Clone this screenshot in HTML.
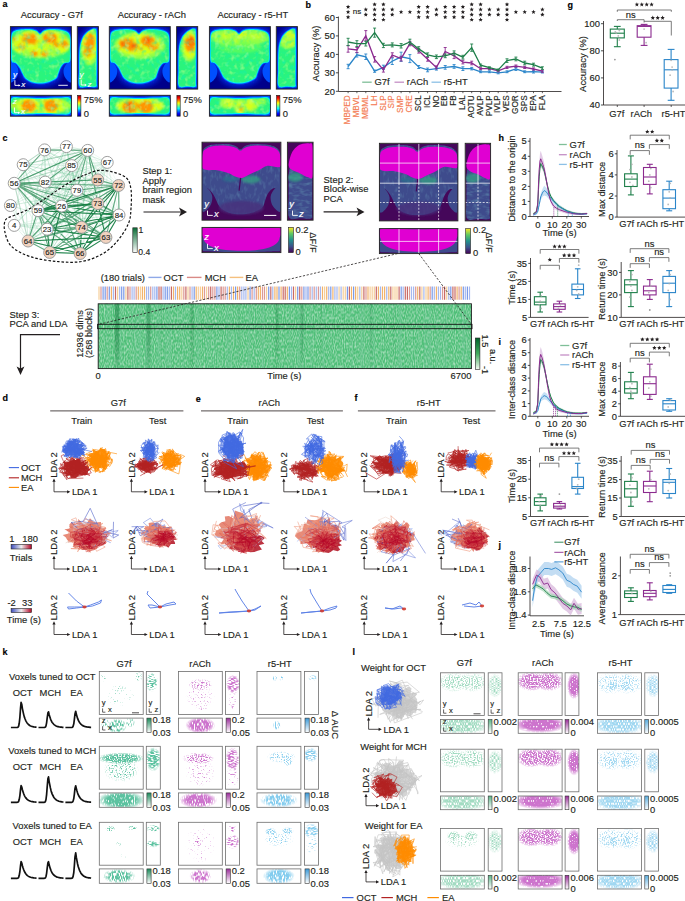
<!DOCTYPE html>
<html><head><meta charset="utf-8"><style>
html,body{margin:0;padding:0;background:#fff;}
svg{display:block;}
text{stroke:#231f20;stroke-width:0.15px;}
</style></head><body>
<svg width="685" height="901" viewBox="0 0 685 901" font-family="'Liberation Sans', sans-serif" font-size="9.4" fill="#231f20">
<defs><path id="st" d="M0.00 -2.15 L0.62 -0.70 L2.19 -0.56 L1.00 0.47 L1.35 2.01 L0.00 1.20 L-1.35 2.01 L-1.00 0.47 L-2.19 -0.56 L-0.62 -0.70Z" fill="#231f20"/>
<clipPath id="cp1"><rect x="10.4" y="26.6" width="61" height="62.5"/></clipPath>
<filter id="bl0_7" x="-50%" y="-50%" width="200%" height="200%"><feGaussianBlur stdDeviation="0.7"/></filter>
<filter id="bl1_3" x="-50%" y="-50%" width="200%" height="200%"><feGaussianBlur stdDeviation="1.3"/></filter>
<filter id="bl2_5" x="-50%" y="-50%" width="200%" height="200%"><feGaussianBlur stdDeviation="2.5"/></filter>
<clipPath id="cp1_in"><path d="M12.2 36 C12.7 33.1 13.3 32.9 14.7 31.9 C16 31 17.7 30.7 20.2 30.4 C22.6 30 26.7 29.8 29.3 30 C32 30.2 34.2 30.8 36 31.6 C37.8 32.4 38.7 34.7 40 34.7 C41.4 34.7 42.3 32.4 44 31.6 C45.6 30.8 47.4 30.2 50 30 C52.7 29.8 57.1 29.9 59.8 30.4 C62.6 30.8 64.9 31.4 66.5 32.5 C68.1 33.7 69 34.5 69.6 37.2 C70.1 40 69.9 45.2 69.9 49.1 C69.8 53 70.3 58.4 69.3 60.7 C68.2 63 65 61.7 63.5 62.9 C61.9 64 60.8 65.8 59.8 67.5 C58.8 69.3 58.4 71.8 57.7 73.5 C57 75.2 57.1 76.5 55.5 77.8 C54 79.2 50.8 80.5 48.2 81.3 C45.6 82.1 42.8 82.5 40 82.5 C37.3 82.5 34.1 82.1 31.8 81.3 C29.4 80.5 27.4 79.2 26 77.8 C24.5 76.5 24.1 75.2 23.2 73.5 C22.3 71.8 21.6 69.3 20.5 67.5 C19.3 65.8 17.8 64 16.5 62.9 C15.2 61.7 13.3 63 12.5 60.7 C11.8 58.4 12 53.2 11.9 49.1 C11.9 45 11.8 38.8 12.2 36Z"/></clipPath>
<filter id="nzA" x="0" y="0" width="100%" height="100%"><feTurbulence type="fractalNoise" baseFrequency="0.2" numOctaves="2" seed="3"/><feColorMatrix values="0 0 0 0 0.000 0 0 0 0 0.847 0 0 0 0 0.627 1.2 0 0 0 -0.6"/></filter>
<filter id="nzB" x="0" y="0" width="100%" height="100%"><feTurbulence type="fractalNoise" baseFrequency="0.2" numOctaves="2" seed="9"/><feColorMatrix values="0 0 0 0 0.565 0 0 0 0 1.000 0 0 0 0 0.251 1.6 0 0 0 -0.8"/></filter>
<clipPath id="cp2"><rect x="77.3" y="26.6" width="21.1" height="62.5"/></clipPath>
<clipPath id="cp2_in"><path d="M80.3 50.4 C80.7 45.1 81.6 42 82.8 39.1 C83.9 36.2 85.7 34.4 87.2 32.9 C88.8 31.3 90.8 30.3 92.1 29.7 C93.3 29.2 94.2 29.1 94.8 29.4 C95.4 29.7 95.7 28.9 95.9 31.6 C96.1 34.3 96 39.9 96.1 45.4 C96.1 50.8 96.1 58.1 96.1 64.1 C96 70.1 96 78 95.9 81.6 C95.7 85.2 96.6 85.2 95.2 86 C93.9 86.7 90.4 86.1 87.8 86 C85.3 85.9 81.4 88 80 85.3 C78.7 82.7 79.8 76.2 79.8 70.3 C79.9 64.5 79.8 55.6 80.3 50.4Z"/></clipPath>
<clipPath id="cp3"><rect x="10.4" y="95.3" width="61" height="20.9"/></clipPath>
<clipPath id="cp3_in"><path d="M12.2 99.5 C14 97.2 17.8 98.5 22.6 98.4 C27.4 98.4 34.8 99.1 40.9 99.1 C47 99.1 54.4 98.4 59.2 98.4 C64 98.5 67.8 97.2 69.6 99.5 C71.3 101.7 71.3 109.7 69.6 112 C67.8 114.4 64 113.3 59.2 113.5 C54.4 113.7 47 113.1 40.9 113.1 C34.8 113.1 27.4 113.7 22.6 113.5 C17.8 113.3 14 114.4 12.2 112 C10.5 109.7 10.5 101.7 12.2 99.5Z"/></clipPath>
<linearGradient id="jetv" x1="0" y1="1" x2="0" y2="0"><stop offset="0" stop-color="#00008f"/><stop offset="0.12" stop-color="#0000ff"/><stop offset="0.37" stop-color="#00ffff"/><stop offset="0.5" stop-color="#7fff7f"/><stop offset="0.63" stop-color="#ffff00"/><stop offset="0.87" stop-color="#ff0000"/><stop offset="1" stop-color="#8f0000"/></linearGradient>
<clipPath id="cp4"><rect x="109.3" y="26.6" width="61" height="62.5"/></clipPath>
<clipPath id="cp4_in"><path d="M111.1 36 C111.6 33.1 112.2 32.9 113.6 31.9 C114.9 31 116.6 30.7 119.1 30.4 C121.5 30 125.6 29.8 128.2 30 C130.9 30.2 133.1 30.8 134.9 31.6 C136.7 32.4 137.6 34.7 138.9 34.7 C140.3 34.7 141.2 32.4 142.8 31.6 C144.5 30.8 146.3 30.2 148.9 30 C151.6 29.8 156 29.9 158.7 30.4 C161.5 30.8 163.8 31.4 165.4 32.5 C167 33.7 167.9 34.5 168.5 37.2 C169 40 168.8 45.2 168.8 49.1 C168.7 53 169.2 58.4 168.2 60.7 C167.1 63 163.9 61.7 162.4 62.9 C160.8 64 159.7 65.8 158.7 67.5 C157.7 69.3 157.3 71.8 156.6 73.5 C155.9 75.2 156 76.5 154.4 77.8 C152.9 79.2 149.7 80.5 147.1 81.3 C144.5 82.1 141.7 82.5 138.9 82.5 C136.2 82.5 133 82.1 130.7 81.3 C128.3 80.5 126.3 79.2 124.9 77.8 C123.4 76.5 123 75.2 122.1 73.5 C121.2 71.8 120.5 69.3 119.4 67.5 C118.2 65.8 116.7 64 115.4 62.9 C114.1 61.7 112.2 63 111.4 60.7 C110.7 58.4 110.9 53.2 110.8 49.1 C110.8 45 110.7 38.8 111.1 36Z"/></clipPath>
<clipPath id="cp5"><rect x="176.6" y="26.6" width="21.1" height="62.5"/></clipPath>
<clipPath id="cp5_in"><path d="M179.6 50.4 C180 45.1 180.9 42 182.1 39.1 C183.2 36.2 185 34.4 186.5 32.9 C188.1 31.3 190.1 30.3 191.4 29.7 C192.6 29.2 193.5 29.1 194.1 29.4 C194.7 29.7 195 28.9 195.2 31.6 C195.4 34.3 195.3 39.9 195.4 45.4 C195.4 50.8 195.4 58.1 195.4 64.1 C195.3 70.1 195.3 78 195.2 81.6 C195 85.2 195.9 85.2 194.5 86 C193.2 86.7 189.7 86.1 187.2 86 C184.6 85.9 180.7 88 179.3 85.3 C178 82.7 179.1 76.2 179.1 70.3 C179.2 64.5 179.1 55.6 179.6 50.4Z"/></clipPath>
<clipPath id="cp6"><rect x="109.3" y="95.3" width="61" height="20.9"/></clipPath>
<clipPath id="cp6_in"><path d="M111.1 99.5 C112.9 97.2 116.7 98.5 121.5 98.4 C126.3 98.4 133.7 99.1 139.8 99.1 C145.9 99.1 153.3 98.4 158.1 98.4 C162.9 98.5 166.7 97.2 168.5 99.5 C170.2 101.7 170.2 109.7 168.5 112 C166.7 114.4 162.9 113.3 158.1 113.5 C153.3 113.7 145.9 113.1 139.8 113.1 C133.7 113.1 126.3 113.7 121.5 113.5 C116.7 113.3 112.9 114.4 111.1 112 C109.4 109.7 109.4 101.7 111.1 99.5Z"/></clipPath>
<linearGradient id="jetv" x1="0" y1="1" x2="0" y2="0"><stop offset="0" stop-color="#00008f"/><stop offset="0.12" stop-color="#0000ff"/><stop offset="0.37" stop-color="#00ffff"/><stop offset="0.5" stop-color="#7fff7f"/><stop offset="0.63" stop-color="#ffff00"/><stop offset="0.87" stop-color="#ff0000"/><stop offset="1" stop-color="#8f0000"/></linearGradient>
<clipPath id="cp7"><rect x="209.4" y="26.6" width="61" height="62.5"/></clipPath>
<clipPath id="cp7_in"><path d="M211.2 36 C211.7 33.1 212.3 32.9 213.7 31.9 C215 31 216.7 30.7 219.2 30.4 C221.6 30 225.7 29.8 228.3 30 C231 30.2 233.2 30.8 235 31.6 C236.8 32.4 237.7 34.7 239 34.7 C240.4 34.7 241.3 32.4 243 31.6 C244.6 30.8 246.4 30.2 249.1 30 C251.7 29.8 256.1 29.9 258.8 30.4 C261.6 30.8 263.9 31.4 265.5 32.5 C267.1 33.7 268 34.5 268.6 37.2 C269.1 40 268.9 45.2 268.9 49.1 C268.8 53 269.3 58.4 268.3 60.7 C267.2 63 264 61.7 262.5 62.9 C260.9 64 259.8 65.8 258.8 67.5 C257.8 69.3 257.4 71.8 256.7 73.5 C256 75.2 256.1 76.5 254.5 77.8 C253 79.2 249.8 80.5 247.2 81.3 C244.6 82.1 241.8 82.5 239 82.5 C236.3 82.5 233.1 82.1 230.8 81.3 C228.4 80.5 226.4 79.2 225 77.8 C223.5 76.5 223.1 75.2 222.2 73.5 C221.3 71.8 220.6 69.3 219.5 67.5 C218.3 65.8 216.8 64 215.5 62.9 C214.2 61.7 212.3 63 211.5 60.7 C210.8 58.4 211 53.2 210.9 49.1 C210.9 45 210.8 38.8 211.2 36Z"/></clipPath>
<clipPath id="cp8"><rect x="276.3" y="26.6" width="21.1" height="62.5"/></clipPath>
<clipPath id="cp8_in"><path d="M279.3 50.4 C279.7 45.1 280.6 42 281.8 39.1 C282.9 36.2 284.7 34.4 286.2 32.9 C287.8 31.3 289.8 30.3 291.1 29.7 C292.3 29.2 293.2 29.1 293.8 29.4 C294.4 29.7 294.7 28.9 294.9 31.6 C295.1 34.3 295 39.9 295.1 45.4 C295.1 50.8 295.1 58.1 295.1 64.1 C295 70.1 295 78 294.9 81.6 C294.7 85.2 295.6 85.2 294.2 86 C292.9 86.7 289.4 86.1 286.9 86 C284.3 85.9 280.4 88 279 85.3 C277.7 82.7 278.8 76.2 278.8 70.3 C278.9 64.5 278.8 55.6 279.3 50.4Z"/></clipPath>
<clipPath id="cp9"><rect x="209.4" y="95.3" width="61" height="20.9"/></clipPath>
<clipPath id="cp9_in"><path d="M211.2 99.5 C213 97.2 216.8 98.5 221.6 98.4 C226.4 98.4 233.8 99.1 239.9 99.1 C246 99.1 253.4 98.4 258.2 98.4 C263 98.5 266.8 97.2 268.6 99.5 C270.3 101.7 270.3 109.7 268.6 112 C266.8 114.4 263 113.3 258.2 113.5 C253.4 113.7 246 113.1 239.9 113.1 C233.8 113.1 226.4 113.7 221.6 113.5 C216.8 113.3 213 114.4 211.2 112 C209.5 109.7 209.5 101.7 211.2 99.5Z"/></clipPath>
<linearGradient id="jetv" x1="0" y1="1" x2="0" y2="0"><stop offset="0" stop-color="#00008f"/><stop offset="0.12" stop-color="#0000ff"/><stop offset="0.37" stop-color="#00ffff"/><stop offset="0.5" stop-color="#7fff7f"/><stop offset="0.63" stop-color="#ffff00"/><stop offset="0.87" stop-color="#ff0000"/><stop offset="1" stop-color="#8f0000"/></linearGradient>
<linearGradient id="gbar" x1="0" y1="1" x2="0" y2="0"><stop offset="0" stop-color="#fff"/><stop offset="1" stop-color="#0a6b35"/></linearGradient>
<clipPath id="cp10"><rect x="202" y="142.2" width="78.9" height="78"/></clipPath>
<filter id="bl0_5" x="-50%" y="-50%" width="200%" height="200%"><feGaussianBlur stdDeviation="0.5"/></filter>
<filter id="bl1_2" x="-50%" y="-50%" width="200%" height="200%"><feGaussianBlur stdDeviation="1.2"/></filter>
<clipPath id="cp10_b"><path d="M202.6 152.2 C203.3 148.3 204.5 148 206.3 146.7 C208.2 145.4 210.5 145 213.8 144.5 C217.2 144.1 222.8 143.8 226.5 144 C230.1 144.2 233.3 145 235.6 145.9 C237.9 146.8 238.8 149.5 240.3 149.5 C241.9 149.5 242.8 146.8 245 145.9 C247.2 145 249.9 144.2 253.5 144 C257.1 143.8 262.9 143.9 266.7 144.5 C270.5 145.2 273.9 146.1 276.2 147.7 C278.5 149.2 279.7 150.3 280.5 154.1 C281.3 157.8 280.9 164.9 280.9 170.3 C280.9 175.6 281.9 183.2 280.5 186.3 C279.1 189.3 274.5 187.4 272.4 188.7 C270.2 190 269 192 267.7 194.1 C266.5 196.3 265.8 199.1 264.9 201.4 C263.9 203.7 264.3 205.8 262 207.7 C259.8 209.6 255.2 211.7 251.6 212.8 C248 213.9 244.1 214.3 240.3 214.3 C236.6 214.3 232.3 213.9 229 212.8 C225.7 211.7 222.5 209.6 220.5 207.7 C218.4 205.8 218 203.7 216.8 201.4 C215.5 199.1 214.4 196.3 213 194.1 C211.5 192 210 190 208.2 188.7 C206.5 187.4 203.4 189.3 202.4 186.3 C201.4 183.2 202 176 202 170.3 C202 164.6 201.8 156.1 202.6 152.2Z"/></clipPath>
<filter id="nzV" x="0" y="0" width="100%" height="100%"><feTurbulence type="fractalNoise" baseFrequency="0.3 0.15" numOctaves="2" seed="5"/><feColorMatrix values="0 0 0 0 0.176 0 0 0 0 0.435 0 0 0 0 0.557 0.8 0 0 0 -0.4"/></filter>
<clipPath id="cp11"><rect x="287.4" y="142.2" width="25.7" height="78"/></clipPath>
<clipPath id="cp11_b"><path d="M289.2 170.3 C289.8 163.5 290.9 159.9 292.5 156.2 C294.2 152.5 296.8 150.1 298.9 148 C301.1 146 303.6 144.9 305.4 144.1 C307.2 143.4 308.4 143.4 309.5 143.8 C310.6 144.1 311.3 142.5 311.8 146.1 C312.3 149.7 312.2 158.4 312.3 165.6 C312.4 172.8 312.4 181.2 312.3 189 C312.3 196.8 312.2 207.5 312.1 212.4 C311.9 217.3 313.5 217.3 311.6 218.2 C309.6 219.2 304 218.4 300.2 218.2 C296.5 218.1 291.1 221 289.2 217.5 C287.3 213.9 288.7 204.7 288.7 196.8 C288.7 188.9 288.6 177 289.2 170.3Z"/></clipPath>
<filter id="nzV2" x="0" y="0" width="100%" height="100%"><feTurbulence type="fractalNoise" baseFrequency="0.15 0.3" numOctaves="2" seed="6"/><feColorMatrix values="0 0 0 0 0.176 0 0 0 0 0.498 0 0 0 0 0.557 1 0 0 0 -0.45"/></filter>
<clipPath id="cp12"><rect x="202" y="227.4" width="78.9" height="25.2"/></clipPath>
<linearGradient id="virv" x1="0" y1="1" x2="0" y2="0"><stop offset="0" stop-color="#440154"/><stop offset="0.25" stop-color="#3b528b"/><stop offset="0.5" stop-color="#21918c"/><stop offset="0.75" stop-color="#5ec962"/><stop offset="1" stop-color="#fde725"/></linearGradient>
<clipPath id="cp13"><rect x="379.4" y="143.3" width="78.5" height="77.6"/></clipPath>
<clipPath id="cp13_b"><path d="M379.9 153.2 C380.7 149.3 381.8 149.1 383.7 147.8 C385.6 146.5 387.8 146.1 391.2 145.6 C394.5 145.2 400.1 144.9 403.7 145.1 C407.3 145.3 410.5 146 412.8 146.9 C415.1 147.9 416 150.5 417.6 150.5 C419.1 150.5 420 147.9 422.2 146.9 C424.4 146 427.1 145.3 430.7 145.1 C434.3 144.9 440 145 443.8 145.6 C447.5 146.2 450.9 147.2 453.2 148.7 C455.5 150.3 456.7 151.3 457.5 155.1 C458.3 158.8 457.9 165.9 457.9 171.2 C457.9 176.6 458.9 184.1 457.5 187.1 C456.1 190.2 451.5 188.2 449.4 189.5 C447.3 190.9 446 192.9 444.8 195 C443.5 197.1 442.9 199.9 442 202.2 C441 204.4 441.3 206.6 439.1 208.5 C436.9 210.4 432.4 212.4 428.8 213.5 C425.2 214.6 421.3 215.1 417.6 215.1 C413.8 215.1 409.5 214.6 406.2 213.5 C402.9 212.4 399.8 210.4 397.8 208.5 C395.7 206.6 395.3 204.4 394.1 202.2 C392.8 199.9 391.7 197.1 390.3 195 C388.9 192.9 387.4 190.9 385.6 189.5 C383.8 188.2 380.8 190.2 379.8 187.1 C378.8 184.1 379.4 176.9 379.4 171.2 C379.4 165.6 379.2 157.1 379.9 153.2Z"/></clipPath>
<clipPath id="cp14"><rect x="465.2" y="143.3" width="25.4" height="77.6"/></clipPath>
<clipPath id="cp14_b"><path d="M467 171.2 C467.6 164.5 468.7 161 470.3 157.3 C471.9 153.6 474.5 151.1 476.6 149.1 C478.7 147.1 481.2 146 483 145.2 C484.7 144.5 486 144.5 487 144.9 C488.1 145.2 488.9 143.6 489.3 147.2 C489.8 150.8 489.8 159.5 489.8 166.6 C489.9 173.7 489.9 182.1 489.8 189.9 C489.8 197.6 489.7 208.3 489.6 213.1 C489.5 218 491 218 489.1 219 C487.1 219.9 481.6 219.1 477.9 219 C474.2 218.8 468.9 221.7 467 218.2 C465.1 214.6 466.5 205.4 466.5 197.6 C466.5 189.8 466.3 178 467 171.2Z"/></clipPath>
<clipPath id="cp15"><rect x="379.4" y="228.6" width="78.5" height="25"/></clipPath>
<linearGradient id="virv" x1="0" y1="1" x2="0" y2="0"><stop offset="0" stop-color="#440154"/><stop offset="0.25" stop-color="#3b528b"/><stop offset="0.5" stop-color="#21918c"/><stop offset="0.75" stop-color="#5ec962"/><stop offset="1" stop-color="#fde725"/></linearGradient>
<filter id="nzH1" x="0" y="0" width="100%" height="100%"><feTurbulence type="fractalNoise" baseFrequency="0.9 0.35" numOctaves="1" seed="11"/><feColorMatrix values="0 0 0 0 1.000 0 0 0 0 1.000 0 0 0 0 1.000 1.2 0 0 0 -0.45"/></filter>
<filter id="nzH2" x="0" y="0" width="100%" height="100%"><feTurbulence type="fractalNoise" baseFrequency="0.35 0.004" numOctaves="1" seed="4"/><feColorMatrix values="0 0 0 0 0.165 0 0 0 0 0.565 0 0 0 0 0.314 1.6 0 0 0 -0.75"/></filter>
<linearGradient id="bandg" x1="0" y1="0" x2="0" y2="1"><stop offset="0" stop-color="#137a3c"/><stop offset="0.6" stop-color="#137a3c" stop-opacity="0.8"/><stop offset="1" stop-color="#137a3c" stop-opacity="0.25"/></linearGradient>
<linearGradient id="gbar2" x1="0" y1="1" x2="0" y2="0"><stop offset="0" stop-color="#f4fbf2"/><stop offset="0.5" stop-color="#41ab5d"/><stop offset="1" stop-color="#00622a"/></linearGradient>
<linearGradient id="cw" x1="0" y1="0" x2="1" y2="0"><stop offset="0" stop-color="#3b4cc0"/><stop offset="0.5" stop-color="#eeeeee"/><stop offset="1" stop-color="#b40426"/></linearGradient>
<radialGradient id="rgm"><stop offset="0" stop-color="#fff"/><stop offset="0.6" stop-color="#fff"/><stop offset="1" stop-color="#fff" stop-opacity="0"/></radialGradient>
<mask id="spc1" maskUnits="userSpaceOnUse" x="99.3" y="671.5" width="43.9" height="42.9"><ellipse cx="138.8" cy="676.6" rx="4" ry="4.9" fill="url(#rgm)"/><ellipse cx="119.1" cy="688.7" rx="7.6" ry="3.9" fill="url(#rgm)"/></mask>
<filter id="sp1b8a5a_m3_0_1_075" x="0" y="0" width="100%" height="100%"><feTurbulence type="fractalNoise" baseFrequency="0.75" numOctaves="1" seed="1"/><feColorMatrix values="0 0 0 0 0.106 0 0 0 0 0.541 0 0 0 0 0.353 5.5 0 0 0 -3"/></filter>
<mask id="spc2" maskUnits="userSpaceOnUse" x="99.3" y="671.5" width="43.9" height="42.9"><ellipse cx="103.7" cy="677.9" rx="4" ry="3.9" fill="url(#rgm)"/></mask>
<filter id="sp1b8a5a_m3_3_1_075" x="0" y="0" width="100%" height="100%"><feTurbulence type="fractalNoise" baseFrequency="0.75" numOctaves="1" seed="1"/><feColorMatrix values="0 0 0 0 0.106 0 0 0 0 0.541 0 0 0 0 0.353 5.5 0 0 0 -3.3"/></filter>
<mask id="spc3" maskUnits="userSpaceOnUse" x="99.3" y="671.5" width="43.9" height="42.9"><ellipse cx="121.2" cy="697.2" rx="15.1" ry="9.9" fill="url(#rgm)"/></mask>
<filter id="sp1b8a5a_m3_5_1_075" x="0" y="0" width="100%" height="100%"><feTurbulence type="fractalNoise" baseFrequency="0.75" numOctaves="1" seed="1"/><feColorMatrix values="0 0 0 0 0.106 0 0 0 0 0.541 0 0 0 0 0.353 5.5 0 0 0 -3.5"/></filter>
<mask id="spc4" maskUnits="userSpaceOnUse" x="146.3" y="671.5" width="14" height="42.9"><ellipse cx="151.9" cy="682.2" rx="6.4" ry="9.9" fill="url(#rgm)"/></mask>
<filter id="sp1b8a5a_m2_5_11_035_11" x="0" y="0" width="100%" height="100%"><feTurbulence type="fractalNoise" baseFrequency="0.35 1.1" numOctaves="1" seed="11"/><feColorMatrix values="0 0 0 0 0.106 0 0 0 0 0.541 0 0 0 0 0.353 5.5 0 0 0 -2.5"/></filter>
<mask id="spc5" maskUnits="userSpaceOnUse" x="99.3" y="718.1" width="43.9" height="14.4"><ellipse cx="116.9" cy="726" rx="10.1" ry="7.5" fill="url(#rgm)"/></mask>
<filter id="sp1b8a5a_m2_3_21_11_03" x="0" y="0" width="100%" height="100%"><feTurbulence type="fractalNoise" baseFrequency="1.1 0.3" numOctaves="1" seed="21"/><feColorMatrix values="0 0 0 0 0.106 0 0 0 0 0.541 0 0 0 0 0.353 5.5 0 0 0 -2.3"/></filter>
<mask id="spc6" maskUnits="userSpaceOnUse" x="99.3" y="718.1" width="43.9" height="14.4"><ellipse cx="130" cy="722.4" rx="5" ry="5" fill="url(#rgm)"/></mask>
<filter id="sp1b8a5a_m2_6_21_11_03" x="0" y="0" width="100%" height="100%"><feTurbulence type="fractalNoise" baseFrequency="1.1 0.3" numOctaves="1" seed="21"/><feColorMatrix values="0 0 0 0 0.106 0 0 0 0 0.541 0 0 0 0 0.353 5.5 0 0 0 -2.6"/></filter>
<mask id="spc7" maskUnits="userSpaceOnUse" x="99.3" y="718.1" width="43.9" height="14.4"><ellipse cx="105.9" cy="723.9" rx="5" ry="5" fill="url(#rgm)"/></mask>
<filter id="sp1b8a5a_m2_8_21_11_03" x="0" y="0" width="100%" height="100%"><feTurbulence type="fractalNoise" baseFrequency="1.1 0.3" numOctaves="1" seed="21"/><feColorMatrix values="0 0 0 0 0.106 0 0 0 0 0.541 0 0 0 0 0.353 5.5 0 0 0 -2.8"/></filter>
<linearGradient id="kb0" x1="0" y1="1" x2="0" y2="0"><stop offset="0" stop-color="#fff"/><stop offset="1" stop-color="#1b8a5a"/></linearGradient>
<mask id="spc8" maskUnits="userSpaceOnUse" x="178.4" y="671.5" width="43.9" height="42.9"><ellipse cx="200.3" cy="684.4" rx="12.6" ry="5.9" fill="url(#rgm)"/></mask>
<filter id="sp9b2d9b_m2_7_2_075" x="0" y="0" width="100%" height="100%"><feTurbulence type="fractalNoise" baseFrequency="0.75" numOctaves="1" seed="2"/><feColorMatrix values="0 0 0 0 0.608 0 0 0 0 0.176 0 0 0 0 0.608 5.5 0 0 0 -2.7"/></filter>
<mask id="spc9" maskUnits="userSpaceOnUse" x="178.4" y="671.5" width="43.9" height="42.9"><ellipse cx="200.3" cy="697.2" rx="15.1" ry="12.3" fill="url(#rgm)"/></mask>
<filter id="sp9b2d9b_m3_3_2_075" x="0" y="0" width="100%" height="100%"><feTurbulence type="fractalNoise" baseFrequency="0.75" numOctaves="1" seed="2"/><feColorMatrix values="0 0 0 0 0.608 0 0 0 0 0.176 0 0 0 0 0.608 5.5 0 0 0 -3.3"/></filter>
<mask id="spc10" maskUnits="userSpaceOnUse" x="178.4" y="671.5" width="43.9" height="42.9"><ellipse cx="202.5" cy="708" rx="5" ry="3.9" fill="url(#rgm)"/></mask>
<filter id="sp9b2d9b_m3_2_2_075" x="0" y="0" width="100%" height="100%"><feTurbulence type="fractalNoise" baseFrequency="0.75" numOctaves="1" seed="2"/><feColorMatrix values="0 0 0 0 0.608 0 0 0 0 0.176 0 0 0 0 0.608 5.5 0 0 0 -3.2"/></filter>
<mask id="spc11" maskUnits="userSpaceOnUse" x="225.5" y="671.5" width="14" height="42.9"><ellipse cx="233.2" cy="684.4" rx="7.2" ry="9.9" fill="url(#rgm)"/></mask>
<filter id="sp9b2d9b_m2_2_12_035_11" x="0" y="0" width="100%" height="100%"><feTurbulence type="fractalNoise" baseFrequency="0.35 1.1" numOctaves="1" seed="12"/><feColorMatrix values="0 0 0 0 0.608 0 0 0 0 0.176 0 0 0 0 0.608 5.5 0 0 0 -2.2"/></filter>
<mask id="spc12" maskUnits="userSpaceOnUse" x="225.5" y="671.5" width="14" height="42.9"><ellipse cx="232.5" cy="701.5" rx="4.8" ry="9.9" fill="url(#rgm)"/></mask>
<filter id="sp9b2d9b_m3_2_12_035_11" x="0" y="0" width="100%" height="100%"><feTurbulence type="fractalNoise" baseFrequency="0.35 1.1" numOctaves="1" seed="12"/><feColorMatrix values="0 0 0 0 0.608 0 0 0 0 0.176 0 0 0 0 0.608 5.5 0 0 0 -3.2"/></filter>
<mask id="spc13" maskUnits="userSpaceOnUse" x="178.4" y="718.1" width="43.9" height="14.4"><ellipse cx="200.3" cy="725.3" rx="15.1" ry="8.3" fill="url(#rgm)"/></mask>
<filter id="sp9b2d9b_m1_8_22_11_03" x="0" y="0" width="100%" height="100%"><feTurbulence type="fractalNoise" baseFrequency="1.1 0.3" numOctaves="1" seed="22"/><feColorMatrix values="0 0 0 0 0.608 0 0 0 0 0.176 0 0 0 0 0.608 5.5 0 0 0 -1.8"/></filter>
<linearGradient id="kb1" x1="0" y1="1" x2="0" y2="0"><stop offset="0" stop-color="#fff"/><stop offset="1" stop-color="#9b2d9b"/></linearGradient>
<mask id="spc14" maskUnits="userSpaceOnUse" x="257" y="671.5" width="43.9" height="42.9"><ellipse cx="274.6" cy="678.4" rx="3" ry="2.5" fill="url(#rgm)"/><ellipse cx="281.1" cy="678.4" rx="2.5" ry="2.5" fill="url(#rgm)"/></mask>
<filter id="sp3a9ad9_m2_6_3_075" x="0" y="0" width="100%" height="100%"><feTurbulence type="fractalNoise" baseFrequency="0.75" numOctaves="1" seed="3"/><feColorMatrix values="0 0 0 0 0.227 0 0 0 0 0.604 0 0 0 0 0.851 5.5 0 0 0 -2.6"/></filter>
<mask id="spc15" maskUnits="userSpaceOnUse" x="304.4" y="671.5" width="14" height="42.9"><ellipse cx="312.8" cy="677.9" rx="4.8" ry="3" fill="url(#rgm)"/></mask>
<filter id="sp3a9ad9_m2_6_13_035_11" x="0" y="0" width="100%" height="100%"><feTurbulence type="fractalNoise" baseFrequency="0.35 1.1" numOctaves="1" seed="13"/><feColorMatrix values="0 0 0 0 0.227 0 0 0 0 0.604 0 0 0 0 0.851 5.5 0 0 0 -2.6"/></filter>
<mask id="spc16" maskUnits="userSpaceOnUse" x="257" y="718.1" width="43.9" height="14.4"><ellipse cx="276.8" cy="725.3" rx="4" ry="5" fill="url(#rgm)"/></mask>
<filter id="sp3a9ad9_m2_4_23_11_03" x="0" y="0" width="100%" height="100%"><feTurbulence type="fractalNoise" baseFrequency="1.1 0.3" numOctaves="1" seed="23"/><feColorMatrix values="0 0 0 0 0.227 0 0 0 0 0.604 0 0 0 0 0.851 5.5 0 0 0 -2.4"/></filter>
<linearGradient id="kb2" x1="0" y1="1" x2="0" y2="0"><stop offset="0" stop-color="#fff"/><stop offset="1" stop-color="#3a9ad9"/></linearGradient>
<mask id="spc17" maskUnits="userSpaceOnUse" x="99.3" y="746.3" width="43.9" height="42.9"><ellipse cx="121.2" cy="758.3" rx="24.2" ry="5.9" fill="url(#rgm)"/></mask>
<filter id="sp1b8a5a_m1_9_4_075" x="0" y="0" width="100%" height="100%"><feTurbulence type="fractalNoise" baseFrequency="0.75" numOctaves="1" seed="4"/><feColorMatrix values="0 0 0 0 0.106 0 0 0 0 0.541 0 0 0 0 0.353 5.5 0 0 0 -1.9"/></filter>
<mask id="spc18" maskUnits="userSpaceOnUse" x="99.3" y="746.3" width="43.9" height="42.9"><ellipse cx="121.2" cy="769.9" rx="17.7" ry="12.3" fill="url(#rgm)"/></mask>
<filter id="sp1b8a5a_m2_8_4_075" x="0" y="0" width="100%" height="100%"><feTurbulence type="fractalNoise" baseFrequency="0.75" numOctaves="1" seed="4"/><feColorMatrix values="0 0 0 0 0.106 0 0 0 0 0.541 0 0 0 0 0.353 5.5 0 0 0 -2.8"/></filter>
<mask id="spc19" maskUnits="userSpaceOnUse" x="146.3" y="746.3" width="14" height="42.9"><ellipse cx="153.3" cy="759.2" rx="8" ry="12.3" fill="url(#rgm)"/></mask>
<filter id="sp1b8a5a_m2_0_14_035_11" x="0" y="0" width="100%" height="100%"><feTurbulence type="fractalNoise" baseFrequency="0.35 1.1" numOctaves="1" seed="14"/><feColorMatrix values="0 0 0 0 0.106 0 0 0 0 0.541 0 0 0 0 0.353 5.5 0 0 0 -2"/></filter>
<mask id="spc20" maskUnits="userSpaceOnUse" x="99.3" y="792.9" width="43.9" height="14.4"><ellipse cx="121.2" cy="800.1" rx="24.2" ry="9.1" fill="url(#rgm)"/></mask>
<filter id="sp1b8a5a_m1_5_24_11_03" x="0" y="0" width="100%" height="100%"><feTurbulence type="fractalNoise" baseFrequency="1.1 0.3" numOctaves="1" seed="24"/><feColorMatrix values="0 0 0 0 0.106 0 0 0 0 0.541 0 0 0 0 0.353 5.5 0 0 0 -1.5"/></filter>
<linearGradient id="kb0" x1="0" y1="1" x2="0" y2="0"><stop offset="0" stop-color="#fff"/><stop offset="1" stop-color="#1b8a5a"/></linearGradient>
<mask id="spc21" maskUnits="userSpaceOnUse" x="178.4" y="746.3" width="43.9" height="42.9"><ellipse cx="198.2" cy="758.3" rx="16.2" ry="5.9" fill="url(#rgm)"/></mask>
<filter id="sp9b2d9b_m2_5_5_075" x="0" y="0" width="100%" height="100%"><feTurbulence type="fractalNoise" baseFrequency="0.75" numOctaves="1" seed="5"/><feColorMatrix values="0 0 0 0 0.608 0 0 0 0 0.176 0 0 0 0 0.608 5.5 0 0 0 -2.5"/></filter>
<mask id="spc22" maskUnits="userSpaceOnUse" x="178.4" y="746.3" width="43.9" height="42.9"><ellipse cx="200.3" cy="772" rx="15.1" ry="14.8" fill="url(#rgm)"/></mask>
<filter id="sp9b2d9b_m3_3_5_075" x="0" y="0" width="100%" height="100%"><feTurbulence type="fractalNoise" baseFrequency="0.75" numOctaves="1" seed="5"/><feColorMatrix values="0 0 0 0 0.608 0 0 0 0 0.176 0 0 0 0 0.608 5.5 0 0 0 -3.3"/></filter>
<mask id="spc23" maskUnits="userSpaceOnUse" x="225.5" y="746.3" width="14" height="42.9"><ellipse cx="232.5" cy="759.2" rx="7.2" ry="12.3" fill="url(#rgm)"/></mask>
<filter id="sp9b2d9b_m2_3_15_035_11" x="0" y="0" width="100%" height="100%"><feTurbulence type="fractalNoise" baseFrequency="0.35 1.1" numOctaves="1" seed="15"/><feColorMatrix values="0 0 0 0 0.608 0 0 0 0 0.176 0 0 0 0 0.608 5.5 0 0 0 -2.3"/></filter>
<mask id="spc24" maskUnits="userSpaceOnUse" x="225.5" y="746.3" width="14" height="42.9"><ellipse cx="232.5" cy="776.3" rx="6.4" ry="12.3" fill="url(#rgm)"/></mask>
<filter id="sp9b2d9b_m3_1_15_035_11" x="0" y="0" width="100%" height="100%"><feTurbulence type="fractalNoise" baseFrequency="0.35 1.1" numOctaves="1" seed="15"/><feColorMatrix values="0 0 0 0 0.608 0 0 0 0 0.176 0 0 0 0 0.608 5.5 0 0 0 -3.1"/></filter>
<mask id="spc25" maskUnits="userSpaceOnUse" x="178.4" y="792.9" width="43.9" height="14.4"><ellipse cx="198.2" cy="800.1" rx="19.2" ry="8.3" fill="url(#rgm)"/></mask>
<filter id="sp9b2d9b_m1_7_25_11_03" x="0" y="0" width="100%" height="100%"><feTurbulence type="fractalNoise" baseFrequency="1.1 0.3" numOctaves="1" seed="25"/><feColorMatrix values="0 0 0 0 0.608 0 0 0 0 0.176 0 0 0 0 0.608 5.5 0 0 0 -1.7"/></filter>
<linearGradient id="kb1" x1="0" y1="1" x2="0" y2="0"><stop offset="0" stop-color="#fff"/><stop offset="1" stop-color="#9b2d9b"/></linearGradient>
<mask id="spc26" maskUnits="userSpaceOnUse" x="257" y="746.3" width="43.9" height="42.9"><ellipse cx="281.1" cy="757" rx="15.1" ry="5.9" fill="url(#rgm)"/></mask>
<filter id="sp3a9ad9_m2_8_6_075" x="0" y="0" width="100%" height="100%"><feTurbulence type="fractalNoise" baseFrequency="0.75" numOctaves="1" seed="6"/><feColorMatrix values="0 0 0 0 0.227 0 0 0 0 0.604 0 0 0 0 0.851 5.5 0 0 0 -2.8"/></filter>
<mask id="spc27" maskUnits="userSpaceOnUse" x="257" y="746.3" width="43.9" height="42.9"><ellipse cx="287.7" cy="761.3" rx="5" ry="4.9" fill="url(#rgm)"/></mask>
<filter id="sp3a9ad9_m2_6_6_075" x="0" y="0" width="100%" height="100%"><feTurbulence type="fractalNoise" baseFrequency="0.75" numOctaves="1" seed="6"/><feColorMatrix values="0 0 0 0 0.227 0 0 0 0 0.604 0 0 0 0 0.851 5.5 0 0 0 -2.6"/></filter>
<mask id="spc28" maskUnits="userSpaceOnUse" x="304.4" y="746.3" width="14" height="42.9"><ellipse cx="310.7" cy="754.9" rx="7.2" ry="7.4" fill="url(#rgm)"/></mask>
<filter id="sp3a9ad9_m2_3_16_035_11" x="0" y="0" width="100%" height="100%"><feTurbulence type="fractalNoise" baseFrequency="0.35 1.1" numOctaves="1" seed="16"/><feColorMatrix values="0 0 0 0 0.227 0 0 0 0 0.604 0 0 0 0 0.851 5.5 0 0 0 -2.3"/></filter>
<mask id="spc29" maskUnits="userSpaceOnUse" x="257" y="792.9" width="43.9" height="14.4"><ellipse cx="278.9" cy="800.1" rx="19.2" ry="7.5" fill="url(#rgm)"/></mask>
<filter id="sp3a9ad9_m2_0_26_11_03" x="0" y="0" width="100%" height="100%"><feTurbulence type="fractalNoise" baseFrequency="1.1 0.3" numOctaves="1" seed="26"/><feColorMatrix values="0 0 0 0 0.227 0 0 0 0 0.604 0 0 0 0 0.851 5.5 0 0 0 -2"/></filter>
<linearGradient id="kb2" x1="0" y1="1" x2="0" y2="0"><stop offset="0" stop-color="#fff"/><stop offset="1" stop-color="#3a9ad9"/></linearGradient>
<mask id="spc30" maskUnits="userSpaceOnUse" x="99.3" y="822.3" width="43.9" height="42.9"><ellipse cx="110.3" cy="828.7" rx="5" ry="3" fill="url(#rgm)"/><ellipse cx="132.2" cy="827.9" rx="5" ry="2.5" fill="url(#rgm)"/><ellipse cx="119.1" cy="843.8" rx="3" ry="2" fill="url(#rgm)"/></mask>
<filter id="sp1b8a5a_m2_6_7_075" x="0" y="0" width="100%" height="100%"><feTurbulence type="fractalNoise" baseFrequency="0.75" numOctaves="1" seed="7"/><feColorMatrix values="0 0 0 0 0.106 0 0 0 0 0.541 0 0 0 0 0.353 5.5 0 0 0 -2.6"/></filter>
<mask id="spc31" maskUnits="userSpaceOnUse" x="99.3" y="822.3" width="43.9" height="42.9"><ellipse cx="121.2" cy="856.6" rx="5" ry="4.9" fill="url(#rgm)"/></mask>
<filter id="sp1b8a5a_m3_6_7_075" x="0" y="0" width="100%" height="100%"><feTurbulence type="fractalNoise" baseFrequency="0.75" numOctaves="1" seed="7"/><feColorMatrix values="0 0 0 0 0.106 0 0 0 0 0.541 0 0 0 0 0.353 5.5 0 0 0 -3.6"/></filter>
<mask id="spc32" maskUnits="userSpaceOnUse" x="146.3" y="822.3" width="14" height="42.9"><ellipse cx="153.3" cy="828.7" rx="7.2" ry="3.9" fill="url(#rgm)"/><ellipse cx="153.3" cy="843.8" rx="7.2" ry="3.9" fill="url(#rgm)"/></mask>
<filter id="sp1b8a5a_m2_5_17_035_11" x="0" y="0" width="100%" height="100%"><feTurbulence type="fractalNoise" baseFrequency="0.35 1.1" numOctaves="1" seed="17"/><feColorMatrix values="0 0 0 0 0.106 0 0 0 0 0.541 0 0 0 0 0.353 5.5 0 0 0 -2.5"/></filter>
<mask id="spc33" maskUnits="userSpaceOnUse" x="99.3" y="868.9" width="43.9" height="14.4"><ellipse cx="119.1" cy="876.1" rx="16.7" ry="7.5" fill="url(#rgm)"/></mask>
<filter id="sp1b8a5a_m2_1_27_11_03" x="0" y="0" width="100%" height="100%"><feTurbulence type="fractalNoise" baseFrequency="1.1 0.3" numOctaves="1" seed="27"/><feColorMatrix values="0 0 0 0 0.106 0 0 0 0 0.541 0 0 0 0 0.353 5.5 0 0 0 -2.1"/></filter>
<linearGradient id="kb0" x1="0" y1="1" x2="0" y2="0"><stop offset="0" stop-color="#fff"/><stop offset="1" stop-color="#1b8a5a"/></linearGradient>
<mask id="spc34" maskUnits="userSpaceOnUse" x="178.4" y="822.3" width="43.9" height="42.9"><ellipse cx="198.2" cy="841.6" rx="4" ry="4.9" fill="url(#rgm)"/></mask>
<filter id="sp9b2d9b_m2_8_8_075" x="0" y="0" width="100%" height="100%"><feTurbulence type="fractalNoise" baseFrequency="0.75" numOctaves="1" seed="8"/><feColorMatrix values="0 0 0 0 0.608 0 0 0 0 0.176 0 0 0 0 0.608 5.5 0 0 0 -2.8"/></filter>
<mask id="spc35" maskUnits="userSpaceOnUse" x="178.4" y="822.3" width="43.9" height="42.9"><ellipse cx="200.3" cy="843.8" rx="15.1" ry="19.7" fill="url(#rgm)"/></mask>
<filter id="sp9b2d9b_m3_5_8_075" x="0" y="0" width="100%" height="100%"><feTurbulence type="fractalNoise" baseFrequency="0.75" numOctaves="1" seed="8"/><feColorMatrix values="0 0 0 0 0.608 0 0 0 0 0.176 0 0 0 0 0.608 5.5 0 0 0 -3.5"/></filter>
<mask id="spc36" maskUnits="userSpaceOnUse" x="225.5" y="822.3" width="14" height="42.9"><ellipse cx="232.5" cy="841.6" rx="7.2" ry="7.4" fill="url(#rgm)"/></mask>
<filter id="sp9b2d9b_m2_5_18_035_11" x="0" y="0" width="100%" height="100%"><feTurbulence type="fractalNoise" baseFrequency="0.35 1.1" numOctaves="1" seed="18"/><feColorMatrix values="0 0 0 0 0.608 0 0 0 0 0.176 0 0 0 0 0.608 5.5 0 0 0 -2.5"/></filter>
<mask id="spc37" maskUnits="userSpaceOnUse" x="225.5" y="822.3" width="14" height="42.9"><ellipse cx="232.5" cy="828.7" rx="4.8" ry="3.9" fill="url(#rgm)"/></mask>
<filter id="sp9b2d9b_m2_8_18_035_11" x="0" y="0" width="100%" height="100%"><feTurbulence type="fractalNoise" baseFrequency="0.35 1.1" numOctaves="1" seed="18"/><feColorMatrix values="0 0 0 0 0.608 0 0 0 0 0.176 0 0 0 0 0.608 5.5 0 0 0 -2.8"/></filter>
<mask id="spc38" maskUnits="userSpaceOnUse" x="178.4" y="868.9" width="43.9" height="14.4"><ellipse cx="200.3" cy="876.1" rx="11.1" ry="7.5" fill="url(#rgm)"/></mask>
<filter id="sp9b2d9b_m2_1_28_11_03" x="0" y="0" width="100%" height="100%"><feTurbulence type="fractalNoise" baseFrequency="1.1 0.3" numOctaves="1" seed="28"/><feColorMatrix values="0 0 0 0 0.608 0 0 0 0 0.176 0 0 0 0 0.608 5.5 0 0 0 -2.1"/></filter>
<linearGradient id="kb1" x1="0" y1="1" x2="0" y2="0"><stop offset="0" stop-color="#fff"/><stop offset="1" stop-color="#9b2d9b"/></linearGradient>
<mask id="spc39" maskUnits="userSpaceOnUse" x="257" y="822.3" width="43.9" height="42.9"><ellipse cx="271" cy="831.7" rx="6.1" ry="3.9" fill="url(#rgm)"/><ellipse cx="287.7" cy="830.9" rx="6.1" ry="3.9" fill="url(#rgm)"/></mask>
<filter id="sp3a9ad9_m2_4_9_075" x="0" y="0" width="100%" height="100%"><feTurbulence type="fractalNoise" baseFrequency="0.75" numOctaves="1" seed="9"/><feColorMatrix values="0 0 0 0 0.227 0 0 0 0 0.604 0 0 0 0 0.851 5.5 0 0 0 -2.4"/></filter>
<mask id="spc40" maskUnits="userSpaceOnUse" x="257" y="822.3" width="43.9" height="42.9"><ellipse cx="278.9" cy="839.5" rx="15.1" ry="7.4" fill="url(#rgm)"/></mask>
<filter id="sp3a9ad9_m3_0_9_075" x="0" y="0" width="100%" height="100%"><feTurbulence type="fractalNoise" baseFrequency="0.75" numOctaves="1" seed="9"/><feColorMatrix values="0 0 0 0 0.227 0 0 0 0 0.604 0 0 0 0 0.851 5.5 0 0 0 -3"/></filter>
<mask id="spc41" maskUnits="userSpaceOnUse" x="304.4" y="822.3" width="14" height="42.9"><ellipse cx="311.4" cy="830.9" rx="8" ry="7.4" fill="url(#rgm)"/></mask>
<filter id="sp3a9ad9_m2_2_19_035_11" x="0" y="0" width="100%" height="100%"><feTurbulence type="fractalNoise" baseFrequency="0.35 1.1" numOctaves="1" seed="19"/><feColorMatrix values="0 0 0 0 0.227 0 0 0 0 0.604 0 0 0 0 0.851 5.5 0 0 0 -2.2"/></filter>
<mask id="spc42" maskUnits="userSpaceOnUse" x="304.4" y="822.3" width="14" height="42.9"><ellipse cx="311.4" cy="843.8" rx="6.4" ry="9.9" fill="url(#rgm)"/></mask>
<filter id="sp3a9ad9_m3_0_19_035_11" x="0" y="0" width="100%" height="100%"><feTurbulence type="fractalNoise" baseFrequency="0.35 1.1" numOctaves="1" seed="19"/><feColorMatrix values="0 0 0 0 0.227 0 0 0 0 0.604 0 0 0 0 0.851 5.5 0 0 0 -3"/></filter>
<mask id="spc43" maskUnits="userSpaceOnUse" x="257" y="868.9" width="43.9" height="14.4"><ellipse cx="278.9" cy="876.1" rx="16.2" ry="8.3" fill="url(#rgm)"/></mask>
<filter id="sp3a9ad9_m1_8_29_11_03" x="0" y="0" width="100%" height="100%"><feTurbulence type="fractalNoise" baseFrequency="1.1 0.3" numOctaves="1" seed="29"/><feColorMatrix values="0 0 0 0 0.227 0 0 0 0 0.604 0 0 0 0 0.851 5.5 0 0 0 -1.8"/></filter>
<linearGradient id="kb2" x1="0" y1="1" x2="0" y2="0"><stop offset="0" stop-color="#fff"/><stop offset="1" stop-color="#3a9ad9"/></linearGradient>
<mask id="spc44" maskUnits="userSpaceOnUse" x="440.4" y="672.8" width="43.9" height="42.6"><ellipse cx="453.6" cy="682.2" rx="15.1" ry="9.8" fill="url(#rgm)"/><ellipse cx="472" cy="682.2" rx="15.1" ry="9.8" fill="url(#rgm)"/></mask>
<filter id="sp5cb589_m2_5_40_075" x="0" y="0" width="100%" height="100%"><feTurbulence type="fractalNoise" baseFrequency="0.75" numOctaves="1" seed="40"/><feColorMatrix values="0 0 0 0 0.361 0 0 0 0 0.710 0 0 0 0 0.537 5.5 0 0 0 -2.5"/></filter>
<mask id="spc45" maskUnits="userSpaceOnUse" x="488.2" y="672.8" width="13.8" height="42.6"><ellipse cx="495.1" cy="685.6" rx="7.9" ry="12.2" fill="url(#rgm)"/></mask>
<filter id="sp5cb589_m2_3_50_05_10" x="0" y="0" width="100%" height="100%"><feTurbulence type="fractalNoise" baseFrequency="0.5 1.0" numOctaves="1" seed="50"/><feColorMatrix values="0 0 0 0 0.361 0 0 0 0 0.710 0 0 0 0 0.537 5.5 0 0 0 -2.3"/></filter>
<mask id="spc46" maskUnits="userSpaceOnUse" x="440.4" y="719.6" width="43.9" height="13.7"><ellipse cx="462.3" cy="725.1" rx="27.8" ry="9.5" fill="url(#rgm)"/></mask>
<filter id="sp5cb589_m2_0_60_10_035" x="0" y="0" width="100%" height="100%"><feTurbulence type="fractalNoise" baseFrequency="1.0 0.35" numOctaves="1" seed="60"/><feColorMatrix values="0 0 0 0 0.361 0 0 0 0 0.710 0 0 0 0 0.537 5.5 0 0 0 -2"/></filter>
<linearGradient id="lb0" x1="0" y1="1" x2="0" y2="0"><stop offset="0" stop-color="#fff"/><stop offset="1" stop-color="#5cb589"/></linearGradient>
<mask id="spc47" maskUnits="userSpaceOnUse" x="518.2" y="672.8" width="43.9" height="42.6"><ellipse cx="531.4" cy="681.3" rx="15.1" ry="9.8" fill="url(#rgm)"/><ellipse cx="548.9" cy="681.3" rx="15.1" ry="9.8" fill="url(#rgm)"/></mask>
<filter id="sp9b2d9b_m2_05_41_075" x="0" y="0" width="100%" height="100%"><feTurbulence type="fractalNoise" baseFrequency="0.75" numOctaves="1" seed="41"/><feColorMatrix values="0 0 0 0 0.608 0 0 0 0 0.176 0 0 0 0 0.608 5.5 0 0 0 -2.05"/></filter>
<mask id="spc48" maskUnits="userSpaceOnUse" x="565.1" y="672.8" width="13.8" height="42.6"><ellipse cx="574.1" cy="685.6" rx="7.1" ry="13.7" fill="url(#rgm)"/></mask>
<filter id="sp9b2d9b_m1_6_51_05_10" x="0" y="0" width="100%" height="100%"><feTurbulence type="fractalNoise" baseFrequency="0.5 1.0" numOctaves="1" seed="51"/><feColorMatrix values="0 0 0 0 0.608 0 0 0 0 0.176 0 0 0 0 0.608 5.5 0 0 0 -1.6"/></filter>
<mask id="spc49" maskUnits="userSpaceOnUse" x="518.2" y="719.6" width="43.9" height="13.7"><ellipse cx="540.2" cy="724.4" rx="27.8" ry="8.7" fill="url(#rgm)"/></mask>
<filter id="sp9b2d9b_m1_5_61_10_035" x="0" y="0" width="100%" height="100%"><feTurbulence type="fractalNoise" baseFrequency="1.0 0.35" numOctaves="1" seed="61"/><feColorMatrix values="0 0 0 0 0.608 0 0 0 0 0.176 0 0 0 0 0.608 5.5 0 0 0 -1.5"/></filter>
<linearGradient id="lb1" x1="0" y1="1" x2="0" y2="0"><stop offset="0" stop-color="#fff"/><stop offset="1" stop-color="#9b2d9b"/></linearGradient>
<mask id="spc50" maskUnits="userSpaceOnUse" x="597.5" y="672.8" width="43.9" height="42.6"><ellipse cx="610.7" cy="683.4" rx="15.1" ry="10.8" fill="url(#rgm)"/><ellipse cx="628.2" cy="683.4" rx="15.1" ry="10.8" fill="url(#rgm)"/></mask>
<filter id="sp5aaee0_m2_7_42_075" x="0" y="0" width="100%" height="100%"><feTurbulence type="fractalNoise" baseFrequency="0.75" numOctaves="1" seed="42"/><feColorMatrix values="0 0 0 0 0.353 0 0 0 0 0.682 0 0 0 0 0.878 5.5 0 0 0 -2.7"/></filter>
<mask id="spc51" maskUnits="userSpaceOnUse" x="597.5" y="672.8" width="43.9" height="42.6"><ellipse cx="612.9" cy="685.6" rx="5" ry="4.9" fill="url(#rgm)"/><ellipse cx="626" cy="685.6" rx="5" ry="4.9" fill="url(#rgm)"/></mask>
<filter id="sp5aaee0_m2_2_42_075" x="0" y="0" width="100%" height="100%"><feTurbulence type="fractalNoise" baseFrequency="0.75" numOctaves="1" seed="42"/><feColorMatrix values="0 0 0 0 0.353 0 0 0 0 0.682 0 0 0 0 0.878 5.5 0 0 0 -2.2"/></filter>
<mask id="spc52" maskUnits="userSpaceOnUse" x="644.8" y="672.8" width="13.8" height="42.6"><ellipse cx="653.1" cy="685.6" rx="7.9" ry="12.2" fill="url(#rgm)"/></mask>
<filter id="sp5aaee0_m2_2_52_05_10" x="0" y="0" width="100%" height="100%"><feTurbulence type="fractalNoise" baseFrequency="0.5 1.0" numOctaves="1" seed="52"/><feColorMatrix values="0 0 0 0 0.353 0 0 0 0 0.682 0 0 0 0 0.878 5.5 0 0 0 -2.2"/></filter>
<mask id="spc53" maskUnits="userSpaceOnUse" x="597.5" y="719.6" width="43.9" height="13.7"><ellipse cx="619.5" cy="725.1" rx="27.8" ry="9.5" fill="url(#rgm)"/></mask>
<filter id="sp5aaee0_m1_9_62_10_035" x="0" y="0" width="100%" height="100%"><feTurbulence type="fractalNoise" baseFrequency="1.0 0.35" numOctaves="1" seed="62"/><feColorMatrix values="0 0 0 0 0.353 0 0 0 0 0.682 0 0 0 0 0.878 5.5 0 0 0 -1.9"/></filter>
<linearGradient id="lb2" x1="0" y1="1" x2="0" y2="0"><stop offset="0" stop-color="#fff"/><stop offset="1" stop-color="#5aaee0"/></linearGradient>
<mask id="spc54" maskUnits="userSpaceOnUse" x="440.4" y="749.2" width="43.9" height="42.6"><ellipse cx="453.6" cy="758.6" rx="15.1" ry="9.8" fill="url(#rgm)"/><ellipse cx="472" cy="758.6" rx="15.1" ry="9.8" fill="url(#rgm)"/></mask>
<filter id="sp5cb589_m2_5_43_075" x="0" y="0" width="100%" height="100%"><feTurbulence type="fractalNoise" baseFrequency="0.75" numOctaves="1" seed="43"/><feColorMatrix values="0 0 0 0 0.361 0 0 0 0 0.710 0 0 0 0 0.537 5.5 0 0 0 -2.5"/></filter>
<mask id="spc55" maskUnits="userSpaceOnUse" x="488.2" y="749.2" width="13.8" height="42.6"><ellipse cx="495.1" cy="762" rx="7.9" ry="12.2" fill="url(#rgm)"/></mask>
<filter id="sp5cb589_m2_3_53_05_10" x="0" y="0" width="100%" height="100%"><feTurbulence type="fractalNoise" baseFrequency="0.5 1.0" numOctaves="1" seed="53"/><feColorMatrix values="0 0 0 0 0.361 0 0 0 0 0.710 0 0 0 0 0.537 5.5 0 0 0 -2.3"/></filter>
<mask id="spc56" maskUnits="userSpaceOnUse" x="440.4" y="796" width="43.9" height="13.7"><ellipse cx="462.3" cy="801.5" rx="27.8" ry="9.5" fill="url(#rgm)"/></mask>
<filter id="sp5cb589_m2_0_63_10_035" x="0" y="0" width="100%" height="100%"><feTurbulence type="fractalNoise" baseFrequency="1.0 0.35" numOctaves="1" seed="63"/><feColorMatrix values="0 0 0 0 0.361 0 0 0 0 0.710 0 0 0 0 0.537 5.5 0 0 0 -2"/></filter>
<linearGradient id="lb0" x1="0" y1="1" x2="0" y2="0"><stop offset="0" stop-color="#fff"/><stop offset="1" stop-color="#5cb589"/></linearGradient>
<mask id="spc57" maskUnits="userSpaceOnUse" x="518.2" y="749.2" width="43.9" height="42.6"><ellipse cx="531.4" cy="757.7" rx="15.1" ry="9.8" fill="url(#rgm)"/><ellipse cx="548.9" cy="757.7" rx="15.1" ry="9.8" fill="url(#rgm)"/></mask>
<filter id="sp9b2d9b_m2_05_44_075" x="0" y="0" width="100%" height="100%"><feTurbulence type="fractalNoise" baseFrequency="0.75" numOctaves="1" seed="44"/><feColorMatrix values="0 0 0 0 0.608 0 0 0 0 0.176 0 0 0 0 0.608 5.5 0 0 0 -2.05"/></filter>
<mask id="spc58" maskUnits="userSpaceOnUse" x="565.1" y="749.2" width="13.8" height="42.6"><ellipse cx="574.1" cy="762" rx="7.1" ry="13.7" fill="url(#rgm)"/></mask>
<filter id="sp9b2d9b_m1_6_54_05_10" x="0" y="0" width="100%" height="100%"><feTurbulence type="fractalNoise" baseFrequency="0.5 1.0" numOctaves="1" seed="54"/><feColorMatrix values="0 0 0 0 0.608 0 0 0 0 0.176 0 0 0 0 0.608 5.5 0 0 0 -1.6"/></filter>
<mask id="spc59" maskUnits="userSpaceOnUse" x="518.2" y="796" width="43.9" height="13.7"><ellipse cx="540.2" cy="800.8" rx="27.8" ry="8.7" fill="url(#rgm)"/></mask>
<filter id="sp9b2d9b_m1_5_64_10_035" x="0" y="0" width="100%" height="100%"><feTurbulence type="fractalNoise" baseFrequency="1.0 0.35" numOctaves="1" seed="64"/><feColorMatrix values="0 0 0 0 0.608 0 0 0 0 0.176 0 0 0 0 0.608 5.5 0 0 0 -1.5"/></filter>
<linearGradient id="lb1" x1="0" y1="1" x2="0" y2="0"><stop offset="0" stop-color="#fff"/><stop offset="1" stop-color="#9b2d9b"/></linearGradient>
<mask id="spc60" maskUnits="userSpaceOnUse" x="597.5" y="749.2" width="43.9" height="42.6"><ellipse cx="610.7" cy="759.8" rx="15.1" ry="10.8" fill="url(#rgm)"/><ellipse cx="628.2" cy="759.8" rx="15.1" ry="10.8" fill="url(#rgm)"/></mask>
<filter id="sp5aaee0_m2_7_45_075" x="0" y="0" width="100%" height="100%"><feTurbulence type="fractalNoise" baseFrequency="0.75" numOctaves="1" seed="45"/><feColorMatrix values="0 0 0 0 0.353 0 0 0 0 0.682 0 0 0 0 0.878 5.5 0 0 0 -2.7"/></filter>
<mask id="spc61" maskUnits="userSpaceOnUse" x="597.5" y="749.2" width="43.9" height="42.6"><ellipse cx="612.9" cy="762" rx="5" ry="4.9" fill="url(#rgm)"/><ellipse cx="626" cy="762" rx="5" ry="4.9" fill="url(#rgm)"/></mask>
<filter id="sp5aaee0_m2_2_45_075" x="0" y="0" width="100%" height="100%"><feTurbulence type="fractalNoise" baseFrequency="0.75" numOctaves="1" seed="45"/><feColorMatrix values="0 0 0 0 0.353 0 0 0 0 0.682 0 0 0 0 0.878 5.5 0 0 0 -2.2"/></filter>
<mask id="spc62" maskUnits="userSpaceOnUse" x="644.8" y="749.2" width="13.8" height="42.6"><ellipse cx="653.1" cy="762" rx="7.9" ry="12.2" fill="url(#rgm)"/></mask>
<filter id="sp5aaee0_m2_2_55_05_10" x="0" y="0" width="100%" height="100%"><feTurbulence type="fractalNoise" baseFrequency="0.5 1.0" numOctaves="1" seed="55"/><feColorMatrix values="0 0 0 0 0.353 0 0 0 0 0.682 0 0 0 0 0.878 5.5 0 0 0 -2.2"/></filter>
<mask id="spc63" maskUnits="userSpaceOnUse" x="597.5" y="796" width="43.9" height="13.7"><ellipse cx="619.5" cy="801.5" rx="27.8" ry="9.5" fill="url(#rgm)"/></mask>
<filter id="sp5aaee0_m1_9_65_10_035" x="0" y="0" width="100%" height="100%"><feTurbulence type="fractalNoise" baseFrequency="1.0 0.35" numOctaves="1" seed="65"/><feColorMatrix values="0 0 0 0 0.353 0 0 0 0 0.682 0 0 0 0 0.878 5.5 0 0 0 -1.9"/></filter>
<linearGradient id="lb2" x1="0" y1="1" x2="0" y2="0"><stop offset="0" stop-color="#fff"/><stop offset="1" stop-color="#5aaee0"/></linearGradient>
<mask id="spc64" maskUnits="userSpaceOnUse" x="440.4" y="828.5" width="43.9" height="42.6"><ellipse cx="453.6" cy="835.7" rx="7.1" ry="4.9" fill="url(#rgm)"/><ellipse cx="471.1" cy="835.7" rx="7.1" ry="4.9" fill="url(#rgm)"/></mask>
<filter id="sp5cb589_m2_3_46_075" x="0" y="0" width="100%" height="100%"><feTurbulence type="fractalNoise" baseFrequency="0.75" numOctaves="1" seed="46"/><feColorMatrix values="0 0 0 0 0.361 0 0 0 0 0.710 0 0 0 0 0.537 5.5 0 0 0 -2.3"/></filter>
<mask id="spc65" maskUnits="userSpaceOnUse" x="440.4" y="828.5" width="43.9" height="42.6"><ellipse cx="462.3" cy="841.3" rx="17.7" ry="6.9" fill="url(#rgm)"/></mask>
<filter id="sp5cb589_m2_9_46_075" x="0" y="0" width="100%" height="100%"><feTurbulence type="fractalNoise" baseFrequency="0.75" numOctaves="1" seed="46"/><feColorMatrix values="0 0 0 0 0.361 0 0 0 0 0.710 0 0 0 0 0.537 5.5 0 0 0 -2.9"/></filter>
<mask id="spc66" maskUnits="userSpaceOnUse" x="488.2" y="828.5" width="13.8" height="42.6"><ellipse cx="495.1" cy="841.3" rx="7.9" ry="12.2" fill="url(#rgm)"/></mask>
<filter id="sp5cb589_m2_3_56_05_10" x="0" y="0" width="100%" height="100%"><feTurbulence type="fractalNoise" baseFrequency="0.5 1.0" numOctaves="1" seed="56"/><feColorMatrix values="0 0 0 0 0.361 0 0 0 0 0.710 0 0 0 0 0.537 5.5 0 0 0 -2.3"/></filter>
<mask id="spc67" maskUnits="userSpaceOnUse" x="440.4" y="875.3" width="43.9" height="13.7"><ellipse cx="462.3" cy="880.8" rx="27.8" ry="9.5" fill="url(#rgm)"/></mask>
<filter id="sp5cb589_m2_0_66_10_035" x="0" y="0" width="100%" height="100%"><feTurbulence type="fractalNoise" baseFrequency="1.0 0.35" numOctaves="1" seed="66"/><feColorMatrix values="0 0 0 0 0.361 0 0 0 0 0.710 0 0 0 0 0.537 5.5 0 0 0 -2"/></filter>
<linearGradient id="lb0" x1="0" y1="1" x2="0" y2="0"><stop offset="0" stop-color="#fff"/><stop offset="1" stop-color="#5cb589"/></linearGradient>
<mask id="spc68" maskUnits="userSpaceOnUse" x="518.2" y="828.5" width="43.9" height="42.6"><ellipse cx="531.4" cy="837" rx="15.1" ry="9.8" fill="url(#rgm)"/><ellipse cx="548.9" cy="837" rx="15.1" ry="9.8" fill="url(#rgm)"/></mask>
<filter id="sp9b2d9b_m2_05_47_075" x="0" y="0" width="100%" height="100%"><feTurbulence type="fractalNoise" baseFrequency="0.75" numOctaves="1" seed="47"/><feColorMatrix values="0 0 0 0 0.608 0 0 0 0 0.176 0 0 0 0 0.608 5.5 0 0 0 -2.05"/></filter>
<mask id="spc69" maskUnits="userSpaceOnUse" x="565.1" y="828.5" width="13.8" height="42.6"><ellipse cx="574.1" cy="841.3" rx="7.1" ry="13.7" fill="url(#rgm)"/></mask>
<filter id="sp9b2d9b_m1_6_57_05_10" x="0" y="0" width="100%" height="100%"><feTurbulence type="fractalNoise" baseFrequency="0.5 1.0" numOctaves="1" seed="57"/><feColorMatrix values="0 0 0 0 0.608 0 0 0 0 0.176 0 0 0 0 0.608 5.5 0 0 0 -1.6"/></filter>
<mask id="spc70" maskUnits="userSpaceOnUse" x="518.2" y="875.3" width="43.9" height="13.7"><ellipse cx="540.2" cy="880.1" rx="27.8" ry="8.7" fill="url(#rgm)"/></mask>
<filter id="sp9b2d9b_m1_5_67_10_035" x="0" y="0" width="100%" height="100%"><feTurbulence type="fractalNoise" baseFrequency="1.0 0.35" numOctaves="1" seed="67"/><feColorMatrix values="0 0 0 0 0.608 0 0 0 0 0.176 0 0 0 0 0.608 5.5 0 0 0 -1.5"/></filter>
<linearGradient id="lb1" x1="0" y1="1" x2="0" y2="0"><stop offset="0" stop-color="#fff"/><stop offset="1" stop-color="#9b2d9b"/></linearGradient>
<mask id="spc71" maskUnits="userSpaceOnUse" x="597.5" y="828.5" width="43.9" height="42.6"><ellipse cx="610.7" cy="839.1" rx="15.1" ry="10.8" fill="url(#rgm)"/><ellipse cx="628.2" cy="839.1" rx="15.1" ry="10.8" fill="url(#rgm)"/></mask>
<filter id="sp5aaee0_m2_7_48_075" x="0" y="0" width="100%" height="100%"><feTurbulence type="fractalNoise" baseFrequency="0.75" numOctaves="1" seed="48"/><feColorMatrix values="0 0 0 0 0.353 0 0 0 0 0.682 0 0 0 0 0.878 5.5 0 0 0 -2.7"/></filter>
<mask id="spc72" maskUnits="userSpaceOnUse" x="597.5" y="828.5" width="43.9" height="42.6"><ellipse cx="612.9" cy="841.3" rx="5" ry="4.9" fill="url(#rgm)"/><ellipse cx="626" cy="841.3" rx="5" ry="4.9" fill="url(#rgm)"/></mask>
<filter id="sp5aaee0_m2_2_48_075" x="0" y="0" width="100%" height="100%"><feTurbulence type="fractalNoise" baseFrequency="0.75" numOctaves="1" seed="48"/><feColorMatrix values="0 0 0 0 0.353 0 0 0 0 0.682 0 0 0 0 0.878 5.5 0 0 0 -2.2"/></filter>
<mask id="spc73" maskUnits="userSpaceOnUse" x="644.8" y="828.5" width="13.8" height="42.6"><ellipse cx="653.1" cy="841.3" rx="7.9" ry="12.2" fill="url(#rgm)"/></mask>
<filter id="sp5aaee0_m2_2_58_05_10" x="0" y="0" width="100%" height="100%"><feTurbulence type="fractalNoise" baseFrequency="0.5 1.0" numOctaves="1" seed="58"/><feColorMatrix values="0 0 0 0 0.353 0 0 0 0 0.682 0 0 0 0 0.878 5.5 0 0 0 -2.2"/></filter>
<mask id="spc74" maskUnits="userSpaceOnUse" x="597.5" y="875.3" width="43.9" height="13.7"><ellipse cx="619.5" cy="880.8" rx="27.8" ry="9.5" fill="url(#rgm)"/></mask>
<filter id="sp5aaee0_m1_9_68_10_035" x="0" y="0" width="100%" height="100%"><feTurbulence type="fractalNoise" baseFrequency="1.0 0.35" numOctaves="1" seed="68"/><feColorMatrix values="0 0 0 0 0.353 0 0 0 0 0.682 0 0 0 0 0.878 5.5 0 0 0 -1.9"/></filter>
<linearGradient id="lb2" x1="0" y1="1" x2="0" y2="0"><stop offset="0" stop-color="#fff"/><stop offset="1" stop-color="#5aaee0"/></linearGradient></defs>
<text x="305.5" y="7.5" font-weight="bold" font-size="9" fill="#000" style="stroke:#000">b</text>
<line x1="338.4" y1="16.5" x2="338.4" y2="91.5" stroke="#231f20" stroke-width="0.8"/>
<line x1="338.4" y1="91.5" x2="561.5" y2="91.5" stroke="#231f20" stroke-width="0.8"/>
<line x1="335.9" y1="91.3" x2="338.4" y2="91.3" stroke="#231f20" stroke-width="0.8"/>
<text x="334.9" y="94.5" text-anchor="end">20</text>
<line x1="335.9" y1="72.8" x2="338.4" y2="72.8" stroke="#231f20" stroke-width="0.8"/>
<text x="334.9" y="76.1" text-anchor="end">30</text>
<line x1="335.9" y1="54.4" x2="338.4" y2="54.4" stroke="#231f20" stroke-width="0.8"/>
<text x="334.9" y="57.6" text-anchor="end">40</text>
<line x1="335.9" y1="35.9" x2="338.4" y2="35.9" stroke="#231f20" stroke-width="0.8"/>
<text x="334.9" y="39.2" text-anchor="end">50</text>
<line x1="335.9" y1="17.5" x2="338.4" y2="17.5" stroke="#231f20" stroke-width="0.8"/>
<text x="334.9" y="20.7" text-anchor="end">60</text>
<text transform="translate(319.2 53.5) rotate(-90)" text-anchor="middle">Accuracy (%)</text>
<line x1="348.1" y1="91.5" x2="348.1" y2="93.2" stroke="#231f20" stroke-width="0.7"/>
<text transform="translate(350.2 95.3) rotate(-90)" text-anchor="end" font-size="8.2" fill="#f47a52" style="stroke:#f47a52">MBPED</text>
<line x1="356.9" y1="91.5" x2="356.9" y2="93.2" stroke="#231f20" stroke-width="0.7"/>
<text transform="translate(359.1 95.3) rotate(-90)" text-anchor="end" font-size="8.2" fill="#f47a52" style="stroke:#f47a52">MBVL</text>
<line x1="365.8" y1="91.5" x2="365.8" y2="93.2" stroke="#231f20" stroke-width="0.7"/>
<text transform="translate(367.9 95.3) rotate(-90)" text-anchor="end" font-size="8.2" fill="#f47a52" style="stroke:#f47a52">MBML</text>
<line x1="374.6" y1="91.5" x2="374.6" y2="93.2" stroke="#231f20" stroke-width="0.7"/>
<text transform="translate(376.7 95.3) rotate(-90)" text-anchor="end" font-size="8.2" fill="#f47a52" style="stroke:#f47a52">LH</text>
<line x1="383.4" y1="91.5" x2="383.4" y2="93.2" stroke="#231f20" stroke-width="0.7"/>
<text transform="translate(385.5 95.3) rotate(-90)" text-anchor="end" font-size="8.2" fill="#f47a52" style="stroke:#f47a52">SLP</text>
<line x1="392.2" y1="91.5" x2="392.2" y2="93.2" stroke="#231f20" stroke-width="0.7"/>
<text transform="translate(394.4 95.3) rotate(-90)" text-anchor="end" font-size="8.2" fill="#f47a52" style="stroke:#f47a52">SIP</text>
<line x1="401.1" y1="91.5" x2="401.1" y2="93.2" stroke="#231f20" stroke-width="0.7"/>
<text transform="translate(403.2 95.3) rotate(-90)" text-anchor="end" font-size="8.2" fill="#f47a52" style="stroke:#f47a52">SMP</text>
<line x1="409.9" y1="91.5" x2="409.9" y2="93.2" stroke="#231f20" stroke-width="0.7"/>
<text transform="translate(412 95.3) rotate(-90)" text-anchor="end" font-size="8.2" fill="#f47a52" style="stroke:#f47a52">CRE</text>
<line x1="418.7" y1="91.5" x2="418.7" y2="93.2" stroke="#231f20" stroke-width="0.7"/>
<text transform="translate(420.9 95.3) rotate(-90)" text-anchor="end" font-size="8.2">SCL</text>
<line x1="427.6" y1="91.5" x2="427.6" y2="93.2" stroke="#231f20" stroke-width="0.7"/>
<text transform="translate(429.7 95.3) rotate(-90)" text-anchor="end" font-size="8.2">ICL</text>
<line x1="436.4" y1="91.5" x2="436.4" y2="93.2" stroke="#231f20" stroke-width="0.7"/>
<text transform="translate(438.5 95.3) rotate(-90)" text-anchor="end" font-size="8.2">NO</text>
<line x1="445.2" y1="91.5" x2="445.2" y2="93.2" stroke="#231f20" stroke-width="0.7"/>
<text transform="translate(447.4 95.3) rotate(-90)" text-anchor="end" font-size="8.2">EB</text>
<line x1="454.1" y1="91.5" x2="454.1" y2="93.2" stroke="#231f20" stroke-width="0.7"/>
<text transform="translate(456.2 95.3) rotate(-90)" text-anchor="end" font-size="8.2">FB</text>
<line x1="462.9" y1="91.5" x2="462.9" y2="93.2" stroke="#231f20" stroke-width="0.7"/>
<text transform="translate(465 95.3) rotate(-90)" text-anchor="end" font-size="8.2">LAL</text>
<line x1="471.7" y1="91.5" x2="471.7" y2="93.2" stroke="#231f20" stroke-width="0.7"/>
<text transform="translate(473.8 95.3) rotate(-90)" text-anchor="end" font-size="8.2">AOTU</text>
<line x1="480.6" y1="91.5" x2="480.6" y2="93.2" stroke="#231f20" stroke-width="0.7"/>
<text transform="translate(482.7 95.3) rotate(-90)" text-anchor="end" font-size="8.2">AVLP</text>
<line x1="489.4" y1="91.5" x2="489.4" y2="93.2" stroke="#231f20" stroke-width="0.7"/>
<text transform="translate(491.5 95.3) rotate(-90)" text-anchor="end" font-size="8.2">PVLP</text>
<line x1="498.2" y1="91.5" x2="498.2" y2="93.2" stroke="#231f20" stroke-width="0.7"/>
<text transform="translate(500.3 95.3) rotate(-90)" text-anchor="end" font-size="8.2">IVLP</text>
<line x1="507" y1="91.5" x2="507" y2="93.2" stroke="#231f20" stroke-width="0.7"/>
<text transform="translate(509.2 95.3) rotate(-90)" text-anchor="end" font-size="8.2">VES</text>
<line x1="515.9" y1="91.5" x2="515.9" y2="93.2" stroke="#231f20" stroke-width="0.7"/>
<text transform="translate(518 95.3) rotate(-90)" text-anchor="end" font-size="8.2">GOR</text>
<line x1="524.7" y1="91.5" x2="524.7" y2="93.2" stroke="#231f20" stroke-width="0.7"/>
<text transform="translate(526.8 95.3) rotate(-90)" text-anchor="end" font-size="8.2">SPS</text>
<line x1="533.5" y1="91.5" x2="533.5" y2="93.2" stroke="#231f20" stroke-width="0.7"/>
<text transform="translate(535.7 95.3) rotate(-90)" text-anchor="end" font-size="8.2">EPA</text>
<line x1="542.4" y1="91.5" x2="542.4" y2="93.2" stroke="#231f20" stroke-width="0.7"/>
<text transform="translate(544.5 95.3) rotate(-90)" text-anchor="end" font-size="8.2">FLA</text>
<path d="M348.1 64.3V68.7M346.6 64.3h3M346.6 68.7h3M356.9 52.6V57M355.4 52.6h3M355.4 57h3M365.8 54V59.5M364.3 54h3M364.3 59.5h3M374.6 70.1V72.3M373.1 70.1h3M373.1 72.3h3M383.4 65.2V69.6M381.9 65.2h3M381.9 69.6h3M392.2 57.9V64.5M390.8 57.9h3M390.8 64.5h3M401.1 52.2V61.3M399.6 52.2h3M399.6 61.3h3M409.9 54.6V62.6M408.4 54.6h3M408.4 62.6h3M418.7 65.5V68.5M417.2 65.5h3M417.2 68.5h3M427.6 68.1V71.8M426.1 68.1h3M426.1 71.8h3M436.4 67.2V70.1M434.9 67.2h3M434.9 70.1h3M445.2 65.5V69.2M443.7 65.5h3M443.7 69.2h3M454.1 64.6V68.3M452.6 64.6h3M452.6 68.3h3M462.9 66.8V70.5M461.4 66.8h3M461.4 70.5h3M471.7 67.4V69.9M470.2 67.4h3M470.2 69.9h3M480.6 70.8V72.7M479.1 70.8h3M479.1 72.7h3M489.4 70.8V72.7M487.9 70.8h3M487.9 72.7h3M498.2 71.9V73.8M496.7 71.9h3M496.7 73.8h3M507 70.8V72.7M505.5 70.8h3M505.5 72.7h3M515.9 67.6V70.5M514.4 67.6h3M514.4 70.5h3M524.7 70.8V72.7M523.2 70.8h3M523.2 72.7h3M533.5 70.1V73M532 70.1h3M532 73h3M542.4 71.2V73M540.9 71.2h3M540.9 73h3" stroke="#2a85c9" stroke-width="0.9" fill="none"/>
<polyline points="348.1,66.5 356.9,54.8 365.8,56.8 374.6,71.2 383.4,67.4 392.2,61.2 401.1,56.8 409.9,58.6 418.7,67 427.6,69.9 436.4,68.7 445.2,67.4 454.1,66.5 462.9,68.7 471.7,68.7 480.6,71.8 489.4,71.8 498.2,72.9 507,71.8 515.9,69 524.7,71.8 533.5,71.6 542.4,72.1" fill="none" stroke="#2a85c9" stroke-width="1.3"/>
<path d="M348.1 45.6V52.2M346.6 45.6h3M346.6 52.2h3M356.9 47.5V52.6M355.4 47.5h3M355.4 52.6h3M365.8 30.6V40.9M364.3 30.6h3M364.3 40.9h3M374.6 56.6V62.1M373.1 56.6h3M373.1 62.1h3M383.4 67.7V72.1M381.9 67.7h3M381.9 72.1h3M392.2 52.8V57.1M390.8 52.8h3M390.8 57.1h3M401.1 56.2V61M399.6 56.2h3M399.6 61h3M409.9 41.4V45.8M408.4 41.4h3M408.4 45.8h3M418.7 48.4V53.1M417.2 48.4h3M417.2 53.1h3M427.6 57.5V61.2M426.1 57.5h3M426.1 61.2h3M436.4 65.9V68.8M434.9 65.9h3M434.9 68.8h3M445.2 47.5V55.5M443.7 47.5h3M443.7 55.5h3M454.1 53.1V58.6M452.6 53.1h3M452.6 58.6h3M462.9 60.2V63.9M461.4 60.2h3M461.4 63.9h3M471.7 61.2V64.8M470.2 61.2h3M470.2 64.8h3M480.6 67.7V69.6M479.1 67.7h3M479.1 69.6h3M489.4 67.7V69.6M487.9 67.7h3M487.9 69.6h3M498.2 69.9V71.8M496.7 69.9h3M496.7 71.8h3M507 66.3V68.5M505.5 66.3h3M505.5 68.5h3M515.9 65V67.2M514.4 65h3M514.4 67.2h3M524.7 66.3V68.5M523.2 66.3h3M523.2 68.5h3M533.5 67.9V70.1M532 67.9h3M532 70.1h3M542.4 70.1V72.3M540.9 70.1h3M540.9 72.3h3" stroke="#8b2a8e" stroke-width="0.9" fill="none"/>
<polyline points="348.1,48.9 356.9,50 365.8,35.8 374.6,59.3 383.4,69.9 392.2,55 401.1,58.6 409.9,43.6 418.7,50.7 427.6,59.3 436.4,67.4 445.2,51.5 454.1,55.9 462.9,62.1 471.7,63 480.6,68.7 489.4,68.7 498.2,70.8 507,67.4 515.9,66.1 524.7,67.4 533.5,69 542.4,71.2" fill="none" stroke="#8b2a8e" stroke-width="1.3"/>
<path d="M348.1 38.3V45.6M346.6 38.3h3M346.6 45.6h3M356.9 40.7V46.5M355.4 40.7h3M355.4 46.5h3M365.8 41.2V46M364.3 41.2h3M364.3 46h3M374.6 28.1V37.2M373.1 28.1h3M373.1 37.2h3M383.4 43.3V47.6M381.9 43.3h3M381.9 47.6h3M392.2 42.9V46.9M390.8 42.9h3M390.8 46.9h3M401.1 43.6V48M399.6 43.6h3M399.6 48h3M409.9 39.2V44.7M408.4 39.2h3M408.4 44.7h3M418.7 46.7V51.1M417.2 46.7h3M417.2 51.1h3M427.6 52.9V56.6M426.1 52.9h3M426.1 56.6h3M436.4 55V58.6M434.9 55h3M434.9 58.6h3M445.2 54V57.7M443.7 54h3M443.7 57.7h3M454.1 50.9V55.3M452.6 50.9h3M452.6 55.3h3M462.9 55.3V59M461.4 55.3h3M461.4 59h3M471.7 44V51.3M470.2 44h3M470.2 51.3h3M480.6 64.1V66.3M479.1 64.1h3M479.1 66.3h3M489.4 66.8V68.7M487.9 66.8h3M487.9 68.7h3M498.2 69V70.8M496.7 69h3M496.7 70.8h3M507 58.8V62.4M505.5 58.8h3M505.5 62.4h3M515.9 57.1V60.8M514.4 57.1h3M514.4 60.8h3M524.7 61.2V64.8M523.2 61.2h3M523.2 64.8h3M533.5 63.2V66.1M532 63.2h3M532 66.1h3M542.4 66.8V69.4M540.9 66.8h3M540.9 69.4h3" stroke="#1e7f4a" stroke-width="0.9" fill="none"/>
<polyline points="348.1,42 356.9,43.6 365.8,43.6 374.6,32.7 383.4,45.4 392.2,44.9 401.1,45.8 409.9,42 418.7,48.9 427.6,54.8 436.4,56.8 445.2,55.9 454.1,53.1 462.9,57.1 471.7,47.6 480.6,65.2 489.4,67.7 498.2,69.9 507,60.6 515.9,59 524.7,63 533.5,64.6 542.4,68.1" fill="none" stroke="#1e7f4a" stroke-width="1.3"/>
<line x1="362.2" y1="82.2" x2="371.7" y2="82.2" stroke="#7fbf98" stroke-width="1.3"/>
<text x="374.5" y="85.4">G7f</text>
<line x1="394.5" y1="82.2" x2="404" y2="82.2" stroke="#c48fc6" stroke-width="1.3"/>
<text x="406.8" y="85.4">rACh</text>
<line x1="431.5" y1="82.2" x2="441" y2="82.2" stroke="#8cc0e6" stroke-width="1.3"/>
<text x="443.8" y="85.4">r5-HT</text>
<use href="#st" x="348.1" y="6.8"/>
<use href="#st" x="348.1" y="11.9"/>
<use href="#st" x="348.1" y="17"/>
<text x="357.1" y="14" text-anchor="middle" font-size="8">ns</text>
<use href="#st" x="365.8" y="9.4"/>
<use href="#st" x="365.8" y="14.5"/>
<use href="#st" x="374.6" y="4.3"/>
<use href="#st" x="374.6" y="9.4"/>
<use href="#st" x="374.6" y="14.5"/>
<use href="#st" x="374.6" y="19.6"/>
<use href="#st" x="383.4" y="4.3"/>
<use href="#st" x="383.4" y="9.4"/>
<use href="#st" x="383.4" y="14.5"/>
<use href="#st" x="383.4" y="19.6"/>
<use href="#st" x="392.2" y="9.4"/>
<use href="#st" x="392.2" y="14.5"/>
<use href="#st" x="401.1" y="11.9"/>
<use href="#st" x="409.9" y="11.9"/>
<use href="#st" x="418.7" y="6.8"/>
<use href="#st" x="418.7" y="11.9"/>
<use href="#st" x="418.7" y="17"/>
<use href="#st" x="427.6" y="6.8"/>
<use href="#st" x="427.6" y="11.9"/>
<use href="#st" x="427.6" y="17"/>
<use href="#st" x="436.4" y="9.4"/>
<use href="#st" x="436.4" y="14.5"/>
<use href="#st" x="445.2" y="6.8"/>
<use href="#st" x="445.2" y="11.9"/>
<use href="#st" x="445.2" y="17"/>
<use href="#st" x="454.1" y="6.8"/>
<use href="#st" x="454.1" y="11.9"/>
<use href="#st" x="454.1" y="17"/>
<use href="#st" x="462.9" y="6.8"/>
<use href="#st" x="462.9" y="11.9"/>
<use href="#st" x="462.9" y="17"/>
<use href="#st" x="471.7" y="4.3"/>
<use href="#st" x="471.7" y="9.4"/>
<use href="#st" x="471.7" y="14.5"/>
<use href="#st" x="471.7" y="19.6"/>
<use href="#st" x="480.6" y="4.3"/>
<use href="#st" x="480.6" y="9.4"/>
<use href="#st" x="480.6" y="14.5"/>
<use href="#st" x="480.6" y="19.6"/>
<use href="#st" x="489.4" y="9.4"/>
<use href="#st" x="489.4" y="14.5"/>
<use href="#st" x="498.2" y="9.4"/>
<use href="#st" x="498.2" y="14.5"/>
<use href="#st" x="507" y="4.3"/>
<use href="#st" x="507" y="9.4"/>
<use href="#st" x="507" y="14.5"/>
<use href="#st" x="507" y="19.6"/>
<use href="#st" x="515.9" y="11.9"/>
<use href="#st" x="524.7" y="11.9"/>
<use href="#st" x="533.5" y="11.9"/>
<use href="#st" x="542.4" y="9.4"/>
<use href="#st" x="542.4" y="14.5"/>
<text x="567.5" y="7.5" font-weight="bold" font-size="9" fill="#000" style="stroke:#000">g</text>
<line x1="603.5" y1="21" x2="603.5" y2="105" stroke="#231f20" stroke-width="0.8"/>
<line x1="603.5" y1="105" x2="685" y2="105" stroke="#231f20" stroke-width="0.8"/>
<line x1="601" y1="105" x2="603.5" y2="105" stroke="#231f20" stroke-width="0.8"/>
<text x="600" y="108.2" text-anchor="end">40</text>
<line x1="601" y1="77.9" x2="603.5" y2="77.9" stroke="#231f20" stroke-width="0.8"/>
<text x="600" y="81.1" text-anchor="end">60</text>
<line x1="601" y1="50.8" x2="603.5" y2="50.8" stroke="#231f20" stroke-width="0.8"/>
<text x="600" y="54" text-anchor="end">80</text>
<line x1="601" y1="23.7" x2="603.5" y2="23.7" stroke="#231f20" stroke-width="0.8"/>
<text x="600" y="26.9" text-anchor="end">100</text>
<line x1="617.3" y1="105" x2="617.3" y2="107" stroke="#231f20" stroke-width="0.7"/>
<line x1="644.1" y1="105" x2="644.1" y2="107" stroke="#231f20" stroke-width="0.7"/>
<line x1="671.2" y1="105" x2="671.2" y2="107" stroke="#231f20" stroke-width="0.7"/>
<text transform="translate(586.2 64) rotate(-90)" text-anchor="middle">Accuracy (%)</text>
<line x1="617.3" y1="29.1" x2="617.3" y2="26.4" stroke="#1e7f4a" stroke-width="1.1"/>
<line x1="617.3" y1="37.9" x2="617.3" y2="46.7" stroke="#1e7f4a" stroke-width="1.1"/>
<line x1="613.9" y1="26.4" x2="620.7" y2="26.4" stroke="#1e7f4a" stroke-width="1.1"/>
<line x1="613.9" y1="46.7" x2="620.7" y2="46.7" stroke="#1e7f4a" stroke-width="1.1"/>
<rect x="610.3" y="29.1" width="14" height="8.8" fill="none" stroke="#1e7f4a" stroke-width="1.1"/>
<line x1="610.3" y1="33.2" x2="624.3" y2="33.2" stroke="#1e7f4a" stroke-width="1.1"/>
<circle cx="619.3" cy="30.5" r="0.9" fill="#aaa" opacity="0.8"/>
<circle cx="616.3" cy="33.2" r="0.9" fill="#aaa" opacity="0.8"/>
<circle cx="618.3" cy="35.9" r="0.9" fill="#aaa" opacity="0.8"/>
<circle cx="619.3" cy="40" r="0.9" fill="#aaa" opacity="0.8"/>
<circle cx="615.3" cy="31.8" r="0.9" fill="#aaa" opacity="0.8"/>
<circle cx="614.9" cy="59.6" r="0.9" fill="#999"/>
<line x1="644.1" y1="25.7" x2="644.1" y2="24.4" stroke="#8b2a8e" stroke-width="1.1"/>
<line x1="644.1" y1="37.2" x2="644.1" y2="45.4" stroke="#8b2a8e" stroke-width="1.1"/>
<line x1="640.7" y1="24.4" x2="647.5" y2="24.4" stroke="#8b2a8e" stroke-width="1.1"/>
<line x1="640.7" y1="45.4" x2="647.5" y2="45.4" stroke="#8b2a8e" stroke-width="1.1"/>
<rect x="637.2" y="25.7" width="13.8" height="11.5" fill="none" stroke="#8b2a8e" stroke-width="1.1"/>
<line x1="637.2" y1="26.4" x2="651" y2="26.4" stroke="#8b2a8e" stroke-width="1.1"/>
<circle cx="644.1" cy="29.1" r="0.9" fill="#aaa" opacity="0.8"/>
<circle cx="646.1" cy="42.7" r="0.9" fill="#aaa" opacity="0.8"/>
<line x1="671.1" y1="59.6" x2="671.1" y2="49.4" stroke="#2a85c9" stroke-width="1.1"/>
<line x1="671.1" y1="88.1" x2="671.1" y2="100.3" stroke="#2a85c9" stroke-width="1.1"/>
<line x1="667.7" y1="49.4" x2="674.5" y2="49.4" stroke="#2a85c9" stroke-width="1.1"/>
<line x1="667.7" y1="100.3" x2="674.5" y2="100.3" stroke="#2a85c9" stroke-width="1.1"/>
<rect x="664.2" y="59.6" width="13.8" height="28.5" fill="none" stroke="#2a85c9" stroke-width="1.1"/>
<line x1="664.2" y1="69.8" x2="678" y2="69.8" stroke="#2a85c9" stroke-width="1.1"/>
<circle cx="671.1" cy="60.3" r="0.9" fill="#aaa" opacity="0.8"/>
<circle cx="672.1" cy="67.1" r="0.9" fill="#aaa" opacity="0.8"/>
<circle cx="672.1" cy="69.8" r="0.9" fill="#aaa" opacity="0.8"/>
<circle cx="670.1" cy="75.2" r="0.9" fill="#aaa" opacity="0.8"/>
<circle cx="673.1" cy="91.5" r="0.9" fill="#aaa" opacity="0.8"/>
<text x="616.8" y="116.8" text-anchor="middle">G7f</text>
<text x="641.2" y="116.8" text-anchor="middle">rACh</text>
<text x="673.5" y="116.8" text-anchor="middle">r5-HT</text>
<polyline points="617.3,11.8 617.3,10 671.3,10 671.3,11.8" fill="none" stroke="#5a5a5a" stroke-width="0.8"/>
<use href="#st" x="636.9" y="4.4"/>
<use href="#st" x="641.8" y="4.4"/>
<use href="#st" x="646.7" y="4.4"/>
<use href="#st" x="651.6" y="4.4"/>
<polyline points="617.3,21 617.3,19.7 644.1,19.7 644.1,22.5" fill="none" stroke="#5a5a5a" stroke-width="0.8"/>
<text x="630.7" y="17.5" text-anchor="middle">ns</text>
<polyline points="644.1,21.3 644.1,21.3 671.3,21.3 671.3,35.5" fill="none" stroke="#5a5a5a" stroke-width="0.8"/>
<use href="#st" x="652.8" y="17.7"/>
<use href="#st" x="657.7" y="17.7"/>
<use href="#st" x="662.6" y="17.7"/>
<text x="498.5" y="140.5" font-weight="bold" font-size="9" fill="#000" style="stroke:#000">h</text>
<line x1="530" y1="138" x2="530" y2="216.5" stroke="#231f20" stroke-width="0.8"/>
<line x1="527.8" y1="216.5" x2="530" y2="216.5" stroke="#231f20" stroke-width="0.8"/>
<text x="526.6" y="219.7" text-anchor="end">0</text>
<line x1="527.8" y1="201.4" x2="530" y2="201.4" stroke="#231f20" stroke-width="0.8"/>
<text x="526.6" y="204.7" text-anchor="end">1</text>
<line x1="527.8" y1="186.4" x2="530" y2="186.4" stroke="#231f20" stroke-width="0.8"/>
<text x="526.6" y="189.6" text-anchor="end">2</text>
<line x1="527.8" y1="171.3" x2="530" y2="171.3" stroke="#231f20" stroke-width="0.8"/>
<text x="526.6" y="174.6" text-anchor="end">3</text>
<line x1="527.8" y1="156.3" x2="530" y2="156.3" stroke="#231f20" stroke-width="0.8"/>
<text x="526.6" y="159.5" text-anchor="end">4</text>
<line x1="527.8" y1="141.2" x2="530" y2="141.2" stroke="#231f20" stroke-width="0.8"/>
<text x="526.6" y="144.4" text-anchor="end">5</text>
<line x1="530" y1="216.5" x2="589" y2="216.5" stroke="#231f20" stroke-width="0.8"/>
<line x1="537.8" y1="216.5" x2="537.8" y2="218.6" stroke="#231f20" stroke-width="0.7"/>
<text x="537.8" y="227.5" text-anchor="middle">0</text>
<line x1="552.3" y1="216.5" x2="552.3" y2="218.6" stroke="#231f20" stroke-width="0.7"/>
<text x="552.3" y="227.5" text-anchor="middle">10</text>
<line x1="566.8" y1="216.5" x2="566.8" y2="218.6" stroke="#231f20" stroke-width="0.7"/>
<text x="566.8" y="227.5" text-anchor="middle">20</text>
<line x1="581.3" y1="216.5" x2="581.3" y2="218.6" stroke="#231f20" stroke-width="0.7"/>
<text x="581.3" y="227.5" text-anchor="middle">30</text>
<text x="559.5" y="236.3" text-anchor="middle">Time (s)</text>
<text transform="translate(514.8 178.6) rotate(-90)" text-anchor="middle" font-size="9.2">Distance to the origin</text>
<path d="M533.4 213.5 L534.2 212.5 L534.9 211.6 L535.6 210.7 L536.3 209.7 L537.1 204.8 L537.8 199.9 L538.5 179.6 L539.2 163.4 L540 153.4 L540.7 150.8 L541.4 153 L542.1 155.3 L542.9 158 L543.6 160.8 L544.3 163.5 L545 168 L545.8 172.4 L546.5 176.8 L547.2 181.3 L547.9 185.7 L548.7 190.1 L549.4 194.6 L550.8 198.9 L553.6 203.9 L556.4 206.2 L559.2 207.7 L562 208.8 L564.8 209.9 L567.6 210.9 L570.4 211.6 L573.2 212.3 L575.9 212.7 L578.7 212.9 L581.5 213.1 L584.3 212.9 L587.1 212.7 L587.1 214.2 L584.3 214.6 L581.5 215 L578.7 215.1 L575.9 215.1 L573.2 214.9 L570.4 214.4 L567.6 214 L564.8 213.2 L562 212.3 L559.2 211.4 L556.4 210.2 L553.6 208.1 L550.8 203.3 L549.4 199.1 L548.7 195.6 L547.9 192.1 L547.2 188.6 L546.5 185.1 L545.8 181.6 L545 178.1 L544.3 174.6 L543.6 172.8 L542.9 171.1 L542.1 169.3 L541.4 168 L540.7 166.8 L540 168.8 L539.2 175.6 L538.5 188.7 L537.8 206 L537.1 210.1 L536.3 214.2 L535.6 214.4 L534.9 214.6 L534.2 214.8 L533.4 215Z" fill="#c89bd0" opacity="0.5" stroke="none"/>
<path d="M533.4 214.2 L534.2 213.6 L534.9 213 L535.6 212.4 L536.3 211.8 L537.1 210.5 L537.8 209.1 L538.5 205.5 L539.2 201.9 L540 197.9 L540.7 193.9 L541.4 191.9 L542.1 189.9 L542.9 187.9 L543.6 186.8 L544.3 185.6 L545 186.4 L545.8 187.2 L546.5 188 L547.2 189.4 L547.9 190.7 L548.7 192.1 L549.4 193.3 L550.8 195.3 L553.6 198.9 L556.4 202.1 L559.2 204.7 L562 206.7 L564.8 208.6 L567.6 210.3 L570.4 211.2 L573.2 212.1 L575.9 212.7 L578.7 213 L581.5 213.3 L584.3 213.2 L587.1 213 L587.1 214.5 L584.3 214.8 L581.5 215.1 L578.7 214.9 L575.9 214.7 L573.2 214.3 L570.4 213.5 L567.6 212.7 L564.8 211.4 L562 210 L559.2 208.5 L556.4 206.4 L553.6 203.8 L550.8 201 L549.4 199.3 L548.7 198.7 L547.9 197.9 L547.2 197.1 L546.5 196.2 L545.8 196 L545 195.8 L544.3 195.6 L543.6 195.9 L542.9 196.3 L542.1 197.5 L541.4 198.7 L540.7 199.9 L540 203.5 L539.2 207 L538.5 210.2 L537.8 213.3 L537.1 214.2 L536.3 215.1 L535.6 215.3 L534.9 215.4 L534.2 215.6 L533.4 215.7Z" fill="#8fc3ea" opacity="0.5" stroke="none"/>
<path d="M533.4 212.7 L534.2 212.2 L534.9 211.7 L535.6 211.1 L536.3 210.6 L537.1 206.7 L537.8 202.8 L538.5 187.5 L539.2 174.9 L540 166.1 L540.7 161.3 L541.4 162.6 L542.1 163.9 L542.9 165.7 L543.6 167.5 L544.3 169.3 L545 172.7 L545.8 176.1 L546.5 179.5 L547.2 182.7 L547.9 185.5 L548.7 188.3 L549.4 191.1 L550.8 194.7 L553.6 199.2 L556.4 202.3 L559.2 205 L562 206.8 L564.8 208.4 L567.6 209.9 L570.4 210.8 L573.2 211.8 L575.9 212.4 L578.7 212.6 L581.5 212.9 L584.3 212.8 L587.1 212.7 L587.1 214.2 L584.3 214.4 L581.5 214.7 L578.7 214.5 L575.9 214.3 L573.2 213.9 L570.4 213.1 L567.6 212.2 L564.8 210.9 L562 209.4 L559.2 207.7 L556.4 205.1 L553.6 202.2 L550.8 197.9 L549.4 194.5 L548.7 191.8 L547.9 189 L547.2 186.3 L546.5 183.2 L545.8 179.9 L545 176.6 L544.3 173.3 L543.6 171.6 L542.9 169.9 L542.1 168.2 L541.4 167 L540.7 165.8 L540 170.4 L539.2 178.9 L538.5 191.2 L537.8 206.1 L537.1 209.8 L536.3 213.4 L535.6 213.6 L534.9 213.8 L534.2 214 L533.4 214.2Z" fill="#8dc9a3" opacity="0.5" stroke="none"/>
<polyline points="533.4,213.5 534.2,213.1 534.9,212.7 535.6,212.4 536.3,212 537.1,208.2 537.8,204.5 538.5,189.4 539.2,176.9 540,168.2 540.7,163.5 541.4,164.8 542.1,166 542.9,167.8 543.6,169.6 544.3,171.3 545,174.7 545.8,178 546.5,181.4 547.2,184.5 547.9,187.3 548.7,190 549.4,192.8 550.8,196.3 553.6,200.7 556.4,203.7 559.2,206.4 562,208.1 564.8,209.7 567.6,211 570.4,212 573.2,212.9 575.9,213.3 578.7,213.6 581.5,213.8 584.3,213.6 587.1,213.5" fill="none" stroke="#1e7f4a" stroke-width="1" stroke-linejoin="round"/>
<polyline points="533.4,215 534.2,214.6 534.9,214.2 535.6,213.9 536.3,213.5 537.1,212.4 537.8,211.2 538.5,207.8 539.2,204.5 540,200.7 540.7,196.9 541.4,195.3 542.1,193.7 542.9,192.1 543.6,191.3 544.3,190.6 545,191.1 545.8,191.6 546.5,192.1 547.2,193.2 547.9,194.3 548.7,195.4 549.4,196.3 550.8,198.1 553.6,201.3 556.4,204.2 559.2,206.6 562,208.3 564.8,210 567.6,211.5 570.4,212.3 573.2,213.2 575.9,213.7 578.7,214 581.5,214.2 584.3,214 587.1,213.8" fill="none" stroke="#2a85c9" stroke-width="1" stroke-linejoin="round"/>
<polyline points="533.4,214.2 534.2,213.7 534.9,213.1 535.6,212.5 536.3,212 537.1,207.5 537.8,202.9 538.5,184.1 539.2,169.5 540,161.1 540.7,158.8 541.4,160.5 542.1,162.3 542.9,164.5 543.6,166.8 544.3,169.1 545,173 545.8,177 546.5,181 547.2,185 547.9,188.9 548.7,192.9 549.4,196.8 550.8,201.1 553.6,206 556.4,208.2 559.2,209.6 562,210.6 564.8,211.6 567.6,212.4 570.4,213 573.2,213.6 575.9,213.9 578.7,214 581.5,214.1 584.3,213.8 587.1,213.5" fill="none" stroke="#8b2a8e" stroke-width="1" stroke-linejoin="round"/>
<line x1="553.8" y1="216.5" x2="553.8" y2="207.2" stroke="#8b2a8e" stroke-width="0.7" stroke-dasharray="1.2 0.8"/>
<line x1="557.7" y1="216.5" x2="557.7" y2="204.8" stroke="#1e7f4a" stroke-width="0.7" stroke-dasharray="1.2 0.8"/>
<line x1="568.2" y1="216.5" x2="568.2" y2="212" stroke="#2a85c9" stroke-width="0.7" stroke-dasharray="1.2 0.8"/>
<line x1="572.3" y1="216.5" x2="572.3" y2="212.7" stroke="#2a85c9" stroke-width="0.7" stroke-dasharray="1.2 0.8"/>
<line x1="558.9" y1="144.5" x2="566.8" y2="144.5" stroke="#7fbf98" stroke-width="1.3"/>
<text x="569.6" y="147.7">G7f</text>
<line x1="558.9" y1="154.7" x2="566.8" y2="154.7" stroke="#c48fc6" stroke-width="1.3"/>
<text x="569.6" y="157.9">rACh</text>
<line x1="558.9" y1="164.4" x2="566.8" y2="164.4" stroke="#8cc0e6" stroke-width="1.3"/>
<text x="569.6" y="167.6">r5-HT</text>
<line x1="617" y1="150" x2="617" y2="217.1" stroke="#231f20" stroke-width="0.8"/>
<line x1="614.8" y1="217.1" x2="617" y2="217.1" stroke="#231f20" stroke-width="0.8"/>
<text x="613.6" y="220.3" text-anchor="end">0</text>
<line x1="614.8" y1="196" x2="617" y2="196" stroke="#231f20" stroke-width="0.8"/>
<text x="613.6" y="199.2" text-anchor="end">2</text>
<line x1="614.8" y1="174.9" x2="617" y2="174.9" stroke="#231f20" stroke-width="0.8"/>
<text x="613.6" y="178.1" text-anchor="end">4</text>
<line x1="614.8" y1="153.8" x2="617" y2="153.8" stroke="#231f20" stroke-width="0.8"/>
<text x="613.6" y="157" text-anchor="end">6</text>
<line x1="617" y1="217.1" x2="685" y2="217.1" stroke="#231f20" stroke-width="0.8"/>
<text transform="translate(605 189.3) rotate(-90)" text-anchor="middle">Max distance</text>
<line x1="630.9" y1="173.8" x2="630.9" y2="155.9" stroke="#1e7f4a" stroke-width="1.1"/>
<line x1="630.9" y1="186.5" x2="630.9" y2="194.9" stroke="#1e7f4a" stroke-width="1.1"/>
<line x1="627.9" y1="155.9" x2="633.9" y2="155.9" stroke="#1e7f4a" stroke-width="1.1"/>
<line x1="627.9" y1="194.9" x2="633.9" y2="194.9" stroke="#1e7f4a" stroke-width="1.1"/>
<rect x="624.6" y="173.8" width="12.6" height="12.7" fill="none" stroke="#1e7f4a" stroke-width="1.1"/>
<line x1="624.6" y1="179.1" x2="637.2" y2="179.1" stroke="#1e7f4a" stroke-width="1.1"/>
<circle cx="631.9" cy="164.3" r="0.9" fill="#aaa" opacity="0.8"/>
<circle cx="629.9" cy="169.6" r="0.9" fill="#aaa" opacity="0.8"/>
<circle cx="631.9" cy="177" r="0.9" fill="#aaa" opacity="0.8"/>
<circle cx="629.9" cy="182.3" r="0.9" fill="#aaa" opacity="0.8"/>
<circle cx="632.9" cy="185.4" r="0.9" fill="#aaa" opacity="0.8"/>
<circle cx="630.9" cy="189.7" r="0.9" fill="#aaa" opacity="0.8"/>
<line x1="649.8" y1="167.5" x2="649.8" y2="164.3" stroke="#8b2a8e" stroke-width="1.1"/>
<line x1="649.8" y1="184.4" x2="649.8" y2="193.9" stroke="#8b2a8e" stroke-width="1.1"/>
<line x1="646.8" y1="164.3" x2="652.8" y2="164.3" stroke="#8b2a8e" stroke-width="1.1"/>
<line x1="646.8" y1="193.9" x2="652.8" y2="193.9" stroke="#8b2a8e" stroke-width="1.1"/>
<rect x="643.5" y="167.5" width="12.6" height="16.9" fill="none" stroke="#8b2a8e" stroke-width="1.1"/>
<line x1="643.5" y1="177" x2="656.1" y2="177" stroke="#8b2a8e" stroke-width="1.1"/>
<circle cx="650.8" cy="168.6" r="0.9" fill="#aaa" opacity="0.8"/>
<circle cx="649.8" cy="174.9" r="0.9" fill="#aaa" opacity="0.8"/>
<circle cx="648.8" cy="181.2" r="0.9" fill="#aaa" opacity="0.8"/>
<circle cx="650.8" cy="187.6" r="0.9" fill="#aaa" opacity="0.8"/>
<line x1="669.2" y1="189.7" x2="669.2" y2="181.2" stroke="#2a85c9" stroke-width="1.1"/>
<line x1="669.2" y1="208.7" x2="669.2" y2="210.8" stroke="#2a85c9" stroke-width="1.1"/>
<line x1="666.2" y1="181.2" x2="672.2" y2="181.2" stroke="#2a85c9" stroke-width="1.1"/>
<line x1="666.2" y1="210.8" x2="672.2" y2="210.8" stroke="#2a85c9" stroke-width="1.1"/>
<rect x="662.9" y="189.7" width="12.6" height="19" fill="none" stroke="#2a85c9" stroke-width="1.1"/>
<line x1="662.9" y1="198.1" x2="675.5" y2="198.1" stroke="#2a85c9" stroke-width="1.1"/>
<circle cx="670.2" cy="183.3" r="0.9" fill="#aaa" opacity="0.8"/>
<circle cx="669.2" cy="191.8" r="0.9" fill="#aaa" opacity="0.8"/>
<circle cx="670.2" cy="198.1" r="0.9" fill="#aaa" opacity="0.8"/>
<circle cx="668.2" cy="204.4" r="0.9" fill="#aaa" opacity="0.8"/>
<text x="619.2" y="227.2" font-size="9.3">G7f rACh r5-HT</text>
<polyline points="630.2,139.4 630.2,135.2 669.3,135.2 669.3,139.4" fill="none" stroke="#5a5a5a" stroke-width="0.8"/>
<use href="#st" x="647.3" y="131.6"/>
<use href="#st" x="652.2" y="131.6"/>
<polyline points="630.2,154.8 630.2,150.6 649.4,150.6 649.4,154.8" fill="none" stroke="#5a5a5a" stroke-width="0.8"/>
<text x="639.8" y="148.4" text-anchor="middle">ns</text>
<polyline points="649.4,148.8 649.4,144.6 669.3,144.6 669.3,148.8" fill="none" stroke="#5a5a5a" stroke-width="0.8"/>
<use href="#st" x="656.9" y="140.5"/>
<use href="#st" x="661.8" y="140.5"/>
<line x1="530.5" y1="258" x2="530.5" y2="317.4" stroke="#231f20" stroke-width="0.8"/>
<line x1="528.3" y1="317.4" x2="530.5" y2="317.4" stroke="#231f20" stroke-width="0.8"/>
<text x="527.1" y="320.6" text-anchor="end">5</text>
<line x1="528.3" y1="299.4" x2="530.5" y2="299.4" stroke="#231f20" stroke-width="0.8"/>
<text x="527.1" y="302.6" text-anchor="end">15</text>
<line x1="528.3" y1="281.4" x2="530.5" y2="281.4" stroke="#231f20" stroke-width="0.8"/>
<text x="527.1" y="284.6" text-anchor="end">25</text>
<line x1="528.3" y1="263.4" x2="530.5" y2="263.4" stroke="#231f20" stroke-width="0.8"/>
<text x="527.1" y="266.6" text-anchor="end">35</text>
<line x1="530.5" y1="317.4" x2="588.6" y2="317.4" stroke="#231f20" stroke-width="0.8"/>
<text transform="translate(515.4 287.7) rotate(-90)" text-anchor="middle">Time (s)</text>
<line x1="540.2" y1="296.7" x2="540.2" y2="292.2" stroke="#1e7f4a" stroke-width="1.1"/>
<line x1="540.2" y1="304.8" x2="540.2" y2="312" stroke="#1e7f4a" stroke-width="1.1"/>
<line x1="537.4" y1="292.2" x2="543" y2="292.2" stroke="#1e7f4a" stroke-width="1.1"/>
<line x1="537.4" y1="312" x2="543" y2="312" stroke="#1e7f4a" stroke-width="1.1"/>
<rect x="534.4" y="296.7" width="11.6" height="8.1" fill="none" stroke="#1e7f4a" stroke-width="1.1"/>
<line x1="534.4" y1="302.1" x2="546" y2="302.1" stroke="#1e7f4a" stroke-width="1.1"/>
<circle cx="541.2" cy="295.8" r="0.9" fill="#aaa" opacity="0.8"/>
<circle cx="540.2" cy="301.2" r="0.9" fill="#aaa" opacity="0.8"/>
<circle cx="539.2" cy="304.8" r="0.9" fill="#aaa" opacity="0.8"/>
<circle cx="541.2" cy="308.4" r="0.9" fill="#aaa" opacity="0.8"/>
<line x1="559.4" y1="303.9" x2="559.4" y2="301.2" stroke="#8b2a8e" stroke-width="1.1"/>
<line x1="559.4" y1="309.3" x2="559.4" y2="312" stroke="#8b2a8e" stroke-width="1.1"/>
<line x1="556.6" y1="301.2" x2="562.2" y2="301.2" stroke="#8b2a8e" stroke-width="1.1"/>
<line x1="556.6" y1="312" x2="562.2" y2="312" stroke="#8b2a8e" stroke-width="1.1"/>
<rect x="553.6" y="303.9" width="11.6" height="5.4" fill="none" stroke="#8b2a8e" stroke-width="1.1"/>
<line x1="553.6" y1="306.6" x2="565.2" y2="306.6" stroke="#8b2a8e" stroke-width="1.1"/>
<circle cx="560.4" cy="304.8" r="0.9" fill="#aaa" opacity="0.8"/>
<circle cx="558.4" cy="308.4" r="0.9" fill="#aaa" opacity="0.8"/>
<line x1="577.7" y1="284.1" x2="577.7" y2="268.8" stroke="#2a85c9" stroke-width="1.1"/>
<line x1="577.7" y1="294.9" x2="577.7" y2="298.5" stroke="#2a85c9" stroke-width="1.1"/>
<line x1="574.9" y1="268.8" x2="580.5" y2="268.8" stroke="#2a85c9" stroke-width="1.1"/>
<line x1="574.9" y1="298.5" x2="580.5" y2="298.5" stroke="#2a85c9" stroke-width="1.1"/>
<rect x="571.9" y="284.1" width="11.6" height="10.8" fill="none" stroke="#2a85c9" stroke-width="1.1"/>
<line x1="571.9" y1="289.5" x2="583.5" y2="289.5" stroke="#2a85c9" stroke-width="1.1"/>
<circle cx="578.7" cy="265.2" r="0.9" fill="#aaa" opacity="0.8"/>
<circle cx="577.7" cy="286.8" r="0.9" fill="#aaa" opacity="0.8"/>
<circle cx="576.7" cy="290.4" r="0.9" fill="#aaa" opacity="0.8"/>
<circle cx="578.7" cy="294" r="0.9" fill="#aaa" opacity="0.8"/>
<text x="530.1" y="327.3" font-size="9.2">G7f rACh r5-HT</text>
<polyline points="540.2,253.7 540.2,249.5 578.9,249.5 578.9,253.7" fill="none" stroke="#5a5a5a" stroke-width="0.8"/>
<use href="#st" x="554.6" y="246.4"/>
<use href="#st" x="559.5" y="246.4"/>
<use href="#st" x="564.4" y="246.4"/>
<polyline points="540.2,269.5 540.2,265.3 559.4,265.3 559.4,269.5" fill="none" stroke="#5a5a5a" stroke-width="0.8"/>
<use href="#st" x="549.8" y="259.6"/>
<polyline points="559.4,262.7 559.4,258.5 578.9,258.5 578.9,262.7" fill="none" stroke="#5a5a5a" stroke-width="0.8"/>
<use href="#st" x="564.2" y="255.2"/>
<use href="#st" x="569.1" y="255.2"/>
<use href="#st" x="574" y="255.2"/>
<line x1="621.2" y1="262" x2="621.2" y2="317.4" stroke="#231f20" stroke-width="0.8"/>
<line x1="619" y1="317.4" x2="621.2" y2="317.4" stroke="#231f20" stroke-width="0.8"/>
<text x="617.8" y="320.6" text-anchor="end">10</text>
<line x1="619" y1="294.9" x2="621.2" y2="294.9" stroke="#231f20" stroke-width="0.8"/>
<text x="617.8" y="298.1" text-anchor="end">20</text>
<line x1="619" y1="272.4" x2="621.2" y2="272.4" stroke="#231f20" stroke-width="0.8"/>
<text x="617.8" y="275.6" text-anchor="end">30</text>
<line x1="621.2" y1="317.4" x2="685" y2="317.4" stroke="#231f20" stroke-width="0.8"/>
<text transform="translate(605 289) rotate(-90)" text-anchor="middle">Return time (s)</text>
<line x1="630.9" y1="279.8" x2="630.9" y2="270.6" stroke="#1e7f4a" stroke-width="1.1"/>
<line x1="630.9" y1="292.6" x2="630.9" y2="306.6" stroke="#1e7f4a" stroke-width="1.1"/>
<line x1="627.9" y1="270.6" x2="633.9" y2="270.6" stroke="#1e7f4a" stroke-width="1.1"/>
<line x1="627.9" y1="306.6" x2="633.9" y2="306.6" stroke="#1e7f4a" stroke-width="1.1"/>
<rect x="624.6" y="279.8" width="12.6" height="12.8" fill="none" stroke="#1e7f4a" stroke-width="1.1"/>
<line x1="624.6" y1="284.8" x2="637.2" y2="284.8" stroke="#1e7f4a" stroke-width="1.1"/>
<circle cx="631.9" cy="274.6" r="0.9" fill="#aaa" opacity="0.8"/>
<circle cx="629.9" cy="281.4" r="0.9" fill="#aaa" opacity="0.8"/>
<circle cx="630.9" cy="285.9" r="0.9" fill="#aaa" opacity="0.8"/>
<circle cx="631.9" cy="290.4" r="0.9" fill="#aaa" opacity="0.8"/>
<circle cx="629.9" cy="297.1" r="0.9" fill="#aaa" opacity="0.8"/>
<line x1="649.8" y1="286.1" x2="649.8" y2="279.6" stroke="#8b2a8e" stroke-width="1.1"/>
<line x1="649.8" y1="294.9" x2="649.8" y2="299.4" stroke="#8b2a8e" stroke-width="1.1"/>
<line x1="646.8" y1="279.6" x2="652.8" y2="279.6" stroke="#8b2a8e" stroke-width="1.1"/>
<line x1="646.8" y1="299.4" x2="652.8" y2="299.4" stroke="#8b2a8e" stroke-width="1.1"/>
<rect x="643.5" y="286.1" width="12.6" height="8.8" fill="none" stroke="#8b2a8e" stroke-width="1.1"/>
<line x1="643.5" y1="290.8" x2="656.1" y2="290.8" stroke="#8b2a8e" stroke-width="1.1"/>
<circle cx="650.8" cy="285.9" r="0.9" fill="#aaa" opacity="0.8"/>
<circle cx="648.8" cy="292.6" r="0.9" fill="#aaa" opacity="0.8"/>
<circle cx="649.8" cy="310" r="0.9" fill="#999"/>
<line x1="669.2" y1="276.4" x2="669.2" y2="270.6" stroke="#2a85c9" stroke-width="1.1"/>
<line x1="669.2" y1="292.6" x2="669.2" y2="306.6" stroke="#2a85c9" stroke-width="1.1"/>
<line x1="666.2" y1="270.6" x2="672.2" y2="270.6" stroke="#2a85c9" stroke-width="1.1"/>
<line x1="666.2" y1="306.6" x2="672.2" y2="306.6" stroke="#2a85c9" stroke-width="1.1"/>
<rect x="662.9" y="276.4" width="12.6" height="16.2" fill="none" stroke="#2a85c9" stroke-width="1.1"/>
<line x1="662.9" y1="283.2" x2="675.5" y2="283.2" stroke="#2a85c9" stroke-width="1.1"/>
<circle cx="670.2" cy="274.6" r="0.9" fill="#aaa" opacity="0.8"/>
<circle cx="669.2" cy="283.6" r="0.9" fill="#aaa" opacity="0.8"/>
<circle cx="668.2" cy="290.4" r="0.9" fill="#aaa" opacity="0.8"/>
<circle cx="670.2" cy="299.4" r="0.9" fill="#aaa" opacity="0.8"/>
<text x="619.2" y="327.3" font-size="9.3">G7f rACh r5-HT</text>
<polyline points="630.2,252.9 630.2,248.7 668.9,248.7 668.9,252.9" fill="none" stroke="#5a5a5a" stroke-width="0.8"/>
<text x="649.5" y="246.5" text-anchor="middle">ns</text>
<polyline points="630.2,267.9 630.2,263.7 649.4,263.7 649.4,267.9" fill="none" stroke="#5a5a5a" stroke-width="0.8"/>
<text x="639.8" y="261.5" text-anchor="middle">ns</text>
<polyline points="649.4,261.8 649.4,257.6 668.9,257.6 668.9,261.8" fill="none" stroke="#5a5a5a" stroke-width="0.8"/>
<text x="659.1" y="255.4" text-anchor="middle">ns</text>
<text x="498.5" y="344.5" font-weight="bold" font-size="9" fill="#000" style="stroke:#000">i</text>
<line x1="530" y1="338" x2="530" y2="416.3" stroke="#231f20" stroke-width="0.8"/>
<line x1="527.8" y1="416.3" x2="530" y2="416.3" stroke="#231f20" stroke-width="0.8"/>
<text x="526.6" y="419.5" text-anchor="end">0</text>
<line x1="527.8" y1="403.6" x2="530" y2="403.6" stroke="#231f20" stroke-width="0.8"/>
<text x="526.6" y="406.8" text-anchor="end">1</text>
<line x1="527.8" y1="390.9" x2="530" y2="390.9" stroke="#231f20" stroke-width="0.8"/>
<text x="526.6" y="394.1" text-anchor="end">2</text>
<line x1="527.8" y1="378.1" x2="530" y2="378.1" stroke="#231f20" stroke-width="0.8"/>
<text x="526.6" y="381.4" text-anchor="end">3</text>
<line x1="527.8" y1="365.4" x2="530" y2="365.4" stroke="#231f20" stroke-width="0.8"/>
<text x="526.6" y="368.7" text-anchor="end">4</text>
<line x1="527.8" y1="352.7" x2="530" y2="352.7" stroke="#231f20" stroke-width="0.8"/>
<text x="526.6" y="355.9" text-anchor="end">5</text>
<line x1="527.8" y1="340" x2="530" y2="340" stroke="#231f20" stroke-width="0.8"/>
<text x="526.6" y="343.2" text-anchor="end">6</text>
<line x1="530" y1="416.3" x2="589" y2="416.3" stroke="#231f20" stroke-width="0.8"/>
<line x1="537.8" y1="416.3" x2="537.8" y2="418.4" stroke="#231f20" stroke-width="0.7"/>
<text x="537.8" y="427.3" text-anchor="middle">0</text>
<line x1="552.3" y1="416.3" x2="552.3" y2="418.4" stroke="#231f20" stroke-width="0.7"/>
<text x="552.3" y="427.3" text-anchor="middle">10</text>
<line x1="566.8" y1="416.3" x2="566.8" y2="418.4" stroke="#231f20" stroke-width="0.7"/>
<text x="566.8" y="427.3" text-anchor="middle">20</text>
<line x1="581.3" y1="416.3" x2="581.3" y2="418.4" stroke="#231f20" stroke-width="0.7"/>
<text x="581.3" y="427.3" text-anchor="middle">30</text>
<text x="559.5" y="436.7" text-anchor="middle">Time (s)</text>
<text transform="translate(514.8 379.4) rotate(-90)" text-anchor="middle" font-size="9.2">Inter-class distance</text>
<path d="M533.4 413.1 L534.2 412.3 L534.9 411.5 L535.6 410.7 L536.3 409.9 L537.1 404.9 L537.8 399.8 L538.5 378.4 L539.2 361.2 L540 350.1 L540.7 347 L541.4 349.1 L542.1 351.2 L542.9 354.6 L543.6 358 L544.3 361.4 L545 366.2 L545.8 370.9 L546.5 375.6 L547.2 380.2 L547.9 384.7 L548.7 389.2 L549.4 393.7 L550.8 398.5 L553.6 404.4 L556.4 407.2 L559.2 408.8 L562 409.7 L564.8 410.6 L567.6 411.3 L570.4 411.8 L573.2 412.3 L575.9 412.5 L578.7 412.6 L581.5 412.6 L584.3 412.2 L587.1 411.8 L587.1 413.1 L584.3 413.7 L581.5 414.3 L578.7 414.4 L575.9 414.5 L573.2 414.5 L570.4 414.2 L567.6 413.9 L564.8 413.3 L562 412.7 L559.2 412 L556.4 410.5 L553.6 407.9 L550.8 402.2 L549.4 397.5 L548.7 394 L547.9 390.4 L547.2 386.9 L546.5 383.2 L545.8 379.5 L545 375.7 L544.3 371.9 L543.6 369.4 L542.9 366.9 L542.1 364.3 L541.4 363 L540.7 361.7 L540 364.2 L539.2 372.2 L538.5 386.5 L537.8 404.9 L537.1 409.3 L536.3 413.8 L535.6 413.9 L534.9 414.1 L534.2 414.2 L533.4 414.4Z" fill="#c89bd0" opacity="0.5" stroke="none"/>
<path d="M533.4 413.1 L534.2 412.6 L534.9 412.1 L535.6 411.6 L536.3 411.1 L537.1 409.9 L537.8 408.8 L538.5 405.7 L539.2 402.7 L540 399.6 L540.7 396.6 L541.4 395.5 L542.1 394.4 L542.9 393.3 L543.6 392.6 L544.3 391.9 L545 392.4 L545.8 392.8 L546.5 393.3 L547.2 394.3 L547.9 395.4 L548.7 396.4 L549.4 397.5 L550.8 399.4 L553.6 402.7 L556.4 405.4 L559.2 407.6 L562 409 L564.8 410.4 L567.6 411.6 L570.4 412 L573.2 412.5 L575.9 412.7 L578.7 412.9 L581.5 413 L584.3 412.7 L587.1 412.5 L587.1 413.8 L584.3 414.1 L581.5 414.5 L578.7 414.5 L575.9 414.4 L573.2 414.3 L570.4 413.9 L567.6 413.6 L564.8 412.8 L562 411.8 L559.2 410.8 L556.4 409 L553.6 406.8 L550.8 404.2 L549.4 402.6 L548.7 401.9 L547.9 401.2 L547.2 400.5 L546.5 399.9 L545.8 399.7 L545 399.6 L544.3 399.5 L543.6 399.7 L542.9 399.9 L542.1 400.5 L541.4 401.1 L540.7 401.7 L540 404.3 L539.2 407 L538.5 409.7 L537.8 412.4 L537.1 413.1 L536.3 413.9 L535.6 414 L534.9 414.1 L534.2 414.3 L533.4 414.4Z" fill="#8fc3ea" opacity="0.5" stroke="none"/>
<path d="M533.4 411.8 L534.2 411.3 L534.9 410.8 L535.6 410.3 L536.3 409.8 L537.1 405.8 L537.8 401.8 L538.5 385.7 L539.2 372.1 L540 362.4 L540.7 357 L541.4 358.1 L542.1 359.2 L542.9 361.4 L543.6 363.6 L544.3 365.8 L545 369.4 L545.8 373.1 L546.5 376.7 L547.2 380.2 L547.9 383.6 L548.7 387.1 L549.4 390.5 L550.8 395.4 L553.6 401.7 L556.4 404.9 L559.2 407.2 L562 408.6 L564.8 409.9 L567.6 411 L570.4 411.5 L573.2 412.1 L575.9 412.3 L578.7 412.3 L581.5 412.4 L584.3 412.1 L587.1 411.8 L587.1 413.1 L584.3 413.5 L581.5 413.8 L578.7 413.9 L575.9 414 L573.2 413.9 L570.4 413.4 L567.6 413 L564.8 412 L562 410.8 L559.2 409.5 L556.4 407.3 L553.6 404.2 L550.8 398.2 L549.4 393.6 L548.7 390.4 L547.9 387.1 L547.2 383.8 L546.5 380.5 L545.8 377 L545 373.5 L544.3 370.1 L543.6 368 L542.9 366 L542.1 364 L541.4 363 L540.7 362 L540 367.2 L539.2 376.6 L538.5 389.7 L537.8 405.4 L537.1 409 L536.3 412.6 L535.6 412.8 L534.9 412.9 L534.2 413 L533.4 413.1Z" fill="#8dc9a3" opacity="0.5" stroke="none"/>
<polyline points="533.4,412.5 534.2,412.2 534.9,411.8 535.6,411.5 536.3,411.2 537.1,407.4 537.8,403.6 538.5,387.7 539.2,374.3 540,364.8 540.7,359.5 541.4,360.5 542.1,361.6 542.9,363.7 543.6,365.8 544.3,368 545,371.5 545.8,375 546.5,378.6 547.2,382 547.9,385.4 548.7,388.7 549.4,392.1 550.8,396.8 553.6,403 556.4,406.1 559.2,408.4 562,409.7 564.8,411 567.6,412 570.4,412.5 573.2,413 575.9,413.1 578.7,413.1 581.5,413.1 584.3,412.8 587.1,412.5" fill="none" stroke="#1e7f4a" stroke-width="1" stroke-linejoin="round"/>
<polyline points="533.4,413.8 534.2,413.4 534.9,413.1 535.6,412.8 536.3,412.5 537.1,411.5 537.8,410.6 538.5,407.7 539.2,404.9 540,402 540.7,399.1 541.4,398.3 542.1,397.4 542.9,396.6 543.6,396.1 544.3,395.7 545,396 545.8,396.3 546.5,396.6 547.2,397.4 547.9,398.3 548.7,399.1 549.4,400 550.8,401.8 553.6,404.8 556.4,407.2 559.2,409.2 562,410.4 564.8,411.6 567.6,412.6 570.4,413 573.2,413.4 575.9,413.6 578.7,413.7 581.5,413.7 584.3,413.4 587.1,413.1" fill="none" stroke="#2a85c9" stroke-width="1" stroke-linejoin="round"/>
<polyline points="533.4,413.8 534.2,413.3 534.9,412.8 535.6,412.3 536.3,411.8 537.1,407.1 537.8,402.3 538.5,382.4 539.2,366.7 540,357.2 540.7,354.4 541.4,356.1 542.1,357.8 542.9,360.8 543.6,363.7 544.3,366.7 545,370.9 545.8,375.2 546.5,379.4 547.2,383.6 547.9,387.6 548.7,391.6 549.4,395.6 550.8,400.3 553.6,406.2 556.4,408.9 559.2,410.4 562,411.2 564.8,412 567.6,412.6 570.4,413 573.2,413.4 575.9,413.5 578.7,413.5 581.5,413.5 584.3,413 587.1,412.5" fill="none" stroke="#8b2a8e" stroke-width="1" stroke-linejoin="round"/>
<line x1="553.5" y1="416.3" x2="553.5" y2="406.1" stroke="#8b2a8e" stroke-width="0.7" stroke-dasharray="1.2 0.8"/>
<line x1="555.5" y1="416.3" x2="555.5" y2="405.5" stroke="#8b2a8e" stroke-width="0.7" stroke-dasharray="1.2 0.8"/>
<line x1="557.4" y1="416.3" x2="557.4" y2="406.1" stroke="#1e7f4a" stroke-width="0.7" stroke-dasharray="1.2 0.8"/>
<line x1="567.5" y1="416.3" x2="567.5" y2="412.5" stroke="#2a85c9" stroke-width="0.7" stroke-dasharray="1.2 0.8"/>
<line x1="570.4" y1="416.3" x2="570.4" y2="413.1" stroke="#2a85c9" stroke-width="0.7" stroke-dasharray="1.2 0.8"/>
<line x1="560.2" y1="345.5" x2="569.3" y2="345.5" stroke="#7fbf98" stroke-width="1.3"/>
<text x="572.1" y="348.7">G7f</text>
<line x1="560.2" y1="355" x2="569.3" y2="355" stroke="#c48fc6" stroke-width="1.3"/>
<text x="572.1" y="358.2">rACh</text>
<line x1="560.2" y1="364.7" x2="569.3" y2="364.7" stroke="#8cc0e6" stroke-width="1.3"/>
<text x="572.1" y="367.9">r5-HT</text>
<line x1="620.4" y1="362" x2="620.4" y2="416.3" stroke="#231f20" stroke-width="0.8"/>
<line x1="618.2" y1="416.3" x2="620.4" y2="416.3" stroke="#231f20" stroke-width="0.8"/>
<text x="617" y="419.5" text-anchor="end">0</text>
<line x1="618.2" y1="403.8" x2="620.4" y2="403.8" stroke="#231f20" stroke-width="0.8"/>
<text x="617" y="407" text-anchor="end">2</text>
<line x1="618.2" y1="391.2" x2="620.4" y2="391.2" stroke="#231f20" stroke-width="0.8"/>
<text x="617" y="394.4" text-anchor="end">4</text>
<line x1="618.2" y1="378.6" x2="620.4" y2="378.6" stroke="#231f20" stroke-width="0.8"/>
<text x="617" y="381.9" text-anchor="end">6</text>
<line x1="618.2" y1="366.1" x2="620.4" y2="366.1" stroke="#231f20" stroke-width="0.8"/>
<text x="617" y="369.3" text-anchor="end">8</text>
<line x1="620.4" y1="416.3" x2="685" y2="416.3" stroke="#231f20" stroke-width="0.8"/>
<text transform="translate(605 389.1) rotate(-90)" text-anchor="middle">Max distance</text>
<line x1="630.9" y1="381.8" x2="630.9" y2="372.4" stroke="#1e7f4a" stroke-width="1.1"/>
<line x1="630.9" y1="393.1" x2="630.9" y2="398.7" stroke="#1e7f4a" stroke-width="1.1"/>
<line x1="627.9" y1="372.4" x2="633.9" y2="372.4" stroke="#1e7f4a" stroke-width="1.1"/>
<line x1="627.9" y1="398.7" x2="633.9" y2="398.7" stroke="#1e7f4a" stroke-width="1.1"/>
<rect x="624.6" y="381.8" width="12.6" height="11.3" fill="none" stroke="#1e7f4a" stroke-width="1.1"/>
<line x1="624.6" y1="388.7" x2="637.2" y2="388.7" stroke="#1e7f4a" stroke-width="1.1"/>
<circle cx="631.9" cy="383.7" r="0.9" fill="#aaa" opacity="0.8"/>
<circle cx="629.9" cy="387.4" r="0.9" fill="#aaa" opacity="0.8"/>
<circle cx="630.9" cy="391.2" r="0.9" fill="#aaa" opacity="0.8"/>
<circle cx="631.9" cy="393.7" r="0.9" fill="#aaa" opacity="0.8"/>
<line x1="649.8" y1="376.8" x2="649.8" y2="364.2" stroke="#8b2a8e" stroke-width="1.1"/>
<line x1="649.8" y1="394.3" x2="649.8" y2="399.4" stroke="#8b2a8e" stroke-width="1.1"/>
<line x1="646.8" y1="364.2" x2="652.8" y2="364.2" stroke="#8b2a8e" stroke-width="1.1"/>
<line x1="646.8" y1="399.4" x2="652.8" y2="399.4" stroke="#8b2a8e" stroke-width="1.1"/>
<rect x="643.5" y="376.8" width="12.6" height="17.6" fill="none" stroke="#8b2a8e" stroke-width="1.1"/>
<line x1="643.5" y1="383.7" x2="656.1" y2="383.7" stroke="#8b2a8e" stroke-width="1.1"/>
<circle cx="650.8" cy="369.2" r="0.9" fill="#aaa" opacity="0.8"/>
<circle cx="649.8" cy="381.8" r="0.9" fill="#aaa" opacity="0.8"/>
<circle cx="648.8" cy="388.1" r="0.9" fill="#aaa" opacity="0.8"/>
<circle cx="650.8" cy="396.2" r="0.9" fill="#aaa" opacity="0.8"/>
<line x1="669.2" y1="400.6" x2="669.2" y2="398.7" stroke="#2a85c9" stroke-width="1.1"/>
<line x1="669.2" y1="410" x2="669.2" y2="411.3" stroke="#2a85c9" stroke-width="1.1"/>
<line x1="666.2" y1="398.7" x2="672.2" y2="398.7" stroke="#2a85c9" stroke-width="1.1"/>
<line x1="666.2" y1="411.3" x2="672.2" y2="411.3" stroke="#2a85c9" stroke-width="1.1"/>
<rect x="662.9" y="400.6" width="12.6" height="9.4" fill="none" stroke="#2a85c9" stroke-width="1.1"/>
<line x1="662.9" y1="403.8" x2="675.5" y2="403.8" stroke="#2a85c9" stroke-width="1.1"/>
<circle cx="670.2" cy="400" r="0.9" fill="#aaa" opacity="0.8"/>
<circle cx="668.2" cy="406.9" r="0.9" fill="#aaa" opacity="0.8"/>
<text x="619.2" y="427" font-size="9.3">G7f rACh r5-HT</text>
<polyline points="630.2,347.5 630.2,343.3 669.3,343.3 669.3,347.5" fill="none" stroke="#5a5a5a" stroke-width="0.8"/>
<use href="#st" x="642.4" y="339.3"/>
<use href="#st" x="647.3" y="339.3"/>
<use href="#st" x="652.2" y="339.3"/>
<use href="#st" x="657.1" y="339.3"/>
<polyline points="630.2,362.4 630.2,358.2 649.4,358.2 649.4,362.4" fill="none" stroke="#5a5a5a" stroke-width="0.8"/>
<text x="639.8" y="356" text-anchor="middle">ns</text>
<polyline points="649.4,356.3 649.4,352.1 669.3,352.1 669.3,356.3" fill="none" stroke="#5a5a5a" stroke-width="0.8"/>
<use href="#st" x="654.4" y="347.8"/>
<use href="#st" x="659.3" y="347.8"/>
<use href="#st" x="664.2" y="347.8"/>
<line x1="530.5" y1="456" x2="530.5" y2="516.5" stroke="#231f20" stroke-width="0.8"/>
<line x1="528.3" y1="516.5" x2="530.5" y2="516.5" stroke="#231f20" stroke-width="0.8"/>
<text x="527.1" y="519.7" text-anchor="end">5</text>
<line x1="528.3" y1="497.8" x2="530.5" y2="497.8" stroke="#231f20" stroke-width="0.8"/>
<text x="527.1" y="501.1" text-anchor="end">15</text>
<line x1="528.3" y1="479.2" x2="530.5" y2="479.2" stroke="#231f20" stroke-width="0.8"/>
<text x="527.1" y="482.4" text-anchor="end">25</text>
<line x1="528.3" y1="460.5" x2="530.5" y2="460.5" stroke="#231f20" stroke-width="0.8"/>
<text x="527.1" y="463.7" text-anchor="end">35</text>
<line x1="530.5" y1="516.5" x2="588.6" y2="516.5" stroke="#231f20" stroke-width="0.8"/>
<text transform="translate(515.4 486) rotate(-90)" text-anchor="middle">Time (s)</text>
<line x1="540.2" y1="497.8" x2="540.2" y2="494.1" stroke="#1e7f4a" stroke-width="1.1"/>
<line x1="540.2" y1="505.3" x2="540.2" y2="510.9" stroke="#1e7f4a" stroke-width="1.1"/>
<line x1="537.4" y1="494.1" x2="543" y2="494.1" stroke="#1e7f4a" stroke-width="1.1"/>
<line x1="537.4" y1="510.9" x2="543" y2="510.9" stroke="#1e7f4a" stroke-width="1.1"/>
<rect x="534.4" y="497.8" width="11.6" height="7.5" fill="none" stroke="#1e7f4a" stroke-width="1.1"/>
<line x1="534.4" y1="501.6" x2="546" y2="501.6" stroke="#1e7f4a" stroke-width="1.1"/>
<circle cx="541.2" cy="496" r="0.9" fill="#aaa" opacity="0.8"/>
<circle cx="539.2" cy="501.6" r="0.9" fill="#aaa" opacity="0.8"/>
<circle cx="540.2" cy="505.3" r="0.9" fill="#aaa" opacity="0.8"/>
<line x1="559.4" y1="503.4" x2="559.4" y2="501.6" stroke="#8b2a8e" stroke-width="1.1"/>
<line x1="559.4" y1="508.1" x2="559.4" y2="509" stroke="#8b2a8e" stroke-width="1.1"/>
<line x1="556.6" y1="501.6" x2="562.2" y2="501.6" stroke="#8b2a8e" stroke-width="1.1"/>
<line x1="556.6" y1="509" x2="562.2" y2="509" stroke="#8b2a8e" stroke-width="1.1"/>
<rect x="553.6" y="503.4" width="11.6" height="4.7" fill="none" stroke="#8b2a8e" stroke-width="1.1"/>
<line x1="553.6" y1="506.2" x2="565.2" y2="506.2" stroke="#8b2a8e" stroke-width="1.1"/>
<circle cx="560.4" cy="505.3" r="0.9" fill="#aaa" opacity="0.8"/>
<circle cx="559.4" cy="494.1" r="0.9" fill="#999"/>
<line x1="577.7" y1="477.3" x2="577.7" y2="463.3" stroke="#2a85c9" stroke-width="1.1"/>
<line x1="577.7" y1="488.5" x2="577.7" y2="494.1" stroke="#2a85c9" stroke-width="1.1"/>
<line x1="574.9" y1="463.3" x2="580.5" y2="463.3" stroke="#2a85c9" stroke-width="1.1"/>
<line x1="574.9" y1="494.1" x2="580.5" y2="494.1" stroke="#2a85c9" stroke-width="1.1"/>
<rect x="571.9" y="477.3" width="11.6" height="11.2" fill="none" stroke="#2a85c9" stroke-width="1.1"/>
<line x1="571.9" y1="486.6" x2="583.5" y2="486.6" stroke="#2a85c9" stroke-width="1.1"/>
<circle cx="578.7" cy="479.2" r="0.9" fill="#aaa" opacity="0.8"/>
<circle cx="577.7" cy="484.8" r="0.9" fill="#aaa" opacity="0.8"/>
<circle cx="576.7" cy="488.5" r="0.9" fill="#aaa" opacity="0.8"/>
<text x="530.1" y="526.1" font-size="9.2">G7f rACh r5-HT</text>
<polyline points="539.5,452.3 539.5,448.1 578.9,448.1 578.9,452.3" fill="none" stroke="#5a5a5a" stroke-width="0.8"/>
<use href="#st" x="551.9" y="444.3"/>
<use href="#st" x="556.8" y="444.3"/>
<use href="#st" x="561.6" y="444.3"/>
<use href="#st" x="566.6" y="444.3"/>
<polyline points="539.5,467.4 539.5,463.2 558.9,463.2 558.9,467.4" fill="none" stroke="#5a5a5a" stroke-width="0.8"/>
<text x="549.2" y="461" text-anchor="middle">ns</text>
<polyline points="558.9,460.8 558.9,456.6 578.9,456.6 578.9,460.8" fill="none" stroke="#5a5a5a" stroke-width="0.8"/>
<use href="#st" x="564" y="453.1"/>
<use href="#st" x="568.9" y="453.1"/>
<use href="#st" x="573.8" y="453.1"/>
<line x1="621.2" y1="456" x2="621.2" y2="516.5" stroke="#231f20" stroke-width="0.8"/>
<line x1="619" y1="516.5" x2="621.2" y2="516.5" stroke="#231f20" stroke-width="0.8"/>
<text x="617.8" y="519.7" text-anchor="end">5</text>
<line x1="619" y1="498" x2="621.2" y2="498" stroke="#231f20" stroke-width="0.8"/>
<text x="617.8" y="501.3" text-anchor="end">15</text>
<line x1="619" y1="479.6" x2="621.2" y2="479.6" stroke="#231f20" stroke-width="0.8"/>
<text x="617.8" y="482.8" text-anchor="end">25</text>
<line x1="619" y1="461.1" x2="621.2" y2="461.1" stroke="#231f20" stroke-width="0.8"/>
<text x="617.8" y="464.3" text-anchor="end">35</text>
<line x1="621.2" y1="516.5" x2="685" y2="516.5" stroke="#231f20" stroke-width="0.8"/>
<text transform="translate(605 487) rotate(-90)" text-anchor="middle">Return time (s)</text>
<line x1="630.9" y1="481.4" x2="630.9" y2="474" stroke="#1e7f4a" stroke-width="1.1"/>
<line x1="630.9" y1="497.1" x2="630.9" y2="506.3" stroke="#1e7f4a" stroke-width="1.1"/>
<line x1="627.9" y1="474" x2="633.9" y2="474" stroke="#1e7f4a" stroke-width="1.1"/>
<line x1="627.9" y1="506.3" x2="633.9" y2="506.3" stroke="#1e7f4a" stroke-width="1.1"/>
<rect x="624.6" y="481.4" width="12.6" height="15.7" fill="none" stroke="#1e7f4a" stroke-width="1.1"/>
<line x1="624.6" y1="488.8" x2="637.2" y2="488.8" stroke="#1e7f4a" stroke-width="1.1"/>
<circle cx="631.9" cy="477.7" r="0.9" fill="#aaa" opacity="0.8"/>
<circle cx="629.9" cy="485.1" r="0.9" fill="#aaa" opacity="0.8"/>
<circle cx="630.9" cy="492.5" r="0.9" fill="#aaa" opacity="0.8"/>
<circle cx="631.9" cy="501.7" r="0.9" fill="#aaa" opacity="0.8"/>
<line x1="649.8" y1="481.4" x2="649.8" y2="471.2" stroke="#8b2a8e" stroke-width="1.1"/>
<line x1="649.8" y1="492.5" x2="649.8" y2="501.7" stroke="#8b2a8e" stroke-width="1.1"/>
<line x1="646.8" y1="471.2" x2="652.8" y2="471.2" stroke="#8b2a8e" stroke-width="1.1"/>
<line x1="646.8" y1="501.7" x2="652.8" y2="501.7" stroke="#8b2a8e" stroke-width="1.1"/>
<rect x="643.5" y="481.4" width="12.6" height="11.1" fill="none" stroke="#8b2a8e" stroke-width="1.1"/>
<line x1="643.5" y1="486" x2="656.1" y2="486" stroke="#8b2a8e" stroke-width="1.1"/>
<circle cx="650.8" cy="479.6" r="0.9" fill="#aaa" opacity="0.8"/>
<circle cx="648.8" cy="488.8" r="0.9" fill="#aaa" opacity="0.8"/>
<line x1="669.2" y1="479.6" x2="669.2" y2="468.5" stroke="#2a85c9" stroke-width="1.1"/>
<line x1="669.2" y1="493.4" x2="669.2" y2="498" stroke="#2a85c9" stroke-width="1.1"/>
<line x1="666.2" y1="468.5" x2="672.2" y2="468.5" stroke="#2a85c9" stroke-width="1.1"/>
<line x1="666.2" y1="498" x2="672.2" y2="498" stroke="#2a85c9" stroke-width="1.1"/>
<rect x="662.9" y="479.6" width="12.6" height="13.9" fill="none" stroke="#2a85c9" stroke-width="1.1"/>
<line x1="662.9" y1="482.3" x2="675.5" y2="482.3" stroke="#2a85c9" stroke-width="1.1"/>
<circle cx="670.2" cy="474" r="0.9" fill="#aaa" opacity="0.8"/>
<circle cx="669.2" cy="483.3" r="0.9" fill="#aaa" opacity="0.8"/>
<circle cx="668.2" cy="490.6" r="0.9" fill="#aaa" opacity="0.8"/>
<text x="619.2" y="526.1" font-size="9.3">G7f rACh r5-HT</text>
<polyline points="631.2,454.6 631.2,450.4 669.5,450.4 669.5,454.6" fill="none" stroke="#5a5a5a" stroke-width="0.8"/>
<text x="650.4" y="448.2" text-anchor="middle">ns</text>
<polyline points="631.2,469.6 631.2,465.4 650.2,465.4 650.2,469.6" fill="none" stroke="#5a5a5a" stroke-width="0.8"/>
<text x="640.7" y="463.2" text-anchor="middle">ns</text>
<polyline points="650.2,463.6 650.2,459.4 669.5,459.4 669.5,463.6" fill="none" stroke="#5a5a5a" stroke-width="0.8"/>
<text x="659.9" y="457.2" text-anchor="middle">ns</text>
<text x="498.5" y="547.5" font-weight="bold" font-size="9" fill="#000" style="stroke:#000">j</text>
<line x1="530" y1="556.5" x2="530" y2="615.8" stroke="#231f20" stroke-width="0.8"/>
<line x1="527.8" y1="615.1" x2="530" y2="615.1" stroke="#231f20" stroke-width="0.8"/>
<text x="526.6" y="618.3" text-anchor="end">1.4</text>
<line x1="527.8" y1="591.8" x2="530" y2="591.8" stroke="#231f20" stroke-width="0.8"/>
<text x="526.6" y="595" text-anchor="end">1.6</text>
<line x1="527.8" y1="568.5" x2="530" y2="568.5" stroke="#231f20" stroke-width="0.8"/>
<text x="526.6" y="571.7" text-anchor="end">1.8</text>
<line x1="530" y1="615.8" x2="584" y2="615.8" stroke="#231f20" stroke-width="0.8"/>
<text x="538.5" y="626.5" text-anchor="middle">2.5</text>
<text x="560.2" y="626.5" text-anchor="middle">7.5</text>
<text x="581.9" y="626.5" text-anchor="middle">12.5</text>
<text x="556.9" y="636.7" text-anchor="middle">Time (s)</text>
<text transform="translate(514.8 590.2) rotate(-90)" text-anchor="middle" font-size="9.2">Intra-class distance</text>
<path d="M532.6 594.2 L534.6 581.1 L537.2 570.5 L540.5 566.6 L544.4 562 L548.4 562 L551.6 562.9 L555.6 561.3 L558.9 563.3 L562.8 566.6 L566.8 573.8 L570 575.1 L573.3 577.8 L577.3 579.7 L581.6 585.7 L581.6 598.7 L577.3 592.7 L573.3 590.8 L570 588.1 L566.8 586.8 L562.8 579.6 L558.9 576.3 L555.6 574.3 L551.6 575.9 L548.4 575 L544.4 575 L540.5 579.6 L537.2 583.5 L534.6 594.1 L532.6 607.2Z" fill="#a9cfee" opacity="0.7" stroke="none"/>
<path d="M532.6 578.8 L536.5 569.6 L539.8 571.5 L543.8 578.8 L547.7 577.5 L551 584 L554.9 587.3 L558.9 592.6 L562.8 597.8 L566.8 600.4 L570.7 604.4 L574 597.8 L577.9 603.7 L581.6 603.1 L581.6 614.1 L577.9 614.7 L574 608.8 L570.7 615.4 L566.8 611.4 L562.8 608.8 L558.9 603.6 L554.9 598.3 L551 595 L547.7 588.5 L543.8 589.8 L539.8 582.5 L536.5 580.6 L532.6 589.8Z" fill="#d6b3da" opacity="0.7" stroke="none"/>
<path d="M532.6 586.4 L535.9 582.4 L539.8 584.4 L543.1 586.4 L547 590.3 L551 593.6 L554.9 594.3 L558.9 595.6 L562.8 598.2 L566.8 601.5 L570.7 603.4 L574.6 604.5 L577.9 604.8 L581.6 607.1 L581.6 612.1 L577.9 609.8 L574.6 609.5 L570.7 608.4 L566.8 606.5 L562.8 603.2 L558.9 600.6 L554.9 599.3 L551 598.6 L547 595.3 L543.1 591.4 L539.8 589.4 L535.9 587.4 L532.6 591.4Z" fill="#a8d5b8" opacity="0.7" stroke="none"/>
<polyline points="532.6,588.9 535.9,584.9 539.8,586.9 543.1,588.9 547,592.8 551,596.1 554.9,596.8 558.9,598.1 562.8,600.7 566.8,604 570.7,605.9 574.6,607 577.9,607.3 581.6,609.6" fill="none" stroke="#1e7f4a" stroke-width="0.9"/>
<polyline points="532.6,584.3 536.5,575.1 539.8,577 543.8,584.3 547.7,583 551,589.5 554.9,592.8 558.9,598.1 562.8,603.3 566.8,605.9 570.7,609.9 574,603.3 577.9,609.2 581.6,608.6" fill="none" stroke="#8b2a8e" stroke-width="0.9"/>
<polyline points="532.6,600.7 534.6,587.6 537.2,577 540.5,573.1 544.4,568.5 548.4,568.5 551.6,569.4 555.6,567.8 558.9,569.8 562.8,573.1 566.8,580.3 570,581.6 573.3,584.3 577.3,586.2 581.6,592.2" fill="none" stroke="#2a85c9" stroke-width="0.9"/>
<line x1="554.3" y1="542.2" x2="563.5" y2="542.2" stroke="#1e7f4a" stroke-width="0.9"/>
<text x="564.2" y="545.4">G7f</text>
<line x1="554.3" y1="552.3" x2="563.5" y2="552.3" stroke="#8b2a8e" stroke-width="0.9"/>
<text x="564.2" y="555.5">rACh</text>
<line x1="554.3" y1="561.9" x2="563.5" y2="561.9" stroke="#2a85c9" stroke-width="0.9"/>
<text x="564.2" y="565.1">r5-HT</text>
<line x1="620.4" y1="556.5" x2="620.4" y2="614.6" stroke="#231f20" stroke-width="0.8"/>
<line x1="618.2" y1="614.6" x2="620.4" y2="614.6" stroke="#231f20" stroke-width="0.8"/>
<text x="617" y="617.8" text-anchor="end">1</text>
<line x1="618.2" y1="575.8" x2="620.4" y2="575.8" stroke="#231f20" stroke-width="0.8"/>
<text x="617" y="579" text-anchor="end">2</text>
<line x1="620.4" y1="614.6" x2="685" y2="614.6" stroke="#231f20" stroke-width="0.8"/>
<text transform="translate(605 588.3) rotate(-90)" text-anchor="middle">Average distance</text>
<line x1="630.9" y1="590.9" x2="630.9" y2="587.8" stroke="#1e7f4a" stroke-width="1.1"/>
<line x1="630.9" y1="597.5" x2="630.9" y2="601.4" stroke="#1e7f4a" stroke-width="1.1"/>
<line x1="627.9" y1="587.8" x2="633.9" y2="587.8" stroke="#1e7f4a" stroke-width="1.1"/>
<line x1="627.9" y1="601.4" x2="633.9" y2="601.4" stroke="#1e7f4a" stroke-width="1.1"/>
<rect x="624.6" y="590.9" width="12.6" height="6.6" fill="none" stroke="#1e7f4a" stroke-width="1.1"/>
<line x1="624.6" y1="593.6" x2="637.2" y2="593.6" stroke="#1e7f4a" stroke-width="1.1"/>
<circle cx="631.9" cy="593.3" r="0.9" fill="#aaa" opacity="0.8"/>
<line x1="649.8" y1="590.5" x2="649.8" y2="582.8" stroke="#8b2a8e" stroke-width="1.1"/>
<line x1="649.8" y1="596.8" x2="649.8" y2="599.9" stroke="#8b2a8e" stroke-width="1.1"/>
<line x1="646.8" y1="582.8" x2="652.8" y2="582.8" stroke="#8b2a8e" stroke-width="1.1"/>
<line x1="646.8" y1="599.9" x2="652.8" y2="599.9" stroke="#8b2a8e" stroke-width="1.1"/>
<rect x="643.5" y="590.5" width="12.6" height="6.2" fill="none" stroke="#8b2a8e" stroke-width="1.1"/>
<line x1="643.5" y1="593.3" x2="656.1" y2="593.3" stroke="#8b2a8e" stroke-width="1.1"/>
<circle cx="650.8" cy="591.3" r="0.9" fill="#aaa" opacity="0.8"/>
<line x1="669.2" y1="585.5" x2="669.2" y2="584.7" stroke="#2a85c9" stroke-width="1.1"/>
<line x1="669.2" y1="592.5" x2="669.2" y2="593.3" stroke="#2a85c9" stroke-width="1.1"/>
<line x1="666.2" y1="584.7" x2="672.2" y2="584.7" stroke="#2a85c9" stroke-width="1.1"/>
<line x1="666.2" y1="593.3" x2="672.2" y2="593.3" stroke="#2a85c9" stroke-width="1.1"/>
<rect x="662.9" y="585.5" width="12.6" height="7" fill="none" stroke="#2a85c9" stroke-width="1.1"/>
<line x1="662.9" y1="589.4" x2="675.5" y2="589.4" stroke="#2a85c9" stroke-width="1.1"/>
<circle cx="670.2" cy="573.1" r="0.9" fill="#999"/>
<circle cx="670.2" cy="575.8" r="0.9" fill="#999"/>
<text x="619.2" y="625.7" font-size="9.3">G7f rACh r5-HT</text>
<polyline points="630.2,558.5 630.2,554.3 668.9,554.3 668.9,558.5" fill="none" stroke="#5a5a5a" stroke-width="0.8"/>
<text x="649.5" y="552.1" text-anchor="middle">ns</text>
<polyline points="630.2,573.7 630.2,569.5 649.4,569.5 649.4,573.7" fill="none" stroke="#5a5a5a" stroke-width="0.8"/>
<text x="639.8" y="567.3" text-anchor="middle">ns</text>
<polyline points="649.4,566.8 649.4,562.6 668.9,562.6 668.9,566.8" fill="none" stroke="#5a5a5a" stroke-width="0.8"/>
<text x="659.1" y="560.4" text-anchor="middle">ns</text>
<text x="2.5" y="7.2" font-weight="bold" font-size="9" fill="#000" style="stroke:#000">a</text>
<text x="51.8" y="18.2" text-anchor="middle">Accuracy - G7f</text>
<text x="151.8" y="18.2" text-anchor="middle">Accuracy - rACh</text>
<text x="252.8" y="18.2" text-anchor="middle">Accuracy - r5-HT</text>
<g clip-path="url(#cp1)"><rect x="10.4" y="26.6" width="61" height="62.5" fill="#00008a"/><path d="M10.8 34.6 C11.4 31.5 12.3 31.2 13.8 30.2 C15.2 29.2 17 28.8 19.6 28.5 C22.1 28.1 26.5 27.9 29.3 28 C32.1 28.2 34.6 28.8 36.4 29.5 C38.2 30.3 38.8 32.4 40 32.4 C41.3 32.4 41.9 30.3 43.6 29.5 C45.3 28.8 47.4 28.2 50.2 28 C53 27.9 57.5 28 60.4 28.5 C63.3 29 66 29.7 67.7 31 C69.5 32.2 70.5 33.1 71.1 36.1 C71.7 39.1 71.4 44.8 71.4 49.1 C71.4 53.4 72.2 59.5 71.1 61.9 C70 64.4 66.5 62.8 64.8 63.9 C63.2 64.9 62.2 66.5 61.2 68.2 C60.2 69.9 59.7 72.2 59 74 C58.3 75.8 58.5 77.6 56.8 79.1 C55.1 80.6 51.6 82.3 48.8 83.2 C46 84 43 84.4 40 84.4 C37.1 84.4 33.8 84 31.3 83.2 C28.7 82.3 26.2 80.6 24.7 79.1 C23.1 77.6 22.8 75.8 21.8 74 C20.8 72.2 20 69.9 18.9 68.2 C17.8 66.5 16.6 64.9 15.2 63.9 C13.9 62.8 11.5 64.4 10.7 61.9 C9.9 59.5 10.4 53.7 10.4 49.1 C10.4 44.5 10.3 37.7 10.8 34.6Z" fill="none" stroke="#0a30f0" stroke-width="4" filter="url(#bl2_5)"/><g filter="url(#bl0_7)"><path d="M10.8 34.6 C11.4 31.5 12.3 31.2 13.8 30.2 C15.2 29.2 17 28.8 19.6 28.5 C22.1 28.1 26.5 27.9 29.3 28 C32.1 28.2 34.6 28.8 36.4 29.5 C38.2 30.3 38.8 32.4 40 32.4 C41.3 32.4 41.9 30.3 43.6 29.5 C45.3 28.8 47.4 28.2 50.2 28 C53 27.9 57.5 28 60.4 28.5 C63.3 29 66 29.7 67.7 31 C69.5 32.2 70.5 33.1 71.1 36.1 C71.7 39.1 71.4 44.8 71.4 49.1 C71.4 53.4 72.2 59.5 71.1 61.9 C70 64.4 66.5 62.8 64.8 63.9 C63.2 64.9 62.2 66.5 61.2 68.2 C60.2 69.9 59.7 72.2 59 74 C58.3 75.8 58.5 77.6 56.8 79.1 C55.1 80.6 51.6 82.3 48.8 83.2 C46 84 43 84.4 40 84.4 C37.1 84.4 33.8 84 31.3 83.2 C28.7 82.3 26.2 80.6 24.7 79.1 C23.1 77.6 22.8 75.8 21.8 74 C20.8 72.2 20 69.9 18.9 68.2 C17.8 66.5 16.6 64.9 15.2 63.9 C13.9 62.8 11.5 64.4 10.7 61.9 C9.9 59.5 10.4 53.7 10.4 49.1 C10.4 44.5 10.3 37.7 10.8 34.6Z" fill="#0050ff"/><path d="M10.4 61 C11.2 58.1 14 62.5 15.3 64.1 C16.6 65.7 18.1 68.1 18.3 70.3 C18.5 72.6 17.8 76 16.5 77.8 C15.2 79.7 11.4 84.4 10.4 81.6 C9.4 78.8 9.6 63.9 10.4 61Z" fill="#0050ff"/><path d="M71.4 61 C70.6 58.1 67.8 62.5 66.5 64.1 C65.2 65.7 63.7 68.1 63.5 70.3 C63.3 72.6 64 76 65.3 77.8 C66.6 79.7 70.4 84.4 71.4 81.6 C72.4 78.8 72.2 63.9 71.4 61Z" fill="#0050ff"/><path d="M11.5 35.3 C12 32.3 12.8 32 14.2 31.1 C15.6 30.1 17.3 29.8 19.9 29.4 C22.4 29.1 26.6 28.8 29.3 29 C32 29.2 34.4 29.8 36.2 30.6 C38 31.3 38.8 33.6 40 33.6 C41.3 33.6 42.1 31.3 43.8 30.6 C45.5 29.8 47.4 29.2 50.1 29 C52.9 28.8 57.3 29 60.1 29.4 C62.9 29.9 65.4 30.5 67.1 31.8 C68.8 33 69.7 33.8 70.3 36.7 C70.9 39.6 70.7 45 70.6 49.1 C70.6 53.2 71.3 58.9 70.2 61.3 C69.1 63.7 65.8 62.3 64.1 63.4 C62.5 64.4 61.5 66.1 60.5 67.9 C59.5 69.6 59.1 72 58.3 73.8 C57.6 75.5 57.8 77.1 56.2 78.5 C54.5 79.9 51.2 81.4 48.5 82.2 C45.8 83.1 42.9 83.5 40 83.5 C37.2 83.5 34 83.1 31.5 82.2 C29.1 81.4 26.8 79.9 25.3 78.5 C23.8 77.1 23.4 75.5 22.5 73.8 C21.6 72 20.8 69.6 19.7 67.9 C18.6 66.1 17.2 64.4 15.9 63.4 C14.5 62.3 12.4 63.7 11.6 61.3 C10.8 58.9 11.2 53.4 11.2 49.1 C11.1 44.8 11 38.3 11.5 35.3Z" fill="#00f0f0"/><path d="M12.2 36 C12.7 33.1 13.3 32.9 14.7 31.9 C16 31 17.7 30.7 20.2 30.4 C22.6 30 26.7 29.8 29.3 30 C32 30.2 34.2 30.8 36 31.6 C37.8 32.4 38.7 34.7 40 34.7 C41.4 34.7 42.3 32.4 44 31.6 C45.6 30.8 47.4 30.2 50 30 C52.7 29.8 57.1 29.9 59.8 30.4 C62.6 30.8 64.9 31.4 66.5 32.5 C68.1 33.7 69 34.5 69.6 37.2 C70.1 40 69.9 45.2 69.9 49.1 C69.8 53 70.3 58.4 69.3 60.7 C68.2 63 65 61.7 63.5 62.9 C61.9 64 60.8 65.8 59.8 67.5 C58.8 69.3 58.4 71.8 57.7 73.5 C57 75.2 57.1 76.5 55.5 77.8 C54 79.2 50.8 80.5 48.2 81.3 C45.6 82.1 42.8 82.5 40 82.5 C37.3 82.5 34.1 82.1 31.8 81.3 C29.4 80.5 27.4 79.2 26 77.8 C24.5 76.5 24.1 75.2 23.2 73.5 C22.3 71.8 21.6 69.3 20.5 67.5 C19.3 65.8 17.8 64 16.5 62.9 C15.2 61.7 13.3 63 12.5 60.7 C11.8 58.4 12 53.2 11.9 49.1 C11.9 45 11.8 38.8 12.2 36Z" fill="#2cf47c"/></g><g clip-path="url(#cp1_in)"><g filter="url(#bl1_3)"><ellipse cx="40.9" cy="43.5" rx="30.5" ry="15" fill="#a0ff40" opacity="0.9"/><ellipse cx="28.7" cy="40.4" rx="11" ry="9.4" fill="#d8ff18"/><ellipse cx="51.9" cy="40.4" rx="11" ry="9.4" fill="#d8ff18"/><ellipse cx="62.2" cy="45.4" rx="7.3" ry="7.5" fill="#d8ff18"/><ellipse cx="19.6" cy="45.4" rx="6.1" ry="7.5" fill="#d8ff18"/><ellipse cx="39.1" cy="51.6" rx="9.2" ry="5" fill="#d8ff18"/><ellipse cx="29.3" cy="38.5" rx="7.9" ry="5.6" fill="#ff9500"/><ellipse cx="50" cy="37.9" rx="7.3" ry="5.6" fill="#ff9500"/><ellipse cx="64.1" cy="44.1" rx="3.7" ry="3.8" fill="#ff9500" opacity="0.9"/><ellipse cx="21.4" cy="46.6" rx="3.7" ry="3.8" fill="#ff9500" opacity="0.9"/><ellipse cx="56.1" cy="44.7" rx="3.1" ry="3.1" fill="#ff9500" opacity="0.8"/><ellipse cx="34.2" cy="53.5" rx="3.7" ry="3.1" fill="#ff9500" opacity="0.9"/><ellipse cx="44.4" cy="53.5" rx="3.7" ry="3.1" fill="#ff9500" opacity="0.9"/><circle cx="25.7" cy="42.6" r="2" fill="#d8ff18" opacity="0.6"/><circle cx="38.3" cy="41.8" r="1.3" fill="#ff9500" opacity="0.6"/><circle cx="43.9" cy="51.4" r="2.3" fill="#d8ff18" opacity="0.6"/><circle cx="14.2" cy="38.7" r="2.4" fill="#ff9500" opacity="0.6"/><circle cx="45.7" cy="43.8" r="2.1" fill="#a0ff40" opacity="0.6"/><circle cx="66.9" cy="45.6" r="2.2" fill="#ff9500" opacity="0.6"/><circle cx="23" cy="44.1" r="2.1" fill="#d8ff18" opacity="0.6"/><circle cx="29.7" cy="34.8" r="1.8" fill="#a0ff40" opacity="0.6"/><circle cx="65.7" cy="37.1" r="1.2" fill="#ff9500" opacity="0.6"/><circle cx="49.5" cy="47.1" r="1.2" fill="#d8ff18" opacity="0.6"/><circle cx="48" cy="35.4" r="1.4" fill="#d8ff18" opacity="0.6"/><circle cx="48.7" cy="36" r="2.2" fill="#a0ff40" opacity="0.6"/><circle cx="46.7" cy="47.4" r="1.6" fill="#d8ff18" opacity="0.6"/><circle cx="48.5" cy="51.8" r="1.4" fill="#a0ff40" opacity="0.6"/><circle cx="43.1" cy="48.5" r="1.5" fill="#d8ff18" opacity="0.6"/><circle cx="38" cy="31.8" r="2.1" fill="#a0ff40" opacity="0.6"/><circle cx="49.3" cy="31.3" r="1.1" fill="#ff9500" opacity="0.6"/><circle cx="34.2" cy="43.4" r="1.9" fill="#ff9500" opacity="0.6"/><circle cx="19.2" cy="44.9" r="1.8" fill="#d8ff18" opacity="0.6"/><circle cx="40" cy="46.6" r="1.6" fill="#a0ff40" opacity="0.6"/><circle cx="22.8" cy="53.3" r="1.8" fill="#d8ff18" opacity="0.6"/><circle cx="49.1" cy="47.9" r="2.2" fill="#a0ff40" opacity="0.6"/><circle cx="42.4" cy="39.9" r="1.5" fill="#a0ff40" opacity="0.6"/><circle cx="36.9" cy="50.7" r="1.3" fill="#d8ff18" opacity="0.6"/><circle cx="51.8" cy="54.9" r="1.6" fill="#d8ff18" opacity="0.6"/><circle cx="53.4" cy="48.6" r="2.3" fill="#a0ff40" opacity="0.6"/><circle cx="46.7" cy="32.5" r="1.3" fill="#d8ff18" opacity="0.6"/><circle cx="41.1" cy="41.2" r="1.6" fill="#d8ff18" opacity="0.6"/><circle cx="60.8" cy="38.7" r="1.3" fill="#d8ff18" opacity="0.6"/><circle cx="49.3" cy="32.7" r="1.3" fill="#d8ff18" opacity="0.6"/><circle cx="40" cy="32.2" r="1.6" fill="#ff9500" opacity="0.6"/><circle cx="22.8" cy="37.3" r="1.9" fill="#d8ff18" opacity="0.6"/><circle cx="45.9" cy="37.3" r="2.4" fill="#ff9500" opacity="0.6"/><circle cx="45.5" cy="36.8" r="1.8" fill="#ff9500" opacity="0.6"/><circle cx="29.7" cy="50.1" r="1.7" fill="#a0ff40" opacity="0.6"/><circle cx="30.8" cy="54.6" r="1" fill="#a0ff40" opacity="0.6"/><circle cx="29.1" cy="51.3" r="1.6" fill="#d8ff18" opacity="0.6"/><circle cx="34.3" cy="47.5" r="1.1" fill="#d8ff18" opacity="0.6"/><circle cx="43.6" cy="47" r="2.3" fill="#a0ff40" opacity="0.6"/><circle cx="19.8" cy="49.2" r="2.2" fill="#d8ff18" opacity="0.6"/></g><rect x="10.4" y="26.6" width="61" height="62.5" filter="url(#nzA)"/><rect x="10.4" y="26.6" width="61" height="62.5" filter="url(#nzB)"/><g></g></g></g><rect x="10.4" y="26.6" width="61" height="62.5" fill="none" stroke="#222" stroke-width="0.9"/>
<g clip-path="url(#cp2)"><rect x="77.3" y="26.6" width="21.1" height="62.5" fill="#00008a"/><path d="M78.8 49.1 C79.3 43.7 80.2 40.8 81.5 37.9 C82.8 34.9 85 32.9 86.8 31.3 C88.5 29.7 90.6 28.7 92.1 28.2 C93.5 27.6 94.6 27.6 95.4 27.9 C96.3 28.1 97 26.8 97.3 29.7 C97.7 32.6 97.7 39.6 97.8 45.4 C97.8 51.1 97.8 57.8 97.8 64.1 C97.7 70.3 97.7 78.9 97.6 82.8 C97.5 86.8 98.8 86.8 97.1 87.5 C95.5 88.3 90.9 87.6 87.8 87.5 C84.8 87.4 80.4 89.8 78.8 86.9 C77.2 84 78.4 76.7 78.4 70.3 C78.4 64 78.2 54.5 78.8 49.1Z" fill="none" stroke="#0a30f0" stroke-width="4" filter="url(#bl2_5)"/><g filter="url(#bl0_7)"><path d="M78.8 49.1 C79.3 43.7 80.2 40.8 81.5 37.9 C82.8 34.9 85 32.9 86.8 31.3 C88.5 29.7 90.6 28.7 92.1 28.2 C93.5 27.6 94.6 27.6 95.4 27.9 C96.3 28.1 97 26.8 97.3 29.7 C97.7 32.6 97.7 39.6 97.8 45.4 C97.8 51.1 97.8 57.8 97.8 64.1 C97.7 70.3 97.7 78.9 97.6 82.8 C97.5 86.8 98.8 86.8 97.1 87.5 C95.5 88.3 90.9 87.6 87.8 87.5 C84.8 87.4 80.4 89.8 78.8 86.9 C77.2 84 78.4 76.7 78.4 70.3 C78.4 64 78.2 54.5 78.8 49.1Z" fill="#0050ff"/><path d="M79.5 49.7 C80 44.4 80.9 41.4 82.2 38.5 C83.4 35.5 85.3 33.7 87 32.1 C88.6 30.5 90.7 29.5 92.1 28.9 C93.4 28.4 94.4 28.3 95.1 28.6 C95.9 28.9 96.3 27.9 96.6 30.7 C96.9 33.4 96.9 39.8 96.9 45.4 C97 50.9 97 58 96.9 64.1 C96.9 70.2 96.8 78.4 96.7 82.2 C96.6 86 97.7 86 96.2 86.8 C94.7 87.5 90.6 86.9 87.8 86.8 C85.1 86.7 80.9 88.9 79.4 86.1 C78 83.4 79.1 76.4 79.1 70.3 C79.1 64.3 79 55 79.5 49.7Z" fill="#00f0f0"/><path d="M80.3 50.4 C80.7 45.1 81.6 42 82.8 39.1 C83.9 36.2 85.7 34.4 87.2 32.9 C88.8 31.3 90.8 30.3 92.1 29.7 C93.3 29.2 94.2 29.1 94.8 29.4 C95.4 29.7 95.7 28.9 95.9 31.6 C96.1 34.3 96 39.9 96.1 45.4 C96.1 50.8 96.1 58.1 96.1 64.1 C96 70.1 96 78 95.9 81.6 C95.7 85.2 96.6 85.2 95.2 86 C93.9 86.7 90.4 86.1 87.8 86 C85.3 85.9 81.4 88 80 85.3 C78.7 82.7 79.8 76.2 79.8 70.3 C79.9 64.5 79.8 55.6 80.3 50.4Z" fill="#2cf47c"/></g><g clip-path="url(#cp2_in)"><g filter="url(#bl1_3)"><ellipse cx="89.5" cy="46.6" rx="8.9" ry="18.8" fill="#a0ff40"/><ellipse cx="89.5" cy="45.4" rx="7.2" ry="15.6" fill="#d8ff18"/><ellipse cx="89.5" cy="41.6" rx="5.5" ry="8.8" fill="#ff9500"/><ellipse cx="87.8" cy="52.9" rx="4.6" ry="5" fill="#ff9500" opacity="0.9"/><circle cx="94.4" cy="35" r="1.5" fill="#d8ff18" opacity="0.6"/><circle cx="87.3" cy="36.8" r="1.3" fill="#d8ff18" opacity="0.6"/><circle cx="85.4" cy="55.4" r="1.2" fill="#d8ff18" opacity="0.6"/><circle cx="87" cy="34.4" r="1.6" fill="#d8ff18" opacity="0.6"/><circle cx="96.7" cy="45.4" r="2.2" fill="#d8ff18" opacity="0.6"/><circle cx="94.7" cy="53.2" r="1.2" fill="#ff9500" opacity="0.6"/><circle cx="87" cy="52.6" r="1.6" fill="#d8ff18" opacity="0.6"/><circle cx="90.8" cy="57.5" r="1.5" fill="#d8ff18" opacity="0.6"/><circle cx="84.5" cy="56.1" r="1.3" fill="#d8ff18" opacity="0.6"/><circle cx="85.2" cy="39.7" r="2.2" fill="#d8ff18" opacity="0.6"/><circle cx="91.6" cy="54.7" r="2.1" fill="#d8ff18" opacity="0.6"/><circle cx="88.6" cy="57.5" r="2" fill="#d8ff18" opacity="0.6"/></g><rect x="77.3" y="26.6" width="21.1" height="62.5" filter="url(#nzA)"/><rect x="77.3" y="26.6" width="21.1" height="62.5" filter="url(#nzB)"/><g></g></g></g><rect x="77.3" y="26.6" width="21.1" height="62.5" fill="none" stroke="#222" stroke-width="0.9"/>
<g clip-path="url(#cp3)"><rect x="10.4" y="95.3" width="61" height="20.9" fill="#00008a"/><path d="M10.4 97.4 C12.4 94.4 17.5 96.4 22.6 96.3 C27.7 96.3 34.8 97 40.9 97 C47 97 54.1 96.3 59.2 96.3 C64.3 96.4 69.4 94.4 71.4 97.4 C73.4 100.4 73.4 111.1 71.4 114.1 C69.4 117.1 64.3 115.4 59.2 115.6 C54.1 115.7 47 115.2 40.9 115.2 C34.8 115.2 27.7 115.7 22.6 115.6 C17.5 115.4 12.4 117.1 10.4 114.1 C8.4 111.1 8.4 100.4 10.4 97.4Z" fill="none" stroke="#0a30f0" stroke-width="4" filter="url(#bl2_5)"/><g filter="url(#bl0_7)"><path d="M10.4 97.4 C12.4 94.4 17.5 96.4 22.6 96.3 C27.7 96.3 34.8 97 40.9 97 C47 97 54.1 96.3 59.2 96.3 C64.3 96.4 69.4 94.4 71.4 97.4 C73.4 100.4 73.4 111.1 71.4 114.1 C69.4 117.1 64.3 115.4 59.2 115.6 C54.1 115.7 47 115.2 40.9 115.2 C34.8 115.2 27.7 115.7 22.6 115.6 C17.5 115.4 12.4 117.1 10.4 114.1 C8.4 111.1 8.4 100.4 10.4 97.4Z" fill="#0050ff"/><path d="M11.3 98.4 C13.2 95.8 17.7 97.5 22.6 97.4 C27.5 97.3 34.8 98 40.9 98 C47 98 54.3 97.3 59.2 97.4 C64.1 97.5 68.6 95.8 70.5 98.4 C72.4 101 72.4 110.4 70.5 113.1 C68.6 115.7 64.1 114.4 59.2 114.5 C54.3 114.7 47 114.1 40.9 114.1 C34.8 114.1 27.5 114.7 22.6 114.5 C17.7 114.4 13.2 115.7 11.3 113.1 C9.4 110.4 9.4 101 11.3 98.4Z" fill="#00f0f0"/><path d="M12.2 99.5 C14 97.2 17.8 98.5 22.6 98.4 C27.4 98.4 34.8 99.1 40.9 99.1 C47 99.1 54.4 98.4 59.2 98.4 C64 98.5 67.8 97.2 69.6 99.5 C71.3 101.7 71.3 109.7 69.6 112 C67.8 114.4 64 113.3 59.2 113.5 C54.4 113.7 47 113.1 40.9 113.1 C34.8 113.1 27.4 113.7 22.6 113.5 C17.8 113.3 14 114.4 12.2 112 C10.5 109.7 10.5 101.7 12.2 99.5Z" fill="#2cf47c"/></g><g clip-path="url(#cp3_in)"><g filter="url(#bl1_3)"><ellipse cx="40.9" cy="105.8" rx="30.5" ry="9.4" fill="#a0ff40"/><ellipse cx="28.7" cy="105.8" rx="11" ry="8.4" fill="#d8ff18"/><ellipse cx="53.1" cy="105.8" rx="11" ry="8.4" fill="#d8ff18"/><ellipse cx="28.7" cy="105.8" rx="7.3" ry="6.3" fill="#ff9500"/><ellipse cx="51.3" cy="105.8" rx="7.3" ry="6.3" fill="#ff9500"/><ellipse cx="40.9" cy="105.8" rx="1.8" ry="10.4" fill="#2cf47c" opacity="0.5"/><circle cx="31.3" cy="110.1" r="1.4" fill="#ff9500" opacity="0.6"/><circle cx="63.7" cy="106.3" r="1.5" fill="#a0ff40" opacity="0.6"/><circle cx="42.5" cy="100.9" r="1.7" fill="#d8ff18" opacity="0.6"/><circle cx="16.7" cy="104.8" r="2" fill="#d8ff18" opacity="0.6"/><circle cx="14.1" cy="105.5" r="1.2" fill="#ff9500" opacity="0.6"/><circle cx="59.7" cy="100.7" r="1.4" fill="#ff9500" opacity="0.6"/><circle cx="44.8" cy="100.7" r="1.3" fill="#ff9500" opacity="0.6"/><circle cx="34.1" cy="112.9" r="2.4" fill="#a0ff40" opacity="0.6"/><circle cx="56" cy="102.8" r="1.8" fill="#d8ff18" opacity="0.6"/><circle cx="59.2" cy="107.2" r="2" fill="#d8ff18" opacity="0.6"/><circle cx="41.2" cy="104.8" r="2.1" fill="#a0ff40" opacity="0.6"/><circle cx="56.4" cy="111.5" r="2.4" fill="#d8ff18" opacity="0.6"/><circle cx="41.5" cy="100.5" r="1.2" fill="#d8ff18" opacity="0.6"/><circle cx="40.2" cy="111.7" r="1.5" fill="#d8ff18" opacity="0.6"/></g><rect x="10.4" y="95.3" width="61" height="20.9" filter="url(#nzA)"/><rect x="10.4" y="95.3" width="61" height="20.9" filter="url(#nzB)"/><g></g></g></g><rect x="10.4" y="95.3" width="61" height="20.9" fill="none" stroke="#222" stroke-width="0.9"/>
<rect x="77.6" y="95.3" width="3.3" height="20.9" fill="url(#jetv)" stroke="#222" stroke-width="0.6"/>
<text x="83.8" y="102.8">75%</text>
<text x="83.8" y="116.5">0</text>
<g clip-path="url(#cp4)"><rect x="109.3" y="26.6" width="61" height="62.5" fill="#00008a"/><path d="M109.7 34.6 C110.3 31.5 111.2 31.2 112.7 30.2 C114.1 29.2 115.9 28.8 118.5 28.5 C121 28.1 125.4 27.9 128.2 28 C131 28.2 133.5 28.8 135.3 29.5 C137.1 30.3 137.7 32.4 138.9 32.4 C140.2 32.4 140.8 30.3 142.5 29.5 C144.2 28.8 146.3 28.2 149.1 28 C151.9 27.9 156.4 28 159.3 28.5 C162.2 29 164.9 29.7 166.6 31 C168.4 32.2 169.4 33.1 170 36.1 C170.6 39.1 170.3 44.8 170.3 49.1 C170.3 53.4 171.1 59.5 170 61.9 C168.9 64.4 165.4 62.8 163.7 63.9 C162.1 64.9 161.1 66.5 160.1 68.2 C159.1 69.9 158.6 72.2 157.9 74 C157.2 75.8 157.4 77.6 155.7 79.1 C154 80.6 150.5 82.3 147.7 83.2 C144.9 84 141.9 84.4 138.9 84.4 C136 84.4 132.7 84 130.2 83.2 C127.6 82.3 125.1 80.6 123.6 79.1 C122 77.6 121.7 75.8 120.7 74 C119.7 72.2 118.9 69.9 117.8 68.2 C116.7 66.5 115.5 64.9 114.1 63.9 C112.8 62.8 110.4 64.4 109.6 61.9 C108.8 59.5 109.3 53.7 109.3 49.1 C109.3 44.5 109.2 37.7 109.7 34.6Z" fill="none" stroke="#0a30f0" stroke-width="4" filter="url(#bl2_5)"/><g filter="url(#bl0_7)"><path d="M109.7 34.6 C110.3 31.5 111.2 31.2 112.7 30.2 C114.1 29.2 115.9 28.8 118.5 28.5 C121 28.1 125.4 27.9 128.2 28 C131 28.2 133.5 28.8 135.3 29.5 C137.1 30.3 137.7 32.4 138.9 32.4 C140.2 32.4 140.8 30.3 142.5 29.5 C144.2 28.8 146.3 28.2 149.1 28 C151.9 27.9 156.4 28 159.3 28.5 C162.2 29 164.9 29.7 166.6 31 C168.4 32.2 169.4 33.1 170 36.1 C170.6 39.1 170.3 44.8 170.3 49.1 C170.3 53.4 171.1 59.5 170 61.9 C168.9 64.4 165.4 62.8 163.7 63.9 C162.1 64.9 161.1 66.5 160.1 68.2 C159.1 69.9 158.6 72.2 157.9 74 C157.2 75.8 157.4 77.6 155.7 79.1 C154 80.6 150.5 82.3 147.7 83.2 C144.9 84 141.9 84.4 138.9 84.4 C136 84.4 132.7 84 130.2 83.2 C127.6 82.3 125.1 80.6 123.6 79.1 C122 77.6 121.7 75.8 120.7 74 C119.7 72.2 118.9 69.9 117.8 68.2 C116.7 66.5 115.5 64.9 114.1 63.9 C112.8 62.8 110.4 64.4 109.6 61.9 C108.8 59.5 109.3 53.7 109.3 49.1 C109.3 44.5 109.2 37.7 109.7 34.6Z" fill="#0050ff"/><path d="M109.3 61 C110.1 58.1 112.9 62.5 114.2 64.1 C115.5 65.7 117 68.1 117.2 70.3 C117.4 72.6 116.7 76 115.4 77.8 C114.1 79.7 110.3 84.4 109.3 81.6 C108.3 78.8 108.5 63.9 109.3 61Z" fill="#0050ff"/><path d="M170.3 61 C169.5 58.1 166.7 62.5 165.4 64.1 C164.1 65.7 162.6 68.1 162.4 70.3 C162.2 72.6 162.9 76 164.2 77.8 C165.5 79.7 169.3 84.4 170.3 81.6 C171.3 78.8 171.1 63.9 170.3 61Z" fill="#0050ff"/><path d="M110.4 35.3 C110.9 32.3 111.7 32 113.1 31.1 C114.5 30.1 116.2 29.8 118.8 29.4 C121.3 29.1 125.5 28.8 128.2 29 C130.9 29.2 133.3 29.8 135.1 30.6 C136.9 31.3 137.7 33.6 138.9 33.6 C140.2 33.6 141 31.3 142.7 30.6 C144.4 29.8 146.3 29.2 149 29 C151.8 28.8 156.2 29 159 29.4 C161.8 29.9 164.3 30.5 166 31.8 C167.7 33 168.6 33.8 169.2 36.7 C169.8 39.6 169.6 45 169.5 49.1 C169.5 53.2 170.2 58.9 169.1 61.3 C168 63.7 164.7 62.3 163 63.4 C161.4 64.4 160.4 66.1 159.4 67.9 C158.4 69.6 158 72 157.2 73.8 C156.5 75.5 156.7 77.1 155.1 78.5 C153.4 79.9 150.1 81.4 147.4 82.2 C144.7 83.1 141.8 83.5 138.9 83.5 C136.1 83.5 132.9 83.1 130.4 82.2 C128 81.4 125.7 79.9 124.2 78.5 C122.7 77.1 122.3 75.5 121.4 73.8 C120.5 72 119.7 69.6 118.6 67.9 C117.5 66.1 116.1 64.4 114.8 63.4 C113.4 62.3 111.3 63.7 110.5 61.3 C109.7 58.9 110.1 53.4 110.1 49.1 C110 44.8 109.9 38.3 110.4 35.3Z" fill="#00f0f0"/><path d="M111.1 36 C111.6 33.1 112.2 32.9 113.6 31.9 C114.9 31 116.6 30.7 119.1 30.4 C121.5 30 125.6 29.8 128.2 30 C130.9 30.2 133.1 30.8 134.9 31.6 C136.7 32.4 137.6 34.7 138.9 34.7 C140.3 34.7 141.2 32.4 142.8 31.6 C144.5 30.8 146.3 30.2 148.9 30 C151.6 29.8 156 29.9 158.7 30.4 C161.5 30.8 163.8 31.4 165.4 32.5 C167 33.7 167.9 34.5 168.5 37.2 C169 40 168.8 45.2 168.8 49.1 C168.7 53 169.2 58.4 168.2 60.7 C167.1 63 163.9 61.7 162.4 62.9 C160.8 64 159.7 65.8 158.7 67.5 C157.7 69.3 157.3 71.8 156.6 73.5 C155.9 75.2 156 76.5 154.4 77.8 C152.9 79.2 149.7 80.5 147.1 81.3 C144.5 82.1 141.7 82.5 138.9 82.5 C136.2 82.5 133 82.1 130.7 81.3 C128.3 80.5 126.3 79.2 124.9 77.8 C123.4 76.5 123 75.2 122.1 73.5 C121.2 71.8 120.5 69.3 119.4 67.5 C118.2 65.8 116.7 64 115.4 62.9 C114.1 61.7 112.2 63 111.4 60.7 C110.7 58.4 110.9 53.2 110.8 49.1 C110.8 45 110.7 38.8 111.1 36Z" fill="#2cf47c"/></g><g clip-path="url(#cp4_in)"><g filter="url(#bl1_3)"><ellipse cx="139.8" cy="45.4" rx="25.6" ry="13.8" fill="#a0ff40" opacity="0.9"/><ellipse cx="138.6" cy="44.7" rx="21.3" ry="10.6" fill="#d8ff18"/><ellipse cx="126.4" cy="43.5" rx="7.3" ry="5.6" fill="#ff9500"/><ellipse cx="132.5" cy="46.6" rx="6.1" ry="5" fill="#ff9500"/><ellipse cx="147.7" cy="41" rx="7.3" ry="5.6" fill="#ff9500"/><ellipse cx="153.2" cy="46" rx="5.5" ry="4.4" fill="#ff9500"/><ellipse cx="124.5" cy="44.1" rx="3.1" ry="2.5" fill="#ff4a00" opacity="0.9"/><ellipse cx="133.7" cy="46" rx="2.4" ry="2.5" fill="#ff4a00" opacity="0.8"/><ellipse cx="147.7" cy="40.4" rx="3.1" ry="2.5" fill="#ff4a00" opacity="0.7"/><circle cx="156.8" cy="46.6" r="2.2" fill="#ff9500" opacity="0.6"/><circle cx="155.4" cy="45.7" r="1.5" fill="#d8ff18" opacity="0.6"/><circle cx="133.2" cy="39.8" r="1" fill="#ff9500" opacity="0.6"/><circle cx="141.3" cy="48.8" r="2.3" fill="#ff9500" opacity="0.6"/><circle cx="152.8" cy="43.3" r="2.3" fill="#a0ff40" opacity="0.6"/><circle cx="152.6" cy="48.5" r="1" fill="#ff9500" opacity="0.6"/><circle cx="138.1" cy="38.5" r="1.8" fill="#a0ff40" opacity="0.6"/><circle cx="124.5" cy="50" r="1.9" fill="#d8ff18" opacity="0.6"/><circle cx="123.4" cy="40.2" r="1.4" fill="#a0ff40" opacity="0.6"/><circle cx="153.4" cy="42.3" r="1.6" fill="#d8ff18" opacity="0.6"/><circle cx="141.9" cy="52.2" r="2" fill="#d8ff18" opacity="0.6"/><circle cx="131.3" cy="38" r="1.1" fill="#ff9500" opacity="0.6"/><circle cx="122" cy="49.9" r="1.3" fill="#d8ff18" opacity="0.6"/><circle cx="152.7" cy="41.1" r="2.3" fill="#ff9500" opacity="0.6"/><circle cx="145.5" cy="42.7" r="1.6" fill="#ff9500" opacity="0.6"/><circle cx="119.6" cy="48.4" r="1.2" fill="#ff9500" opacity="0.6"/><circle cx="119" cy="46.4" r="1.1" fill="#d8ff18" opacity="0.6"/><circle cx="159.9" cy="41.5" r="2" fill="#d8ff18" opacity="0.6"/><circle cx="129.2" cy="37" r="2.4" fill="#d8ff18" opacity="0.6"/><circle cx="137.7" cy="50.9" r="1" fill="#ff9500" opacity="0.6"/><circle cx="134.6" cy="42.5" r="1.3" fill="#a0ff40" opacity="0.6"/><circle cx="155" cy="44.4" r="1.7" fill="#a0ff40" opacity="0.6"/><circle cx="124" cy="46.1" r="2.2" fill="#ff9500" opacity="0.6"/><circle cx="136.2" cy="49" r="1.7" fill="#d8ff18" opacity="0.6"/><circle cx="138.6" cy="52.8" r="1.5" fill="#a0ff40" opacity="0.6"/><circle cx="125.5" cy="43.5" r="1.4" fill="#a0ff40" opacity="0.6"/><circle cx="133.5" cy="49.1" r="1.1" fill="#a0ff40" opacity="0.6"/><circle cx="158.7" cy="46.2" r="1.4" fill="#d8ff18" opacity="0.6"/><circle cx="143.9" cy="46.7" r="1.4" fill="#d8ff18" opacity="0.6"/><circle cx="121.5" cy="50.1" r="2" fill="#d8ff18" opacity="0.6"/></g><rect x="109.3" y="26.6" width="61" height="62.5" filter="url(#nzA)"/><rect x="109.3" y="26.6" width="61" height="62.5" filter="url(#nzB)"/><g></g></g></g><rect x="109.3" y="26.6" width="61" height="62.5" fill="none" stroke="#222" stroke-width="0.9"/>
<g clip-path="url(#cp5)"><rect x="176.6" y="26.6" width="21.1" height="62.5" fill="#00008a"/><path d="M178.1 49.1 C178.6 43.7 179.5 40.8 180.8 37.9 C182.1 34.9 184.3 32.9 186.1 31.3 C187.8 29.7 189.9 28.7 191.4 28.2 C192.8 27.6 193.9 27.6 194.7 27.9 C195.6 28.1 196.3 26.8 196.6 29.7 C197 32.6 197 39.6 197.1 45.4 C197.1 51.1 197.1 57.8 197.1 64.1 C197 70.3 197 78.9 196.9 82.8 C196.8 86.8 198.1 86.8 196.4 87.5 C194.8 88.3 190.2 87.6 187.2 87.5 C184.1 87.4 179.7 89.8 178.1 86.9 C176.5 84 177.7 76.7 177.7 70.3 C177.7 64 177.5 54.5 178.1 49.1Z" fill="none" stroke="#0a30f0" stroke-width="4" filter="url(#bl2_5)"/><g filter="url(#bl0_7)"><path d="M178.1 49.1 C178.6 43.7 179.5 40.8 180.8 37.9 C182.1 34.9 184.3 32.9 186.1 31.3 C187.8 29.7 189.9 28.7 191.4 28.2 C192.8 27.6 193.9 27.6 194.7 27.9 C195.6 28.1 196.3 26.8 196.6 29.7 C197 32.6 197 39.6 197.1 45.4 C197.1 51.1 197.1 57.8 197.1 64.1 C197 70.3 197 78.9 196.9 82.8 C196.8 86.8 198.1 86.8 196.4 87.5 C194.8 88.3 190.2 87.6 187.2 87.5 C184.1 87.4 179.7 89.8 178.1 86.9 C176.5 84 177.7 76.7 177.7 70.3 C177.7 64 177.5 54.5 178.1 49.1Z" fill="#0050ff"/><path d="M178.8 49.7 C179.3 44.4 180.2 41.4 181.5 38.5 C182.7 35.5 184.6 33.7 186.3 32.1 C187.9 30.5 190 29.5 191.4 28.9 C192.7 28.4 193.7 28.3 194.4 28.6 C195.2 28.9 195.6 27.9 195.9 30.7 C196.2 33.4 196.2 39.8 196.2 45.4 C196.3 50.9 196.3 58 196.2 64.1 C196.2 70.2 196.1 78.4 196 82.2 C195.9 86 197 86 195.5 86.8 C194 87.5 189.9 86.9 187.2 86.8 C184.4 86.7 180.2 88.9 178.7 86.1 C177.3 83.4 178.4 76.4 178.4 70.3 C178.4 64.3 178.3 55 178.8 49.7Z" fill="#00f0f0"/><path d="M179.6 50.4 C180 45.1 180.9 42 182.1 39.1 C183.2 36.2 185 34.4 186.5 32.9 C188.1 31.3 190.1 30.3 191.4 29.7 C192.6 29.2 193.5 29.1 194.1 29.4 C194.7 29.7 195 28.9 195.2 31.6 C195.4 34.3 195.3 39.9 195.4 45.4 C195.4 50.8 195.4 58.1 195.4 64.1 C195.3 70.1 195.3 78 195.2 81.6 C195 85.2 195.9 85.2 194.5 86 C193.2 86.7 189.7 86.1 187.2 86 C184.6 85.9 180.7 88 179.3 85.3 C178 82.7 179.1 76.2 179.1 70.3 C179.2 64.5 179.1 55.6 179.6 50.4Z" fill="#2cf47c"/></g><g clip-path="url(#cp5_in)"><g filter="url(#bl1_3)"><ellipse cx="189.3" cy="45.4" rx="8.4" ry="16.2" fill="#a0ff40"/><ellipse cx="189.9" cy="45.4" rx="6.8" ry="12.5" fill="#d8ff18"/><ellipse cx="190.1" cy="43.5" rx="5.5" ry="8.8" fill="#ff9500"/><ellipse cx="190.9" cy="42.2" rx="3" ry="5" fill="#ff4a00" opacity="0.8"/><circle cx="188.9" cy="36.8" r="2.3" fill="#ff9500" opacity="0.6"/><circle cx="186.9" cy="36" r="2.1" fill="#d8ff18" opacity="0.6"/><circle cx="186.5" cy="35.5" r="2.1" fill="#d8ff18" opacity="0.6"/><circle cx="185.7" cy="41.7" r="1.9" fill="#ff9500" opacity="0.6"/><circle cx="191.4" cy="45.8" r="2" fill="#ff9500" opacity="0.6"/><circle cx="194.9" cy="53.1" r="2" fill="#d8ff18" opacity="0.6"/><circle cx="196.5" cy="43.9" r="1.7" fill="#ff9500" opacity="0.6"/><circle cx="195.7" cy="50.3" r="1.2" fill="#ff9500" opacity="0.6"/><circle cx="190.9" cy="42.1" r="1.6" fill="#a0ff40" opacity="0.6"/><circle cx="188.7" cy="54" r="1.7" fill="#d8ff18" opacity="0.6"/></g><rect x="176.6" y="26.6" width="21.1" height="62.5" filter="url(#nzA)"/><rect x="176.6" y="26.6" width="21.1" height="62.5" filter="url(#nzB)"/><g></g></g></g><rect x="176.6" y="26.6" width="21.1" height="62.5" fill="none" stroke="#222" stroke-width="0.9"/>
<g clip-path="url(#cp6)"><rect x="109.3" y="95.3" width="61" height="20.9" fill="#00008a"/><path d="M109.3 97.4 C111.3 94.4 116.4 96.4 121.5 96.3 C126.6 96.3 133.7 97 139.8 97 C145.9 97 153 96.3 158.1 96.3 C163.2 96.4 168.3 94.4 170.3 97.4 C172.3 100.4 172.3 111.1 170.3 114.1 C168.3 117.1 163.2 115.4 158.1 115.6 C153 115.7 145.9 115.2 139.8 115.2 C133.7 115.2 126.6 115.7 121.5 115.6 C116.4 115.4 111.3 117.1 109.3 114.1 C107.3 111.1 107.3 100.4 109.3 97.4Z" fill="none" stroke="#0a30f0" stroke-width="4" filter="url(#bl2_5)"/><g filter="url(#bl0_7)"><path d="M109.3 97.4 C111.3 94.4 116.4 96.4 121.5 96.3 C126.6 96.3 133.7 97 139.8 97 C145.9 97 153 96.3 158.1 96.3 C163.2 96.4 168.3 94.4 170.3 97.4 C172.3 100.4 172.3 111.1 170.3 114.1 C168.3 117.1 163.2 115.4 158.1 115.6 C153 115.7 145.9 115.2 139.8 115.2 C133.7 115.2 126.6 115.7 121.5 115.6 C116.4 115.4 111.3 117.1 109.3 114.1 C107.3 111.1 107.3 100.4 109.3 97.4Z" fill="#0050ff"/><path d="M110.2 98.4 C112.1 95.8 116.6 97.5 121.5 97.4 C126.4 97.3 133.7 98 139.8 98 C145.9 98 153.2 97.3 158.1 97.4 C163 97.5 167.5 95.8 169.4 98.4 C171.3 101 171.3 110.4 169.4 113.1 C167.5 115.7 163 114.4 158.1 114.5 C153.2 114.7 145.9 114.1 139.8 114.1 C133.7 114.1 126.4 114.7 121.5 114.5 C116.6 114.4 112.1 115.7 110.2 113.1 C108.3 110.4 108.3 101 110.2 98.4Z" fill="#00f0f0"/><path d="M111.1 99.5 C112.9 97.2 116.7 98.5 121.5 98.4 C126.3 98.4 133.7 99.1 139.8 99.1 C145.9 99.1 153.3 98.4 158.1 98.4 C162.9 98.5 166.7 97.2 168.5 99.5 C170.2 101.7 170.2 109.7 168.5 112 C166.7 114.4 162.9 113.3 158.1 113.5 C153.3 113.7 145.9 113.1 139.8 113.1 C133.7 113.1 126.3 113.7 121.5 113.5 C116.7 113.3 112.9 114.4 111.1 112 C109.4 109.7 109.4 101.7 111.1 99.5Z" fill="#2cf47c"/></g><g clip-path="url(#cp6_in)"><g filter="url(#bl1_3)"><ellipse cx="139.8" cy="105.8" rx="24.4" ry="8.4" fill="#d8ff18"/><ellipse cx="130.7" cy="106.8" rx="8.5" ry="6.3" fill="#ff9500"/><ellipse cx="145.9" cy="106.8" rx="7.3" ry="6.3" fill="#ff9500"/><ellipse cx="130.7" cy="106.8" rx="3.7" ry="4.2" fill="#ff4a00" opacity="0.6"/><circle cx="119.6" cy="101.8" r="1.7" fill="#d8ff18" opacity="0.6"/><circle cx="155.4" cy="108.9" r="1.1" fill="#d8ff18" opacity="0.6"/><circle cx="134.2" cy="103.2" r="1.3" fill="#d8ff18" opacity="0.6"/><circle cx="132" cy="107.5" r="1.1" fill="#d8ff18" opacity="0.6"/><circle cx="143.8" cy="110.4" r="2.2" fill="#ff9500" opacity="0.6"/><circle cx="131.9" cy="108.8" r="1.7" fill="#a0ff40" opacity="0.6"/><circle cx="120.8" cy="101.6" r="1.7" fill="#d8ff18" opacity="0.6"/><circle cx="127.2" cy="106.7" r="1.7" fill="#ff9500" opacity="0.6"/><circle cx="154" cy="102.2" r="1.4" fill="#a0ff40" opacity="0.6"/><circle cx="137.1" cy="109.2" r="1.9" fill="#a0ff40" opacity="0.6"/><circle cx="162.8" cy="105.1" r="1.6" fill="#a0ff40" opacity="0.6"/><circle cx="134.4" cy="105.7" r="1.9" fill="#d8ff18" opacity="0.6"/></g><rect x="109.3" y="95.3" width="61" height="20.9" filter="url(#nzA)"/><rect x="109.3" y="95.3" width="61" height="20.9" filter="url(#nzB)"/><g></g></g></g><rect x="109.3" y="95.3" width="61" height="20.9" fill="none" stroke="#222" stroke-width="0.9"/>
<rect x="176.9" y="95.3" width="3.3" height="20.9" fill="url(#jetv)" stroke="#222" stroke-width="0.6"/>
<text x="183.1" y="102.8">75%</text>
<text x="183.1" y="116.5">0</text>
<g clip-path="url(#cp7)"><rect x="209.4" y="26.6" width="61" height="62.5" fill="#00008a"/><path d="M209.8 34.6 C210.4 31.5 211.3 31.2 212.8 30.2 C214.2 29.2 216 28.8 218.6 28.5 C221.1 28.1 225.5 27.9 228.3 28 C231.1 28.2 233.6 28.8 235.4 29.5 C237.2 30.3 237.8 32.4 239 32.4 C240.3 32.4 240.9 30.3 242.6 29.5 C244.3 28.8 246.4 28.2 249.2 28 C252 27.9 256.5 28 259.4 28.5 C262.3 29 265 29.7 266.7 31 C268.5 32.2 269.5 33.1 270.1 36.1 C270.7 39.1 270.4 44.8 270.4 49.1 C270.4 53.4 271.2 59.5 270.1 61.9 C269 64.4 265.5 62.8 263.8 63.9 C262.2 64.9 261.2 66.5 260.2 68.2 C259.2 69.9 258.7 72.2 258 74 C257.3 75.8 257.5 77.6 255.8 79.1 C254.1 80.6 250.6 82.3 247.8 83.2 C245 84 242 84.4 239 84.4 C236.1 84.4 232.8 84 230.3 83.2 C227.7 82.3 225.2 80.6 223.7 79.1 C222.1 77.6 221.8 75.8 220.8 74 C219.8 72.2 219 69.9 217.9 68.2 C216.8 66.5 215.6 64.9 214.2 63.9 C212.9 62.8 210.5 64.4 209.7 61.9 C208.9 59.5 209.4 53.7 209.4 49.1 C209.4 44.5 209.3 37.7 209.8 34.6Z" fill="none" stroke="#0a30f0" stroke-width="4" filter="url(#bl2_5)"/><g filter="url(#bl0_7)"><path d="M209.8 34.6 C210.4 31.5 211.3 31.2 212.8 30.2 C214.2 29.2 216 28.8 218.6 28.5 C221.1 28.1 225.5 27.9 228.3 28 C231.1 28.2 233.6 28.8 235.4 29.5 C237.2 30.3 237.8 32.4 239 32.4 C240.3 32.4 240.9 30.3 242.6 29.5 C244.3 28.8 246.4 28.2 249.2 28 C252 27.9 256.5 28 259.4 28.5 C262.3 29 265 29.7 266.7 31 C268.5 32.2 269.5 33.1 270.1 36.1 C270.7 39.1 270.4 44.8 270.4 49.1 C270.4 53.4 271.2 59.5 270.1 61.9 C269 64.4 265.5 62.8 263.8 63.9 C262.2 64.9 261.2 66.5 260.2 68.2 C259.2 69.9 258.7 72.2 258 74 C257.3 75.8 257.5 77.6 255.8 79.1 C254.1 80.6 250.6 82.3 247.8 83.2 C245 84 242 84.4 239 84.4 C236.1 84.4 232.8 84 230.3 83.2 C227.7 82.3 225.2 80.6 223.7 79.1 C222.1 77.6 221.8 75.8 220.8 74 C219.8 72.2 219 69.9 217.9 68.2 C216.8 66.5 215.6 64.9 214.2 63.9 C212.9 62.8 210.5 64.4 209.7 61.9 C208.9 59.5 209.4 53.7 209.4 49.1 C209.4 44.5 209.3 37.7 209.8 34.6Z" fill="#0050ff"/><path d="M209.4 61 C210.2 58.1 213 62.5 214.3 64.1 C215.6 65.7 217.1 68.1 217.3 70.3 C217.5 72.6 216.8 76 215.5 77.8 C214.2 79.7 210.4 84.4 209.4 81.6 C208.4 78.8 208.6 63.9 209.4 61Z" fill="#0050ff"/><path d="M270.4 61 C269.6 58.1 266.8 62.5 265.5 64.1 C264.2 65.7 262.7 68.1 262.5 70.3 C262.3 72.6 263 76 264.3 77.8 C265.6 79.7 269.4 84.4 270.4 81.6 C271.4 78.8 271.2 63.9 270.4 61Z" fill="#0050ff"/><path d="M210.5 35.3 C211 32.3 211.8 32 213.2 31.1 C214.6 30.1 216.3 29.8 218.9 29.4 C221.4 29.1 225.6 28.8 228.3 29 C231 29.2 233.4 29.8 235.2 30.6 C237 31.3 237.8 33.6 239 33.6 C240.3 33.6 241.1 31.3 242.8 30.6 C244.5 29.8 246.4 29.2 249.1 29 C251.9 28.8 256.3 29 259.1 29.4 C261.9 29.9 264.4 30.5 266.1 31.8 C267.8 33 268.7 33.8 269.3 36.7 C269.9 39.6 269.7 45 269.6 49.1 C269.6 53.2 270.3 58.9 269.2 61.3 C268.1 63.7 264.8 62.3 263.1 63.4 C261.5 64.4 260.5 66.1 259.5 67.9 C258.5 69.6 258.1 72 257.3 73.8 C256.6 75.5 256.8 77.1 255.2 78.5 C253.5 79.9 250.2 81.4 247.5 82.2 C244.8 83.1 241.9 83.5 239 83.5 C236.2 83.5 233 83.1 230.5 82.2 C228.1 81.4 225.8 79.9 224.3 78.5 C222.8 77.1 222.4 75.5 221.5 73.8 C220.6 72 219.8 69.6 218.7 67.9 C217.6 66.1 216.2 64.4 214.9 63.4 C213.5 62.3 211.4 63.7 210.6 61.3 C209.8 58.9 210.2 53.4 210.2 49.1 C210.1 44.8 210 38.3 210.5 35.3Z" fill="#00f0f0"/><path d="M211.2 36 C211.7 33.1 212.3 32.9 213.7 31.9 C215 31 216.7 30.7 219.2 30.4 C221.6 30 225.7 29.8 228.3 30 C231 30.2 233.2 30.8 235 31.6 C236.8 32.4 237.7 34.7 239 34.7 C240.4 34.7 241.3 32.4 243 31.6 C244.6 30.8 246.4 30.2 249.1 30 C251.7 29.8 256.1 29.9 258.8 30.4 C261.6 30.8 263.9 31.4 265.5 32.5 C267.1 33.7 268 34.5 268.6 37.2 C269.1 40 268.9 45.2 268.9 49.1 C268.8 53 269.3 58.4 268.3 60.7 C267.2 63 264 61.7 262.5 62.9 C260.9 64 259.8 65.8 258.8 67.5 C257.8 69.3 257.4 71.8 256.7 73.5 C256 75.2 256.1 76.5 254.5 77.8 C253 79.2 249.8 80.5 247.2 81.3 C244.6 82.1 241.8 82.5 239 82.5 C236.3 82.5 233.1 82.1 230.8 81.3 C228.4 80.5 226.4 79.2 225 77.8 C223.5 76.5 223.1 75.2 222.2 73.5 C221.3 71.8 220.6 69.3 219.5 67.5 C218.3 65.8 216.8 64 215.5 62.9 C214.2 61.7 212.3 63 211.5 60.7 C210.8 58.4 211 53.2 210.9 49.1 C210.9 45 210.8 38.8 211.2 36Z" fill="#2cf47c"/></g><g clip-path="url(#cp7_in)"><g filter="url(#bl1_3)"><ellipse cx="239.9" cy="37.2" rx="30.5" ry="8.8" fill="#a0ff40" opacity="0.9"/><ellipse cx="227.7" cy="35.4" rx="6.1" ry="3.1" fill="#d8ff18" opacity="0.8"/><ellipse cx="243" cy="34.1" rx="6.1" ry="2.5" fill="#d8ff18" opacity="0.8"/><ellipse cx="255.2" cy="36" rx="6.1" ry="3.1" fill="#d8ff18" opacity="0.8"/><ellipse cx="239.9" cy="47.2" rx="21.3" ry="6.2" fill="#70ff50" opacity="0.6"/><circle cx="267.5" cy="34.9" r="1.3" fill="#70ff50" opacity="0.6"/><circle cx="223.7" cy="39.5" r="1.4" fill="#d8ff18" opacity="0.6"/><circle cx="231.6" cy="41.9" r="1.4" fill="#70ff50" opacity="0.6"/><circle cx="238.8" cy="43.1" r="1.1" fill="#d8ff18" opacity="0.6"/><circle cx="229.8" cy="36.8" r="2.4" fill="#a0ff40" opacity="0.6"/><circle cx="255.7" cy="36.9" r="2.1" fill="#a0ff40" opacity="0.6"/><circle cx="227.2" cy="34.1" r="1.9" fill="#70ff50" opacity="0.6"/><circle cx="250.7" cy="39" r="2.1" fill="#a0ff40" opacity="0.6"/><circle cx="250.6" cy="31.6" r="1.2" fill="#a0ff40" opacity="0.6"/><circle cx="265.1" cy="37.8" r="2.2" fill="#70ff50" opacity="0.6"/><circle cx="246.1" cy="41.4" r="2.2" fill="#70ff50" opacity="0.6"/><circle cx="214.9" cy="36.1" r="1.5" fill="#a0ff40" opacity="0.6"/><circle cx="257.9" cy="34" r="1.6" fill="#a0ff40" opacity="0.6"/><circle cx="232.5" cy="35.1" r="1.4" fill="#d8ff18" opacity="0.6"/><circle cx="248.1" cy="33.7" r="2" fill="#a0ff40" opacity="0.6"/><circle cx="216.3" cy="38.9" r="1.1" fill="#a0ff40" opacity="0.6"/><circle cx="248.6" cy="40.4" r="1.7" fill="#70ff50" opacity="0.6"/><circle cx="252.8" cy="34" r="1.3" fill="#70ff50" opacity="0.6"/><circle cx="228.6" cy="42.4" r="1.9" fill="#70ff50" opacity="0.6"/><circle cx="223.1" cy="38.9" r="2.2" fill="#a0ff40" opacity="0.6"/><circle cx="214" cy="39.9" r="2.1" fill="#70ff50" opacity="0.6"/><circle cx="250.4" cy="36.6" r="1.2" fill="#a0ff40" opacity="0.6"/><circle cx="265.5" cy="33.8" r="1.9" fill="#a0ff40" opacity="0.6"/><circle cx="244" cy="43" r="2.2" fill="#70ff50" opacity="0.6"/><circle cx="240" cy="37.3" r="2.1" fill="#d8ff18" opacity="0.6"/><circle cx="236.2" cy="39.9" r="1.5" fill="#a0ff40" opacity="0.6"/><circle cx="235.5" cy="40.9" r="2.3" fill="#d8ff18" opacity="0.6"/><circle cx="239.4" cy="36.5" r="1" fill="#d8ff18" opacity="0.6"/><circle cx="248.5" cy="41.1" r="1.4" fill="#d8ff18" opacity="0.6"/><circle cx="245.4" cy="40.7" r="2" fill="#a0ff40" opacity="0.6"/></g><rect x="209.4" y="26.6" width="61" height="62.5" filter="url(#nzA)"/><rect x="209.4" y="26.6" width="61" height="62.5" filter="url(#nzB)"/><g></g></g></g><rect x="209.4" y="26.6" width="61" height="62.5" fill="none" stroke="#222" stroke-width="0.9"/>
<g clip-path="url(#cp8)"><rect x="276.3" y="26.6" width="21.1" height="62.5" fill="#00008a"/><path d="M277.8 49.1 C278.3 43.7 279.2 40.8 280.5 37.9 C281.8 34.9 284 32.9 285.8 31.3 C287.5 29.7 289.6 28.7 291.1 28.2 C292.5 27.6 293.6 27.6 294.4 27.9 C295.3 28.1 296 26.8 296.3 29.7 C296.7 32.6 296.7 39.6 296.8 45.4 C296.8 51.1 296.8 57.8 296.8 64.1 C296.7 70.3 296.7 78.9 296.6 82.8 C296.5 86.8 297.8 86.8 296.1 87.5 C294.5 88.3 289.9 87.6 286.9 87.5 C283.8 87.4 279.4 89.8 277.8 86.9 C276.2 84 277.4 76.7 277.4 70.3 C277.4 64 277.2 54.5 277.8 49.1Z" fill="none" stroke="#0a30f0" stroke-width="4" filter="url(#bl2_5)"/><g filter="url(#bl0_7)"><path d="M277.8 49.1 C278.3 43.7 279.2 40.8 280.5 37.9 C281.8 34.9 284 32.9 285.8 31.3 C287.5 29.7 289.6 28.7 291.1 28.2 C292.5 27.6 293.6 27.6 294.4 27.9 C295.3 28.1 296 26.8 296.3 29.7 C296.7 32.6 296.7 39.6 296.8 45.4 C296.8 51.1 296.8 57.8 296.8 64.1 C296.7 70.3 296.7 78.9 296.6 82.8 C296.5 86.8 297.8 86.8 296.1 87.5 C294.5 88.3 289.9 87.6 286.9 87.5 C283.8 87.4 279.4 89.8 277.8 86.9 C276.2 84 277.4 76.7 277.4 70.3 C277.4 64 277.2 54.5 277.8 49.1Z" fill="#0050ff"/><path d="M278.5 49.7 C279 44.4 279.9 41.4 281.2 38.5 C282.4 35.5 284.3 33.7 286 32.1 C287.6 30.5 289.7 29.5 291.1 28.9 C292.4 28.4 293.4 28.3 294.1 28.6 C294.9 28.9 295.3 27.9 295.6 30.7 C295.9 33.4 295.9 39.8 295.9 45.4 C296 50.9 296 58 295.9 64.1 C295.9 70.2 295.8 78.4 295.7 82.2 C295.6 86 296.7 86 295.2 86.8 C293.7 87.5 289.6 86.9 286.9 86.8 C284.1 86.7 279.9 88.9 278.4 86.1 C277 83.4 278.1 76.4 278.1 70.3 C278.1 64.3 278 55 278.5 49.7Z" fill="#00f0f0"/><path d="M279.3 50.4 C279.7 45.1 280.6 42 281.8 39.1 C282.9 36.2 284.7 34.4 286.2 32.9 C287.8 31.3 289.8 30.3 291.1 29.7 C292.3 29.2 293.2 29.1 293.8 29.4 C294.4 29.7 294.7 28.9 294.9 31.6 C295.1 34.3 295 39.9 295.1 45.4 C295.1 50.8 295.1 58.1 295.1 64.1 C295 70.1 295 78 294.9 81.6 C294.7 85.2 295.6 85.2 294.2 86 C292.9 86.7 289.4 86.1 286.9 86 C284.3 85.9 280.4 88 279 85.3 C277.7 82.7 278.8 76.2 278.8 70.3 C278.9 64.5 278.8 55.6 279.3 50.4Z" fill="#2cf47c"/></g><g clip-path="url(#cp8_in)"><g filter="url(#bl1_3)"><ellipse cx="287.9" cy="39.1" rx="8.9" ry="10" fill="#a0ff40"/><ellipse cx="289.4" cy="36" rx="5.3" ry="4.4" fill="#d8ff18" opacity="0.8"/><circle cx="288.9" cy="30.5" r="1.2" fill="#d8ff18" opacity="0.6"/><circle cx="292.1" cy="43.4" r="1.8" fill="#d8ff18" opacity="0.6"/><circle cx="289.8" cy="36.7" r="1.1" fill="#a0ff40" opacity="0.6"/><circle cx="291.9" cy="45.6" r="1.5" fill="#d8ff18" opacity="0.6"/><circle cx="290.1" cy="40.2" r="1.5" fill="#a0ff40" opacity="0.6"/><circle cx="292" cy="41.1" r="1.9" fill="#a0ff40" opacity="0.6"/><circle cx="293" cy="39.5" r="2.3" fill="#a0ff40" opacity="0.6"/><circle cx="283.1" cy="33.7" r="1.5" fill="#d8ff18" opacity="0.6"/></g><rect x="276.3" y="26.6" width="21.1" height="62.5" filter="url(#nzA)"/><rect x="276.3" y="26.6" width="21.1" height="62.5" filter="url(#nzB)"/><g></g></g></g><rect x="276.3" y="26.6" width="21.1" height="62.5" fill="none" stroke="#222" stroke-width="0.9"/>
<g clip-path="url(#cp9)"><rect x="209.4" y="95.3" width="61" height="20.9" fill="#00008a"/><path d="M209.4 97.4 C211.4 94.4 216.5 96.4 221.6 96.3 C226.7 96.3 233.8 97 239.9 97 C246 97 253.1 96.3 258.2 96.3 C263.3 96.4 268.4 94.4 270.4 97.4 C272.4 100.4 272.4 111.1 270.4 114.1 C268.4 117.1 263.3 115.4 258.2 115.6 C253.1 115.7 246 115.2 239.9 115.2 C233.8 115.2 226.7 115.7 221.6 115.6 C216.5 115.4 211.4 117.1 209.4 114.1 C207.4 111.1 207.4 100.4 209.4 97.4Z" fill="none" stroke="#0a30f0" stroke-width="4" filter="url(#bl2_5)"/><g filter="url(#bl0_7)"><path d="M209.4 97.4 C211.4 94.4 216.5 96.4 221.6 96.3 C226.7 96.3 233.8 97 239.9 97 C246 97 253.1 96.3 258.2 96.3 C263.3 96.4 268.4 94.4 270.4 97.4 C272.4 100.4 272.4 111.1 270.4 114.1 C268.4 117.1 263.3 115.4 258.2 115.6 C253.1 115.7 246 115.2 239.9 115.2 C233.8 115.2 226.7 115.7 221.6 115.6 C216.5 115.4 211.4 117.1 209.4 114.1 C207.4 111.1 207.4 100.4 209.4 97.4Z" fill="#0050ff"/><path d="M210.3 98.4 C212.2 95.8 216.7 97.5 221.6 97.4 C226.5 97.3 233.8 98 239.9 98 C246 98 253.3 97.3 258.2 97.4 C263.1 97.5 267.6 95.8 269.5 98.4 C271.4 101 271.4 110.4 269.5 113.1 C267.6 115.7 263.1 114.4 258.2 114.5 C253.3 114.7 246 114.1 239.9 114.1 C233.8 114.1 226.5 114.7 221.6 114.5 C216.7 114.4 212.2 115.7 210.3 113.1 C208.4 110.4 208.4 101 210.3 98.4Z" fill="#00f0f0"/><path d="M211.2 99.5 C213 97.2 216.8 98.5 221.6 98.4 C226.4 98.4 233.8 99.1 239.9 99.1 C246 99.1 253.4 98.4 258.2 98.4 C263 98.5 266.8 97.2 268.6 99.5 C270.3 101.7 270.3 109.7 268.6 112 C266.8 114.4 263 113.3 258.2 113.5 C253.4 113.7 246 113.1 239.9 113.1 C233.8 113.1 226.4 113.7 221.6 113.5 C216.8 113.3 213 114.4 211.2 112 C209.5 109.7 209.5 101.7 211.2 99.5Z" fill="#2cf47c"/></g><g clip-path="url(#cp9_in)"><g filter="url(#bl1_3)"><ellipse cx="227.7" cy="102.6" rx="8.5" ry="6.3" fill="#a0ff40"/><ellipse cx="239.9" cy="106.8" rx="6.1" ry="8.4" fill="#a0ff40"/><ellipse cx="250.9" cy="104.7" rx="7.3" ry="7.3" fill="#a0ff40"/><ellipse cx="261.2" cy="101.6" rx="4.9" ry="4.2" fill="#a0ff40" opacity="0.9"/><ellipse cx="228.9" cy="102.6" rx="4.3" ry="4.2" fill="#d8ff18" opacity="0.9"/><ellipse cx="239.9" cy="107.8" rx="3.1" ry="6.3" fill="#d8ff18" opacity="0.9"/><ellipse cx="249.7" cy="104.7" rx="3.7" ry="5.2" fill="#d8ff18" opacity="0.9"/><ellipse cx="241.1" cy="108.9" rx="1.8" ry="3.1" fill="#ff9500" opacity="0.6"/><circle cx="256.1" cy="107.1" r="1.3" fill="#d8ff18" opacity="0.6"/><circle cx="245" cy="100.7" r="2" fill="#a0ff40" opacity="0.6"/><circle cx="243.3" cy="104.2" r="2.2" fill="#a0ff40" opacity="0.6"/><circle cx="250.1" cy="108.1" r="1.3" fill="#d8ff18" opacity="0.6"/><circle cx="255.7" cy="106" r="1.1" fill="#a0ff40" opacity="0.6"/><circle cx="255" cy="106.9" r="1.6" fill="#d8ff18" opacity="0.6"/></g><rect x="209.4" y="95.3" width="61" height="20.9" filter="url(#nzA)"/><rect x="209.4" y="95.3" width="61" height="20.9" filter="url(#nzB)"/><g></g></g></g><rect x="209.4" y="95.3" width="61" height="20.9" fill="none" stroke="#222" stroke-width="0.9"/>
<rect x="276.6" y="95.3" width="3.3" height="20.9" fill="url(#jetv)" stroke="#222" stroke-width="0.6"/>
<text x="282.8" y="102.8">75%</text>
<text x="282.8" y="116.5">0</text>
<g fill="#fff" stroke="none"><text x="13.1" y="77.1" font-size="8" font-style="italic" fill="#fff" style="stroke:#fff">y</text><text x="21.3" y="86.9" font-size="8" font-style="italic" fill="#fff" style="stroke:#fff">x</text></g><path d="M14.9 80.2V85.4H19.5" fill="none" stroke="#fff" stroke-width="0.9"/><path d="M20.5 85.4l-2-1.2v2.4z" fill="#fff"/>
<line x1="58.3" y1="85.3" x2="67.8" y2="85.3" stroke="#fff" stroke-width="0.9"/>
<g fill="#fff" stroke="none"><text x="79.4" y="76.7" font-size="8" font-style="italic" fill="#fff" style="stroke:#fff">y</text><text x="87.6" y="86.5" font-size="8" font-style="italic" fill="#fff" style="stroke:#fff">z</text></g><path d="M81.2 79.8V85H85.8" fill="none" stroke="#fff" stroke-width="0.9"/><path d="M86.8 85l-2-1.2v2.4z" fill="#fff"/>
<g fill="#fff" stroke="none"><text x="12.7" y="104.4" font-size="8" font-style="italic" fill="#fff" style="stroke:#fff">z</text><text x="20.9" y="114.2" font-size="8" font-style="italic" fill="#fff" style="stroke:#fff">x</text></g><path d="M14.5 107.5V112.7H19.1" fill="none" stroke="#fff" stroke-width="0.9"/><path d="M20.1 112.7l-2-1.2v2.4z" fill="#fff"/>
<text x="2.6" y="141" font-weight="bold" font-size="9" fill="#000" style="stroke:#000">c</text>
<g stroke-linecap="round"><path d="M44.6 149.9L87.7 150.4M44.6 149.9L107.2 162.4M44.6 149.9L14.2 183.3M44.6 149.9L97.7 179.9M44.6 149.9L97.7 203.6M44.6 149.9L38 210.6M44.6 149.9L119 215M44.6 149.9L47.1 229.2M44.6 149.9L81.6 227.3M44.6 149.9L105.9 237.4M44.6 149.9L80.1 253.5M66.4 146.6L23.2 164.7M66.4 146.6L71.6 165.6M66.4 146.6L97.7 179.9M66.4 146.6L61.7 206M66.4 146.6L97.7 203.6M66.4 146.6L119 215M66.4 146.6L47.1 229.2M66.4 146.6L105.9 237.4M87.7 150.4L71.6 165.6M87.7 150.4L107.2 162.4M87.7 150.4L118.6 185.5M87.7 150.4L97.7 203.6M87.7 150.4L119 215M23.2 164.7L45.2 182.1M23.2 164.7L97.7 179.9M23.2 164.7L76.9 190.3M23.2 164.7L81.6 227.3M23.2 164.7L105.9 237.4M23.2 164.7L80.1 253.5M71.6 165.6L14.2 183.3M71.6 165.6L118.6 185.5M71.6 165.6L28.1 241M71.6 165.6L49.7 252.4M107.2 162.4L118.6 185.5M107.2 162.4L76.9 190.3M107.2 162.4L28.1 241M14.2 183.3L45.2 182.1M14.2 183.3L118.6 185.5M14.2 183.3L97.7 203.6M14.2 183.3L119 215M14.2 183.3L81.6 227.3M14.2 183.3L105.9 237.4M45.2 182.1L118.6 185.5M45.2 182.1L14.2 225.4M45.2 182.1L47.1 229.2M45.2 182.1L81.6 227.3M45.2 182.1L105.9 237.4M45.2 182.1L28.1 241M45.2 182.1L49.7 252.4M97.7 179.9L118.6 185.5M97.7 179.9L76.9 190.3M97.7 179.9L97.7 203.6M118.6 185.5L76.9 190.3M76.9 190.3L38 210.6M76.9 190.3L119 215M76.9 190.3L47.1 229.2M76.9 190.3L105.9 237.4M76.9 190.3L28.1 241M61.7 206L47.1 229.2M61.7 206L81.6 227.3M61.7 206L105.9 237.4M97.7 203.6L14.2 225.4M97.7 203.6L81.6 227.3M97.7 203.6L105.9 237.4M97.7 203.6L80.1 253.5M38 210.6L47.1 229.2M38 210.6L49.7 252.4M119 215L81.6 227.3M119 215L28.1 241M14.2 225.4L105.9 237.4M14.2 225.4L49.7 252.4M47.1 229.2L49.7 252.4M47.1 229.2L80.1 253.5M81.6 227.3L80.1 253.5" stroke="#5cc08a" stroke-opacity="0.15" stroke-width="0.7"/><path d="M44.6 149.9L66.4 146.6M44.6 149.9L23.2 164.7M44.6 149.9L118.6 185.5M44.6 149.9L49.7 252.4M66.4 146.6L49.7 252.4M87.7 150.4L76.9 190.3M87.7 150.4L14.2 225.4M87.7 150.4L105.9 237.4M87.7 150.4L28.1 241M87.7 150.4L49.7 252.4M23.2 164.7L71.6 165.6M23.2 164.7L107.2 162.4M23.2 164.7L14.2 183.3M23.2 164.7L61.7 206M23.2 164.7L38 210.6M23.2 164.7L119 215M23.2 164.7L14.2 225.4M23.2 164.7L49.7 252.4M71.6 165.6L107.2 162.4M71.6 165.6L45.2 182.1M71.6 165.6L97.7 179.9M71.6 165.6L38 210.6M71.6 165.6L119 215M71.6 165.6L47.1 229.2M71.6 165.6L105.9 237.4M71.6 165.6L80.1 253.5M107.2 162.4L14.2 183.3M107.2 162.4L10.4 205.5M107.2 162.4L119 215M107.2 162.4L47.1 229.2M107.2 162.4L105.9 237.4M107.2 162.4L49.7 252.4M107.2 162.4L80.1 253.5M14.2 183.3L76.9 190.3M14.2 183.3L61.7 206M14.2 183.3L47.1 229.2M14.2 183.3L28.1 241M14.2 183.3L49.7 252.4M45.2 182.1L97.7 179.9M45.2 182.1L76.9 190.3M45.2 182.1L10.4 205.5M45.2 182.1L97.7 203.6M45.2 182.1L38 210.6M97.7 179.9L38 210.6M97.7 179.9L119 215M97.7 179.9L47.1 229.2M97.7 179.9L105.9 237.4M97.7 179.9L80.1 253.5M118.6 185.5L105.9 237.4M118.6 185.5L28.1 241M118.6 185.5L49.7 252.4M118.6 185.5L80.1 253.5M76.9 190.3L97.7 203.6M76.9 190.3L81.6 227.3M76.9 190.3L49.7 252.4M10.4 205.5L28.1 241M10.4 205.5L49.7 252.4M61.7 206L97.7 203.6M61.7 206L38 210.6M61.7 206L119 215M61.7 206L49.7 252.4M97.7 203.6L38 210.6M97.7 203.6L119 215M97.7 203.6L49.7 252.4M38 210.6L105.9 237.4M119 215L47.1 229.2M119 215L105.9 237.4M14.2 225.4L47.1 229.2M14.2 225.4L28.1 241M47.1 229.2L81.6 227.3M47.1 229.2L105.9 237.4M81.6 227.3L105.9 237.4M81.6 227.3L28.1 241M81.6 227.3L49.7 252.4M105.9 237.4L80.1 253.5M28.1 241L49.7 252.4M49.7 252.4L80.1 253.5" stroke="#5cc08a" stroke-opacity="0.25" stroke-width="0.7"/><path d="M44.6 149.9L71.6 165.6M44.6 149.9L45.2 182.1M44.6 149.9L76.9 190.3M44.6 149.9L61.7 206M44.6 149.9L28.1 241M66.4 146.6L87.7 150.4M66.4 146.6L107.2 162.4M66.4 146.6L14.2 183.3M66.4 146.6L45.2 182.1M66.4 146.6L118.6 185.5M66.4 146.6L76.9 190.3M66.4 146.6L38 210.6M66.4 146.6L81.6 227.3M66.4 146.6L28.1 241M66.4 146.6L80.1 253.5M87.7 150.4L23.2 164.7M87.7 150.4L14.2 183.3M87.7 150.4L45.2 182.1M87.7 150.4L97.7 179.9M87.7 150.4L61.7 206M87.7 150.4L38 210.6M87.7 150.4L47.1 229.2M87.7 150.4L81.6 227.3M87.7 150.4L80.1 253.5M23.2 164.7L118.6 185.5M23.2 164.7L97.7 203.6M23.2 164.7L47.1 229.2M23.2 164.7L28.1 241M71.6 165.6L76.9 190.3M71.6 165.6L61.7 206M71.6 165.6L97.7 203.6M71.6 165.6L14.2 225.4M71.6 165.6L81.6 227.3M107.2 162.4L45.2 182.1M107.2 162.4L97.7 179.9M107.2 162.4L61.7 206M107.2 162.4L97.7 203.6M107.2 162.4L38 210.6M107.2 162.4L81.6 227.3M14.2 183.3L97.7 179.9M14.2 183.3L38 210.6M14.2 183.3L80.1 253.5M45.2 182.1L61.7 206M45.2 182.1L119 215M45.2 182.1L80.1 253.5M97.7 179.9L61.7 206M97.7 179.9L81.6 227.3M97.7 179.9L28.1 241M97.7 179.9L49.7 252.4M118.6 185.5L10.4 205.5M118.6 185.5L61.7 206M118.6 185.5L97.7 203.6M118.6 185.5L38 210.6M118.6 185.5L119 215M118.6 185.5L47.1 229.2M118.6 185.5L81.6 227.3M76.9 190.3L61.7 206M76.9 190.3L80.1 253.5M10.4 205.5L81.6 227.3M61.7 206L28.1 241M61.7 206L80.1 253.5M97.7 203.6L47.1 229.2M97.7 203.6L28.1 241M38 210.6L119 215M38 210.6L81.6 227.3M38 210.6L28.1 241M38 210.6L80.1 253.5M119 215L14.2 225.4M119 215L49.7 252.4M119 215L80.1 253.5M14.2 225.4L81.6 227.3M47.1 229.2L28.1 241M105.9 237.4L28.1 241M105.9 237.4L49.7 252.4M28.1 241L80.1 253.5" stroke="#5cc08a" stroke-opacity="0.38" stroke-width="0.7"/><path d="M14.2 183.3L71.6 165.6M14.2 183.3L45.2 182.1M14.2 183.3L97.7 203.6M14.2 183.3L47.1 229.2M14.2 183.3L28.1 241M87.7 150.4L23.2 164.7M87.7 150.4L14.2 183.3M87.7 150.4L61.7 206M87.7 150.4L38 210.6M44.6 149.9L23.2 164.7" stroke="#0f7a3e" stroke-opacity="0.2" stroke-width="1.1"/><path d="M14.2 183.3L87.7 150.4M14.2 183.3L76.9 190.3M14.2 183.3L61.7 206M14.2 183.3L38 210.6M14.2 183.3L118.6 185.5M14.2 183.3L119 215M14.2 183.3L81.6 227.3M14.2 183.3L97.7 179.9M14.2 183.3L105.9 237.4M87.7 150.4L44.6 149.9M87.7 150.4L45.2 182.1M87.7 150.4L97.7 179.9M87.7 150.4L76.9 190.3M87.7 150.4L97.7 203.6M118.6 185.5L76.9 190.3M118.6 185.5L61.7 206M118.6 185.5L119 215M118.6 185.5L105.9 237.4M118.6 185.5L97.7 179.9M118.6 185.5L47.1 229.2M81.6 227.3L47.1 229.2M81.6 227.3L28.1 241M81.6 227.3L49.7 252.4M81.6 227.3L105.9 237.4M81.6 227.3L38 210.6M81.6 227.3L61.7 206M105.9 237.4L61.7 206M105.9 237.4L38 210.6M80.1 253.5L47.1 229.2M80.1 253.5L38 210.6M80.1 253.5L61.7 206M49.7 252.4L28.1 241M49.7 252.4L38 210.6M49.7 252.4L119 215M47.1 229.2L38 210.6M47.1 229.2L97.7 203.6M61.7 206L76.9 190.3M97.7 203.6L119 215M97.7 203.6L76.9 190.3M28.1 241L61.7 206M28.1 241L38 210.6M28.1 241L119 215M119 215L76.9 190.3M44.6 149.9L14.2 183.3" stroke="#0f7a3e" stroke-opacity="0.6" stroke-width="1.1"/><path d="M118.6 185.5L97.7 203.6M118.6 185.5L38 210.6M118.6 185.5L81.6 227.3M118.6 185.5L80.1 253.5M81.6 227.3L80.1 253.5M81.6 227.3L119 215M81.6 227.3L97.7 203.6M105.9 237.4L49.7 252.4M105.9 237.4L80.1 253.5M105.9 237.4L47.1 229.2M105.9 237.4L28.1 241M105.9 237.4L119 215M105.9 237.4L97.7 203.6M80.1 253.5L28.1 241M80.1 253.5L49.7 252.4M80.1 253.5L119 215M49.7 252.4L47.1 229.2M49.7 252.4L61.7 206M47.1 229.2L61.7 206M47.1 229.2L119 215M61.7 206L119 215M61.7 206L97.7 203.6M61.7 206L38 210.6M97.7 203.6L38 210.6M119 215L38 210.6" stroke="#0f7a3e" stroke-opacity="0.9" stroke-width="1.1"/></g>
<path d="M84.5 175.1 C88.3 173.7 93.8 170.9 98.7 170.4 C103.6 169.9 109.3 171 113.9 172.3 C118.5 173.6 123.7 175.2 126.5 178 C129.3 180.8 130.2 184.2 131 189.3 C131.8 194.4 131.4 202.6 131 208.3 C130.6 214 130.7 218.1 128.5 223.5 C126.3 228.9 122 235.5 117.7 240.6 C113.4 245.7 108.5 250.4 102.5 253.9 C96.5 257.4 89.2 260.2 81.6 261.5 C74 262.8 65.4 262.3 56.9 261.5 C48.4 260.7 38 259.2 30.4 256.7 C22.8 254.2 15.7 250.6 11.4 246.3 C7.1 242 5.7 235.5 4.7 231.1 C3.8 226.7 4 222.4 5.7 219.7 C7.5 217 11.1 216.9 15.2 215 C19.3 213.1 25 211.3 30.4 208.3 C35.8 205.3 41.7 200.8 47.4 197 C53.1 193.2 59.8 188.5 64.5 185.5 C69.2 182.5 72.6 180.6 75.9 178.9 C79.2 177.2 80.7 176.5 84.5 175.1Z" fill="none" stroke="#111" stroke-width="1.2" stroke-dasharray="2.6 1.8"/>
<circle cx="44.6" cy="149.9" r="6" fill="#fff" stroke="#9a9a9a" stroke-width="0.95"/>
<text x="44.6" y="152.7" text-anchor="middle" font-size="7.8">76</text>
<circle cx="66.4" cy="146.6" r="6" fill="#fff" stroke="#9a9a9a" stroke-width="0.95"/>
<text x="66.4" y="149.3" text-anchor="middle" font-size="7.8">77</text>
<circle cx="87.7" cy="150.4" r="6" fill="#fff" stroke="#9a9a9a" stroke-width="0.95"/>
<text x="87.7" y="153.2" text-anchor="middle" font-size="7.8">60</text>
<circle cx="23.2" cy="164.7" r="6" fill="#fff" stroke="#9a9a9a" stroke-width="0.95"/>
<text x="23.2" y="167.4" text-anchor="middle" font-size="7.8">75</text>
<circle cx="71.6" cy="165.6" r="6" fill="#fff" stroke="#9a9a9a" stroke-width="0.95"/>
<text x="71.6" y="168.3" text-anchor="middle" font-size="7.8">85</text>
<circle cx="107.2" cy="162.4" r="6" fill="#fff" stroke="#9a9a9a" stroke-width="0.95"/>
<text x="107.2" y="165.2" text-anchor="middle" font-size="7.8">67</text>
<circle cx="14.2" cy="183.3" r="6" fill="#fff" stroke="#9a9a9a" stroke-width="0.95"/>
<text x="14.2" y="186.1" text-anchor="middle" font-size="7.8">56</text>
<circle cx="45.2" cy="182.1" r="6" fill="#fff" stroke="#9a9a9a" stroke-width="0.95"/>
<text x="45.2" y="184.8" text-anchor="middle" font-size="7.8">82</text>
<circle cx="97.7" cy="179.9" r="6" fill="#f2d3bf" stroke="#9a9a9a" stroke-width="0.95"/>
<text x="97.7" y="182.7" text-anchor="middle" font-size="7.8">55</text>
<circle cx="118.6" cy="185.5" r="6" fill="#f2d3bf" stroke="#9a9a9a" stroke-width="0.95"/>
<text x="118.6" y="188.2" text-anchor="middle" font-size="7.8">72</text>
<circle cx="76.9" cy="190.3" r="6" fill="#fff" stroke="#9a9a9a" stroke-width="0.95"/>
<text x="76.9" y="193.1" text-anchor="middle" font-size="7.8">79</text>
<circle cx="10.4" cy="205.5" r="6" fill="#fff" stroke="#9a9a9a" stroke-width="0.95"/>
<text x="10.4" y="208.2" text-anchor="middle" font-size="7.8">80</text>
<circle cx="61.7" cy="206" r="6" fill="#fff" stroke="#9a9a9a" stroke-width="0.95"/>
<text x="61.7" y="208.8" text-anchor="middle" font-size="7.8">26</text>
<circle cx="97.7" cy="203.6" r="6" fill="#f2d3bf" stroke="#9a9a9a" stroke-width="0.95"/>
<text x="97.7" y="206.3" text-anchor="middle" font-size="7.8">73</text>
<circle cx="38" cy="210.6" r="6" fill="#fff" stroke="#9a9a9a" stroke-width="0.95"/>
<text x="38" y="213.3" text-anchor="middle" font-size="7.8">59</text>
<circle cx="119" cy="215" r="6" fill="#fff" stroke="#9a9a9a" stroke-width="0.95"/>
<text x="119" y="217.8" text-anchor="middle" font-size="7.8">84</text>
<circle cx="14.2" cy="225.4" r="6" fill="#fff" stroke="#9a9a9a" stroke-width="0.95"/>
<text x="14.2" y="228.2" text-anchor="middle" font-size="7.8">4</text>
<circle cx="47.1" cy="229.2" r="6" fill="#fff" stroke="#9a9a9a" stroke-width="0.95"/>
<text x="47.1" y="231.9" text-anchor="middle" font-size="7.8">23</text>
<circle cx="81.6" cy="227.3" r="6" fill="#f2d3bf" stroke="#9a9a9a" stroke-width="0.95"/>
<text x="81.6" y="230.1" text-anchor="middle" font-size="7.8">74</text>
<circle cx="105.9" cy="237.4" r="6" fill="#f2d3bf" stroke="#9a9a9a" stroke-width="0.95"/>
<text x="105.9" y="240.2" text-anchor="middle" font-size="7.8">63</text>
<circle cx="28.1" cy="241" r="6" fill="#f2d3bf" stroke="#9a9a9a" stroke-width="0.95"/>
<text x="28.1" y="243.8" text-anchor="middle" font-size="7.8">64</text>
<circle cx="49.7" cy="252.4" r="6" fill="#f2d3bf" stroke="#9a9a9a" stroke-width="0.95"/>
<text x="49.7" y="255.2" text-anchor="middle" font-size="7.8">65</text>
<circle cx="80.1" cy="253.5" r="6" fill="#f2d3bf" stroke="#9a9a9a" stroke-width="0.95"/>
<text x="80.1" y="256.2" text-anchor="middle" font-size="7.8">66</text>
<rect x="132.8" y="227.8" width="4.4" height="24.8" fill="url(#gbar)" stroke="#222" stroke-width="0.6"/>
<text x="138.6" y="232.5" font-size="8.6">1</text>
<text x="138.3" y="254.5" font-size="8.6">0.4</text>
<text x="142.5" y="174.1">Step 1:</text>
<text x="142.5" y="183.7">Apply</text>
<text x="142.5" y="193.3">brain region</text>
<text x="142.5" y="202.9">mask</text>
<line x1="143.5" y1="212" x2="183" y2="212" stroke="#231f20" stroke-width="1.2"/>
<path d="M187 212 L179 207.6 L181 212 L179 216.4Z" fill="#231f20"/>
<g clip-path="url(#cp10)"><rect x="202" y="142.2" width="78.9" height="78" fill="#45075a"/><path d="M202.6 152.2 C203.3 148.3 204.5 148 206.3 146.7 C208.2 145.4 210.5 145 213.8 144.5 C217.2 144.1 222.8 143.8 226.5 144 C230.1 144.2 233.3 145 235.6 145.9 C237.9 146.8 238.8 149.5 240.3 149.5 C241.9 149.5 242.8 146.8 245 145.9 C247.2 145 249.9 144.2 253.5 144 C257.1 143.8 262.9 143.9 266.7 144.5 C270.5 145.2 273.9 146.1 276.2 147.7 C278.5 149.2 279.7 150.3 280.5 154.1 C281.3 157.8 280.9 164.9 280.9 170.3 C280.9 175.6 281.9 183.2 280.5 186.3 C279.1 189.3 274.5 187.4 272.4 188.7 C270.2 190 269 192 267.7 194.1 C266.5 196.3 265.8 199.1 264.9 201.4 C263.9 203.7 264.3 205.8 262 207.7 C259.8 209.6 255.2 211.7 251.6 212.8 C248 213.9 244.1 214.3 240.3 214.3 C236.6 214.3 232.3 213.9 229 212.8 C225.7 211.7 222.5 209.6 220.5 207.7 C218.4 205.8 218 203.7 216.8 201.4 C215.5 199.1 214.4 196.3 213 194.1 C211.5 192 210 190 208.2 188.7 C206.5 187.4 203.4 189.3 202.4 186.3 C201.4 183.2 202 176 202 170.3 C202 164.6 201.8 156.1 202.6 152.2Z" fill="#3e4b8c"/><g clip-path="url(#cp10_b)"><rect x="202" y="142.2" width="78.9" height="78" filter="url(#nzV)"/></g><path d="M202 185.1 C203.1 181.5 206.6 187.1 208.3 189 C210 190.9 212 193.9 212.3 196.8 C212.5 199.7 211.6 203.8 209.9 206.2 C208.2 208.5 203.3 214.3 202 210.8 C200.7 207.3 200.9 188.7 202 185.1Z" fill="#3e4b8c"/><path d="M280.9 185.1 C279.8 181.5 276.3 187.1 274.6 189 C272.9 190.9 270.9 193.9 270.6 196.8 C270.4 199.7 271.3 203.8 273 206.2 C274.7 208.5 279.6 214.3 280.9 210.8 C282.2 207.3 282 188.7 280.9 185.1Z" fill="#3e4b8c"/><g filter="url(#bl1_2)"><ellipse cx="250.9" cy="179.6" rx="9.5" ry="3.9" fill="#35a582" opacity="0.7"/><ellipse cx="230.4" cy="178.9" rx="7.9" ry="3.1" fill="#2a7b8e" opacity="0.6"/><ellipse cx="241.4" cy="207.7" rx="22.1" ry="7" fill="#472f7c" opacity="0.8"/></g><path d="M240.7 177.3L239.1 190.6" stroke="#45075a" stroke-width="1.2"/><path d="M202.8 153.1 C203.4 149.8 204.9 149.6 206.7 148.4 C208.6 147.3 210.5 146.6 213.8 146.1 C217.1 145.6 222.8 145.4 226.5 145.7 C230.1 146 233.3 146.8 235.6 147.7 C237.9 148.5 238.8 150.8 240.3 150.8 C241.9 150.8 242.8 148.5 245 147.7 C247.2 146.8 249.9 146 253.5 145.7 C257.1 145.4 262.9 145.5 266.7 146.1 C270.5 146.7 273.9 147.8 276.2 149.2 C278.4 150.7 279.5 151.8 280.1 154.7 C280.8 157.6 282.2 164.9 280.1 166.8 C278 168.6 271 165.2 267.5 165.8 C263.9 166.4 261.8 168.8 258.8 170.3 C255.8 171.7 252.1 173.4 249.3 174.6 C246.6 175.9 244.6 177.6 242.2 177.9 C239.9 178.2 237.5 177.3 235.1 176.5 C232.8 175.7 231.1 174 228 173 C225 172 221.2 171 217 170.3 C212.8 169.5 205.2 171.3 202.8 168.5 C200.4 165.6 202.1 156.5 202.8 153.1Z" fill="#e000d2"/></g><rect x="202" y="142.2" width="78.9" height="78" fill="none" stroke="#222" stroke-width="0.9"/>
<g clip-path="url(#cp11)"><rect x="287.4" y="142.2" width="25.7" height="78" fill="#45075a"/><path d="M289.2 170.3 C289.8 163.5 290.9 159.9 292.5 156.2 C294.2 152.5 296.8 150.1 298.9 148 C301.1 146 303.6 144.9 305.4 144.1 C307.2 143.4 308.4 143.4 309.5 143.8 C310.6 144.1 311.3 142.5 311.8 146.1 C312.3 149.7 312.2 158.4 312.3 165.6 C312.4 172.8 312.4 181.2 312.3 189 C312.3 196.8 312.2 207.5 312.1 212.4 C311.9 217.3 313.5 217.3 311.6 218.2 C309.6 219.2 304 218.4 300.2 218.2 C296.5 218.1 291.1 221 289.2 217.5 C287.3 213.9 288.7 204.7 288.7 196.8 C288.7 188.9 288.6 177 289.2 170.3Z" fill="#3e4b8c"/><g clip-path="url(#cp11_b)"><rect x="287.4" y="142.2" width="25.7" height="78" filter="url(#nzV2)"/></g><g filter="url(#bl1_2)"><ellipse cx="295.1" cy="177.3" rx="7.7" ry="4.7" fill="#35a582" opacity="0.7"/></g><path d="M288.7 165.6 C288.5 162.9 290 157 291.3 153.9 C292.5 150.8 294.5 148.6 296.4 146.9 C298.3 145.2 300.7 144.3 302.8 143.8 C305 143.2 307.6 143.1 309.2 143.4 C310.9 143.6 311.9 142.3 312.6 145.3 C313.2 148.4 313.1 156.4 313.1 161.7 C313.1 167 313.4 174.7 312.6 177.3 C311.7 179.9 310 177.9 308 177.3 C305.9 176.6 302.8 174.6 300.2 173.4 C297.7 172.2 294.5 171.6 292.5 170.3 C290.6 169 288.9 168.3 288.7 165.6Z" fill="#e000d2"/></g><rect x="287.4" y="142.2" width="25.7" height="78" fill="none" stroke="#222" stroke-width="0.9"/>
<g clip-path="url(#cp12)"><rect x="202" y="227.4" width="78.9" height="25.2" fill="#45075a"/><path d="M202 228.7 C215.2 225.3 267.8 225.3 280.9 228.7 C294 232 282.2 245 280.9 248.8 C279.6 252.6 279.6 250.8 273 251.3 C266.4 251.9 252 252.1 241.4 252.1 C230.9 252.1 216.5 251.9 209.9 251.3 C203.3 250.8 203.3 252.6 202 248.8 C200.7 245 188.8 232 202 228.7Z" fill="#3e4b8c"/><path d="M202.8 228.2 C209.2 226.6 228.6 228.2 241.4 228.2 C254.3 228.2 273.7 226.6 280.1 228.2 C286.5 229.7 280.2 235 279.7 237.5 C279.2 240 278.7 241.3 277 243 C275.2 244.7 272.4 246.4 269.1 247.6 C265.8 248.7 261.8 249.5 257.2 250.1 C252.6 250.6 246.7 250.8 241.4 250.8 C236.2 250.8 230.3 250.6 225.7 250.1 C221.1 249.5 217.1 248.7 213.8 247.6 C210.5 246.4 207.7 244.7 205.9 243 C204.2 241.3 203.7 240 203.2 237.5 C202.7 235 196.4 229.7 202.8 228.2Z" fill="#e000d2"/></g><rect x="202" y="227.4" width="78.9" height="25.2" fill="none" stroke="#222" stroke-width="0.9"/>
<rect x="288.5" y="227.4" width="4.8" height="25.2" fill="url(#virv)" stroke="#222" stroke-width="0.6"/>
<text x="295.5" y="232.5">0.2</text>
<text x="295.5" y="255">0</text>
<text transform="translate(310.2 232.3) rotate(90)">ΔF/F</text>
<g fill="#fff"><text x="204.2" y="207.2" font-size="9.4" font-style="italic" fill="#fff" style="stroke:#fff">y</text><text x="214.1" y="217.3" font-size="9.4" font-style="italic" fill="#fff" style="stroke:#fff">x</text></g><path d="M207.5 210.6V215.4H212.8" fill="none" stroke="#fff" stroke-width="0.9"/>
<g fill="#fff"><text x="289.2" y="207.2" font-size="9.4" font-style="italic" fill="#fff" style="stroke:#fff">y</text><text x="299.1" y="217.3" font-size="9.4" font-style="italic" fill="#fff" style="stroke:#fff">z</text></g><path d="M292.5 210.6V215.4H297.8" fill="none" stroke="#fff" stroke-width="0.9"/>
<g fill="#fff"><text x="204.2" y="240.4" font-size="9.4" font-style="italic" fill="#fff" style="stroke:#fff">z</text><text x="214.1" y="250.5" font-size="9.4" font-style="italic" fill="#fff" style="stroke:#fff">x</text></g><path d="M207.5 243.8V248.6H212.8" fill="none" stroke="#fff" stroke-width="0.9"/>
<line x1="264" y1="215.4" x2="276.3" y2="215.4" stroke="#fff" stroke-width="1"/>
<text x="323.6" y="182.5">Step 2:</text>
<text x="323.6" y="192.1">Block-wise</text>
<text x="323.6" y="201.7">PCA</text>
<line x1="323.6" y1="211.9" x2="360" y2="211.9" stroke="#231f20" stroke-width="1.2"/>
<path d="M364.5 211.9 L356.5 207.5 L358.5 211.9 L356.5 216.3Z" fill="#231f20"/>
<g clip-path="url(#cp13)"><rect x="379.4" y="143.3" width="78.5" height="77.6" fill="#45075a"/><path d="M379.9 153.2 C380.7 149.3 381.8 149.1 383.7 147.8 C385.6 146.5 387.8 146.1 391.2 145.6 C394.5 145.2 400.1 144.9 403.7 145.1 C407.3 145.3 410.5 146 412.8 146.9 C415.1 147.9 416 150.5 417.6 150.5 C419.1 150.5 420 147.9 422.2 146.9 C424.4 146 427.1 145.3 430.7 145.1 C434.3 144.9 440 145 443.8 145.6 C447.5 146.2 450.9 147.2 453.2 148.7 C455.5 150.3 456.7 151.3 457.5 155.1 C458.3 158.8 457.9 165.9 457.9 171.2 C457.9 176.6 458.9 184.1 457.5 187.1 C456.1 190.2 451.5 188.2 449.4 189.5 C447.3 190.9 446 192.9 444.8 195 C443.5 197.1 442.9 199.9 442 202.2 C441 204.4 441.3 206.6 439.1 208.5 C436.9 210.4 432.4 212.4 428.8 213.5 C425.2 214.6 421.3 215.1 417.6 215.1 C413.8 215.1 409.5 214.6 406.2 213.5 C402.9 212.4 399.8 210.4 397.8 208.5 C395.7 206.6 395.3 204.4 394.1 202.2 C392.8 199.9 391.7 197.1 390.3 195 C388.9 192.9 387.4 190.9 385.6 189.5 C383.8 188.2 380.8 190.2 379.8 187.1 C378.8 184.1 379.4 176.9 379.4 171.2 C379.4 165.6 379.2 157.1 379.9 153.2Z" fill="#3e4b8c"/><g clip-path="url(#cp13_b)"><rect x="379.4" y="143.3" width="78.5" height="77.6" filter="url(#nzV)"/></g><path d="M379.4 186 C380.4 182.4 384 187.9 385.7 189.9 C387.4 191.8 389.3 194.8 389.6 197.6 C389.9 200.5 389 204.6 387.2 206.9 C385.5 209.3 380.7 215.1 379.4 211.6 C378.1 208.1 378.4 189.6 379.4 186Z" fill="#3e4b8c"/><path d="M457.9 186 C456.9 182.4 453.3 187.9 451.6 189.9 C449.9 191.8 448 194.8 447.7 197.6 C447.4 200.5 448.3 204.6 450 206.9 C451.8 209.3 456.6 215.1 457.9 211.6 C459.2 208.1 458.9 189.6 457.9 186Z" fill="#3e4b8c"/><g filter="url(#bl1_2)"><ellipse cx="428.1" cy="180.5" rx="9.4" ry="3.9" fill="#35a582" opacity="0.7"/><ellipse cx="407.7" cy="179.8" rx="7.9" ry="3.1" fill="#2a7b8e" opacity="0.6"/><ellipse cx="418.6" cy="208.5" rx="22" ry="7" fill="#472f7c" opacity="0.8"/></g><path d="M417.9 178.2L416.3 191.4" stroke="#45075a" stroke-width="1.2"/><path d="M380.2 154.2 C380.8 150.8 382.3 150.7 384.1 149.5 C385.9 148.3 387.9 147.6 391.2 147.2 C394.4 146.7 400.1 146.5 403.7 146.8 C407.3 147.1 410.5 147.9 412.8 148.7 C415.1 149.6 416 151.8 417.6 151.8 C419.1 151.8 420 149.6 422.2 148.7 C424.4 147.9 427.1 147.1 430.7 146.8 C434.3 146.5 440 146.6 443.8 147.2 C447.5 147.8 451 148.9 453.2 150.3 C455.4 151.7 456.5 152.8 457.1 155.7 C457.8 158.6 459.2 165.9 457.1 167.7 C455 169.6 448.1 166.2 444.6 166.8 C441 167.4 438.9 169.8 435.9 171.2 C432.9 172.7 429.2 174.3 426.5 175.6 C423.8 176.8 421.8 178.5 419.4 178.8 C417.1 179.2 414.7 178.3 412.4 177.4 C410 176.6 408.3 175 405.3 174 C402.3 172.9 398.5 172 394.3 171.2 C390.1 170.5 382.5 172.3 380.2 169.5 C377.8 166.6 379.5 157.5 380.2 154.2Z" fill="#e000d2"/><g stroke="#fff" stroke-width="0.8" stroke-opacity="0.9"><path d="M399 143.3V183.2"/><path d="M399 183.2V220.9" stroke-dasharray="2 1.5"/><path d="M418.8 143.3V183.2"/><path d="M418.8 183.2V220.9" stroke-dasharray="2 1.5"/><path d="M438.6 143.3V183.2"/><path d="M438.6 183.2V220.9" stroke-dasharray="2 1.5"/><path d="M379.4 163.1H457.9"/><path d="M379.4 183.2H457.9"/><path d="M379.4 202.5H457.9" stroke-dasharray="2 1.5"/></g></g><rect x="379.4" y="143.3" width="78.5" height="77.6" fill="none" stroke="#222" stroke-width="0.9"/>
<g clip-path="url(#cp14)"><rect x="465.2" y="143.3" width="25.4" height="77.6" fill="#45075a"/><path d="M467 171.2 C467.6 164.5 468.7 161 470.3 157.3 C471.9 153.6 474.5 151.1 476.6 149.1 C478.7 147.1 481.2 146 483 145.2 C484.7 144.5 486 144.5 487 144.9 C488.1 145.2 488.9 143.6 489.3 147.2 C489.8 150.8 489.8 159.5 489.8 166.6 C489.9 173.7 489.9 182.1 489.8 189.9 C489.8 197.6 489.7 208.3 489.6 213.1 C489.5 218 491 218 489.1 219 C487.1 219.9 481.6 219.1 477.9 219 C474.2 218.8 468.9 221.7 467 218.2 C465.1 214.6 466.5 205.4 466.5 197.6 C466.5 189.8 466.3 178 467 171.2Z" fill="#3e4b8c"/><g clip-path="url(#cp14_b)"><rect x="465.2" y="143.3" width="25.4" height="77.6" filter="url(#nzV2)"/></g><g filter="url(#bl1_2)"><ellipse cx="472.8" cy="178.2" rx="7.6" ry="4.7" fill="#35a582" opacity="0.7"/></g><path d="M466.5 166.6 C466.3 163.9 467.7 158 469 154.9 C470.3 151.8 472.2 149.6 474.1 148 C476 146.3 478.3 145.4 480.4 144.9 C482.6 144.3 485.2 144.2 486.8 144.5 C488.4 144.7 489.5 143.4 490.1 146.4 C490.7 149.4 490.6 157.4 490.6 162.7 C490.6 168 490.9 175.6 490.1 178.2 C489.2 180.8 487.6 178.9 485.5 178.2 C483.5 177.6 480.4 175.5 477.9 174.3 C475.4 173.2 472.2 172.5 470.3 171.2 C468.4 169.9 466.7 169.3 466.5 166.6Z" fill="#e000d2"/><g stroke="#fff" stroke-width="0.8" stroke-opacity="0.9"><path d="M478 143.3V183.2"/><path d="M478 183.2V220.9" stroke-dasharray="2 1.5"/><path d="M465.2 163.1H490.6"/><path d="M465.2 183.2H490.6"/><path d="M465.2 202.5H490.6" stroke-dasharray="2 1.5"/></g></g><rect x="465.2" y="143.3" width="25.4" height="77.6" fill="none" stroke="#222" stroke-width="0.9"/>
<g clip-path="url(#cp15)"><rect x="379.4" y="228.6" width="78.5" height="25" fill="#45075a"/><path d="M379.4 229.8 C392.5 226.5 444.8 226.5 457.9 229.8 C471 233.2 459.2 246.1 457.9 249.8 C456.6 253.6 456.6 251.8 450 252.3 C443.5 252.9 429.1 253.1 418.6 253.1 C408.2 253.1 393.8 252.9 387.2 252.3 C380.7 251.8 380.7 253.6 379.4 249.8 C378.1 246.1 366.3 233.2 379.4 229.8Z" fill="#3e4b8c"/><path d="M380.2 229.3 C386.5 227.8 405.8 229.3 418.6 229.3 C431.5 229.3 450.8 227.8 457.1 229.3 C463.5 230.9 457.2 236.1 456.7 238.6 C456.2 241.1 455.7 242.4 454 244.1 C452.2 245.8 449.4 247.4 446.1 248.6 C442.9 249.8 438.9 250.6 434.3 251.1 C429.8 251.6 423.9 251.8 418.6 251.8 C413.4 251.8 407.5 251.6 402.9 251.1 C398.4 250.6 394.4 249.8 391.2 248.6 C387.9 247.4 385.1 245.8 383.3 244.1 C381.6 242.4 381.1 241.1 380.6 238.6 C380.1 236.1 373.8 230.9 380.2 229.3Z" fill="#e000d2"/><g stroke="#fff" stroke-width="0.8" stroke-opacity="0.9"><path d="M399 228.6V254"/><path d="M399 254V253.6" stroke-dasharray="2 1.5"/><path d="M418.8 228.6V254"/><path d="M418.8 254V253.6" stroke-dasharray="2 1.5"/><path d="M438.6 228.6V254"/><path d="M438.6 254V253.6" stroke-dasharray="2 1.5"/><path d="M379.4 241.4H457.9"/></g></g><rect x="379.4" y="228.6" width="78.5" height="25" fill="none" stroke="#222" stroke-width="0.9"/>
<rect x="465.7" y="228.6" width="4.8" height="25" fill="url(#virv)" stroke="#222" stroke-width="0.6"/>
<text x="473.1" y="232.7">0.2</text>
<text x="473.1" y="255.7">0</text>
<text transform="translate(486 232.3) rotate(90)">ΔF/F</text>
<text x="100.7" y="280.6">(180 trials)</text>
<line x1="148.4" y1="277.4" x2="161.5" y2="277.4" stroke="#8fa9e8" stroke-width="1.4"/>
<text x="163.6" y="280.6">OCT</text>
<line x1="186.9" y1="277.4" x2="201.5" y2="277.4" stroke="#d98a86" stroke-width="1.4"/>
<text x="204.7" y="280.6">MCH</text>
<line x1="229.6" y1="277.4" x2="243.3" y2="277.4" stroke="#f5c07e" stroke-width="1.4"/>
<text x="245.6" y="280.6">EA</text>
<path d="M98.4 286.6h1.2v13.2h-1.2zM117 286.6h1.2v13.2h-1.2zM125.3 286.6h1.2v13.2h-1.2zM139.8 286.6h1.2v13.2h-1.2zM181.2 286.6h1.2v13.2h-1.2zM187.4 286.6h1.2v13.2h-1.2zM197.7 286.6h1.2v13.2h-1.2zM199.8 286.6h1.2v13.2h-1.2zM206 286.6h1.2v13.2h-1.2zM247.4 286.6h1.2v13.2h-1.2zM266 286.6h1.2v13.2h-1.2zM295 286.6h1.2v13.2h-1.2zM324 286.6h1.2v13.2h-1.2zM338.5 286.6h1.2v13.2h-1.2zM342.6 286.6h1.2v13.2h-1.2zM344.7 286.6h1.2v13.2h-1.2zM357.1 286.6h1.2v13.2h-1.2zM361.2 286.6h1.2v13.2h-1.2zM369.5 286.6h1.2v13.2h-1.2zM371.6 286.6h1.2v13.2h-1.2zM373.7 286.6h1.2v13.2h-1.2zM392.3 286.6h1.2v13.2h-1.2zM394.4 286.6h1.2v13.2h-1.2zM396.4 286.6h1.2v13.2h-1.2zM421.3 286.6h1.2v13.2h-1.2zM425.4 286.6h1.2v13.2h-1.2zM446.1 286.6h1.2v13.2h-1.2z" fill="#f6cf9b"/>
<path d="M100.4 286.6h1.2v13.2h-1.2zM106.6 286.6h1.2v13.2h-1.2zM129.4 286.6h1.2v13.2h-1.2zM135.6 286.6h1.2v13.2h-1.2zM150.1 286.6h1.2v13.2h-1.2zM183.2 286.6h1.2v13.2h-1.2zM189.4 286.6h1.2v13.2h-1.2zM203.9 286.6h1.2v13.2h-1.2zM208.1 286.6h1.2v13.2h-1.2zM212.2 286.6h1.2v13.2h-1.2zM214.3 286.6h1.2v13.2h-1.2zM222.6 286.6h1.2v13.2h-1.2zM224.6 286.6h1.2v13.2h-1.2zM239.1 286.6h1.2v13.2h-1.2zM251.5 286.6h1.2v13.2h-1.2zM255.7 286.6h1.2v13.2h-1.2zM261.9 286.6h1.2v13.2h-1.2zM263.9 286.6h1.2v13.2h-1.2zM301.2 286.6h1.2v13.2h-1.2zM309.5 286.6h1.2v13.2h-1.2zM313.6 286.6h1.2v13.2h-1.2zM317.8 286.6h1.2v13.2h-1.2zM365.4 286.6h1.2v13.2h-1.2zM408.9 286.6h1.2v13.2h-1.2zM415.1 286.6h1.2v13.2h-1.2zM429.6 286.6h1.2v13.2h-1.2zM442 286.6h1.2v13.2h-1.2zM458.5 286.6h1.2v13.2h-1.2z" fill="#dc9a96"/>
<path d="M102.5 286.6h1.2v13.2h-1.2zM104.6 286.6h1.2v13.2h-1.2zM108.7 286.6h1.2v13.2h-1.2zM121.1 286.6h1.2v13.2h-1.2zM123.2 286.6h1.2v13.2h-1.2zM156.3 286.6h1.2v13.2h-1.2zM164.6 286.6h1.2v13.2h-1.2zM166.7 286.6h1.2v13.2h-1.2zM193.6 286.6h1.2v13.2h-1.2zM216.3 286.6h1.2v13.2h-1.2zM235 286.6h1.2v13.2h-1.2zM249.5 286.6h1.2v13.2h-1.2zM268.1 286.6h1.2v13.2h-1.2zM278.4 286.6h1.2v13.2h-1.2zM288.8 286.6h1.2v13.2h-1.2zM297.1 286.6h1.2v13.2h-1.2zM303.3 286.6h1.2v13.2h-1.2zM307.4 286.6h1.2v13.2h-1.2zM330.2 286.6h1.2v13.2h-1.2zM346.8 286.6h1.2v13.2h-1.2zM353 286.6h1.2v13.2h-1.2zM400.6 286.6h1.2v13.2h-1.2zM431.6 286.6h1.2v13.2h-1.2zM450.2 286.6h1.2v13.2h-1.2zM462.7 286.6h1.2v13.2h-1.2zM466.8 286.6h1.2v13.2h-1.2z" fill="#7b9ae8"/>
<path d="M110.8 286.6h1.2v13.2h-1.2zM137.7 286.6h1.2v13.2h-1.2zM141.8 286.6h1.2v13.2h-1.2zM143.9 286.6h1.2v13.2h-1.2zM172.9 286.6h1.2v13.2h-1.2zM177 286.6h1.2v13.2h-1.2zM179.1 286.6h1.2v13.2h-1.2zM195.6 286.6h1.2v13.2h-1.2zM201.9 286.6h1.2v13.2h-1.2zM228.8 286.6h1.2v13.2h-1.2zM232.9 286.6h1.2v13.2h-1.2zM237 286.6h1.2v13.2h-1.2zM257.7 286.6h1.2v13.2h-1.2zM259.8 286.6h1.2v13.2h-1.2zM274.3 286.6h1.2v13.2h-1.2zM276.4 286.6h1.2v13.2h-1.2zM280.5 286.6h1.2v13.2h-1.2zM286.7 286.6h1.2v13.2h-1.2zM321.9 286.6h1.2v13.2h-1.2zM326.1 286.6h1.2v13.2h-1.2zM332.3 286.6h1.2v13.2h-1.2zM350.9 286.6h1.2v13.2h-1.2zM355 286.6h1.2v13.2h-1.2zM367.4 286.6h1.2v13.2h-1.2zM377.8 286.6h1.2v13.2h-1.2zM381.9 286.6h1.2v13.2h-1.2zM384 286.6h1.2v13.2h-1.2zM388.2 286.6h1.2v13.2h-1.2zM417.1 286.6h1.2v13.2h-1.2zM427.5 286.6h1.2v13.2h-1.2zM435.8 286.6h1.2v13.2h-1.2zM456.5 286.6h1.2v13.2h-1.2zM460.6 286.6h1.2v13.2h-1.2z" fill="#f2b36b"/>
<path d="M112.8 286.6h1.2v13.2h-1.2zM119.1 286.6h1.2v13.2h-1.2zM131.5 286.6h1.2v13.2h-1.2zM133.5 286.6h1.2v13.2h-1.2zM146 286.6h1.2v13.2h-1.2zM148 286.6h1.2v13.2h-1.2zM152.2 286.6h1.2v13.2h-1.2zM154.2 286.6h1.2v13.2h-1.2zM162.5 286.6h1.2v13.2h-1.2zM168.7 286.6h1.2v13.2h-1.2zM174.9 286.6h1.2v13.2h-1.2zM191.5 286.6h1.2v13.2h-1.2zM218.4 286.6h1.2v13.2h-1.2zM226.7 286.6h1.2v13.2h-1.2zM230.8 286.6h1.2v13.2h-1.2zM241.2 286.6h1.2v13.2h-1.2zM243.3 286.6h1.2v13.2h-1.2zM245.3 286.6h1.2v13.2h-1.2zM253.6 286.6h1.2v13.2h-1.2zM272.2 286.6h1.2v13.2h-1.2zM290.9 286.6h1.2v13.2h-1.2zM305.4 286.6h1.2v13.2h-1.2zM311.6 286.6h1.2v13.2h-1.2zM315.7 286.6h1.2v13.2h-1.2zM319.8 286.6h1.2v13.2h-1.2zM328.1 286.6h1.2v13.2h-1.2zM334.3 286.6h1.2v13.2h-1.2zM336.4 286.6h1.2v13.2h-1.2zM340.5 286.6h1.2v13.2h-1.2zM359.2 286.6h1.2v13.2h-1.2zM379.9 286.6h1.2v13.2h-1.2zM386.1 286.6h1.2v13.2h-1.2zM402.6 286.6h1.2v13.2h-1.2zM410.9 286.6h1.2v13.2h-1.2zM413 286.6h1.2v13.2h-1.2zM423.3 286.6h1.2v13.2h-1.2zM433.7 286.6h1.2v13.2h-1.2zM437.8 286.6h1.2v13.2h-1.2zM439.9 286.6h1.2v13.2h-1.2zM448.2 286.6h1.2v13.2h-1.2zM464.7 286.6h1.2v13.2h-1.2zM468.9 286.6h1.2v13.2h-1.2z" fill="#a6b8ee"/>
<path d="M114.9 286.6h1.2v13.2h-1.2zM127.3 286.6h1.2v13.2h-1.2zM158.4 286.6h1.2v13.2h-1.2zM160.5 286.6h1.2v13.2h-1.2zM170.8 286.6h1.2v13.2h-1.2zM185.3 286.6h1.2v13.2h-1.2zM210.1 286.6h1.2v13.2h-1.2zM220.5 286.6h1.2v13.2h-1.2zM270.2 286.6h1.2v13.2h-1.2zM282.6 286.6h1.2v13.2h-1.2zM284.6 286.6h1.2v13.2h-1.2zM292.9 286.6h1.2v13.2h-1.2zM299.1 286.6h1.2v13.2h-1.2zM348.8 286.6h1.2v13.2h-1.2zM363.3 286.6h1.2v13.2h-1.2zM375.7 286.6h1.2v13.2h-1.2zM390.2 286.6h1.2v13.2h-1.2zM398.5 286.6h1.2v13.2h-1.2zM404.7 286.6h1.2v13.2h-1.2zM406.8 286.6h1.2v13.2h-1.2zM419.2 286.6h1.2v13.2h-1.2zM444 286.6h1.2v13.2h-1.2zM452.3 286.6h1.2v13.2h-1.2zM454.4 286.6h1.2v13.2h-1.2z" fill="#c86a66"/>
<rect x="98.2" y="303.8" width="373.2" height="64.8" fill="#4fbf78"/><rect x="98.2" y="303.8" width="373.2" height="64.8" filter="url(#nzH1)"/><rect x="98.2" y="303.8" width="373.2" height="64.8" filter="url(#nzH2)"/><rect x="114.8" y="303.8" width="4.5" height="64.8" fill="url(#bandg)" opacity="0.5"/><rect x="146.5" y="303.8" width="4" height="64.8" fill="url(#bandg)" opacity="0.4"/><rect x="190.5" y="303.8" width="3" height="64.8" fill="url(#bandg)" opacity="0.3"/><rect x="275.5" y="303.8" width="3" height="64.8" fill="url(#bandg)" opacity="0.3"/><rect x="300.5" y="303.8" width="3" height="64.8" fill="url(#bandg)" opacity="0.3"/><rect x="320" y="303.8" width="2" height="64.8" fill="url(#bandg)" opacity="0.1"/><rect x="369.8" y="303.8" width="2.5" height="64.8" fill="url(#bandg)" opacity="0.2"/><rect x="393" y="303.8" width="2" height="64.8" fill="url(#bandg)" opacity="0.1"/><rect x="160.6" y="303.8" width="2" height="64.8" fill="url(#bandg)" opacity="0.1"/><rect x="238" y="303.8" width="2" height="64.8" fill="url(#bandg)" opacity="0.1"/>
<rect x="98.2" y="303.8" width="373.2" height="64.8" fill="none" stroke="#1a1a1a" stroke-width="0.9"/>
<rect x="97.6" y="324.3" width="374.4" height="4.4" fill="none" stroke="#111" stroke-width="0.9"/>
<path d="M397.5 253.6 L98 324.5 M418.8 253.6 L471.4 324.5" stroke="#231f20" stroke-width="0.8" stroke-dasharray="2.2 1.6" fill="none"/>
<text transform="translate(82.9 334) rotate(-90)" text-anchor="middle" font-size="9.2">12936 dims</text>
<text transform="translate(92.3 333) rotate(-90)" text-anchor="middle" font-size="9.2">(268 blocks)</text>
<text x="98.2" y="379.4" text-anchor="middle">0</text>
<text x="284.3" y="379.4" text-anchor="middle">Time (s)</text>
<text x="471.4" y="379.4" text-anchor="end">6700</text>
<rect x="475.3" y="338" width="4.6" height="31.4" fill="url(#gbar2)" stroke="#222" stroke-width="0.6"/>
<text transform="translate(482 334.5) rotate(90)" font-size="9.2">1.5</text>
<text transform="translate(482 366) rotate(90)" font-size="9.2">-1</text>
<text transform="translate(490 348.9) rotate(90)" font-size="9.2">a.u.</text>
<text x="9.6" y="317.7">Step 3:</text>
<text x="9.6" y="327.2">PCA and LDA</text>
<path d="M60 334.7 H20.5 V369" fill="none" stroke="#231f20" stroke-width="1.2"/>
<path d="M20.5 375 L16.6 366.5 L20.5 368.5 L24.4 366.5Z" fill="#231f20"/>
<text x="2.5" y="401" font-weight="bold" font-size="9" fill="#000" style="stroke:#000">d</text>
<text x="118.2" y="406.1" text-anchor="middle">G7f</text>
<line x1="50.2" y1="410.9" x2="183.4" y2="410.9" stroke="#3d3535" stroke-width="0.9"/>
<text x="81.8" y="424.1" text-anchor="middle">Train</text>
<text x="157.7" y="424.1" text-anchor="middle">Test</text>
<text x="195.8" y="401.6" font-weight="bold" font-size="9" fill="#000" style="stroke:#000">e</text>
<text x="269.3" y="406.1" text-anchor="middle">rACh</text>
<line x1="201" y1="410.9" x2="342.9" y2="410.9" stroke="#3d3535" stroke-width="0.9"/>
<text x="237.8" y="424.1" text-anchor="middle">Train</text>
<text x="315.3" y="424.1" text-anchor="middle">Test</text>
<text x="354.5" y="401.2" font-weight="bold" font-size="9" fill="#000" style="stroke:#000">f</text>
<text x="428.8" y="406.1" text-anchor="middle">r5-HT</text>
<line x1="357.9" y1="410.9" x2="495.5" y2="410.9" stroke="#3d3535" stroke-width="0.9"/>
<text x="396.5" y="424.1" text-anchor="middle">Train</text>
<text x="471.4" y="424.1" text-anchor="middle">Test</text>
<path d="M54 491.8V480.3M54 491.8H68.5" fill="none" stroke="#231f20" stroke-width="0.8"/>
<path d="M54 478.5l-1.6 3.2h3.2zM70.3 491.8l-3.2-1.6v3.2z" fill="#231f20"/>
<text x="71.9" y="495">LDA 1</text>
<text transform="translate(57.2 477.8) rotate(-90)">LDA 2</text>
<path d="M54 569V557.5M54 569H68.5" fill="none" stroke="#231f20" stroke-width="0.8"/>
<path d="M54 555.7l-1.6 3.2h3.2zM70.3 569l-3.2-1.6v3.2z" fill="#231f20"/>
<text x="71.9" y="572.2">LDA 1</text>
<text transform="translate(57.2 555) rotate(-90)">LDA 2</text>
<path d="M54 634.5V623M54 634.5H68.5" fill="none" stroke="#231f20" stroke-width="0.8"/>
<path d="M54 621.2l-1.6 3.2h3.2zM70.3 634.5l-3.2-1.6v3.2z" fill="#231f20"/>
<text x="71.9" y="637.7">LDA 1</text>
<text transform="translate(57.2 620.5) rotate(-90)">LDA 2</text>
<path d="M131.4 491.8V480.3M131.4 491.8H145.9" fill="none" stroke="#231f20" stroke-width="0.8"/>
<path d="M131.4 478.5l-1.6 3.2h3.2zM147.7 491.8l-3.2-1.6v3.2z" fill="#231f20"/>
<text x="149.3" y="495">LDA 1</text>
<text transform="translate(134.6 477.8) rotate(-90)">LDA 2</text>
<path d="M131.4 569V557.5M131.4 569H145.9" fill="none" stroke="#231f20" stroke-width="0.8"/>
<path d="M131.4 555.7l-1.6 3.2h3.2zM147.7 569l-3.2-1.6v3.2z" fill="#231f20"/>
<text x="149.3" y="572.2">LDA 1</text>
<text transform="translate(134.6 555) rotate(-90)">LDA 2</text>
<path d="M131.4 634.5V623M131.4 634.5H145.9" fill="none" stroke="#231f20" stroke-width="0.8"/>
<path d="M131.4 621.2l-1.6 3.2h3.2zM147.7 634.5l-3.2-1.6v3.2z" fill="#231f20"/>
<text x="149.3" y="637.7">LDA 1</text>
<text transform="translate(134.6 620.5) rotate(-90)">LDA 2</text>
<path d="M205 491.8V480.3M205 491.8H219.5" fill="none" stroke="#231f20" stroke-width="0.8"/>
<path d="M205 478.5l-1.6 3.2h3.2zM221.3 491.8l-3.2-1.6v3.2z" fill="#231f20"/>
<text x="222.9" y="495">LDA 1</text>
<text transform="translate(208.2 477.8) rotate(-90)">LDA 2</text>
<path d="M205 569V557.5M205 569H219.5" fill="none" stroke="#231f20" stroke-width="0.8"/>
<path d="M205 555.7l-1.6 3.2h3.2zM221.3 569l-3.2-1.6v3.2z" fill="#231f20"/>
<text x="222.9" y="572.2">LDA 1</text>
<text transform="translate(208.2 555) rotate(-90)">LDA 2</text>
<path d="M205 634.5V623M205 634.5H219.5" fill="none" stroke="#231f20" stroke-width="0.8"/>
<path d="M205 621.2l-1.6 3.2h3.2zM221.3 634.5l-3.2-1.6v3.2z" fill="#231f20"/>
<text x="222.9" y="637.7">LDA 1</text>
<text transform="translate(208.2 620.5) rotate(-90)">LDA 2</text>
<path d="M283.8 491.8V480.3M283.8 491.8H298.3" fill="none" stroke="#231f20" stroke-width="0.8"/>
<path d="M283.8 478.5l-1.6 3.2h3.2zM300.1 491.8l-3.2-1.6v3.2z" fill="#231f20"/>
<text x="301.7" y="495">LDA 1</text>
<text transform="translate(287 477.8) rotate(-90)">LDA 2</text>
<path d="M283.8 569V557.5M283.8 569H298.3" fill="none" stroke="#231f20" stroke-width="0.8"/>
<path d="M283.8 555.7l-1.6 3.2h3.2zM300.1 569l-3.2-1.6v3.2z" fill="#231f20"/>
<text x="301.7" y="572.2">LDA 1</text>
<text transform="translate(287 555) rotate(-90)">LDA 2</text>
<path d="M283.8 634.5V623M283.8 634.5H298.3" fill="none" stroke="#231f20" stroke-width="0.8"/>
<path d="M283.8 621.2l-1.6 3.2h3.2zM300.1 634.5l-3.2-1.6v3.2z" fill="#231f20"/>
<text x="301.7" y="637.7">LDA 1</text>
<text transform="translate(287 620.5) rotate(-90)">LDA 2</text>
<path d="M364.2 491.8V480.3M364.2 491.8H378.7" fill="none" stroke="#231f20" stroke-width="0.8"/>
<path d="M364.2 478.5l-1.6 3.2h3.2zM380.5 491.8l-3.2-1.6v3.2z" fill="#231f20"/>
<text x="382.1" y="495">LDA 1</text>
<text transform="translate(367.4 477.8) rotate(-90)">LDA 2</text>
<path d="M364.2 569V557.5M364.2 569H378.7" fill="none" stroke="#231f20" stroke-width="0.8"/>
<path d="M364.2 555.7l-1.6 3.2h3.2zM380.5 569l-3.2-1.6v3.2z" fill="#231f20"/>
<text x="382.1" y="572.2">LDA 1</text>
<text transform="translate(367.4 555) rotate(-90)">LDA 2</text>
<path d="M364.2 634.5V623M364.2 634.5H378.7" fill="none" stroke="#231f20" stroke-width="0.8"/>
<path d="M364.2 621.2l-1.6 3.2h3.2zM380.5 634.5l-3.2-1.6v3.2z" fill="#231f20"/>
<text x="382.1" y="637.7">LDA 1</text>
<text transform="translate(367.4 620.5) rotate(-90)">LDA 2</text>
<path d="M441.2 491.8V480.3M441.2 491.8H455.7" fill="none" stroke="#231f20" stroke-width="0.8"/>
<path d="M441.2 478.5l-1.6 3.2h3.2zM457.5 491.8l-3.2-1.6v3.2z" fill="#231f20"/>
<text x="459.1" y="495">LDA 1</text>
<text transform="translate(444.4 477.8) rotate(-90)">LDA 2</text>
<path d="M441.2 569V557.5M441.2 569H455.7" fill="none" stroke="#231f20" stroke-width="0.8"/>
<path d="M441.2 555.7l-1.6 3.2h3.2zM457.5 569l-3.2-1.6v3.2z" fill="#231f20"/>
<text x="459.1" y="572.2">LDA 1</text>
<text transform="translate(444.4 555) rotate(-90)">LDA 2</text>
<path d="M441.2 634.5V623M441.2 634.5H455.7" fill="none" stroke="#231f20" stroke-width="0.8"/>
<path d="M441.2 621.2l-1.6 3.2h3.2zM457.5 634.5l-3.2-1.6v3.2z" fill="#231f20"/>
<text x="459.1" y="637.7">LDA 1</text>
<text transform="translate(444.4 620.5) rotate(-90)">LDA 2</text>
<path d="M109.2 459 106 460.3 106.8 462 106 463.3 107.1 466.2 105.5 467.3 104.5 469.4 101.2 466.5 100.2 468.5 98.5 466.6 97 467.5 95.1 468.4 94.7 465.6 93 465.5 90.3 465.9 89.6 464.1 90.4 461.9 88.2 460.8 87 459 91.1 457.7 87.7 455.1 89 453.5 91.5 453.1 93.2 452.7 92.4 448.4 95.4 450.4 97.1 451.2 98.5 451 100.5 447.4 102.1 449.1 104.3 449 105.7 450.5 106.3 452.5 109.2 452.8 107.3 455.8 108.6 457.2Z" fill="#ff8c00" opacity="0.92"/><path d="M105.8 448.7l-3.8 3-0.9 7.9 2.4 1.7 1.5 1.7-6.5-5.9-2.7 3.7 0.1 11-1.5-8 1.4-5.5-7.4 8.9-3.5-6.7 11.5-8.9 1.1 4.8-1.3 5.3 4.2 11-3.7-1.7 6.2-8.6-2.4 2.7-5-4.4-9.1-6.9 2.2 4.7 11.2 0.1 0.9 1.1 5.2 4.8-1.8-8.2M108.8 460.3l0.4-2.2-6.4-8-6.3 3-0.8 0.5-4.5 4.9 14.4-3.1-3.8 8.3 3.1 7.5-5.4 0.6 3.7-1.1-0.8-12.1 3.2 0.2 6.7 1.4-3.8-4.8 4 5.5-0.7 2.5-0.8 0.6-1.2 2.4-9.3-4.7 3.2-5.5-0.6 8.1-2.6-6.1-6.3 13.1-4.4-2.9 6.8-1.5M96.4 467.2l8.2-0.2-2.2 5.2 2-4.1-4.5-7.6 7.2 7.9-13.7-2.5 3.6-6.6 5.6 3.3-7.5 1.3 0.4-10.6 3.9 2.3-4.6 4.5 4.4-3.8 2 7-5.3 0.2 1.5 7.7 5.1-11 9 3.1 0.7-4.4-2.9 5.7-3.5 3.1 1.9-1.9 0.3-3.5-3-7.6-15.5 8.6M102.6 455.6l-6.2 15.9-5.3-9 3.3-3.5-3.9-3.4 5.6-1.1 3.3 1.4 2.6 8.4-3.5-6.1 8.7 8.5-3.7 4.2-6.6-9.4-5.2-4.6 6.6-0.6-0.8-2.9-6.3 7.7 1.8 3.8 2.5-4.9-10.8 2.8 9.8 0 0.9 9.7 5.4-9.8 4.8 7.3-5.4-12.4 7.5 0 2.6 1.2M95.8 453.5l6.8 7-2.9 7-1.3-7.6-2.9-3.7-11 2.1 7.7-1.7-1.2 3.2 13.1-0.2-5.4-3.6-0.5-5.8-0.6 4.3 10.9 7.4 1.4-5.4-1.3-5.3-2.8 5.9-7.6 12.2 3.3-15.4 1.8 0-2.1 4.9 1-11.5-8.3 9.7 9.5 11.7 7.3-15.7-4.5 1.8-3.9-3.2M107.5 451.6l-3.4 0.7 2.2-1.8-0.9-1.9-6.6 14.2 0.1-0.5 1.6 3.3 8.8-14.1-6.3 11.3-13 5.6 6.4-5.3 4.5-2.5 3.2-1.8 2.2 3.9-4.2-6.5-6.9-3-4.1 7.5 3.1 8.2 14.9-4.3-13.6-4.7 0.9-8.9-0.5 5.3-1.4-3.2-2.5 12.8 2-7.8-0.1 5.8M100.1 465.1l7.2-5.9 2.5-4.6-7.3 8.8 2.8-2-9.8 2.1-2.2-7.3-1.4 2.7-6.8 1.8 7.2 1.3-5.2-2.1 1 7.6 2.8-7.4 3.8 0.7 1.9 5.6 2.2-5.1-7 3.1 6 5.8-3.9-4.9 1.7-3.3 1.4-11.1 5.3 7.4 3.3 11 0.9-3.3 0-8.3-0.9-7.4" fill="none" stroke="#ff8c00" stroke-width="0.6" stroke-linejoin="round"/><path d="M117 453.8l-22.2-4.3-11.8 6.2-2.5-1.9 6.8 4.6 8 11.3 3.2-16.7" fill="none" stroke="#ff8c00" stroke-width="0.6"/><path d="M102.7 460.6l-3.9 5.5-4.2-6 4.1 10.9-0.9-11.1-7.5 4.6 1.3-1.2" fill="none" stroke="#ff8c00" stroke-width="0.6"/>
<path d="M88 468 90.8 469.8 88.2 471.1 87.9 472.8 87.3 474.6 85.1 475.6 81.9 475.1 79.2 474.2 78 476 76 477.9 73.4 478.1 70.8 478.1 70 475.3 67 475.5 66.2 473.8 64.6 472.6 65.9 470.6 65.4 469.3 63.9 468 66.6 466.8 65.2 465.3 64.2 463.2 66.9 462.6 69.3 462.4 69.9 460.5 72.5 461.3 73.7 458.9 76 461.3 78.1 459.8 80.4 459.5 80.8 462.2 84.6 460.8 83.8 463.4 86.6 463.7 85.1 465.7 87.6 466.6Z" fill="#b22222" opacity="0.92"/><path d="M77.5 466l-0.5-8.5-0.5 6.8 8.5 2.4 2.6 0.6-12.5-6.7-6.5-3.5 7.8 3.9 3.9 3.5 5.5 6.8-9-2.8-4.1-8.3 6.3 9.4-1.4-3.2 4.4-7.1 3.4 4.6-11.5-6.4 0.3 2.8-2.8-3 11.9 9.9 2.4-5.1 5.6 10.9-11.2 2.1-7.6 1.1-4.4 2.4 15.3-0.5M68.9 466.7l8.7-0.3 2.4-5-9.3 3.5 1.7-2.5 9.6-5 9.8 10.1-6.8 5.8-9.4-5.5 13.8 1.8-4 2.4-2.3-6.1 4.9-4.3-5.6 3.6 0 0.6-4.4-4.7-0.4-4.5-5.7 0.6 2.7 2.7 2.5 11.2-3.7 4.7-7.4-2.5-2.8 0 4.1-6.2 3.9 2.9 3.4 1.5M70.2 469.9l-8.7 0 15.1-1.8-1 2.2 2 2.3-0.2-1.3-6.2-2.3 11.1-1.5-4.1-2.2 4.6-3 3.4-2.1-12.1 4.5 1.8 3 7.6-1.9-0.2-3.5 5.6 5.7-2 0.9-10.5-2 3.4 0.4-0.8-6.4-0.1-0.3-9 2.6-10.4 5.6 13.5-0.6-5.7-4.8 4.8-5M80.1 475.2l-1.4-3.1-10.3 0.2 2.1 1.6-0.5-10.1-7.7 4 17.3-3.9-9-3.3 9.3 1.2-11.6 0.8 14.6-2.6 0.7 4.9-7.6 9.1-5.3-4.4 10.1 4.6-7.4-14.1-7.1 3.6 6.1 2.6-4.1 2.6 3.5 1.8 15-3.5-20.4-5.2 14.9 2.7-2.6 2.9-0.9-5.4-7.8-3.2M67.2 465.7l0.3 4.7-2.9-9.7-0.1 10 3.2 7.7-3.7-6.4 2.9 2.3 11.2-3.8-18.4-2.5 0.3-1.3 9.7 4.9 3.3-8.6 1.6-1.1-11.8 0.6 4.8 0.1 13.4 1.3-2 4.7-9.9-2.2 20.9 8.9-9.8-2.7 2.3-7.1-4.7-4.7-2.8 12.6 5.7-2.9-8.7-2.7 9.2-2.7M80.7 472.2l-16.4 4-2.3-5.3 3.4 5 13-3.6 4.2 3-8 1.9-6.9-5.6 1.7 1.3 0-8.3 4.2 10.1 12.4-0.8-8.1-11.4-8.8 7.3 11.7-13.4-4.1 5.2-9.8 2.8 14-5.8-10.3 6.5-8.5 3.4-2.5 3.7 11.9 2.7 8.4-4-5.4-8 9-5.5 1 1M73.8 462.7l3.6 2.8-11.5-7.1 16.3 4.2-5.7 3.3-9.9-6.5-6 6.5 8.7 0.1 4.7-3.1-1.9 4.3-7.2-0.9 6.1-2.2 14.9 6.6-8.3-3.8 2.6-0.9-7.1 1.8 1.3 0.8 5.8-10.4-3.7 1.8-6.3 5.2-6-2.4 0.5 4.1 7.8-2.3-4.6 5.3 4.4 5.6-10.7-9.4" fill="none" stroke="#b22222" stroke-width="0.6" stroke-linejoin="round"/><path d="M78.5 476.1l-7.9-15.8 16.2 8.2-28.2-0.1 8.3 11.4-0.6-12.1-1.9-6.8" fill="none" stroke="#b22222" stroke-width="0.6"/><path d="M64.1 454.3l-3 1.6 6.7 15.2-7.8-7.4 17.9 6-1.4-5.3 7.7 8.6" fill="none" stroke="#b22222" stroke-width="0.6"/>
<path d="M85.6 449 83.4 450.4 84.6 452.4 83.5 453.7 80.3 453.6 81 456.2 78.6 456 77.7 457.8 75.8 458 74 456.5 72.7 455.5 70.1 458.4 70.2 454.8 66.6 456.7 65.5 455.2 65 453.5 63.1 452.4 62.6 450.7 63.2 449 65.4 447.7 63.9 445.8 67.9 445.9 66.7 443.7 68.1 442.9 68.9 441.4 70.5 440.7 72.3 440.7 74 439.6 76 439.2 76.6 442.9 78.1 442.9 78.6 444.3 82.6 442.8 82.4 444.8 84.6 445.6 81.9 447.8Z" fill="#4169e1" opacity="0.92"/><path d="M83.8 449.1l-6.8 1.3 2.9-1.9-5.1 0.3 1.8-1.5-8.7 2.7 2.2-11.6-5.9 8.5 7.5 4.9 6.1 1.8-10.5 2-1 0.7 13.5-6.1 3.9 3.6-18.5-5.7 0.6 4 4.7 0.8 5-5.9-4.7-4.7 0.5 2.4 2.2-1.4 5 6.8 6.2 2.8-3.8 1.3 0.1-5.3 0.7 5.7M78 450.2l1.8 5.5-1.7-2.9-0.9-5-2.9 3.1 8.2 1.6-12.5-2.8-7.4 0.9 2.6-0.9-1.4-0.6 6.8-9.1-4.3 3.3 5.3 2.2-4.3 2.2 0.6-4.3 4.5 1.5 7.1 4.9 1.4 1.1-7.6-5.1-5.5 11.9-4.2-2.1 11.4 1.2 4.2-8.8-1.3-6.9-0.5 8.5-0.9 3.9M75.2 452.6l-3.2-5.4 7.8 9.3 2.6-2.3 2 1.2-11.3-5-4-2.2 5.8 3.4-4.9-7.8 7.5-3.1 5.5 2.5-8.2 7.5 1.4 5.8-0.6-1.2 2.2-6.5-1.2-5.9 2.1-4.7 0 1 7.6 6.8-5.9 4.2-4.2-4.3-1.3 1.8 4.3-3.8-4.7 3.8-1.1-0.3 0.2-2.5M65.4 455.7l5-8.9 3.1 1.8 4.3 5.5-3.7-5.6-3.2-4.3-2.6 3.5 2.6-1.7-2.5 3-0.2-4.8 1.8 0.9-3.9 5.6 8.1-0.6 0.6 1.9-0.5 2.8 8.7-2.2-1.7 2.4-5.1-7.9 3.8-6.4 6.8 7.8-4.7 0.4 3.1-3.5-12.5-1.6-1.7 3.5 6 1.3 1-5.9M86.6 447.7l-5.4 6.8-8.5-3.2-1.2 2.9-0.5 0.1-1.3-2.5-6.9-2.1 3.7-8.8 4.9 0.6 3.3 5.8-7.5-3.9 1.2 0.1 3.4-2.8 1.4-1.7 6.5 1.8-7.5-1.2 5.7-0.6-0.6 5.9-5.7 3.2 0.8 2-3.9-0.7 0.8 0.3 3.1-1.9 7.6-6.3-7.4-0.3-6 4.9M66.7 445.4l0.6-1.7 0 2.8 5.3 1.9 4.6-2.2-2.9-4.1 1.8 6.2-6.3 2.2-1.2-1.1-0.6 2.5-1.4 1-4.3-6.5 4.1-0.2 10.1 5.2-3 6.1-6.2-12.2 6.4-1.3-2.4 1-7 11.6 2.7-7.8-2.9-4.1-2.3 7.6 8.6-7.8 5.8-4.6-3.6-1.1-2.8 0.7M73.4 454.1l6.1-4-2.1 2 7.6 2.7-0.4 0.5-3.7-3.7-7.8 5.6 3.9-0.4 2.8 1.9-1.5-6.9-7 0.5-0.5-4.5-2.7 1.8 2.6-5.3-3 1.3 5-3.3 3.2-0.8 7.9 2.2-5.4 6.8-15.7-2.7 9-7.1 3.6 6.4-7.4-6.4 0.4 3 8.5-5-3.3 12.3" fill="none" stroke="#4169e1" stroke-width="0.6" stroke-linejoin="round"/><path d="M77.9 458.5l2.1-8.1-10.5 0.8 5.5-1.2-6-0.8 10.4-0.3 12.5 2.6" fill="none" stroke="#4169e1" stroke-width="0.6"/>
<path d="M179.5 460 178.6 461.4 178.8 463 175.8 463.1 175.6 464.4 176.1 466.8 174.5 467.2 172.3 465.8 171.6 468.2 170 467.4 168.9 465.6 167.8 465.6 166.4 465.8 163.9 466.8 163.6 465 162.1 464.2 162.2 462.6 163.5 461.1 162.7 460 162.8 458.8 164.1 458 163.2 456.4 162.8 454.4 164.9 454.3 166.7 454.7 166.6 451.4 168.5 452.2 170 454.3 171.4 452.5 172.4 453.8 173.4 454.6 175.1 454.4 176.6 454.9 176.1 456.7 177.3 457.5 178.7 458.6Z" fill="#ff8c00" opacity="0.782"/><path d="M179.7 464.8l1.9-2.6-9.5 2.3-10.2-11.8 3.6 4.1 3.1-2.7-0.1-3.8 1.7 0 5.9 6-1.5-1-1.1-2.9-3.9-2.7 0.8 3.1 0.7-1.8-0.9 5.4 0.4 2.9 5.2-1.9 3.6 0.7-4.4 8.6-0.6 1 0-12.5-3.3 4.2-7.5 7.4 2.4-12.8-6.1 9.9-0.8-2.4M177.6 458.3l-0.7-4.4-4 4.4-3.5-2.6-3.9-1 0.3-1.6 11.6 5.6-11.9 9.8 14-5.2 0.1 0.7-2-8.4-0.8 1.2-9.8-3.6 3.2 3.4 0.7-2.8-5.2 6.8-4-4.5 8.3 0.3 0.5-4.4-5.1 2.8-0.2-0.5 8.3 7.5-6.5-0.8-2.2-1.8 2 5.4 5.5-2.2M180.3 464.5l-14.8 0.9 0-1.8-1.9-9.7 0.9 6.6 8.2 2.1 6.3-6.9-7.1-6.1 0.7-0.6 1.3 7.1 3.9 8 2.7-0.9-10.8 4.7-6.4-5.6 6.7 1 7.9-1.5-11.9-2.1 2.6-1.5 7.7-0.3-10 3.1-4 7.4 4.8-10.3 6.7 11.8-9.6-2.8 4.7-1.4 2.7 1M179.1 453.7l-2 0-7.3-1.6 3.1 6.3-7.1-0.4 7.7 10.5 2.1 1-10.1-9.7-6.5-3.3 6.4 1.8-2-3.9-0.3-2-0.6-0.7 0.5 1 8.6 1.9 1.8-4.2-2.1 6 4.4 3.5-5.9 0.3-3.3-2.6 0-6.3 7.4 0.4-6.1 8-1.4 4.8 1.2 1.5 4.5-0.5M167.6 468.9l-2 1.3 0.3-0.8-4-4.7 3.3-1.2 7.7-3.4 2.1-0.7-3.2 1.4-11.1 0 1-4.7-1.9 0.8 10.5-3.6 0.3-1.4-5.5 7.2 4.3 5.9 5.6 0.2-1.9-6.1 6.1-0.1 0 5.9-2.9-6.2 4.9-2.3-3.2 6.8-5.1-1.4 1.6 2.3-7.4-1-3.4-4.8M173.8 470.3l-3.1-0.7 2.6-9.3-2.6-3.9 1.6-2.4-5.7-3.9 3.8-0.8 5.4 5.7 5.1 0.9-11.9-1.6-2.2 1.1-3.3-2.6 4.4 1.1 0.4 1.7 3.1 1.3 3.6 1.8 2.2 6.4-10.5 1.9 10.3-7.6-3.3-1.4 0.5 3.3-5.2 5.5-3.8-3.7 7.2 7.6-3.6-1.2 1.6-11.6M164.4 454.4l2.6 8.4 3.3 6.8-0.9-1.3-1-7.6-6 8.4 4.5-7.6 6.8 4.1-10 3.8 11.4-6.6-3.3 2.4-1.8-6.5-3.6 1.9-1.7 0.1-6.1-2.5 9.6 5.7-2.4-3.6-1-5.1 1.3 1-5 5.5 10.9 3.9 5.4-2.3 1.2-3.5 1.8-2.7-3.3 10-9.8-11.2" fill="none" stroke="#ff8c00" stroke-width="0.6" stroke-linejoin="round"/><path d="M161.9 459.2l19.3-4.8-1.6 15.4-0.8 4.2-12.4-5.4 18.3-12.2-2.6-1.3" fill="none" stroke="#ff8c00" stroke-width="0.6"/>
<path d="M154.2 465.5 152.3 466.3 155.3 467.9 152.2 468 153.6 470 151.2 470 150 470.4 149.3 472 147.6 472.1 146 471.1 144.8 470.2 143.8 469.8 142.7 469.6 141 469.8 140.6 468.7 140.2 467.9 137.6 467.7 137 466.6 137.8 465.5 137.1 464.4 139.7 463.9 137.9 462.1 138.7 461.1 140 460.4 142 460.5 143.8 461.3 144.5 459.4 146 460.7 147.1 460.9 148.5 460.6 149.5 461.2 150.5 461.7 151.3 462.3 153.8 462.3 155.2 463.1 153.1 464.6Z" fill="#b22222" opacity="0.736"/><path d="M141.6 460.7l4.3 2.8-1.7 4.3-9.8-1.2 4-3.4 11.6 6.3-3.7 2.9 0.4-1.2 4.4 2.3-6.4-5.9-4.7-2.2-4.5-1.2 5.5 3.2 2.5-8 5.9 4.6-2.1-0.7-2.2 0.5-5.2-0.5 0.2 0.1-0.2 4.7 5.3 0.5-1.5-2.2-8-0.8-1.1 1.2 3.5-0.3-3.5 0.8M141 463.5l6.7 1.8 9.8 3.4-2.8-0.5-11.1 2.1 2.5-12-3.2 0.3 6.3 3 3.6-1.9-6.1-2.1-7.3 2.3 1.2 4.3-3.5-0.4 3.5-1.7 3.5 1.5-1.4 5.9-4.4-3 5.1-2.8-1.1 3.1 9.1-2.8 4.4 4.9-11.8 1.4 1.6-2.6 0.8 0.6 6.4-0.3-3.5-2.2M146.1 465.6l1.1-1-4.7 0.4 4.8-5.1-3.4 6.9-1.1-3.4 0.6 2.8-0.7-2.4 0.9 2 10.8-2.5 2.1-1.6-9.9 3.5 11.4-1.3-9.5-4.8-3.3 6.2 3.2 2.9-0.9-5.2 1.8-1.3-3.9-4.5 5.8 1.4 3.9 2.2-1.6 4.1-1.3 5.2 5.7-5.3-2.3 2.7-5.2 4.4M143.9 468.2l-0.1-5.7-8.9 2.3 3.9 5 14.9-5.4 1.4 5.4-3.8 2.9-1.4 0.2-1-6.7-5.9-1 0.9 4.4-1.3-1.8 7.1-1.5 4.2-7-7.1 5.4-3.6-0.6 3.6 2.8 5.6-2.5-5.3 1.5-2.9 2.9 3.8-5.1-5.2-3.7 1 9.1 8-2.7-5.6-0.3 0.7-2.3M150.7 460.6l-3.2 1.3 8.7 3 1.3-1.3-13.3 4.4 1.7 4.4 5.9-2.9-7.4 1.7-2.7-6.8-3.8 0.9 9.9 0.3 5.3 0.3-5.9 6.3 2.3-7.9 0.9-5 0.4 4 0 5-0.6-3.8-5.7 2.5-4.7 1.9 6.4-1.7-4-7.1-2.4-1.7 6.8 5.1-1.9 0.5 3.6 0.8M143.9 461l2.3 0.8-1.5 1.5 3 7.9 3.5-5.2-0.5 0.2 5.8-3.3-0.1 2.7 1.7-1.2-5.3-5.1-4.7 3.6 1 3.4 1.1-3.4 1.7-0.7-2.6-0.5 6.5 1.3-17.9 1.1 8.7 1.9 2.1-3-0.5-4.9-0.8 2.5-2.9 13.2-4-3.5 7.4-3.6-4-5.2 6.9 4.3M150 463l-3.5-3.8-0.5-0.2 0.4 3.1-1.9 4.7 0.4 1.3 2.6 2.4-5.5-3.5 6.4-0.1 4.5 2-5.3 1.6-2 1.1 8.5 0.4 2.8-3.5-2.6 1.7-1 0.2-5.1-2.2-5.7 0.3-0.4-1.2 1.7 1.9-3.7-5.1 3.4 2.2-1.8 6-4.6-7.5 1.9 3.1 7.1-7.5" fill="none" stroke="#b22222" stroke-width="0.6" stroke-linejoin="round"/><path d="M140.2 475.8l5.8-3.3 17.1-7.7-14.6 7.6-10.5-4.5 5.9 3 4.2-8.1" fill="none" stroke="#b22222" stroke-width="0.6"/>
<path d="M154.4 450 155.5 451.2 155.3 452.4 154.8 453.4 154.5 454.7 153.6 455.2 153.3 457.1 151.8 456.1 151 457.2 150 456.5 149.2 455.9 148 456.9 146.9 456.7 146 455.9 146 454.1 145.3 453.3 144.6 452.4 145.3 451 144.1 450 144.1 448.7 144.2 447.4 146.3 447.4 144.8 444.7 146.5 444.9 147.4 444.5 148.1 443.7 148.9 442.1 150 442.7 151 443.3 152.1 442.8 152.5 444.6 154.2 443.9 154.2 445.6 155 446.4 154 448.2 156.1 448.7Z" fill="#4169e1" opacity="0.552"/><path d="M148 446.5l6.6 0.9-7.2 5.7 5.1-2.4 1.8-0.1-6.5-0.6-3.3-3-1.1 2.9 3.7-6-2.2 2.7 4.1 1.9-5.7 5.3 5-2.6-0.8 4.2 2.3 2.7-3.9-2.9 0.7-6.2-0.6 8.5 7.3 2.5-4.9-10 5.1 8.4-0.6-1.4-10.1-7.4 3.7 4.9 3.7 4-0.9-3.4M145.6 446.2l1.3-1.3 1.5-6.1 2.3 5.9 1.4 0.2-2.9 6.8-0.2 8.4-4.8-5.7-1.7-5.6 0.4-1.7 6.2-4 2.7-3.5-2.3 10.8 1.9 1.1 1.8 2 0.9 4.9-5.8-4.1 3.2 1.5 1.4 3.4-3.2-10.4 4.9 0.6-4.1 0.4-1.9 4.7 4-0.6 0.9-1.6 1.4-10.5M142.3 453.6l4.3-1.1 1.7-4.9 0.1 6.7 2.7 2.5-0.8-10.9-1.9 1.1 5.6 6.6-0.2-5.6-1.2-0.3-2.1-4.6 1.5 2.9 2.1-4.9-5.7 18.7-2-0.8 8.1-4.4-1.4 6.3-4.4-7.1-0.7-8.1 1.9 4.1 0.8 3.1 2.9 0.3-2.5 4.2-3.1 3.1 0.2-1.2 7.7-14.6M155.9 446.9l2.2-2.1-0.8 8-5-9.7-0.6-3.8-5.7 5.2 1.3 7.2-3.9 1.2 4.2-2.7-1.9-0.5 5.2-1.6 2.8-0.4 4.8 1.2-4.5-7-7.2 5.4 0.6 2.5-1.4-0.6-0.5 1.7 1.2 8.2-1.1 1.1-2-6.8-0.3 4.3 4.7-2.8 1.8-7.2 5.3 7.4-2.4-2.2M150.9 447.2l-1.7-0.9 3.1 0.1-2.7-1.3-5.4 9.4 4.5 2-1.4 3.8 1.9 0.4 4.6-4.8 0.1-0.2-2-3.1-3.2-9.2 4.5 2.6-0.4 3.1-5.8 5.4 4 0.4 1-3.9 0-8.1 4.3 11.9-3.3-2.3-3.7-5.1-0.6-5.2 2.8 7.4-3.6-8.3 2.5 5-0.1-4.5M144.4 457.5l2.3-1.5-3.3-4.7-2.2-5.6 3.2-3.8 1.1 8.9-4.2-0.8 3.5 1.5 9.9-7.5-4 2.7-5.4 1.5-4.5-0.5 6 0 4.5-3.5-4.3 7.8 2.1-12.3 0.5 3.8 2.8 4.4 0.2 1.3-0.1-4.9-4.2-1.4-4.3 6.8 6.8 3-2.6-3.7-0.9 5.6 3.2 5.9M142.9 442.8l2.6 1.7 0.1-4.6 2.7 3.2 4.2 5.7-6.1 2.3-0.6 6.6 1.8-5.8-0.5-7.8 6.1 12.4-7.9-4.1 1.7-3.8 5.9 6.4-2.3 5.9 6.4-3.4-3.3-1.7-2.8-8.5 3.2 3.6-4.6 3.8-3.1-3.9 1.6 1.8-4.5-4.5 3.5 6.3 8.6 0.5-2.4 3-3-1.8" fill="none" stroke="#4169e1" stroke-width="0.6" stroke-linejoin="round"/><path d="M142.3 443.9l5.1-2.2-0.5 11.6 1.4-7.2 5.5 5.6-13.6-1.4 10.8 9.9" fill="none" stroke="#4169e1" stroke-width="0.6"/><path d="M159.1 452.3l-8.4 10.1-3.5-1.7 5.3-7.3-5.7-4.4-1.8-4.1-1.4-0.4" fill="none" stroke="#4169e1" stroke-width="0.6"/>
<path d="M269.1 467 265.9 468.7 269 471.6 267.4 473.4 264.1 473.3 262.1 473.5 262.1 476.3 260.1 476.2 258.7 477.2 257 480.2 254.8 480.2 252.5 480 253 474.3 249.6 476.3 247.4 475.5 246.8 473.3 249 470.1 246.4 469 247.8 467 246.6 465.1 249.2 464 245.5 460 248 459 251.6 460.1 250.6 455.2 252.6 454.3 255.1 455.8 257 454.6 258.7 456.6 261.5 453.9 261.2 459.3 262.4 460.1 263.6 461.1 267.7 460.5 264.9 464 267.8 465Z" fill="#ff8c00" opacity="0.92"/><path d="M248 476.3l1.5 3.3 2.9-11.2 1.7 1.8 4.4 9.2-3.7-7.5 4.5 4-7.3 0.4 6.3-5.2-2.3 2.9 3-0.6-5.3-13.9 0.9 1.6 3.9-2.2 3.1 6.3-6.5 6.8-1.2-6.7 2.9 0.7-5.4 4.4 2.5-6.4-9.2 4.1 6.1 0.3 11.1-16.6 5.5 15.6-10.6 6.3-4.8-9.7M258.8 475l4.5-7.6 5.2 9-6.1-2.6-6-2.1-9.7-7.4 3.5 2.2 1.5-3.4 3.3 5.8-1.5 12.1 9.8-4.4-2.7 1-8.1-0.5 6.5-2.6 1.7-0.1 3.9-8.5-10.8-7.9 5.3-6-5.7 12.9-9.7 2.3 3.1 2.5 2.8 2.9 11.6-9.3 8.8 7-6.9-17.9 4.4 12.1M258 473.6l3.8-3.1 4-10.9-11 13 3.1-5.8-9.5-6.3 2.9-4.1 0.8-2.7-1.4 4.4 15.3 3-9.3 2.9-2.5 1.5 1.7 5.2 0.3-1.7 3.9-3 5.1 7.9 6.5-9.1-7.2 2.2-14.9-7.4 5.2-7.9 6.7 5.3 3.6 2.2 0.5 6.7-1.6 3.3 7-4.6-2.2-0.2M268.5 462.5l-8.4-0.1-4.6 11.2 7.5 4.4 6.8-10.1-1.3-1-16.1-8.6 6.3 3-13.8-3.4 11.8 12.2 1 9.6 1.6-7.5-3.2-11.2 5.4-1.8-2.5 8.3 3.3 1.8-2.1-0.8-8.8 6.1 14.8-6-10-0.4-2.3-1.4-10.6 1.7 0.8-8.6 7 5.3 5.5-3.6-6 16.7M252.2 475.5l-10.2-7.8 13.5 4.4-4.5-7.1 16.8 3.9-2.1 6.9-0.6-1.4-0.2 5.9-5.3-16.2-1.6 6.5-0.3 0.4-10.7-7.1 7.7 6.3-3.5 0.9-1.7-9.2 3.8 3.7 4.1 5.3 9.9 4.3-6.8 2.3-10.4-4.1 9.4 1.5 2.3 4.6-6.6-3.9-3.4-2.9 2.1-0.3 1.5-11.9M244.6 464.6l-0.9-3.3 12-7.3-5.9 9.7 7.8-3.9 4.8-1.7 9 10.6-8.1-8.1 4.7-2.7-7.2 1.9-1.5-0.7 11.4 3.1-1.7 6.9 1-1.4 1.5-0.5-7.3 13.6 2.2-3.6-8.5-1.2-1.5 2.9 7.7-13.4-8.5-4.7-4.8 6 7.6 6.9 0.1-18.1 6.2 1.4 0.5 7.6M248.4 469.5l-4.4-0.3 10.6 0.2 6.2 5.8-2.3-5.4 3.5-4.9-1.5 11.5 9.7-10.7-0.7 1.8-6.9 7.1-3.5-6.2 1.3-3.1 4.9-0.4-1.5-3.5-10.6 7.1 3.3 3.4 4.7-11.6-1.4-8.4-4.8 6.5-1.8 10.9 9.5 8.3-1.5-5.8 2.1 9.1-0.5-10.4-15.6 2.3 3.1-7.5" fill="none" stroke="#ff8c00" stroke-width="0.6" stroke-linejoin="round"/><path d="M255.6 460.8l8.7 5.9-9.3-2.8 8.8-6.1-7.6 10.6 11.2-9.8-9.8-0.6" fill="none" stroke="#ff8c00" stroke-width="0.6"/><path d="M238 458.8l6-4.6 8.1 17.7 17.4-1.5-8.6-3.5 7.2-6.5-8.6 4" fill="none" stroke="#ff8c00" stroke-width="0.6"/>
<path d="M244.2 469.5 248.2 471.3 243.8 472.2 247.2 474.9 243.3 475.5 240.2 475.9 237.8 476.6 235.4 477.1 232.9 477 230.5 478.1 227.5 478.9 224.3 479.1 223.1 476.7 222.5 474.9 218.5 475.2 215.9 474.2 213.3 473 216.1 470.9 213.7 469.5 214.3 467.9 217.3 466.8 219.6 466 221.1 465.1 218 461.2 222.1 461.4 224.2 459.8 228.1 461.9 230.5 459.8 233.7 459.2 235.3 462.1 236.9 463.2 241.9 461.9 244.9 462.8 246.1 464.5 247.4 466.1 246.7 467.9Z" fill="#b22222" opacity="0.92"/><path d="M223.5 458.2l10 5-9 5.3 16.3 2.1-9.8-1.9-1.2-3.1-14.9-0.1 18.1-2.3-18.3 2.4 16.9-6.8 1.2 6.9 3.7 4.5 2.7-8.2 1.6 10.2-6.6 0.6-10.7 5 0 1.3 2.6-0.2 7.9-8.7 6.3-5.2-1.2 1.4 4.2-2.4 0.1-1.1-6.7 4.5 0.1-1.2 0 6.4M211.5 467.6l5.2-7.6-6.3 4.8 14.7 8.5 9.5-1.6-1.5-4-0.2-4.9-0.8 0.9-10.2-2-9.8 10.2 14-0.3 1-0.4-5.9 7.7 9.1 2.7-4.6-8.1-0.7-6.1 8.5 4.5-5.9-2.7 4.6-3.6-4.4 9.5-5.4-5.1 21.1-8 0.9 0.7 1.9 14.2 0.8-5.8-5.6 7.2M232.4 471.8l-9.5 4.3 21.1-0.6-6.5 3.4 10.7-3.7-9-3.4-7.3-5.8-8.8 5.8-1.7-0.6-0.1-7.3 0 9.4 0.5-5 0.1-1.1 5.9-1 0.3-1 4.3 3.5 1 3.5-2.2 4.8 3.8 4-2.7-3.8-6.9-3.4 9.6-3.7 11.2-0.2 3.4-4.6-6.3 3.6-20-0.3M234.7 479.5l-5.9-4 1.9-1.4-4.1 6.6-1.3-2 2.5-5.7 9-7.4 1.2 5.8-14.8 1.8 6.1-3.2 2.8-3.1-19.2 8.6 6.7 2.2 14.3-10.9-10.9-5.9 13.7 8.9 10.5 2.9-17.8 1.9 4.8-9.4 2 6.4-3.9 0-7.6-9.7 7.2 3 3.2 0.9-4.4 2.5-0.6 4.8M229.3 458.3l-14 3.6 1.1 8.5 5.1-2.5 0.5-2.5-3.7 8-3.5 2.9 10-3.2-0.6-3.9 12.9-7.8-0.6 2.2-9.3 2.9 4.3 1 1.7 7.9-6.5-0.6-13.7-0.1-0.3-1.1 15.7 2.1-1.4-4.7-8.1 2.6 9.1-1.8-8.7-5.2 1.5 6.9 7.9 5.3 8.8-5.6 2.8-0.5M216 466.8l-1.2-5.3 18.3 9.1 0.3 4 9.7-13.6-8.5 9.7-2.6-2 1.8 2.7-4.4-8.6 10 7.2 1.5 8.4-19.6-1.7 3.3-5.6-12.6 4.4-0.7-7 6-5.4-5 2.9 28 5.1 1-5.6-24.8 1.2 11.4 7.1 0.6-4.5-8.2 4.5 12.4-5.9-18.8 9.5 8-7.5M241.1 468.3l-16.5 4.6 2.6-5.7-3.8-8.4 1.5-0.2 6.3 11.5-2.4 4.2-11-14.6 1.2 0.9 2.5-0.1 10.2 7.1-12 1.7 0.3-4.4 5.6-5.3 10.3-0.7 2.5 5.2-6.4-0.5-0.7-0.3-1.9 6.5 7.7-6.6-7.1 10.8 16.2-0.2 1.8 2.1 1.8-9-14.8-0.2 1.4-7.4" fill="none" stroke="#b22222" stroke-width="0.6" stroke-linejoin="round"/><path d="M239.8 469.6l15.8-3.7-19.4 2.2-4.1 10.3 3.5-19.5 7.7-3.9-20.9 1.2" fill="none" stroke="#b22222" stroke-width="0.6"/>
<path d="M243.4 447 243.5 449.3 243.9 451.9 243.8 454.7 239.8 454.2 238.2 455 238.3 458.8 235.6 456.9 234 457.3 232.5 459.6 230.8 458.6 229 458.3 227 458.1 226.9 454.8 224 455.4 224.4 452.5 223.4 450.9 220.9 449.4 223.7 447 223.8 445.2 223.4 443.1 225.4 442.2 222.6 437.2 225.3 436.9 226.8 435.3 228.9 435.3 230.6 434.2 232.5 435.4 234.6 432.9 235.8 436.3 237.1 437.7 238.3 438.9 238.9 440.7 241.7 440.7 242.1 442.9 243.2 444.8Z" fill="#4169e1" opacity="0.92"/><path d="M236.1 455l-4.3 0.2 0.4-12.4 11.4 1.6-4.2 1.1-6.3-6.1 6.6-2.1-13.1-5.2-3.2 21 9.7-5.1-5-1.9 11.5-6.6-10.9 12.4 0-1.5 4.9-4.3-15.1-1.1 13.8 16.3-0.6-6.6 8.6 0.8-1.7-17.9-5.3 5.8-9.5-1 14.2 0.2-11.1-11.4 2.4 3-3.8 7.4M235.7 439.1l-5.3 1.2 0.6 10.1-3.7-7.1 11.3 2.8-11.2-1.8-5.1-6.9 0.6 1.9 6.9 2 2.4-3.3 8.9 10.3-9.5 2.1-3.2-8.3-1.4 1.4-5.9 9.6-0.5-7.1 1.7-11 3.9-1.4 10.1 3.2-4.6 3.4 8.5 3.3-17.7-2.4 1.1 13.8 8.6-7.3-7.3 5.1-0.1-2.9M235.2 459.9l2.4-19 4.3-7.9-11.6 8.5 0.4 5 8.7 6.8-8.5-2.3 6.8 5.7 4.5 1.4-0.1-8.6-12.3 1.9-1.5 6.8-3.4-7.7 0.8 5.3 7.6-3.8 1.4 9.2-11.6-1.1 10.7 2.7 4.3-12.6-5.8 3.3-3.5-4.3-7.4-9.5 7.1 0.3-2.8 1.8 4.9 0.5 1.9 2.7M226.1 443.4l-5.2-4.5-0.8 2.9 6.5-4.3 4.4 16.3 0.1-8.9-6.4 2.8-2.2 4.8-1.6-14.3 8.1-5.2 5.2 13.7-4.3 1.6 9.6-3.9 6.5-1.2-11.7 2.4 0.5 8.7 4.3-0.7 1-1.7 1.4-5.9-10.6 1.9 13.5 4-7.4-10.5 3.4-9.3-4.2 15.6 2.4 8.9-8.6 3.4M225.6 453l-2.5-3.4 8.9-7.2-7.9 3.1 0.5 0.7 4.8 2.8-1.2-4.7 4.1 7.4-0.5-5.6 1.7 13.3-1.8-13.6-3.7 1.2 8.1 11.4 0.1-4.8-4.9-4.9-0.6-2.2-1-0.8 1 5 8.7-4.1-4.2-0.4-2.9-9.9-0.4 7.8-13.6 7.1 11.8 9.8-7.6-13.8 6.2-4.1M229.9 437.5l-6.5 7 4.8 8.1 5.1 0.5 4.2-9.3-5.3 3.4 5.8 4.5-3.8-3.4 0.8-8.8 4 8.9 2.7 6.4 1.9-16.9-3.7-6-9.1 5.8 7.9 6.5-1.4 14-0.7-11.8-10.3-5.9 3.5-8 3.9 8.7-4.9 3.4 4.8-3.4 3.9-2.5 1.3 14.1-0.9-11.7-1.9 3.3M226.8 447.3l7.5 8.4-1.2 6.6-3.5-2.6-3-16.5-6.4 8.1-0.2-1.2 1.3-3.2 3.1 6.2 0.9-13.9 8.7-4.7-0.8-2.1-1.4 2.6 1.7 12.4-4.5 7.4-1.5-14 10.5 18.3 0.2-5.3 2.6 5.1 0.2-3.4-2.4-2.9-13.8 7.7-6-7.4-0.2-10.6 2.1-3.8 8 13.7" fill="none" stroke="#4169e1" stroke-width="0.6" stroke-linejoin="round"/><path d="M243.9 447.4l-13.8-1 2.7 2.7-0.2-1.2 10.9 18.9-12.6-6.2-7.3-15.5" fill="none" stroke="#4169e1" stroke-width="0.6"/><path d="M238 450.1l4.8-20.8-19.3 32.4 4.5 2.6 8.7 4.5-3.5-5.5 2-9.1" fill="none" stroke="#4169e1" stroke-width="0.6"/>
<path d="M315.5 469.5 318.7 471 317.4 472.3 317.2 473.9 315.6 475 313.8 475.9 311.5 476 310 476.9 308.3 478.3 306 476.9 303.9 477.6 301.9 477.1 299.5 477.2 299.4 474.9 298.1 474 296.5 473.3 298.4 471.4 297.6 470.5 297.7 469.5 294.9 468.2 293.6 466.4 296.1 465.6 299 465.5 299.8 464.5 299.5 461.8 302.4 462.7 304.6 464.1 306 461.1 307.6 463.3 308.9 464.1 311.7 462.7 313.9 463.1 312.4 465.8 317.1 465.1 315.8 467.1 315.6 468.3Z" fill="#b22222" opacity="0.69"/><path d="M318.4 465.7l1.1-1.2-2.6 9.4-1.7-4.2-2.7 3.2-5.8-3.3 11.6 6.4-10-9-9.7-4 1.4 2.6-6.6 2.4-3.9 1.4 12.7-3.9 16.7 0.8-6.7 4.7-4.8-1.4 1.7-5.1-9.1 0.9-5.4 6.2 13.3 8.6-10.9-3.1 8.7-3.2-5.1-4-1.5-2.5-1.6-0.1-5.3 2.1M305.1 479.1l-5.9-1.3 4.6-1.5-3.3-4.6 6.8 1.2 0 3.3-3.3-1.2 4.6-3.2 0.3-3.7-19.2 0.8 0.3-0.3 4.5 6-1-4.2 4.8-1.9 6.4-4.4-4.4-1.2-0.7 6.7-6.8-2.9 9.4 1.5 13.3-8.2-1.5 10-6.1-2.5 0.4-3.4-4.7-2.3 0.6-2-1.3 10.7M309.8 467l-7.7-3.3 3.3 1.2 2.8 4.9-3.3 3.4-0.5 4.9-0.3 1.1 5-7.7-16.3-7.1 2.2 3.8 15.7 1.7-10.5-9.5 1.8 2.3 3.3 4.9 13.1 4.6-7.1-1.6-11.5 4.3 7.3-0.7 5 3.5 1.6-6.3-3.4 2.9-4.4-3.9 0.9-1.3-7.3-7.7-0.6 8.3 11.5-1M315.6 471.4l-0.3 4.7-10.7-7.8-6.9-1.6 0-1.8-1.1 6.8 6.7-5.7-2.3 4.2 2.2-0.2 6.5-8.5-5.9 7.9 16.2 0.6 1-1.9 0.4 0.9-8.2 3.4 3.3-1.1-12.1 2.3-2.5-0.1 1.3-6.4-2.5 3.6-2 1.1 4.6-11.1 4.8-2.6-3.3 12.5 3-4.9 1.8-0.6M300.5 471.2l-0.7-2.8 4.9 0.7-3.6-0.5 6.5 2.6-3.1-8 1.1 5.4-6 0.6-1.7 7.8 11.2-3.4 0.2-5.9 4.3-5.4-3 1.5-6.4 3.1 7.6-6-1 1.8-1.6-0.4-0.5-1.7-1.3 2.8-11.9 4.7-4.1-0.1 4.2-2.9 0.4 7.8 19.8 1.3-9.5-2.6-3-3.3M313.4 467.8l-7.3-2.3 2.6 5 7.5 5.1-2.6-2.7-1.8-6.6-8-1.1 4.3 3.4 6.9 3.9 5.8-5.9 0.8 3.7-6.1-2.7-3.3 12-2.3-12.9-5.8 2.4-1.5-3.8 11.1 9.3-10.7-1.9-1.5 5.4 3.6-1.1-5.9 2.8 2.4 0.6-0.4-5.5 5.3 0.8-0.8 1.6 9.8-3.5M317.1 471.9l-4.2-4.4-4.9-5.8-7.4 2.4-5.4 1.6-3.9-0.3 2.3 7.8 11.9 1.9 11.9 1.1-1.7-0.2-7.4-2.7-12.6-5.5 0.1-4 3-0.8-2.9 7.6 18.6 4.1-1.8 2.8-0.9-4.8-1.9-3-16.6-4 0.1 4 2.4-8.4 4.4 5 7.8 3.1 10.4-2.8-6.9-4.3" fill="none" stroke="#b22222" stroke-width="0.6" stroke-linejoin="round"/><path d="M307.4 480.4l5.5 1.7-8.5-7.3-4.4-8.2-8.8 4.4 14.4-3.6 4.2 7.2" fill="none" stroke="#b22222" stroke-width="0.6"/>
<path d="M342.3 466 341.2 467.5 345.2 470.5 341.5 471.2 340 472.3 338.6 473.4 339 477.5 335.5 475.1 333.8 475.8 332 478 330.1 476.1 327.7 477.1 326.1 475.7 324.5 474.4 324.6 471.9 321 472 319.2 470.4 322.3 467.6 318.2 466 321.2 464.2 322 462.6 321.2 460.1 321.3 457.5 324.4 457.5 326.3 456.7 327.2 453.6 330.2 456.6 332 456.4 333.7 457 336.5 454.2 336.3 459 340.4 456.6 341.4 458.5 340.7 461.3 342.9 462.3 343.4 464.1Z" fill="#ff8c00" opacity="0.92"/><path d="M340 466.3l0.3 4.3-7.8-4.3 0.8-2.6-12.1 9 3.8-12.6 4.2-1 5.7-5.1-11.9 1.4 0.8 14 1.4-2.6 13.4 3.2-9.8 7.3-7.7-0.9 6.2 4 1.4-7 2.5-9.2-0.2 2.5-3.1-1.2-2.7 0.2 12.9 3.2-8.2 2.8-5.3-6.6 4.3 5.3-1.3 0 9.2 1.9M342.5 470.9l-4.2-5.4 2.6 6-13.3-1.8 4.9 6.2-0.6-9 10 4.2-10.9 10 8.5-2-8.6-3.3-3.2 2.9 7.3-4.9 7.5-4.2 2.2-2-4.6 0.7-1.9-4.7-10.3 8.3 3.7-5 14.9 4.5 0.7-7.3-2.7 1.7-6.9 0.5-0.5 7.1-0.1 3.7-2.6 1.9-1.5-9.1M323.6 460.8l7.5 3.4-2 11.2-0.2-5.6 0.9-2.3-2.9 2.4 7.9-8.9-0.4 1.4 5.1-4.9-2.6 9.7 0.7-0.9-7.7 10.9-3.1-5.8-4.7-2.4 5.6-1.9 2.1 6.9-2.2 1.6 5.2 0.3-5.7 2.3 4.2 1.1 3.7-13.8 8.4-8.6-4.5 2.8-8 1.2 8.4 12.8-4.8-5.6M317.3 467.3l7.3 3.9 12.4 8.9-6.1 0.3 1.4-3.3-11.2-7.8 8.5-5.4-1.1-6.1 15.2 18.4-1.3 1-8 2 1.9-6.9-7.3 8.5-0.2-16.8 6.2-3.4-7.2 5.9 14.3-5.4 0.1 0.2-4-0.7 1.5 11.8-7.3-5.9-4.4-2 2.9 9.8-5.7 3.4-4.4-4.2-2.9-9.2M322.8 471.7l4.7-1.1 2.1-3.1 0.3 5.5 0-21.1 1.1 4.1 12.7 0.4-10.9 4.6-5 3.5 0.3 1.7 1.2-6-2.2 10.3 1.8-10.1-11.5 0.6 8.4-4.9-8.7 7.8 27.1 6.2-11.8-2.5-1-8.4-8.7 2.2 9.2 3.6-4.3 3.5 5.3-7-8.2 5.9 10.6 1.8 6 7.4M334 474.7l8.2-7.4-0.2 4.1-8.3-1.3-9.3-7 5.5 7.7 0.9 7.1 10.1-11.3-4.7-3.3 3.4 5.5-8.5 4.3-8 3.9-4.2-7.8-0.3 4.5-2.6-7 14.8 9.5 4.9 4-6.5-3.9 2.1-11.1-1.9-1.8 4.1 4.2-4.2-4-10.9 4.2 5.4-1 7.2-3.4-5.7-2.4M326.7 464.2l-6.1-1.6-0.1-0.5 10.7 8.8 12.6 0.5-11.4-12.4-4.5 16.1 8.2-2.2 2.3 5-10.4-11.3-7.5-6.2 8.3 8.5-11.6-8 11.2 5.1-2.6 4.3 8.9 0.7-6.3-3.8 8.2 6.4-3.3 3.9-10.3-6.6 1.7-4.1 2.1-8.8 9.7 3-7.5-9.9-0.7 14.8-1.5 6.8" fill="none" stroke="#ff8c00" stroke-width="0.6" stroke-linejoin="round"/><path d="M342.1 473.5l-19.1-6.7 0.9-0.3-4.8-8.4 9.5 5.5 14.3 3.4 4.7 9.9" fill="none" stroke="#ff8c00" stroke-width="0.6"/><path d="M328.4 460.7l-8.8-0.6 14.4 4.5-4.4 15-1.9-0.5 2.6-8.4-1.9-10.1" fill="none" stroke="#ff8c00" stroke-width="0.6"/>
<path d="M321.6 449 321.2 450.5 319.3 451.1 319.3 452.4 319.2 453.8 318.5 454.8 318.2 456.7 317.5 458.3 316.2 458.3 315 457.8 314 457 312.8 457.2 311.5 457.5 311.1 455.4 310.8 453.8 309.1 453.7 309.7 451.7 308.5 450.6 308.1 449 309.7 447.7 308.8 445.9 310.3 445.3 310.4 443.6 311.7 443.6 311.8 441.2 312.7 440.1 313.8 439.3 315 441.4 316.3 439 316.8 442.1 317.3 443.6 319.7 441.2 319.8 443.4 321 444.2 320.8 446.1 320.5 447.7Z" fill="#4169e1" opacity="0.368"/><path d="M310.9 436.9l6.5 6.8-4.5 2.5-7.1 5.2 3.4 1.9 4.4-12.8 4.9 0.3 3.7 4.8-6.3 1.5 6.3-3.9-11.1 1 7.5 12.3 3.2-16.9-4.2 1.2-2-3.3-1.5-2.4 11.1 6.6-7-4.6 3 9.1 2.6 3.5-6.1-5-4.8-0.6 4.1-1.3 0.4 7.6-3.2 5.6 2.3-0.7M311 444.4l2.9 7.8-0.6 1.8-0.3-7.3 1 3.5-2.7-4.3-0.6 2.5-4.9 2 5.3 0.7-0.8 0.8-3-6.1 7.2-7.1-2.8 1 4.5-5-3.3-0.5 8.6 4.9-5.3 5.2 2.6-8.2-8.5 8.5 0.9-5 2.1 8.8 4.9-6.5 2.5-0.1-4.7-5.8 0.9-0.6 4.3 7.5M316.8 462.4l-2.7-8.1 7.2 4.7-1.7-9.9-6.9-9.2-3.5 2.8-2.9 7.4-0.9-3.7-0.3 11 0-9.5 5.8-7.3 2.4 13.1 10.2 4.9-8.6-7.7-4.3-4.7-6.1-2.8 9.9 16.8 2.3-3.7 2.3-13.5-5.7 7.8-0.3-3.1 4.8-11.6 4.1 0.6-0.5 5.5 0.5 9.4-7.8 4.2M314.1 462.6l3.8-9 3.3-4.4 1.4-0.7-2.9 0.6 2.6-0.6-0.6 4.1-7 4.3 6.9-0.3-1.1-8.9 1.7-7.1-4.6-2.3-3.1 10.5-4 5.5-0.7-8.6 4 7.3 8.4-7.4 0.7 13.3-2.4-2.6 4.9-2.3-9.6-1.7 1.6-1.6-4.1-5.9-7.1 4.9 0.1-4.4 6.3 8.6M310 450.8l-2.5-6 5.3-1.9-3.8 2.7-1.5-0.2 9.3 0.5-1.4-1.6-7.2 3.2 7.7 8.8 10-5.6-6.7-0.2-0.4-2.4-9.2 2.2 4.2-1.2-4.9-8.6 2.1 5.8-2.6 10.4-2.5-2-0.4-1.7 12.3-4.6-1.6 1.9 6.3-5.5-4.2-6.3 3.3 7.5-2.2 3.1 6.4-0.7M318 450.3l0.9-4.7 0.7 5.4-1.6-1.8 0.9 2.5-4-3.2-7.9 4 3.1 8.3-5.1-4.8 3.4-0.9 9.6 9 1.7-0.6 3.6-8.5-9.8 0.6 2.5 7.1-4.2 1.4 1.5-9.9 3.1 3.2-3.1 6.3 0.9-14.5-4.9 6.8 0-2.6 3.1-2.7 5.7-3.8-6.2-12.1 11.4 10M303.9 447.4l3.1 5.1 9.1 3.8-6.7 3.7 2.5-15.4-1.2-0.2-1.7 10.4 5.2 4.7-3.7-15.4 4.1 2.4 4.2 5.4-1 3.8-0.9-1.7 6.5 4 0.7-16.4-4.7 0.2-0.5 0.6-7.2-8.4-5.3 4.9 2.7 0-4.6 8.2 8-1.5-7.8 7.6 5.1-7.5 3.3 3.6 1.6-6.3" fill="none" stroke="#4169e1" stroke-width="0.6" stroke-linejoin="round"/><path d="M319.3 448l-9.7 4.3 11.4-7.4-1 11.9 3 6.1-3.8 2.3 5.4-18.4" fill="none" stroke="#4169e1" stroke-width="0.6"/><path d="M311.4 446.8l-9.9 7.6 14.7 6.1 7.5-13.2-7.1 14.4 5.6-15.2-19.7-0.2" fill="none" stroke="#4169e1" stroke-width="0.6"/>
<path d="M401.1 464 400.5 465.5 402.5 467.6 401 469.1 399.5 470.6 396.6 471 392.9 469.8 393.5 474.3 390.6 474.2 388 472.9 385.6 473.1 382.5 474.2 381.9 471.2 378.8 471.5 378.4 469.5 375.9 468.8 372.8 467.8 377.7 465.2 374.6 464 372.1 462.1 378.2 461.6 376.9 459.6 376.6 457.5 378.9 456.6 382.5 457.5 384.5 457.5 385.9 455.7 388 456.4 390.5 454.3 393.4 453.9 395 455.7 395.8 457.6 396 459.4 400.1 459.2 401.8 460.6 398.6 462.7Z" fill="#b22222" opacity="0.828"/><path d="M383.3 465.8l11.1 1.8-6.3 4.5 4.3-8.7 0.1 0.3 10.9 3.3-3.2-0.6-1.4-8.5-16.2 4.8 5.5-1.5-15.6-4.6 11.2 4-3.1-3.4 5.4 2.3-0.3-0.7 2.2 3.9-4.9 9.4-2.3-2.8-8.8-7.7 14.4 5 2.4-4.8 2.5-4.3 3.4-5-12.6 18.2-1-4.4 10.3-9.1M386.6 461.6l5.7 5.4-5.2-7.7-16.1 6.7 11.1-0.3 8.8-6.8-1 1.4-1.8 1.7 1.4 3-10.1-9.5-8.4 8.7 9.4-8.2 6.4 10.9-7.4-2.1 13.8-3.1 2.4 1.8-22.5 0.2 0.6-5.2 12.1 2.6 8.1 5.7 3.5 1.6-3.6-8.6 0 10.9-6-6.6 4.9 8.8-10.2-16.8M383.7 463l-2-3-3.6 3.7 8.9-8.3 12.8 6.2-1-0.4-2.9-4.7 8.8 10.9-9.4-8.6-5.7 5.5-3.8-4.4 2.3-2.8 10.4 8.1 0.4-4.3-3.3 7.3-19.7-0.8 16.4 8.1-9.4-3.7 10.5 2.9-16.8-15.5 6.3 4.8 1.3-1.7 11.7 8.6-8.2-2.3-8.9 7.2-6.8-11M393.4 472.7l-0.4-5.7 3.4-6.2 6.7 1.3-3.5-2.9-6.8-6.4-2 9.8-15.7-4.8 2.1 1.2 4.1 2 5.3 1.2-12.5 2.5 15.6 1-14.6 0.5 9.5-6.3 2.1 8.7 13.2-1.4-1.4-2.3-7.9 7 6.3-0.3-8.1 4.4 7.8-12.3 4.6 1-3.8-11-15.6 9.9-3.2 4.5M396.1 463.7l-4.6 1.3-7.1 1.5 10.8-3.4 0.6-8.6 10.5 9.6-8.5-1.8 6.6-1.9-4.5-0.1-12.5 7.2-3 0.9-1.1-2.7 0.8-4.2 7.5 0.6 5.1 4.9 5.6-4-1.2-0.5-6.1-3.1-6.8 5.4-2.8-4.2 7.8 3.4-11.9 0.6 11.9 5.5-6.6-8.6-2.2 8.3 7.4-14.8M404.5 461.2l-0.8 5.4-3.5-1.8-7.4 7.7-18.1-3.6-4.9-3.2 8 7.9 9.4-0.7-10.2-1.4 4.2-1.5 7-5.5 10.5-2.7-10.9 3.6-4.1-4.4-8.1-3.2 10.2-2.1-0.4 6.4 2.3-2.3-0.4 8 13.5-3.4 1.2 1.3-10.8 0.1 9.5-4.7-10.3 15.3 5.3-12.5-5.7-2.6M386.5 467.5l0.3 1.8-1.4-2.9-1.7 3.4-4.9 2.1 7.6 0.3 7.7-6.3-7.1-0.8-6.2 0.7 16-0.6 3-1.3-7.8-5.7-6.4 15 11.2-5 2.1 3.6 2.1-6.7-10.6-8.5 2.4 1.6-8.5 1.2-10.5 8 3.1-0.8 15.5 1.4-6.8-3.7 6.9-1.8 7.6 1.6-16.4 2.6" fill="none" stroke="#b22222" stroke-width="0.6" stroke-linejoin="round"/><path d="M394.5 471.3l-24.4-15.6 20.9 2.1 10.2 15.6-16.2-1.5 0 1 23.3-8.3" fill="none" stroke="#b22222" stroke-width="0.6"/><path d="M364.9 472.4l11.6 6.7 18.9-12-0.6-4.5-8.6-0.6 4.4 9.2 13-16.9" fill="none" stroke="#b22222" stroke-width="0.6"/>
<path d="M416.8 469 416.2 470.2 414.3 470.7 414.7 471.9 415.2 473.8 413.7 473.5 413.1 474.5 412.4 475.4 411.5 475.8 410.5 474 409.7 474.1 408.9 474.4 407.9 474.5 408 472.6 405.9 473.6 405.3 472.6 406.2 470.9 405.3 470.1 405.5 469 406.6 468.2 406.9 467.4 406.6 466.3 405.7 464.1 406.7 463.5 408 463.7 408.6 462.8 409.4 461.8 410.5 463.1 411.4 463 412.4 462.7 412.7 464.4 413.2 465.2 414 465.5 416 465.2 414.3 467.4 416.2 467.8Z" fill="#ff8c00" opacity="0.552"/><path d="M411.2 462.8l-5.7 3.8 5.4 4.6-6.3-4.8 3.3 2.5-1.9 7.9 3.4-1.6 0 1.6 3.3-5.6-2.1 4.1 3.9-4.8-1.6-3.4 3.9 4.8-9.8-3.6 4.1-5.4-2 8.9 0-3-5.1-3.8 7.2 2.2-3.2 4.3-1.5 4.2 3.2-0.5 2.7 3.2 1.3-8.8-5.9-1.3 1.3-1.8M413 460.5l-4.2 4.3-3.5 7.9 6-5.4-0.1-3.1-0.5 1.2 0.9-1.2 0.7 0.3-0.5 4.2 0.4 1.4-3-7.4 6 6.3-2.1-1.3 3.8 5.3-4.1-1.9 0.9 1.3 3.4 1-2.8-9.4 0.4 0.9 0 0.2-2.8 3.3 3.9-7.8-3.6 5.8-6.5 1.2 2.4 6.1 4.9 1.2M413.2 472.4l2.4-4.6-0.7 0.2-1 5.4-2.4-5.9-3.7-1.8 3.4 0.8-2.5 4.4 1.4 2.1 5 2.3-0.6-1.4-1.4-8.8-2.1 1.3-1.1 3-0.7 5.5-1.4 2.7-1.6-5 3.4-3.8 6.6 3.5-7.9-0.5 4.7 6.1 1.9-1.2-2.8-5 1.5 2.2-2.8-3.3 6-4.7M405.4 463.3l5.3-3.3-1.1 10.7-2.1-2.4 2.6-5.6-3.1 5.7-1.3-2.4-0.7 1.7 2.7-1.4 1.2 6.2-0.6-3.2 1.9 0.7 5 2.2 1.3-2.2-3.6-2.6-2.2-0.6 5.2 4.3-1.8-8.5 0 8.9-4.4-0.9-3.5 6.3-2.4-7.1-0.4 2.1 1.8 2.5 1.5-2.1-4.9-4.5M407.4 473.3l0.5-6.8 5.3 5.2-4.1-6.7-3-0.3 4.6-2.1-3.3 6 6.2-0.9-7.3 10 1.5-3 7.7-0.3-5.6 3.3 7.6-2.4-4-1.2-3.2 1-3 2.3 1.7 1.1 1.8-5.1-1.2 1.6 3.5-2.2-8 0.3-1.8-5.2 1.6-4.9 6 2.4-3.8 5.1 2.1-2.5M403.5 466.6l0.5 6.1 0.5 1.8-2.2-3 6.1-5.6 0.7 2.7 4.2 0.1-0.4 7.1 2.6-1-3-1.3 0.4-6.6 0.5 8.3-3-5.7 1.3-4.5-2.8 1.1-3.4 4.7-3.5 1.3 4.1-0.6-0.1-9.3-0.1 1.7 7.7 0.6-9.6 4.1-1.8-1 4.2-3.9-2.7 0-0.3 1.8M410.1 467l-2.7 2.4 2-1.6 1.6 4.8 2-7.1-1.3 7.3-2-0.5 1.3 1.5 1.6-6.4-4.5-0.9 0.5 0.2 1.9 3-0.3 7.3-1.1-5.8 6.1-9.8-2.8 3.5 0.1 0.5-6.6-3.5 5 0.7-3.6 7.6 8.6 4.9-2.7-5 3.2 4 1.3-4.4-0.7-7.8-3 12.1" fill="none" stroke="#ff8c00" stroke-width="0.6" stroke-linejoin="round"/><path d="M412 465.1l-5.1-0.1 2.5-1.4-1.6 5.3 7.6 13.6-6.8-7.8-3.4-7.5" fill="none" stroke="#ff8c00" stroke-width="0.6"/>
<path d="M402.4 457 403.7 458.8 402 459.7 401.9 461.1 401.9 463 401.7 465.1 400.8 465.8 400 466.8 398.8 464.9 398 466.5 397.1 466.8 396.8 463.1 395.1 466.1 394.8 463.9 393.8 463.4 393.6 461.6 392.6 460.6 392.9 458.6 392.6 457 394 455.7 393.5 454 394.3 453.1 393.6 450.2 395.2 450.9 395.3 448.4 396.7 450.5 397 447 398 446.9 398.8 449 399.9 447.3 400.2 450 401.8 448.9 401.2 452.2 401.2 453.6 403.1 453.6 402 455.7Z" fill="#4169e1" opacity="0.276"/><path d="M404.1 461.5l2.1-10.4-4.5 3.7 3.2-8.8 1 2-10 11.1-0.7-15.1 4.2-3.3-4.3 7.1-3.7-2.4 2.1 5.7 7.3 5.9-6-9.1 4 9.5-2.7-4.6 2.9 3.9-10.7-1.8 7.6-9.6 4.3-3.6-0.1 0.9-7.2 8 1.9 13.7 4.7-14.6 0.6 10.3 2.4 11.8 3.3-12.4M400.2 445.7l3.6 1.6-3.3 0.3-4.5 8.6 0.8 3.4-3.9 7.7 1.5-12.1 5.4-2.9-1.7-1.1-0.6-1.9 4.6-6-2.9 14.2 4.7 10-13-18.4 2 14-1.2 0.8 4.8 1.6 0.3 6 3.7-10.3-2.9-9.1 2.3 2.5-3.5 10.8-1.7-14.1-0.2-8.6 1.5 9.6 4.2 4.4M406.5 465.6l-9.1-10.7 3.1 2.5-3.5-4.3-2.5 5.9 6.5-2.7-4-2.3-8.6 0.9 5.8-1.7-0.2 9.7 3 0.1 2.4-1.7 4.5-11.6-3.7-6.8 2.8-0.5-2 1-4.5 20-2.2 9 5.6 0.5-0.4-9.4 1 1.2 1.8-2.2-3.1-9.8 8.4 1.4-0.8 3-5.1-7.9M394.4 454.7l8.1 9-1 0.9-4.7-3.7 4.6-7.7-10.6-7.8-0.3 5 9.3 8.6-4.4-14.2 7 7.2-3.6-4.2-7.3-3.1 3.8 7.9 4-7.1-9.9 10.2 3.5 0.2 7.9-1.5 2-0.7-2.9-10 4 3.5-2.3 6.6-3.8-3.5 1.5 4 3.1-0.9-4 4.3 7.5-3.4M403.5 467.8l-2.4-15.2 1.9 7.6-8.7 3.9-0.5 6.8 5.8 1.5 1.6-14.3-9.6 0.4-2.1 0.7-0.3 3.5 0.8-7.5 2.6 1.7 0.1 6.7 3.3 7.7 3.5 0.4-4-12.9 0.1 6.6 4.8-8.3 0.1 3 5-9.2-6.6 1.9 1.1 2.7 0.9 1.6-2.9 1.4-2.7-8.5 1.2 8.6M405 466.6l-2.1-0.3-3.5-2.3 1.7-7.3-5.1-4-1.7-6.7 0.7 23.4 3.1-8.9 2.5 9.2-7.4-14.4 5.9 6.2 1.5-1.9 0.9 6-4.4-17.3 5.6 1.9-7.5 3.9 4.9 0.2-3.7-8.4-1.9 8.7 2 1.9 1.2 1 7.7-2.8-1.9 11-4.9-10.1-5.1-8.3 3.2 10M397.5 458.8l3.7 8.2 2.9-6.3 0.5-8.9-1.4 11.1-1.7-4.6 3.9-0.1-6-18.2-1.1 1.1-1.3 15.1-4.7 1.2-2-7.1 5.3-4.5 0-3.4-1.9 9.5 9.5 8.1-6.2 2.7-7-2.7 3.3-2.7 1.5 4.4-0.1 2.2 3.1 8-5.9-14.9 1.6-3.1 0.4 12.2 9-7.5" fill="none" stroke="#4169e1" stroke-width="0.6" stroke-linejoin="round"/><path d="M399.4 436.3l3.1 3.5-4.9 27.6-1.1-11.6 3.3 13.2 3.1-2.5 1-7" fill="none" stroke="#4169e1" stroke-width="0.6"/><path d="M408.9 460.1l-9.6 2.2 4.3-21.6-2 12.1-9.1 8.5 6.6 1.7-1 4.5" fill="none" stroke="#4169e1" stroke-width="0.6"/>
<path d="M468.6 460 467 460.9 470.3 462.7 467.1 462.9 465.8 463.5 466.5 465.6 464.6 465.8 463.4 466.8 461.8 467.2 460 468.1 458.4 466.4 456.9 466.1 454.6 466.8 455.2 464.1 454.3 463.4 451.6 463.5 450.1 462.6 448.9 461.4 449.3 460 453 459.1 453 458.2 451.5 456.5 451.6 454.9 452.9 453.8 456.2 455.2 457.2 454.4 458.4 453.6 460 453.3 461.8 452.7 462.5 455 465 453.8 465.4 455.3 465.8 456.5 469.4 456.1 468.4 457.8 468.7 458.9Z" fill="#b22222" opacity="0.552"/><path d="M462.5 453.8l-3.8 2.7-6.9 7.2-2.4 3.5 11 3.1-4.2-3.1 3.8-7.7-6 3 9.5-7.7-2.6 3.2 0.2 1.4 4.8-10.1 2.1 6.9 0.2 1.4 6.3 4-11.4-6.3 0.4 1.2-8.4-3.8-1.9-1.4 1.2 8.4-0.9-5.2-0.6 9.6 3.9-2.1 0 4.6 10.1-6.4-7.2 1M447.7 453l6.8-1.4 4.3 7.5 6.1 1.3-3.8-7.6 10.2 12.1 1.7 1-16.5-3.7 2.4-0.1 3-6.8-0.3 10-3.5-15.8 2.6 5.8-6.6 6.7 1.4 0.3 0.1-3-1.1 7.5-8.1-1.8 14.3-2.6 6.8-5.1-11.8-0.1-1.1 4.3 4.6-7.8-4.4-3.6-2.4 4-0.6 8M470 461.6l-3.3-2.4 6.7 3.5-11.8 0.3-9.1-2.4-3-0.8 4.1 5.5-3.2-0.1 11-4.6 11.1-1.7-3.6 2.4-4.8-2.9-5.4-8.1 3.8 6.5-11.5 2.7 9.8-1.3 7.9-1.1-6.6 2.6-2.6-0.4 3.7 3.9 4-1.6-14.5 0 8.6 4.1 12.3 0.4-2.7-4.8-1.8-5.5M467.4 458.5l-10.7-2 10.5-3.1-13.3 4.1-5.8-3.7-1.7 2.6-0.5 3.2 10.1-2.9 4.7-5-4.2 5.5-4.8 4.8 16.7-3.4-4.6-6 5-2.1-14.2 0.7 0.2-1.8 8.2 8.9 1.8 6.8-4-3-4.1-2.2-12 1.5 17.8 6.8-0.6-2.9 0.2-5.7-4.6-9.1-9.8 7.1M468.9 460.6l2.8 0.5-16.2 4.1 0 0.9 4.2-1.3 1.9 0.1-0.8-0.2-2.7 2.3 5.2 2.4-2.2-3.3 5.4-1.1-5.7 2.1-3.2 0.8 2.6-5.6 3.1 6.3-7.9-6.6 2.2-5.5 2.8 2.7-6.6 1.4-3.7 0.2 5.8 9.2 1.5 0.5 1.5 0.4-1.7-0.4 9.1-1.4-1.7 0.1M460.8 458.4l5.6-2 4.3 1.7-2.3-2.5-3.6 1.9 4.5-1-14.1-3.5-2.2 6.1-2.6-4.1 2.4 2.1 2.7-4.6 0 7.8 4.5 1.6-4.8-2.1-5.8 2.7 10.1-2.2-2.2-4 0.5 9.4-3.6-1.6 8.4-2.3-9.5 0.8 12.8-0.5-2.9-1.2-14.9 1.1 2.3-5.1 12.2-3M462.6 449.7l0.2 5.2 3.5-3.7-5.7 0.2 3-0.8 3.2 11.3-3.3-1.4-16.2 2.3 1.5-0.2 10.2-0.7 5.7-2.9 5.3 3.9-7.8 5.6-0.3 1.5-4.2-1.6 9.3-7.9-2.1 2.7 0.6-5.6 3.2-3.3-12 2.8-2.9-3.7-0.6-2.5 6.1 5.1 4.9 3.2-6.1-1-10.2-0.4" fill="none" stroke="#b22222" stroke-width="0.6" stroke-linejoin="round"/><path d="M474.6 462.3l-16.6-2.6-7.4-2.3 17.9-1.6-3.3 2.2 4.8-1.1-0.1 2" fill="none" stroke="#b22222" stroke-width="0.6"/><path d="M449.4 466l12-7.1-2.6 7.1 0-4 2.1 1-2.4-2.7-0.4-14.1" fill="none" stroke="#b22222" stroke-width="0.6"/>
<path d="M475.9 461 476.3 461.7 475.9 462.4 475.9 463.2 476 464.3 474.7 464 474.7 465.2 474.2 466.3 473.3 466 472.5 466.1 471.8 465.4 471.2 465 470.7 464.4 470.1 464.2 469.4 463.9 469.6 462.9 468.7 462.5 467.6 462 467.2 461 467.6 460 468.2 459.2 468.2 458.3 469 457.7 469.6 457.1 470.8 457.7 471.3 457.4 471.9 457.3 472.5 456.6 473.4 455.4 473.7 457.4 474.3 457.6 475.9 456.5 475.7 458 475.9 458.8 476.9 459.2 475.9 460.3Z" fill="#4169e1" opacity="0.46"/><path d="M470.4 461.7l5.4 3-1 3.1-1.3-3.5-4.7 2.7 4.9-6.1-4.6 7.1 2.3-7-0.5 2.1 4.2 1.9 3.9 0.8-1.9 1.5-2.2 0.9-1.6-7-0.1 6.2 2.2-1.7-8.7 1.4 2.7-5.8 5.5-4.2 0.6 4.2-3 2.7 4.2-1.1-2.4-2-6.8-0.2 4.3-2.8 1.1 3.6M473 463.2l-3.3-10.5-1.1 1.9-1.9 1.5 1 3.3-1.3 2.3 2.8 0 1.9 2.2-1.1-3.2 0.8-6.9 0.6 0.8 4.4 12.8-2.3-1.8 1.1-1.8-1.5 1-4.9-4.8 2.7 0.7 1.3 2.2 4-4.6-3.8 5 0.3-0.3 3.8-7.4 3 3.1-7.2 5.3 4.6 2.5-2.1 2.3M480.2 459.4l-1.8 1.5 0.2-2.1-5 3.4-7.6-6.3 3 3.4 0-0.8-3.9-0.2 2.8 2.2 3.9-6.7 3.9-0.7-1.1 5-5.6 2.2 5.1 2-0.7-5.7-4.1 1.7-1.3 1.9-1.4 4.3 1.8-5.6 1.5 4.5 4.9-3.3 1.1 1 0.4 6.7-3.9-1.2 3.2-5.5 1.5-1.4M474.4 462.5l-3.4 3.1-3.7-1-0.8 0.2 0.3 0.1 1.1-0.3 2.5 3.5 0.1-2.1 3-5.8-3.9-4.5 2.6 1.7 0.9 2 0.4 3-1.7 2 2.2-6.5-1.4 6.9 7.4-2.6-3.9-8.3 1.1 3.3-0.7-2.3-5.3 5.3-1.4-2.9-4.2 1.2 5 4 1.6 5.2-3.6-2.4M472.7 453.3l0.6 0.5 1.7 8.9-1.8-3.1-4.2 2-1.4 3.1 7.5 4.4 4-3.7-4.8 1.2-2.1-5.9 0.9-4.2-0.6 2.7 1.2-5.1 2.2 2.2-4.5-1.4-3.9-0.9 3.2 6.6-1.2-0.3 4.6 3.2-7.2 1.1 3.8-0.7 0-1.6-0.6-4.4 1.6 2.6 2.9-0.4-0.5 5.6M471.2 461.1l2.7-2.9 0.2 2.7-4.3-0.9 8.5 4.2-1.5-2.9-1 3.5-2.4-5.6-6.4-4.3-0.8 0.6 1.8-0.2 3.8 2.7 3.3 2.7 0.2-3.9 2.7-0.6-7.1-0.5-0.9 9.5-3.6-0.4 2.1-4.6-2.6-3.9 4.1 4.5 5.3-3.3-8 3.6 4 4.2-3.3 0.9 3.8-4.4M475.6 456.8l-1.8-0.5-8.3 3.1 4.4 0.7 5.5 4.1-2.9 2-0.1 1.9-1.2-2.9-1.2-7.4-2.8 5.4 4.4-3.8 2 0.8 2-1.2-1.4-3.2 2.9 4.2-1.7 9.1 1.2-0.8-1.6-2.7 1-0.3-4.7-2.7 5.4 2.1-2.7-3.5-2.1 1.8 5 0.3-1 4.3 1.5-8.5" fill="none" stroke="#4169e1" stroke-width="0.6" stroke-linejoin="round"/><path d="M474.6 456.3l-2 4.7 7.3 0.3-4.1-11.1-4.6 10 4.7 3.3 1.5-2" fill="none" stroke="#4169e1" stroke-width="0.6"/>
<path d="M489.3 463.5 490.8 465 489.1 465.9 490.6 468.3 489.5 469.5 488.6 470.8 486.4 469.4 485.5 469.9 484.6 471.2 483.5 470 482.4 470.8 481.1 471.4 480.6 469.4 479.7 468.8 478.1 468.8 476.2 468.5 478.3 465.8 477.7 464.7 477.1 463.5 477.8 462.3 477.4 460.9 478.1 459.8 478.5 458.6 479.2 457.4 480.8 458 480.8 454.7 482.2 454.9 483.5 455.9 484.4 457.2 485.5 456.9 486.6 457.2 488.1 457 490 457 488.3 460.2 490.1 460.7 491.9 461.7Z" fill="#ff8c00" opacity="0.92"/><path d="M489.5 460.4l3.3 0.6-8.8-8.2-3 10.5 3.7-2.6 2.1-3-4.2 8.1-2.9-3.4-0.1-2.1-2.8-1.8 0.3-1 2.9-3.7 5.1 6-1.4 4.2 0.2 1 4.5-3.6 3.8-1.6-5.4 5-5.6-6.7-6.2 2.1 3.6 2.5 4.2-3.1 0.6 7.5 4.8-5.4-2 7.9-2.3-9M481.4 465.5l2-2.2 2 6.2 0.8-0.3 3.2 0.8 1.8-12.2-3.4 4.4-2.4-3.4-1.4-1.3 1.1 5.8-1.7 5-2-4.9 1.3-1.8 4.2 0.1 0.6 5.1-8.2-1.7 2.4-9.3 1 2.6-5.3 8.4 3.3-11.9-0.6 2.4 1.1-0.7-3.2 4.2-1.3 5.7 5-0.3-1.4-0.7M477.4 463.9l-3.6 0.2 8.1-1.1-4.9 0.7-0.5-2.6 11.7 3.6-5.9 3.4 2 2.6-0.7 3.6-4.6-5.2-0.2-9.1-1.3-4.6 2.7 4.8 3.6-4.5-2.8-2.9-0.7 2-4.3 5.8 3.3 7.6 9-4.8 4.5 0.7-9.5-8.4-4.1 7.2 5.8-3 0.9 6.1 0.3-4.2-4.5 12.2M480.7 465.4l5.7-6.1 3.4 5.4-2.2-4.7 2.2 7.6 0.7-3.8-7.2 10.8 1.6-5-2.2-8.1-3.2-5.3 3.6 7.2-0.6-2.9 4.4 11.6-8.3-1.3 2.7-1.8 3.7 4.6-1.3-0.2-3.9-9.1 3.3-2.4-0.9 5.1 0 2.6-3.2-5.5 1.2-2.1 7.5 3.5 3.3-0.6-1.6-0.8M476.1 457l7.3 0.8-2.1 6.7-4.6 6.6 10.2-3.4 3.9-4.4-4.3 1.2-3.5 2.8 3.7 1.3-3.4-9.3 1.7 0.2-7-3.7 1.4 10.5 3.3-5.3-3.8-3.5-1.9 3.5 7.2 13.6 6.6-7.2 0.4-1.3 0.1 0.1-8.5 0.9-4 2.1 5.7-0.2 7.7-6.9 0.8 0.2-4.6-3.3M478.9 464.3l5-4.6 4.6 7.6-4.1 4.8-8-6.7 5.3 3.5 5.1 2.1-1.3-0.2-0.8-10.1 3 3.9-2.4-3.2 6.8-3.3-3.6-0.8-2.5 8 0.5-2.2 1.8 4.5-2.4-3.8-3.9-8.9 6.7 0.6-6.9-0.3-3.7 8.8 2.1-4.7-1.7-2.7 6.7-3.5-0.5 6.9 0.9 2.6M483.1 454.1l-5 10.9 7.3-2.4 0.6 0.4-8.5-1.7 6.1 0.5-3.9 6 3-7.3-1.8-0.6-2.7 5.1 0.3 0 9.2-3.8-6.2 1.1-0.9-1-2.2-6.2 1.5-0.2 3.6 3.7 6.1 2.1-10 2.4-4.3 0.4 1.3 5.1 4.3-5.1 0.4-8.4 0.6 2.4 2.4 0.5-4.3 2.8" fill="none" stroke="#ff8c00" stroke-width="0.6" stroke-linejoin="round"/><path d="M491.6 452.7l-9.8 15.5 10-3.9-10.8 4.2 0.1 5.9 5.2 3.9-4.2-8.3" fill="none" stroke="#ff8c00" stroke-width="0.6"/>
<path d="M107.1 535 105.2 537.5 106.3 540.4 105 543 101.8 544.7 97.8 545.3 93.8 544.9 91.2 545.5 89.6 549.8 86 547.3 83.3 546.1 80.5 546 75.5 548.3 72.6 546.7 75.2 541.6 68 542.6 67.7 539.9 65.9 537.6 62.7 535 70.8 533 64.4 529.3 70.4 528.4 69.2 524.7 71.4 522.3 78.5 525.5 78.1 519.1 83.3 523.7 86 524.4 90 518.3 92.9 521.2 95.8 522.6 100.9 522.1 101.3 525.6 101.4 528.5 99.5 531.4 102 532.9Z" fill="#e06d58" opacity="0.8"/><path d="M104.4 539 105.4 541.2 105.8 543.8 102.2 545.2 98.5 546 96.9 548.2 93.7 549.5 89.8 549.5 86.1 549.9 82.2 549.8 79.3 548.1 78 545.7 73.8 545.2 73.7 542.8 74.3 540.7 74.3 539 71.9 537 71.9 534.7 74.6 533.2 79.1 533 79.5 530.2 82.8 529.3 86.4 530 89.9 528.2 93.7 528.5 95.2 531.5 99 531.7 102.1 532.8 102.7 535.1 104.6 536.9Z" fill="#b51d2c" opacity="0.9"/><path d="M113.5 521.8l-0.4 16.3 5.6-3.1-29.9-6.3-10.3 0.5-7.3-6.7 12.1-1.3 6.9-12.9 8.4 18.7" fill="none" stroke="#4152c3" stroke-width="0.55"/><path d="M100.7 530.5l2.6 2.9 3.7 6.4-3.6-6.9 9-3.2-16.7 6.9-17.3 1.6 4.8 6.3 8.6-18.6" fill="none" stroke="#5163cb" stroke-width="0.55"/><path d="M81.8 521.6l16.1 2.4-8.5 0.7 18.9 10.2-5.4 2.1-9.8 10.4 15.1-11.4-3.7 3.9 6.2 2.8" fill="none" stroke="#6174d3" stroke-width="0.55"/><path d="M82.7 541.8l1.9-4.1 4.4 4.1-1.8-15.3 19.5 6.4 11.5-2.4-6.7 6.2-18.4-16-8.1-1.7" fill="none" stroke="#7085dc" stroke-width="0.55"/><path d="M96 548.5l-7.8-7.9 2.5 0-5.7-3.3-5.8-6.6-1.1 7.2 8.6-5.3 9.7 1.5 5.2-1 3 8.4" fill="none" stroke="#9ab2f1" stroke-width="0.55"/><path d="M90.4 522.9l-17.8 3.3 14.7-3.2-13.4-0.2 15.2 3-11 14.4 16-4.2-20.3-8.7 0.1 4 17.9 2.2" fill="none" stroke="#bfc9eb" stroke-width="0.55"/><path d="M75.8 545.6l20.3-0.8 11.5-6.3-9.7 8.8-7.1-10.2 16.3-2.1-17.8-0.1-23.6 8 23-13-8.1 16.3" fill="none" stroke="#ebd7cd" stroke-width="0.55"/><path d="M91.1 536.5l13.1 5.4-2-4.7 9.4 3.6-23.4-5.7 14.8-11.8-25.2 4.5-9.3 4.5 30.6 1-9.5-6.9-18.3-6.7 4.7-1.9 5.1 20.7 21.5-6 2.2-5.5-19.9-3.3" fill="none" stroke="#ef9a80" stroke-width="0.55"/><path d="M105.9 527.2l-8.3 6.6 1.6-7.2 4.8 1.5-15.5 8.3 16.7 10.6-8.6 4.3-4.2-11.1-5.5 3.9 3.6 8.3-8.7-10-4.2 9.4 5.1-9.3-12.8-0.8-2.6-2.4 1.4-6.4" fill="none" stroke="#ef9478" stroke-width="0.55"/><path d="M90.9 532.8l-5 3.9-4.2-0.4-4-0.8 12.4 6 6.7 6.4-3.2 1.8-6.7 1.1 4.8-1.3-20.8-0.9 12 0-7.5-3.1 9.6-8.1 1.7 1.1-13.7 6.2 10.9-6.7" fill="none" stroke="#ef8d6f" stroke-width="0.55"/><path d="M84.7 535.9l-10.6 4.3 10.5-13-7.1 14.8 12.8-8.7 15.5-5.4-12.5 5.7-1.5 1.9 4.2 7.1-3.5-8.4-6.8-5.4 16.6 1.3-14.8 4.9-17.6 1.4 7.5 3.8-3.7-2.4" fill="none" stroke="#ed856a" stroke-width="0.55"/><path d="M95.2 526.4l-1.1 0-8.3-8.1-2.5 3.6 14.6 5.8-9.9-0.1 1.2 5.2 21.4 0.4-23.1 5.5 2.2 0-8.5 2-2.5-6-2.3 7.4-9.7-3.4 6.3 4 4.3 3.3" fill="none" stroke="#e97d66" stroke-width="0.55"/><path d="M84.3 538.6l16.1 2.5-3.7 5.2-0.8-6.3 1 8.5-6.1-2.7 10.2-3.6-0.9-7.5-6.6-5.8-1-5-12.4 12.6 5.3 6.3 4.4-5.4-1.7-4.1-18.9-6.5 4.2 0.5" fill="none" stroke="#e67562" stroke-width="0.55"/><path d="M93.2 530.5l-11.3 11.5 8.4-2.9-2.1-3.2 3.5 8-2.8 8.3 20.3-17.1-2.1-3.9-15.4-7.2-21.3 13 5.3-0.4-6.9-6.1 10 4.1-11.8-4 6.6-5.1 1.4-3.6" fill="none" stroke="#e26d5d" stroke-width="0.55"/><path d="M79.9 549.9l-2.8-3.1 6.5-1.2 4.3 5.6 11.2-14.4-19.4 2.6-4.5-2.2 7.8 9.6-3.6-5.9 9.8-0.7 3.9-0.8 12.8-11.1-10.7 14.9-8.2-6.8 4.9-7.1 6.2 3.3" fill="none" stroke="#de6559" stroke-width="0.55"/><path d="M94.5 539.1l-17.1-4.1-6 5.4 5.6 0.2 11.1-12.3 3.9 19.5 2.9 1.4 11.7-7-8.1-5.4-5.5-6.1-13-7.6-4.4 0.3 7.6 2 0.3 13.2 6.8-10.5 2.1 7.6" fill="none" stroke="#db5d55" stroke-width="0.55"/><path d="M89.3 531.7l1.2 5.8 2.1-3.2-16.6 1.7 3.9-0.6 6 3.9-8.9 3.9 7.5-1.8 1.7 10.4 8.9-2.4-5.9-16.4-7.8-1.7 18.6 3.9-4.8-7.7 2.6 5.4-0.7 3.5" fill="none" stroke="#d75550" stroke-width="0.55"/><path d="M107.2 533.6l-3 6.6-9.2-5.1-14.4 1.8-1.8 1.3 1.3 2.4 15.3 1.4-6.8-4.3 1.1-2.6-4.1 7.5 3.1-5.2 0.8-0.8-5.4 1.7-2-4 8.2-2.6 10.3-4.7" fill="none" stroke="#d44d4c" stroke-width="0.55"/><path d="M92.6 540.4l5-2.8-7.8-2 15.1-5-4.1 0.7-17 1.3-0.5-0.7-1.7-1.6 5.6-1.5 14.5 11.3-16.6-12.2 5.7-3.8-1.1 6.1 3.1 1.9-6.6-1.7-9.7 8.7" fill="none" stroke="#d04448" stroke-width="0.55"/><path d="M98.1 536.5l1.4-0.6 2.3 5.9-11.8 1.1-12.1 1.4-4-0.1 9.7-10.3 1.9 7.1-9-1.4-6.1-2.8 0.3-2.4-0.7-1.7 6.1-1.5 30.4 3.1 0.5 2.2-6.4-0.4" fill="none" stroke="#cd3c44" stroke-width="0.55"/><path d="M91.1 536l-2.8 3.5 11.5-11.2-4.9 13.8 0.5-1 8.1-3.4-8.5 0.8 3.8-1.4-8.6-6.9 11.9 7.7-5.3-1-6.3 1.9 7.4 2.6-3-4.3 1.8 7.9-4.3-11.1" fill="none" stroke="#c9343f" stroke-width="0.55"/><path d="M79.1 548.3l1.7-8.4 11.6 7.4 10-2.6-7.8-3 2.4-8.1 2.5-2.4-2.4-1.9-6.3-1.1 9.6 15.3-26.3-4.3 9.7 1.8-2.2-3.7 7.6 7.6-14.1-6.5 9-5.2" fill="none" stroke="#c52c3b" stroke-width="0.55"/><path d="M87 539.7l3.7-7-0.2 4.5 7.3 3.4-3.6-2-4.8 5.5 8.1-0.2-4.2-6.6-12.3-1.7 8.5 1.9 8.4-0.6-16.4-2.6 8.8 2.9-0.4 0.2-4.7 3.3-2.7 0.7" fill="none" stroke="#c22437" stroke-width="0.55"/><path d="M98.5 532.6l1 5.2-5.5-1.8-1.4-1.3-8.1-0.6-10.3-2.5 5.1 5.5-5.1 2.3 3.2-9.5 8.2-2.2 1.4 2.2 8.5 2.6-4.8-3.7 4.4 2.6-1.9-0.8-11.3 10.2" fill="none" stroke="#be1c32" stroke-width="0.55"/><path d="M80.3 536.9l5.8 6.3 4.2-1-6.6-5.2 3.1-1.5 6.3-2.4 9.1 1-3.9 3-10.9 9.7 3.1-0.8-3.1-2 5.1 4.1-2.5 0.5-1.7-0.4 2-2.7-2.9-3.6" fill="none" stroke="#bb142e" stroke-width="0.55"/><path d="M95.9 532.7l-12 8.4 7.8-2.2-4.9-4.3-0.6 10-3-7.7-4.5-4.3 4.5 10.2 14.9-1.4-5.6 1.1-4.1-0.8-5.8 1.6 8.5 0.4-10.2-8.9 0.5 2.2 1.5-7.5" fill="none" stroke="#b70c2a" stroke-width="0.55"/><path d="M85.7 540.2l8.3-0.6-4.8-4.4-0.9 2.8 3.8 3.9-5.3-3.8 8.9 1.4-14.2 5.8-1.4 0.2 1.5-2.7 13.3-8.6-5.1-0.5-2.5 1.2 6.1 3.4-5.4 6 5.3-5.7" fill="none" stroke="#b40426" stroke-width="0.55"/>
<path d="M174.4 534 171.1 535.5 174.6 538 168.4 538 171.9 541.8 167 541.1 166.5 543.8 162.3 541.9 160.4 543.2 158 543.7 155.4 543.8 152.3 544.4 151.7 541.2 147.3 542.5 147.3 540 143.6 539.5 144.6 537.3 146.8 535.3 140.7 534 142.4 532.2 146.8 531.3 143.8 528.5 145.7 527.1 149.1 527 148.6 523.1 151.7 522.4 155.1 522.9 158 522.7 160.4 525 162.3 526.2 165.4 525.5 166 527.6 171.7 526.3 168.6 529.9 175.5 529.7 172.2 532.3Z" fill="#e06d58" opacity="0.8"/><path d="M176.2 539 173.5 540.3 174.8 542.1 175.1 544.1 170.9 543.9 169.9 545.5 168.4 547.7 165.1 545.4 162.9 545.8 159.5 547.7 158.1 545.5 155.8 544.8 155.5 542.9 153.5 542 152.9 540.5 149.7 539 149.9 537.1 152.6 535.8 156.1 535.4 154.9 532.6 159.1 533.6 159.7 530.5 162.7 531.3 165.5 530.2 168 531.1 170.4 531.9 172 533.4 173.4 534.6 174.4 536.1 176 537.4Z" fill="#b51d2c" opacity="0.9"/><path d="M145.1 530.5l-2.5 1-5.4-5.2-6.4 8.9 5.4-8.6 4 9.1 20.1-8.2 11.5 0.4 0.6 5.7" fill="none" stroke="#4152c3" stroke-width="0.55"/><path d="M131.6 526.7l12.2-0.1-7.8 3.8 13.7 0.4-5 1.2-5.6 0.3 8.5 4.8 15.3 4.7-19.4-0.1" fill="none" stroke="#5163cb" stroke-width="0.55"/><path d="M156.4 523.3l-1.4 7.3 3-3.8 5-7.8-11.2 6.8 6.8-2.1 1.5 2.8-15.6 8.8 7.8-10" fill="none" stroke="#6174d3" stroke-width="0.55"/><path d="M149.7 537.3l6.1-4.3-12.5-10.4 7-4.4 8.7 10.9 1.6-0.5 4.3-3.8-10.1 3 1.4-6" fill="none" stroke="#7085dc" stroke-width="0.55"/><path d="M157.9 522.8l-0.6 12.1 5.7-1.6 5.2 3.6-12.3-6.7 13.8 3.2-2.3-0.8-14.4 6.8 8.5 2.1-6.9-7.3" fill="none" stroke="#9ab2f1" stroke-width="0.55"/><path d="M156.2 545.3l3.6-14.7 0.7-6.6-4.1 17.4-7.6-9 0.7-0.5-7 2.8 12.3 2.5 4.3-2.9-8.4 0" fill="none" stroke="#bfc9eb" stroke-width="0.55"/><path d="M159.1 531l18.4 7.6-3.3 0.2-14.4 9 1.1-9.5 3.9-1.7-13.5-4.3 25.4 3.8 1.2-1.2-16.9-5" fill="none" stroke="#ebd7cd" stroke-width="0.55"/><path d="M168.3 537.6l-2.8-1.4-8.4-1.2 3.3-2.6 0.5 5.8 1.4 7.4 4.5-6.9-25.5-0.5 1.1 4.2 5.6 2.6-4.3-5.4 8.3 0.8-4.3-14.1 2.9 9.2-9.6-5.7 1.8 11.5" fill="none" stroke="#ef9a80" stroke-width="0.55"/><path d="M171.2 529l-6.1-8.1-11.4 0.6-7.9 8.9-2.9 7.5 11.7-0.3 11.7-0.1-9.7-3.9 6.5-7 5.6 2.3 0.6 3.1-11.6 10.1-1.8-1.8-3.5-7.3 3.5-2.3 0.6 2.4" fill="none" stroke="#ef9478" stroke-width="0.55"/><path d="M160.7 526.7l-8.5 1.5-5.3-1.2 10.6 6.1-12.9-6.6 8.4 1.9 9.3-0.8-1.3-1.7-3.4 7.2 3.6-5.5 7.6 2.7-1 4.3-7.9 4.8-6.6-4.3-7.8-8.8 24.2 2.8" fill="none" stroke="#ef8d6f" stroke-width="0.55"/><path d="M146.3 545l17-2.7 1.3-2.4 1.7-10.4-5.4 11.3-9.3 1.3-1 3.5-3.1-1.9 17.5-15.5 2.9 6.6-5.5-0.9-0.4 0.6 4.3 3.1-6.6-6.6 2.2 4.8 5-3.4" fill="none" stroke="#ed856a" stroke-width="0.55"/><path d="M173.4 529.8l-5.6-0.1-0.9 1.7-8.6 8 2.8-5.8 1.2 3.2-5.3-0.1 9.5-7.4 5.2-1.9-9.4 4.3-11.6 0.3-1.5-5.6 3.8 0.2 2.3 8.2 10.5 3.4 5.1-6.9" fill="none" stroke="#e97d66" stroke-width="0.55"/><path d="M177.3 539.4l-6.8-1.5-1.9 8-2.7-2.6-0.2 3-17.7-6.7 5.6-6.3-1.5 1.7-8 0 0.2 7.4 0.3-4.9 5.9 2 0.3 5.9 12.6 1.6-2-1.6 10.3-3.2" fill="none" stroke="#e67562" stroke-width="0.55"/><path d="M159 535.4l-3.5 1.3-6.9-0.6 10.7 1 9.1 3.4-4.7-7.3-3.8 5.9-7.6-5-4.5 0.9 0.9-6.2 10.1 2.2 2.4 2.5-0.9 2.7 4.1 1.8-10.6-6.4 0.1 3.2" fill="none" stroke="#e26d5d" stroke-width="0.55"/><path d="M158.7 532.6l2.1-2.8-2.5 8.9 0.5-3.4-10.6 0.1-0.7 0.8 10.2-2.1 0 2.4 7.1 9.2-1.3-3.9-7.9-2 4.5 1.6 9.7 0.8 1.6-7.9 4.3-0.5-12.4 1.2" fill="none" stroke="#de6559" stroke-width="0.55"/><path d="M147.6 533.9l10.2-3.9 3.2 5 4.7 2.7-3-5.8-2.6-5.2-6.5 4.6 9.6 2.5-4.8-8.4 2.8-0.6-3.1 3.8-1.9-0.8 15.6 2.5-7.2 0.5-7.1 2.4 1.2-6.8" fill="none" stroke="#db5d55" stroke-width="0.55"/><path d="M170 532.7l5.8 0.5-0.8-1.5 1.7 0.7-8.1 8.5 1.6-4.9-20.6 6 13-1.2-5.9 3.2-5-1.5 15.9-4.3-7.2 8-2.8-9 10.9 8-6.4-7.2-3.5 7" fill="none" stroke="#d75550" stroke-width="0.55"/><path d="M160.6 542.4l5.5-1.4-10.9 0.7 7.7-2.3-4 1.6 7.2-6.9-1.8-1.3 3.1 3.5 1.5 0.1-5.8-0.8 0.6 5.2-8.5 4.4-1.8-7.3 6.4-1 0.2 3.5-2.6 3.5" fill="none" stroke="#d44d4c" stroke-width="0.55"/><path d="M151.4 531.7l5.6 4.5-3.1-0.9 10.5 3.5-6.8-4.6-7.5 7.2 1.9-1.2-0.9-0.2 13.9-4-8.2 1.3-3.6 1.8 11.7 0 4.9-2.2-3.4-5.7-3.8 5.5-3.8-0.1" fill="none" stroke="#d04448" stroke-width="0.55"/><path d="M154 542.7l-1.4 0 15.3-2.2 2.1-4.6-1.8 1 1.4-5-4.9 4-3.1 5-1-0.5 0-7.4 0.4 0.5 1.3 3.8-0.7-4.7 1.6 8 2.5-4.3-7.1 8.1" fill="none" stroke="#cd3c44" stroke-width="0.55"/><path d="M156.2 537.8l0.3-1.4 5.8 2-11.1 0.7 3-0.3 7.9 2.1 10.9-2.3-0.9-4.6-0.6-3.7-1.2 0.8-6.2 1 2.7-2.7 2.6 9.1-9.7-1.7-1.1 5.8 8.2-3.5" fill="none" stroke="#c9343f" stroke-width="0.55"/><path d="M159.7 533.9l-4 3.6 9.2 0.8-1.9-0.5-2.9 5 7.2-5.5 9 2.2-15.2 0.4-1 5.4 5.2-6.8-6.5 4.3 0.1-1.5-1.4-4.5 1.2-2.9-0.5-4.6 0.2 9.9" fill="none" stroke="#c52c3b" stroke-width="0.55"/><path d="M168.4 537.6l-7 3-3.3-5.1 10.6-1.6-5.5 1.5-6.3 9-0.5-0.1 13.1-0.9-1.7-1.1 3.8 0.8-3-12.3-1.3 0.6 0.7 1.6 3.1-0.4 3.2 4.3-1.8 3.7" fill="none" stroke="#c22437" stroke-width="0.55"/><path d="M167.7 531.8l-3.7-0.2 6.4 2.6-2.1 4.3-6.3 0.9 1.4 1.4 3.6-6.8 0.7 6.1-7.5-4.5 4 7.1 3.4-4-7.6 2.1 4.4-0.2-2.1-8.5-3.5-0.3 5.3-1" fill="none" stroke="#be1c32" stroke-width="0.55"/><path d="M155.6 536l4.7 2-3 1.6 4.6 0.1 1.5-3.2 2.7 2.4-4.9-1.9 2.9 8.2 3.1-4.2-2.3-2.3 5.6-4.5-12-1 7.6 0.8-2.6 2.7-0.9-0.7-10.7 2.4" fill="none" stroke="#bb142e" stroke-width="0.55"/><path d="M161.7 541.3l-3.3 3.3 6.3 0.4-1.6-9.8-3.6-2.1 12.4 5.8 2.5-2.8-4.7 0.4 4.6 0.7-6.3-0.1-13-1.6 3.7 2.3 7.9 1.2-4.3-2.7-2.5 6.7 2.7-2" fill="none" stroke="#b70c2a" stroke-width="0.55"/><path d="M171 536.8l1.3-2.4-4.2-1.6 5.6 4.4-6-2.1-3.9 2.4-9 3.1 8.5-1 2 2.6 2.6-0.7-4.6-2.2 0.2-6.3 1.8-0.9 0.2 3.1-2.1-1.8 2.3 3.8" fill="none" stroke="#b40426" stroke-width="0.55"/>
<path d="M254.6 531 257.4 533.8 259.4 537.4 254.2 538.5 252.8 541 252.6 544.9 249 545.8 244.6 544.2 241.8 544.4 239 546.1 235.4 548.4 232.1 547.2 227.7 547.7 227 543.3 220.4 544.4 224 538.4 218 537.5 214.8 534.7 216 531 221.2 528.3 218.6 524.6 221.3 522.2 225.4 521.2 224.8 516.5 228.9 516 233.6 518.4 234.8 510.6 239 511.9 242.7 512.9 245.1 516.6 247.6 518.3 249.6 520.2 258.1 517.2 254.1 523.5 260.2 524.4 256 528.4Z" fill="#e06d58" opacity="0.8"/><path d="M261.7 541 264.4 543.8 258.8 545.2 262 549.5 257.7 550.7 254.3 552.1 250.3 552.3 246.6 551.2 243.2 553 240.6 550.4 237 550.5 233.8 549.6 228.9 549 231.6 545.1 229.3 543.3 226.6 541 227.8 538.5 226.6 535.4 231.4 534.2 235.4 533.6 237.2 531.8 240.2 530.9 243.2 529.3 246.5 531.1 250 530.4 253.9 530.3 256.1 532.6 256.5 535.2 261.8 535.9 264.9 538.1Z" fill="#b51d2c" opacity="0.9"/><path d="M269.4 503.4l-8.8-0.5 0.7-0.5-22.6 16.2 4.2-1.6 11.6 8.8-5.7-16.3 13.4-6.7-19.6 3.2" fill="none" stroke="#4152c3" stroke-width="0.55"/><path d="M230 533.4l14-7.3 23 0.1-3.5-2.9-6.6 12.2-9.8 2.8-7.5-13.4-6.9-15.8 13.2-6.6" fill="none" stroke="#5163cb" stroke-width="0.55"/><path d="M251.9 535.7l4.3 4.2-15.5-3.7 16.7-8.5 0.7-8.1 15.1 8.4-18.8-8 4.3 3.7-3.5-8.5" fill="none" stroke="#6174d3" stroke-width="0.55"/><path d="M247 515.9l-1.9 0.9 4.1 4.5-9.5-17.7 1.1 7.2 2.8 1.8 0.3-3.1 1.4 21 8.4-10.9" fill="none" stroke="#7085dc" stroke-width="0.55"/><path d="M234.4 525.8l-10.4 6.3 7.5 7.9-10.9 8.8-2.6-3.1 15.6 0 4.8-15-13.3 7.7-10.5-1.6 12.8-0.2" fill="none" stroke="#9ab2f1" stroke-width="0.55"/><path d="M265.4 527.6l-31.3 0.4-12.4 0.7 3.4 6.6 7.7-4.1 1.2-9.3 6.7 4 22.3 12.7-8.7 7.8-19.4-12.4" fill="none" stroke="#bfc9eb" stroke-width="0.55"/><path d="M236.5 526.5l13.1 5.4-16.7-2 0.2 18.5 0.4-0.9 3.8 3.6-17-4.7 14.6-2.2-0.6-25.5-4.6 12.3" fill="none" stroke="#ebd7cd" stroke-width="0.55"/><path d="M216.5 520.9l-3.1 10.9 14.3-4.9-14.6-2.2-1.3 10.1 18.1 4.2 1.8 4.9 13.9-0.7 12.3-6.9-22.1-15.1 20.8-7.7-2 8.4-8.3 16.8 14.2-10.5-7.5 3.1-22.6 6.3" fill="none" stroke="#ef9a80" stroke-width="0.55"/><path d="M260.5 515.1l-0.7 2.3-21.2 13.5-1-4.5 20.3-10.2-21.6-0.4 4.8 7-1.6-5.2-11.2 9.4-15.6 7.8 8.8 9.3 12.8-1 4.8-26.8 4.5 5.3 10.2-3.5-17.8 16.3" fill="none" stroke="#ef9478" stroke-width="0.55"/><path d="M219 536l14-3.2 0 7.9-18.9-11.8 3-4 5.8 10.6 10.2 3.2 10.1-17.2 6 4.3-18.8 1.3 0.3-0.6 2.8 7.1 1 9.4 9.2-10.1 19.4-11-3.8 1.7" fill="none" stroke="#ef8d6f" stroke-width="0.55"/><path d="M243.7 541.5l20.9-17.4-30-0.2 23 4.6-0.7 2.8 5.6-3.7-11.6-8.8-0.5-0.5 8.5 15.6-1.9-8.8-15.4 6.3 15.3-14.9-0.1 12.9 9.5 9.2-13.3-10.8-14.6 1.8" fill="none" stroke="#ed856a" stroke-width="0.55"/><path d="M237.4 514.3l-8.3 27-11.2 1.8 6.8 5.8 9.1-8.8 2-4 8.8 5.2 12.9-8.3-8.3 5.1 2.7-15.5-6.7 10.5 14.6-14.1-8.8 5.7 7.6 8.4-6.6 5.4-12.5 1" fill="none" stroke="#e97d66" stroke-width="0.55"/><path d="M226.2 531.2l2.9-3.4 2.8 8.6 0.8 8.3 6.5-13.2-6.8 8.7 7.9-0.6 12.9-12.5-12.1 25-5.6-2.2-6.6-5.6 17.4 3.9-7.6-20.8-17.8 4.4-1.8 1.4 10.5 7.3" fill="none" stroke="#e67562" stroke-width="0.55"/><path d="M227.7 530.7l7-4.8-1.4 11.2-6.1 1.7 13-5.5-1-7.1 4.4-2.9-12.3 10.7 7.7 5-16.5-16.5 1.4 0.4 6.1 4 1.7-11.4 17.5 15.3 10.9-5.9-22.6 0.2" fill="none" stroke="#e26d5d" stroke-width="0.55"/><path d="M236.9 538.5l-17.1-5.2 11.9 14.9 11.8-9.9 2.4 11.1 0.4-7.4 13.3-2.8-17.4 3.5 4.2 2.1-0.2 9.1-2.1-2.2 8.6-1.1 0.8-2.8-2.2-4.3-7.5-17.4-2.6 4.6" fill="none" stroke="#de6559" stroke-width="0.55"/><path d="M254.7 539.4l-4.2-6.8-10.6-2.9-4.4 10.8 10.3-1.5 0.3 4.1-8.1-10.8 0.5 4.6 13.4-2.8-25.5 2.3-0.2-1.8 18.1 1.3-8.5 4.3-1.8-3.3 7.6 14.8 1 0" fill="none" stroke="#db5d55" stroke-width="0.55"/><path d="M225.3 544.8l11.6-4.6 11.3 11-9.9-6.6 9.7 4-17.5-3.8-1.1-6.3 6.4-6.9-0.5 8.1 7.8 3.6-9.3-6.5 17.9-0.1-3.9-13.7-10.4 3.9-2.8-1.4 0.4-4" fill="none" stroke="#d75550" stroke-width="0.55"/><path d="M257.7 526.4l-9.8-2.2-2.3 1.2-1.6 0.6-23.2 11.9 18.8 1.1 9 10.1-17.9-4.8-3.6-5.7 4 6.3 2.4 6.4-8.5-8.1 3 1.7 0.3-4.6-4.6-9.3 1.5 1.7" fill="none" stroke="#d44d4c" stroke-width="0.55"/><path d="M241.8 534.4l3.2-1.9-17.5 0 15.8 2.3 1.6 3 6.4-1.3 1.2 9.9-12.2-5.8 10.2 1.2 0.9 3.1-9.9-5.5-13.5-12.6 4 17.1 12.6-9.9-5.2 10.3-4.1-0.4" fill="none" stroke="#d04448" stroke-width="0.55"/><path d="M239.2 537.5l0.8-5.4 0.9 5.4 4.1-8.5-0.2-2.1 0.7-4.1-3.9 18.3 9.3-8.8-8.8 2.9 3.7-10.5 0.2 2.2 7.4 16.2-12.8 10 10.6-4.6-15.5-1.4-1.5 2.5" fill="none" stroke="#cd3c44" stroke-width="0.55"/><path d="M242.4 545.8l-6.7-2.7-6.7-3.5 18.1-8.9 13.8 0.4-12.5-6.8-17 6.8 1.1-4.4-2.2 7.3 13.5 2.7-12.3 2.5 4.4-4.9-11.6-2.6 4.6 5.4 6.4-0.6-5.9 3.4" fill="none" stroke="#c9343f" stroke-width="0.55"/><path d="M254.3 541.7l-6.1 9.8 4.1-4.9-6.4-3.5-3.1-6.4-12.6-8.9 17.5-4.2-8.2 1.5-14.3 8 10.9-4.8 20 6.8 1.8 9.5-3.6-5.1-18.4 5.1 14.1 0.2 0.4-1.9" fill="none" stroke="#c52c3b" stroke-width="0.55"/><path d="M233.4 543.4l19.3-0.9-0.1-5.7-8.3-11.1-11.2 3.3 12.1 2.3 5.4-3.8 10.1 9.4-20.1 0.8 8.6 3.7-3.3 2.6-5.7-2.4 1.3-12.2 7.2 4.4-6.4 6.5-10.2-4.3" fill="none" stroke="#c22437" stroke-width="0.55"/><path d="M241.5 539.4l0.5-3.5-12.1-4.2 7.6-0.3 0.8 5.2 1.7-2.8 7.4-4.1 2.5 2.3-2.5 0.4 9.5 6-4 3.1-6.1 2.7 2.9 5.3-5.7 3.6-0.7-1.4-4.9-1.2" fill="none" stroke="#be1c32" stroke-width="0.55"/><path d="M251.6 537.5l-10 5.3 4 6.5-7.4 2.2 5.8-0.2 6.3-13.2 7.8 5.7-6.6 4 0.3-3-5.9-5 5.4 5.4-8 1.2-1.1-3.6-2.1-8.2 2.5 1.9-4.9 3.8" fill="none" stroke="#bb142e" stroke-width="0.55"/><path d="M248.5 537.1l-6.1 2.2 13.6 1.7-13.9 1.5-5.3 1 6.2-4.6-3.6 3.9-0.2-4.8 16.5-0.7-5.1-6.7-13.2 8.4 10-0.7 7 2 6.5-4.2-3 0.8 0 1.2" fill="none" stroke="#b70c2a" stroke-width="0.55"/><path d="M245.1 546.9l1.1-10.9-4.4 3 5.2 0.9 3.3-2.1 1.9 3.1-2.4 1.9-1.8 6.2 2.3-7.3-8.5 0.3-8.6 0.8 0.7-10.4 2.3-0.2 4.2 1.9 9.9 8.7 5.3 5.1" fill="none" stroke="#b40426" stroke-width="0.55"/>
<path d="M341.3 533 340.2 535.9 338.4 538.5 334.2 539.9 332.1 541.8 327.8 541.7 327.7 545.4 325.4 548.2 321.5 547.8 318 545.4 314.4 548 310.5 548.3 308.9 544.7 306.5 543.1 300.7 543.8 300.2 540.6 297.4 538.5 294.9 536 297.1 533 302.3 531 302.6 528.8 303.6 526.8 303.6 524 306.5 522.9 307.5 519.6 311.6 520 315 520.3 318 519.4 321.9 516.5 323.1 522.6 329.9 517.7 330 522.4 330.4 525.3 336.4 525.1 339.3 527.3 336.8 530.5Z" fill="#e06d58" opacity="0.8"/><path d="M338.9 543 342 545.2 338 546.4 340.2 549.7 337.7 551.3 332.8 549.9 331.1 551.7 328.5 553.1 325.6 552.4 322.7 552.2 319.9 551.5 315.7 551.7 315.9 548.6 312.5 547.5 314.1 544.9 314.1 543 312.3 540.8 313.4 538.8 314 536.5 317.6 535.8 320.2 534.9 322.6 533.7 325.6 533.8 328.5 533 331.2 534.1 335 533.4 338.4 534.2 338.7 537.1 339.5 539.2 342 540.8Z" fill="#b51d2c" opacity="0.9"/><path d="M345.2 525.6l-1.3 14.6-9.2-15.5 5.5 2.6 3.7 6.1-23.3 9.7-0.2-13.6-1.8 4.4 9.9-13" fill="none" stroke="#4152c3" stroke-width="0.55"/><path d="M340.4 531.5l-15.8-11-0.6 4.3 0.9-5.8 5.5 5-3.6-10.8-7.9 8.6 20.8-0.4-4.7 17.7" fill="none" stroke="#5163cb" stroke-width="0.55"/><path d="M321.2 516.9l12.5 7.9 12.2 15.8-0.2-12.1-3.7-1.5 10.3-6.6-13.3 3.4 3.1-1-20-12.7" fill="none" stroke="#6174d3" stroke-width="0.55"/><path d="M337 524.6l-4.9 7.7-24.2-4.3 9.6 14.1-4.5-0.5 7.3-16 2.8-14.3-0.8 18.9-17.3-13.1" fill="none" stroke="#7085dc" stroke-width="0.55"/><path d="M313.8 530.1l-3 3.4 1.7 10.5 11.8-6-2.5-0.8-3.5 0.7-4.1 10 8.4-16.1-8.4-4.8-17.3 14.5" fill="none" stroke="#9ab2f1" stroke-width="0.55"/><path d="M317.8 540.5l-17.1-0.3 11.9 8.7-1.4-12.6 23.6 1.7 7.3-4.5-20-3 3.8 18.3-6-0.4-2-8.7" fill="none" stroke="#bfc9eb" stroke-width="0.55"/><path d="M308.2 537.6l6.7-2.1 14.9-2.8-13.1 0.5 5.6-2.1-18.3-8.8 12.5 8 14.6 0.7-3.1 5.1-1.5-14.1" fill="none" stroke="#ebd7cd" stroke-width="0.55"/><path d="M311.9 527.6l-5.3-1.9 1.7 6.3 25.8-13.6-6.5-0.7-15.3 5 10.9-2.9-22.9 9.4-4.6 6.3 6.7 8.9 0.7 2.9 17.4 3.4-18.6-26.5-6.3 10.3 5.6-3.8-3.5-9.1" fill="none" stroke="#ef9a80" stroke-width="0.55"/><path d="M312.7 526.2l-8.6-0.6 15.3 7.8-1.4-16.7-7.7-0.9 14.9 2.4-18.2 19 16.8 15.4 6.1-12-11.3 9.3-8.1-5.9-16.3-17.6 23.6 1.6 11.8 9.6-17.1 14.1 9.3-0.6" fill="none" stroke="#ef9478" stroke-width="0.55"/><path d="M335.4 536.3l4.3-13.7 0.7 8.7-10.7 13.7 5.8 2.3-9.7-6.3-20.1-1.6 3.1 5.2 12.6-16.8-12.2 12.3-11-3.6 4.4 0.7 12.4 3.4 9.9-14.6 2.3 6.7-12 4.3" fill="none" stroke="#ef8d6f" stroke-width="0.55"/><path d="M331 533.3l-7.8-1.8 8-3.8-5 9-6.2 7 3.5-15.6-14.5-1.4 5.1-0.7 0.6 9.1-4.6 5 1.6 8.5-4.4-12.8-2.6 1.8 6-13.1 9.1 9.6-11.2 7.4" fill="none" stroke="#ed856a" stroke-width="0.55"/><path d="M320 544.9l-1 7.4-0.5-32.3-11 12.5 10 7.1 12 10-8.1 0 7-12.9 2.1 7.2-0.8 3.2 4.3-7.6-9 2.9-5.4 9.3 3.7-17.8-8.4 7 20.9-11" fill="none" stroke="#e97d66" stroke-width="0.55"/><path d="M329.5 519.4l-3.2 12.1-7.7-4.3 7.9 7.5 8.5 4.1-22.2-4 21.4-13.2 5.6 9.5-8.7 7.5-5.8-12.2-6.5-0.2-3.3-3.1 15.1 8.1-8.6 1 6 14.1 10.2-1.7" fill="none" stroke="#e67562" stroke-width="0.55"/><path d="M314.3 532.7l-8.5 3.5 8.4-6-1.2-0.7 6.5 4.9 4.4 9 1 4.5-13.1-9.1 7-3.8 13.3-7.3 0.7 15.6-13.2-8.3 16.4 0.6-15.7-4.5 5.3 9.6-25.3-3.6" fill="none" stroke="#e26d5d" stroke-width="0.55"/><path d="M317.7 550.4l-5.7-8.3-11.2 1.6 1.3-2.7 18.8-3.2 1.9 1.6-7.7 1.1 11.6-5-9.8-5.8 8.5 13.7-1.3-7.6-9.3 0.3-1.2-0.3-0.4 9.1-1.1-5.4 12.8 8.2" fill="none" stroke="#de6559" stroke-width="0.55"/><path d="M320.4 526.8l18.5 2.6-7.5-3.3 4.8 2-1.9-0.2-0.7 8.8-14.2 8.6-7.7-1.5-2.7 1.2 6.5-10 10.9-0.2 3.8-11.5 9.9 7.5-4.7 12.7-8.5 3.1-9.1 6" fill="none" stroke="#db5d55" stroke-width="0.55"/><path d="M320.8 546.5l-16.1-4.2 12.9 0.8-2.4 3.9 1.5-11 5.1 0.4-6.8-7.3 11.5 0-4.1 12.2-2.8 0.4-3.2-5.6-10.5 11 10.9-2.1 2.4-8.7 2.8-5.7 2.9 6.1" fill="none" stroke="#d75550" stroke-width="0.55"/><path d="M326.9 543.1l-14.4-6.6 3.9 8.1 2.4-1.7 2.2-4.3 3.7-9.3-7.2 14.8 9.7-6.3 1.9-2.3-11.8 2.6-3.7 7.8 2.3-7.8 3.1-1.2 7.8 4.8-9.3 2.6 11.9-0.6" fill="none" stroke="#d44d4c" stroke-width="0.55"/><path d="M336.9 537.1l3 2.1-3.3-9.8-16.3 4.6-7.3-4.8-5.7 2.4-2 2.4 23.3 8.9-20-12.4 7.5-2.3 1.7 10.9 11.9-6.5-4.7 1-5.1-1.8-10.5 1.6 9.8-3" fill="none" stroke="#d04448" stroke-width="0.55"/><path d="M338 540l-5.2 5.4-4.4 1.1-5.2-7.5-10.6 2.2 6.2-7.9-7.3 11.6 8.4-4.8 2.4-4 1.4 2.6-11.8-6 7.1-3.7 8.6 3.3-4 6.8 1.7 4.5-6.1 0.1" fill="none" stroke="#cd3c44" stroke-width="0.55"/><path d="M324.8 541.1l6-3.9 0.6-3.2-14.5 5.6 2.8-5-4.9 4.1 6.2 5.4 2.7-4 7.5 10.1-3.8-7.3-1.3-4-10.8 0.9 4-4.5 9.8 16.1-0.1-9.9-2.3 1.8" fill="none" stroke="#c9343f" stroke-width="0.55"/><path d="M326.4 535.7l3.3-1.5 7.8 0.6-2.4-0.9-1.8 2.9-8.2-2.3-17.1 4.8 6 7.6 3.1-0.5 3.4 3.7 4.7-2.3-4.3-11.3 13.3 5.1 2.6-6-10.5 5.9 1.6 2" fill="none" stroke="#c52c3b" stroke-width="0.55"/><path d="M331.9 532.8l-0.7 2.1 1.3 7.4-6.5 5.6 4-5.2-7.2 6.7-2.8-0.2 12.5-11.3 2.9 2.7-11.3-3.2 1.1 2.2 2.3-0.6 2.2 0.7-20.9 2.6 12.4-5.3 7.8 6.6" fill="none" stroke="#c22437" stroke-width="0.55"/><path d="M309.8 541.3l13.5 4.8-4.8 2.5 1.7-8.2 2.3-8.3 2.9 7.2 10.5 8.7-4.3-1.1 2.7 0.1-1.7-3.9-2.5 2.1-5.1-5.1 9.6-0.5-12.3 0.1 9.4-4.3 1.8 6.2" fill="none" stroke="#be1c32" stroke-width="0.55"/><path d="M324.7 538.4l5.6-0.7 1.9 2.7-1.4 2.9 8.4 1-3.1 2.1-10.8-4.1-4.4 4.8 5.6-7.4-4.2 1.9-3.8-3.5 7 4 1.8-9.6-7.2 11.9 2.3 6.6-5.9-3.7" fill="none" stroke="#bb142e" stroke-width="0.55"/><path d="M319.8 543.2l8.1 1.1-9.9-8.9 6.7 5.2-1.9 1.4-2.9-0.8 6.4-1.9-10.5 5.1 9.4-4.4-10.3 6.8 9-1.9 3.3-3.5 9 1.2-9.1 4.2 5.5 3.5-1-7.2" fill="none" stroke="#b70c2a" stroke-width="0.55"/><path d="M322.9 548.3l4.5-1.1-5.2-5.8 7.2-4.5 6.4 10.1-12.3-6.5-0.8 10.5 6.2-4.6 10.2-7.2-8.3 2.1-1.6 0.7-1 5.3-4.4 3.9 3.3-4-2.6-0.8 5.2-7.3" fill="none" stroke="#b40426" stroke-width="0.55"/>
<path d="M413.8 537 414.7 540.2 407.7 541.5 410.8 545.6 407.8 547.4 403.9 548 400.6 548.1 400.2 553.6 395.5 548.7 393 555.6 390.2 550.2 385.6 554 385.7 547.6 380 550 376.1 548.9 380.1 543.2 376.6 542 373.7 539.9 372.7 537 379.6 535 379.3 532.8 378.9 530.2 382 529.2 380.7 524.7 384.1 524.1 386.3 521.7 390.2 523.6 393 524.7 396.5 520.3 399 523.1 400.1 526.7 407.3 522.6 409.6 525.3 407.4 530 408 532.4 415.1 533.7Z" fill="#e06d58" opacity="0.8"/><path d="M408.7 538.5 411.7 541.7 405.7 543 406.2 546.2 404.4 548.6 402.5 551.7 398.5 552 394.9 553.2 391.1 553 388.5 549.7 386.1 548.1 379.8 550.3 379.1 546.6 377.3 544.1 377.7 541.1 374.1 538.5 375.8 535.6 375.9 532.4 377.2 529.3 382.3 529 384.3 526.4 387.2 524.1 391.4 526.5 394.9 524.2 397.6 527.1 400.4 528.2 404.1 528.7 405.9 531 410.1 532.4 412.3 535.2Z" fill="#b51d2c" opacity="0.9"/><path d="M407.2 539.5l-16.4 2.6 2.4-2.5 7-11.4-17.8 1-0.2 14.3 17.9-3.5-10.4-5 12.3-11.3" fill="none" stroke="#4152c3" stroke-width="0.55"/><path d="M400.4 561l9.6-12.7-17.3 7.2-6.5 7.6 15.2-17.6-24.4-3.5 16.8-10.3 6.3-7.2 14.1 10.8" fill="none" stroke="#5163cb" stroke-width="0.55"/><path d="M425.5 553.4l-13.3-21-5.1 21.6-14.2 7.6 0.9-6.9-12.7-2.9 11.2-9.2 6-10.1-3.1 13.3" fill="none" stroke="#6174d3" stroke-width="0.55"/><path d="M406 538.7l-9.2 13 1-19.9 4.5 21.9 13.2 4.2-12-12-7.5-0.6-3.5 4.2 1.6-10.2" fill="none" stroke="#7085dc" stroke-width="0.55"/><path d="M396 519.7l8.7 14.9 7.7-5.9-24.3-1.5-7.5 2.4 3.4-1.9 15.3 10.3 4.4-6.4-6.1 15.6-11.9-6.3" fill="none" stroke="#9ab2f1" stroke-width="0.55"/><path d="M413.3 531.6l-2.9-2.1-11.5 1.9 8.1 2.5 5.8 4.1-12.8-6.3-22 2.9 14.2 0.4 2.5 12.9-0.4-3.6" fill="none" stroke="#bfc9eb" stroke-width="0.55"/><path d="M378.6 527.8l-4.3 9.5-0.9-3.7 16.4-7.5-11.6-5.9 7.3-3.1 5.9 2.8-13.9 20.7 15-4.4-15.4 16.8" fill="none" stroke="#ebd7cd" stroke-width="0.55"/><path d="M409.9 545l-12.9-4.7 16.3-3.3-21-0.5-7 14.9-9.8-15 4.9-12.1-7.6 3.9 6 2.7-2.6-4.3-3.9 12.1-3.1-4.9 19.7 4.3 5.8-4.2-2.3-1.5-2.4-9.1" fill="none" stroke="#ef9a80" stroke-width="0.55"/><path d="M400.6 524.4l-9.8-8.7 3.4 18.8-15.4-1.9 0 11.7 23.9-17.8 3.5 13.2-9.6-8 12.4 2.9-9.5-6.7 13.9 18.5-25.5-6.8 1.5-7.6-12.2-6.3 9.9 10-4.4-7.5" fill="none" stroke="#ef9478" stroke-width="0.55"/><path d="M407.4 535.2l2.9-1.8-20.7 8.8 7.5 3.6 5.8 0.6-9.9-20.8-6.4 5.2-2.9 6.4 18.3-1.1-13 12.3-0.2-5.3-12.6-13.8 3.3 7.2 18-2 7.8 1.4 10 3.2" fill="none" stroke="#ef8d6f" stroke-width="0.55"/><path d="M408.3 537.4l-4 5.1-16.3 11.4 13.6-13.3-22.3-9.2 4.2-8.4 15 18.6 0.2-1.5-26.5-6.1 25.9-4-5.4 9.6-3.4 3.1-19.2-4.5-1.7-0.3 31.3-9.6 8.1-0.4" fill="none" stroke="#ed856a" stroke-width="0.55"/><path d="M396.8 547.8l-6.5 1.7 2.5 3.8-7.4-2.9 22.1-14.9-1-13-3.7 3.6-18.4 3.6-1.2 12.2-6.1-6.5-2.3 7 10.7 4.4-2.6-2.6 14-6-5.4 0.9 5.1-0.2" fill="none" stroke="#e97d66" stroke-width="0.55"/><path d="M379.9 552.2l7.8-18.6-0.3 1.3 10.1-1.1-19.1-7.1-6.3 1.9 8.6-5.7 13.1 8.5 8.8 21.3 8.8-4.2-9.1-14.5-0.3 8.3-10.5-18.4 19.3 17.1 3.5-9.3-3.9 4.9" fill="none" stroke="#e67562" stroke-width="0.55"/><path d="M409.8 543.8l-15.3-18.9 6.1 5.8 3.2-10 6.2 9.1-6.2 1.5-0.5 7.2-13.9-14.1-8.9 10.5 14-6.9 4.6 19.2-3.4-10.4-4.7-7-5.4 6.6 17-7.6-16.6 4.6" fill="none" stroke="#e26d5d" stroke-width="0.55"/><path d="M385.6 526.5l0.1 0.5 0.4 2 11.5-1.1 1.2 10.3 3.8-2.2-13-14.8-7.3 12.8 2.3 11 7.3-1 8.6-16.7 7.4 1.7-11.3 3.9 8.4 1.9-0.5 4.6-2.3-4.9" fill="none" stroke="#de6559" stroke-width="0.55"/><path d="M394.4 539l-5.1 0.9-0.4-2.2 15.4-5-2.9 6.8-8.4 7.6 7.5-6.3 10.5-5.7-4.3 11-10-1.2-2.5-0.8 1.8 1.4-6.5-10 3.9-1 0.1 10.2-4.8-4.6" fill="none" stroke="#db5d55" stroke-width="0.55"/><path d="M391.4 530.8l-10.8 1 15.1 16.9-4.5-2.1 5.7-0.9-9.7 2.5 8.2-15.7 3.3 5.7-10.1-6.7 12.9 7.3 9.1-7.7-10.3 12.4-16.6 1-0.6-11.8-3.8 15.1 10.4-6.5" fill="none" stroke="#d75550" stroke-width="0.55"/><path d="M395.2 544.4l6.6 8.8 1.9-11.3 5.2-1.1-19.7 1.3-4-3.2-9.4 7 4.6 2.2-1.8-1.7 0.5 0.3 2.4 2.1 4.2-9.5 4.4 3.6 7 10.7-8-15.1 10.2-5.3" fill="none" stroke="#d44d4c" stroke-width="0.55"/><path d="M390 529.8l3.8 6.1-4.3-3.7 8.5-7.3-4.1 4.3 1.7 12.1 3.2 3.9-7.6-3.8-10.8 2-3.3 3.9 7.3 3.5 8.4-0.3 1.1-10-8 2.8 6-5 6.9-2.6" fill="none" stroke="#d04448" stroke-width="0.55"/><path d="M398 522.6l-7.2 3.1 16.5 6.2 1.9 6.6-3-2.7-2.8 4.5-0.7-6.2 4.3-2.8-2.1-3.4-7.2-0.6 5.9 9.7-1.1-1.7-12.6 5.2-2-3.7-6-1.8 16.9 0.3" fill="none" stroke="#cd3c44" stroke-width="0.55"/><path d="M402 528.7l-16 7.7 8 5.3-3.8 1 12.7-0.9 2.8-14.8-9.8 3 10.2-3-20.3-0.3 19 4.1-1.6 4.7-6.9 7 7.2 7.6-14.2-19.3-3.5 12.1 6.3-3" fill="none" stroke="#c9343f" stroke-width="0.55"/><path d="M401.5 535.1l-7.7 3.2 2.5-3.3-3.2 8.6 7.3-6-1.3-0.9-2.3 5.8-9.2 0 14.3 0.5-3.5-8.8 5.7 5.4 2 7-6-5-14.9 7.3 2.1-3.7-2.8-11.4" fill="none" stroke="#c52c3b" stroke-width="0.55"/><path d="M396.2 536l-6.9 3.9 12.3-4-11.7-1.1-0.2 14.3 4.1-6.1-3.5-6.6-2.3 0.7 7.1-9.3 1.2 6.1-4.4 4.3 4.5-9.6-0.9 3.7 11.8 3.6 0.3-4.9-1 10" fill="none" stroke="#c22437" stroke-width="0.55"/><path d="M405 528.3l-2.6 6.2-5.6-1.9-1.8 0.3 13.4 9.9-1.5-2.7-3.6-0.1-8.3 5.4-5.4-2.6 10.9-2.6-1.1 3.4-9.1-12.5 5.3 4.6 3.1 1.3-1.3 3.5-19.9-4.9" fill="none" stroke="#be1c32" stroke-width="0.55"/><path d="M394.7 534.7l-7.6 13.3-3.3-9.8-2.3-3.8 3.6 7.4 8.5-9.5-9.9 1.2 9.2 1.4 0.1-0.4 5.7 3.6-3.6-7.4 0.2 1.5-0.1-5.8 10.1 6 2 6.5-0.9-2.8" fill="none" stroke="#bb142e" stroke-width="0.55"/><path d="M394.9 535.4l3-3.5-2.6-3-12 4.3 1.7 13.4 1.9-4.5-1.6 3-6.7-1.6 13.6-3.3 6.1-4.2 4.4 7.9-5.6-1.9 1.8 1.9 6.5-3-6.5-0.6-0.2-8.2" fill="none" stroke="#b70c2a" stroke-width="0.55"/><path d="M396.7 544.5l-4.4-0.9-0.4-1.4-3.6 1 9.7-3.9-1.3 5.4-2.7-8.1 3-0.1 0.4 0.6 0.3 0.2-5.3 5.6-0.9 1.6 11.3-5.9-5.3 0.4-3.3 2.5-7-6.9" fill="none" stroke="#b40426" stroke-width="0.55"/>
<path d="M485.3 537 482.6 538.7 482.1 540.4 482.2 542.5 483.5 545.8 481.7 547.8 479.4 549.5 475.1 547.8 473.4 551.9 470 546.6 467.3 548.7 464.8 548 463.2 546.1 460.7 545.6 459.5 543.8 453.7 544.3 456.5 540.8 451.2 539.6 450.4 537 452.2 534.6 454.7 532.7 455.8 530.6 458.9 529.8 461.4 529.1 463.6 528.4 465.1 526.5 467.1 524.1 470 521.9 472.4 526.6 475.7 525 476.9 527.8 481.8 526.1 482.1 529.2 483.5 531 481.3 533.8 485.7 534.9Z" fill="#e06d58" opacity="0.8"/><path d="M485.1 539 488 541.3 486.6 543.2 483.1 543.8 483.1 546.3 481.3 547.9 479.3 549.9 476.5 550.7 473.9 547.9 471.3 548.2 468.3 548.5 466 547.2 466.1 544.3 465.5 542.5 461.5 541.3 465 539 464.4 537.2 463.4 534.8 465.9 533.6 465.9 530.7 469 530.5 471.8 530.9 473.9 530 476.2 529.9 479.5 527.8 481.3 530.1 483.2 531.5 486.1 532.4 486.7 534.7 489 536.6Z" fill="#b51d2c" opacity="0.9"/><path d="M458.2 518.2l7.4 17.7-4.8 10.1-10.3-4.2 4.9-0.9 16.3-2.8-3.9-6-22.2 2.9 15.3 6.2" fill="none" stroke="#4152c3" stroke-width="0.55"/><path d="M454.9 525.5l2.2 8.2-0.4-8.7 5 5.9 4.8-0.9 6-6.2-10 7.8-2.2-9.1-8.3-3.5" fill="none" stroke="#5163cb" stroke-width="0.55"/><path d="M459.3 532l-1.1 8.5-15.5-10.4 22.6 4.3 0.9 0.4 3 0-24.7-4.1 9.5 12 11.9-6.4" fill="none" stroke="#6174d3" stroke-width="0.55"/><path d="M442.2 535.5l-4-3.6 6.6 2.1 15.3-13-3.3 5.6 8.5-0.9-0.4 12.6-4-4.1 4.2-5.6" fill="none" stroke="#7085dc" stroke-width="0.55"/><path d="M474.5 541.7l5-7.9-10.8 11.6-0.2-4.9 1.7-9.4-6.7-6.5 0.6 5-2.4 0.8 2.8 2.6-1-6.7" fill="none" stroke="#9ab2f1" stroke-width="0.55"/><path d="M464.8 548l-15.1-8.5 6.9 7.3 0.9-4.7 9.2 6.5-2.5 0 2.3-1.8 1.1-2.8-9-9.1-3.8 0.4" fill="none" stroke="#bfc9eb" stroke-width="0.55"/><path d="M475.5 527.7l1.7 1-16.4-1.1 10.7-4.5 8.4 1.9 7.1 8.5-24.2-4.1 3.1 11.5-0.4 2.6 5.3 2.6" fill="none" stroke="#ebd7cd" stroke-width="0.55"/><path d="M458.4 529.3l-6.7 11 17.5-5.4-13.1-6.3 3.3-2.6 4.9 5 5.5 3.2 7.4 1.6 6.7 0.6-10.5-13-10.5 13.7 18.1-2.2-10.2 5.1-4.7-6.3 6.3 2.3 5.3 6.5" fill="none" stroke="#ef9a80" stroke-width="0.55"/><path d="M489.5 529.9l-23.1-9.7 5.9-0.1 1.1 10.6-3-4.6 10.4-2-5 7.3-5.5 1.6-2.2-2.7-6 7.1 12.9 1.6-7.5 0.1 20.2 0.3-20.4-15.6 11.4-1.7-5 2.2" fill="none" stroke="#ef9478" stroke-width="0.55"/><path d="M475.1 542.8l-7.9-13.9 4.1 3.7-16.2-3.1-3.2 0.6 8.3-4.3 11.7 8.5 4.1-6.3-15.6 14.5 2.9-10.7-2.1 11.1-5.3 2.4-0.4 2.8 14.5 3.2 10.3-12.8-23 8.8" fill="none" stroke="#ef8d6f" stroke-width="0.55"/><path d="M484.2 548.2l-16.1-2.4-6.3-16.3-6.4 15.7 11.6-3.9-4.8 6 3.3-17.3-11.6-1.3 11.5-2 9.7-5.5-11.8 5.1-2.4 2.6-7.9 1.5 5.7-4-1.9 16-0.5 4.2" fill="none" stroke="#ed856a" stroke-width="0.55"/><path d="M467.7 540l1.5-4.2-4.9-4.7 11.9-8.9-2.2 7.1 1.3-3.7 1.7 7.6 10.2 7.7-20 5.1-1.9-4.6 3.3-3.1 5.2 0.2 4.4 9.7 2.4-2.7 3.9-5.7-11.3 4" fill="none" stroke="#e97d66" stroke-width="0.55"/><path d="M465.7 537l-7 3.8-5.3-0.3 17 0.5 7.3-0.5 9.3 0.6-2-6.3-9.7 0.5-6-7-11.7 17.5 4.3-3.6 13.2-0.4 5.8-5.9-7.5 0.1-3-9.1 8.2 1.6" fill="none" stroke="#e67562" stroke-width="0.55"/><path d="M473.6 534.5l-5.8 11.2 5-7-1.5 0 10.8 8.2-1.3-18.1-12.7 6.4-10.1 3.3-1.8 6 16.7-0.7-3.5-9.4 6.3-1.5 1.5 6.4-4.4 1.8 7.8 8-1.3 1.4" fill="none" stroke="#e26d5d" stroke-width="0.55"/><path d="M484.1 527.7l-0.9 5.5-11.2 9.6 3-5.8-12.4 3.4 7.1-2.6 8.9 7.4 6-5.9-12.3 1.4-0.7-2.4-11.3-1.7 2.8-1.6-2 2-2.5-1.8 11.3 3 7.6-2" fill="none" stroke="#de6559" stroke-width="0.55"/><path d="M475.7 536.3l1.5 3-12-4.2-8.1 5.4 6.5 0.9 5-5.1-6.4 4.5 4.9 1.8 9.8 4.5 0.4-4-1.5-5.1-6.5-6.6 16.2 3.6 1.9 9.7-5.4-6.6-12.6 0.9" fill="none" stroke="#db5d55" stroke-width="0.55"/><path d="M470.2 534.9l2.3-1.5 5.8 6.7-1-2.5-20.6-1 7.3 9.8 7.3-8.2 1.3 4.1 6.9 0.2 5.2-9 4.7 3.4-1.3-1.8-18.1-5.6 1 0.9-8.7-3 12.3-0.4" fill="none" stroke="#d75550" stroke-width="0.55"/><path d="M468.2 533.4l3-3.5 3.1 4 11.6 7.6-0.1 4.5-10.5 0.3-13.2-1.5 9.7-5.3-5.5-1.7-1.5 10.3-2.8-0.9-0.4-15.5-1.1-0.9 2.6 3.7-1.9 1.9-4.4 0" fill="none" stroke="#d44d4c" stroke-width="0.55"/><path d="M472.1 545.1l-5.3-3.5 14.6-7.8-9.4 0-3.8 11-4.6-3.6 3.6 4.1-3.5-10.7 6.9-0.2 1.7-2.6-2.1-1.6-4.3 2.3 5.7-3.9 5.4 11.6 4.8-6.1-0.8 10.6" fill="none" stroke="#d04448" stroke-width="0.55"/><path d="M470 531.8l1.6 8.6-0.3 5.5-2.6-4.1-1.8-3.9 14.1-1.8-3 0.9 3.3 11.4 2.6-7 3.4-1.8-7.7 5.8-2.3-1.7-15 1.8-1.3-2.5 8.4 0-5.6 4.7" fill="none" stroke="#cd3c44" stroke-width="0.55"/><path d="M479.4 546.4l-4.1 3.8-2.4-8.4 6.3-5.4 2.9 1.1-7.4-2.3-4.5 2.9-4.3-4.1 2.6 8 4.1-3.9-4.6-1.3 4.5 9.3 2.3-6.4-11.8-8.6 13 7.6 3.6-0.7" fill="none" stroke="#c9343f" stroke-width="0.55"/><path d="M474.3 535.9l-3.7 1.9 3.3 3.2 3.2 1-4.3 4.1-4.2-6.1 2.9 1.4 8.9 2.3-11.9 0.3-3.7 1.8-1.3 0.7 5.3 1.4 3.9-9.7-2.5 5-6.7-8 0.2-1.3" fill="none" stroke="#c52c3b" stroke-width="0.55"/><path d="M470.8 530.6l2.3 0.7-1.8 7.4 1.2 3.7 1.6 4.3-1.3-3.5 4.3-3.4-3.4-5.2 1.8-2.4-3.7 6.5-8 0.3 6.6-1.2 1.5 3.6-5.9 4.6 8.8 2.8-8.6-9.4" fill="none" stroke="#c22437" stroke-width="0.55"/><path d="M473.8 537.7l10.2 5.5-1.1-0.2 1.4 0.3-7.9 4 2.3-5.4-4.4 3.4 0.2-1.1 7.2-0.5-0.5-12.6-0.1 2.4-15.2-0.7 6.8 0.7 1.9-0.3-0.6 0.9 8 6.8" fill="none" stroke="#be1c32" stroke-width="0.55"/><path d="M466.9 541.7l2.9-3.7 5.6-0.9 9.5 1.2-4-4.7 3 3-1.7 1.7-0.6 1 2.8 5.3-8.2-4.1-0.7 1.8 2.5 0.4-7-7.1 6.1 3.1 4.4 0-0.8-5.8" fill="none" stroke="#bb142e" stroke-width="0.55"/><path d="M466.7 543.6l14.9-4.3-7.1 4.1-1.5-8.5 0.9-3-4.4 5.7-6.4 0.6 7 5.4-0.7 0.4-1.5-4.8-0.3 2.5 2 1.2 7.4-1.4-2.8-2.9 5.9-5.1-2.4-3.2" fill="none" stroke="#b70c2a" stroke-width="0.55"/><path d="M477.6 541l-6.1 0.7-3.5-0.3 7-3.9-1.3 1.3 9.9-2.5-0.5-0.3 1.2 2.8-9.2 3.6-5.7 0.6-0.9 1.7-3.9-2.4 0.4-1.1 8.1 7 4.8-2.1-2.2-6.1" fill="none" stroke="#b40426" stroke-width="0.55"/>
<path d="M68.5 593l8 8 8 6 6-2 8-3 3-2-1 3-8 3-8 1-8 1-8 1-1-2 7 0 10 0" fill="none" stroke="#5b7fe6" stroke-width="0.95" stroke-linejoin="round"/>
<ellipse cx="84.5" cy="607" rx="2.2" ry="1.4" fill="#d33a2c" opacity="0.9"/>
<path d="M148 591l-1 3 7 7 6 6 6-3 8-2 2 2-6 1-10 2-10 1-2-3 4 0 8 2" fill="none" stroke="#5b7fe6" stroke-width="0.95" stroke-linejoin="round"/>
<ellipse cx="160" cy="607" rx="2.2" ry="1.4" fill="#d33a2c" opacity="0.9"/>
<path d="M235 589l1 2 6 10 7 10 6-2 6-3-6 4-6 1-12 1-18 1 10-1 20-1" fill="none" stroke="#5b7fe6" stroke-width="0.95" stroke-linejoin="round"/>
<ellipse cx="249" cy="611" rx="2.2" ry="1.4" fill="#d33a2c" opacity="0.9"/>
<path d="M310 589l1 4 6 10 5 8 8-3 7-2-1 2-6 2-8 1-10 1-11 1 9-1 12-1" fill="none" stroke="#5b7fe6" stroke-width="0.95" stroke-linejoin="round"/>
<ellipse cx="322" cy="611" rx="2.2" ry="1.4" fill="#d33a2c" opacity="0.9"/>
<path d="M385 608l7 1 8-3 4 3-3-1-7 1-9-1" fill="none" stroke="#5b7fe6" stroke-width="0.95" stroke-linejoin="round"/>
<ellipse cx="404" cy="609" rx="2.2" ry="1.4" fill="#d33a2c" opacity="0.9"/>
<path d="M462 605l8-2 6 2 3-3 3 4-8 1-10-1" fill="none" stroke="#5b7fe6" stroke-width="0.95" stroke-linejoin="round"/>
<ellipse cx="482" cy="606" rx="2.2" ry="1.4" fill="#d33a2c" opacity="0.9"/>
<line x1="8.8" y1="467.6" x2="19" y2="467.6" stroke="#4169e1" stroke-width="1.1"/>
<text x="21" y="470.8">OCT</text>
<line x1="8.8" y1="477.8" x2="19" y2="477.8" stroke="#b22222" stroke-width="1.1"/>
<text x="21" y="481">MCH</text>
<line x1="8.8" y1="487.4" x2="19" y2="487.4" stroke="#ff8c00" stroke-width="1.1"/>
<text x="21" y="490.6">EA</text>
<text x="9.3" y="542">1</text>
<text x="22.3" y="542">180</text>
<rect x="11.1" y="544.4" width="20.4" height="4.6" fill="url(#cw)" stroke="#222" stroke-width="0.6"/>
<text x="9.8" y="560.7">Trials</text>
<text x="7.5" y="606.2">-2</text>
<text x="22" y="606.2">33</text>
<rect x="11.1" y="608.6" width="20.4" height="3.9" fill="url(#cw)" stroke="#222" stroke-width="0.6"/>
<text x="6.8" y="622.9">Time (s)</text>
<text x="2.5" y="655.3" font-weight="bold" font-size="9" fill="#000" style="stroke:#000">k</text>
<text x="124" y="666.5" text-anchor="middle">G7f</text>
<text x="200" y="666.5" text-anchor="middle">rACh</text>
<text x="279.8" y="666.5" text-anchor="middle">r5-HT</text>
<text x="52.2" y="679.5" text-anchor="middle">Voxels tuned to OCT</text>
<text x="22.7" y="696.4" text-anchor="middle">OCT</text>
<text x="50.3" y="696.4" text-anchor="middle">MCH</text>
<text x="76.6" y="696.4" text-anchor="middle">EA</text>
<path d="M10.9 727.5l0.6 0 0.7 0 0.6 0 0.7 0 0.6 0 0.6 0 0.7 0 0.6 0 0.7 0 0.6 0 0.6-0.2 0.7-1 0.6-2.8 0.7-6.2 0.6-8.6 0.6-6.3 0.7 2.1 0.6 4.1 0.7 3.3 0.6 2.7 0.6 2.3 0.7 1.9 0.6 1.5 0.7 1.3 0.6 1 0.6 0.9 0.7 0.7 0.6 0.6 0.7 0.5 0.6 0.4 0.6 0.3 0.7 0.2 0.6 0.3 0.7 0.1 0.6 0.2 0.6 0.1 0.7 0.1 0.6 0.1 0.7 0.1 0.6 0" fill="none" stroke="#111" stroke-width="1.7" stroke-linejoin="round"/>
<path d="M38.5 727.5l0.6 0 0.7 0 0.6 0 0.6 0 0.6 0 0.6 0 0.7 0 0.6 0 0.6 0 0.7-0.1 0.6-0.4 0.6-1.2 0.6-3 0.6-5 0.7-4.8 0.6-1.2 0.6 2.7 0.7 2.2 0.6 1.9 0.6 1.5 0.6 1.3 0.6 1.1 0.7 0.8 0.6 0.7 0.6 0.6 0.7 0.5 0.6 0.4 0.6 0.4 0.6 0.3 0.6 0.2 0.7 0.2 0.6 0.1 0.6 0.2 0.7 0.1 0.6 0.1 0.6 0 0.6 0.1 0.6 0.1 0.7 0 0.6 0" fill="none" stroke="#111" stroke-width="1.7" stroke-linejoin="round"/>
<path d="M65.4 727.5l0.6 0 0.7 0 0.6 0 0.7 0 0.6 0 0.7 0 0.6 0 0.6 0 0.7 0 0.6 0 0.7-0.3 0.6-0.9 0.7-2.5 0.6-4.6 0.6-5.3 0.7-2.6 0.6 2.8 0.7 2.4 0.6 1.9 0.6 1.6 0.7 1.3 0.6 1.1 0.7 0.9 0.6 0.8 0.7 0.6 0.6 0.5 0.6 0.4 0.7 0.3 0.6 0.3 0.7 0.2 0.6 0.2 0.7 0.2 0.6 0.1 0.6 0.1 0.7 0.1 0.6 0.1 0.7 0 0.6 0.1 0.7 0 0.6 0" fill="none" stroke="#111" stroke-width="1.7" stroke-linejoin="round"/>
<g mask="url(#spc1)"><rect x="99.3" y="671.5" width="43.9" height="42.9" filter="url(#sp1b8a5a_m3_0_1_075)"/></g><g mask="url(#spc2)"><rect x="99.3" y="671.5" width="43.9" height="42.9" filter="url(#sp1b8a5a_m3_3_1_075)"/></g><g mask="url(#spc3)"><rect x="99.3" y="671.5" width="43.9" height="42.9" filter="url(#sp1b8a5a_m3_5_1_075)"/></g>
<g mask="url(#spc4)"><rect x="146.3" y="671.5" width="14" height="42.9" filter="url(#sp1b8a5a_m2_5_11_035_11)"/></g>
<g mask="url(#spc5)"><rect x="99.3" y="718.1" width="43.9" height="14.4" filter="url(#sp1b8a5a_m2_3_21_11_03)"/></g><g mask="url(#spc6)"><rect x="99.3" y="718.1" width="43.9" height="14.4" filter="url(#sp1b8a5a_m2_6_21_11_03)"/></g><g mask="url(#spc7)"><rect x="99.3" y="718.1" width="43.9" height="14.4" filter="url(#sp1b8a5a_m2_8_21_11_03)"/></g>
<rect x="99.3" y="671.5" width="43.9" height="42.9" fill="none" stroke="#6d6d6d" stroke-width="0.8"/>
<rect x="146.3" y="671.5" width="14" height="42.9" fill="none" stroke="#6d6d6d" stroke-width="0.8"/>
<rect x="99.3" y="718.1" width="43.9" height="14.4" fill="none" stroke="#6d6d6d" stroke-width="0.8"/>
<rect x="146.9" y="718.1" width="4.2" height="14.4" fill="url(#kb0)" stroke="#333" stroke-width="0.6"/>
<text x="152.5" y="723.3">0.18</text>
<text x="152.5" y="736.1">0.03</text>
<g mask="url(#spc8)"><rect x="178.4" y="671.5" width="43.9" height="42.9" filter="url(#sp9b2d9b_m2_7_2_075)"/></g><g mask="url(#spc9)"><rect x="178.4" y="671.5" width="43.9" height="42.9" filter="url(#sp9b2d9b_m3_3_2_075)"/></g><g mask="url(#spc10)"><rect x="178.4" y="671.5" width="43.9" height="42.9" filter="url(#sp9b2d9b_m3_2_2_075)"/></g>
<g mask="url(#spc11)"><rect x="225.5" y="671.5" width="14" height="42.9" filter="url(#sp9b2d9b_m2_2_12_035_11)"/></g><g mask="url(#spc12)"><rect x="225.5" y="671.5" width="14" height="42.9" filter="url(#sp9b2d9b_m3_2_12_035_11)"/></g>
<g mask="url(#spc13)"><rect x="178.4" y="718.1" width="43.9" height="14.4" filter="url(#sp9b2d9b_m1_8_22_11_03)"/></g>
<rect x="178.4" y="671.5" width="43.9" height="42.9" fill="none" stroke="#6d6d6d" stroke-width="0.8"/>
<rect x="225.5" y="671.5" width="14" height="42.9" fill="none" stroke="#6d6d6d" stroke-width="0.8"/>
<rect x="178.4" y="718.1" width="43.9" height="14.4" fill="none" stroke="#6d6d6d" stroke-width="0.8"/>
<rect x="226.1" y="718.1" width="4.2" height="14.4" fill="url(#kb1)" stroke="#333" stroke-width="0.6"/>
<text x="231.7" y="723.3">0.2</text>
<text x="231.7" y="736.1">0.05</text>
<g mask="url(#spc14)"><rect x="257" y="671.5" width="43.9" height="42.9" filter="url(#sp3a9ad9_m2_6_3_075)"/></g>
<g mask="url(#spc15)"><rect x="304.4" y="671.5" width="14" height="42.9" filter="url(#sp3a9ad9_m2_6_13_035_11)"/></g>
<g mask="url(#spc16)"><rect x="257" y="718.1" width="43.9" height="14.4" filter="url(#sp3a9ad9_m2_4_23_11_03)"/></g>
<rect x="257" y="671.5" width="43.9" height="42.9" fill="none" stroke="#6d6d6d" stroke-width="0.8"/>
<rect x="304.4" y="671.5" width="14" height="42.9" fill="none" stroke="#6d6d6d" stroke-width="0.8"/>
<rect x="257" y="718.1" width="43.9" height="14.4" fill="none" stroke="#6d6d6d" stroke-width="0.8"/>
<rect x="305" y="718.1" width="4.2" height="14.4" fill="url(#kb2)" stroke="#333" stroke-width="0.6"/>
<text x="310.6" y="723.3">0.18</text>
<text x="310.6" y="736.1">0.03</text>
<text x="52.2" y="753.7" text-anchor="middle">Voxels tuned to MCH</text>
<text x="22.7" y="769.5" text-anchor="middle">OCT</text>
<text x="50.3" y="769.5" text-anchor="middle">MCH</text>
<text x="76.6" y="769.5" text-anchor="middle">EA</text>
<path d="M10.9 802.3l0.6 0 0.7 0 0.6 0 0.7 0 0.6 0 0.6 0 0.7 0 0.6 0 0.7 0 0.6 0 0.6-0.2 0.7-0.6 0.6-1.9 0.7-4 0.6-5.7 0.6-4.2 0.7 1.4 0.6 2.7 0.7 2.2 0.6 1.8 0.6 1.5 0.7 1.3 0.6 1 0.7 0.8 0.6 0.7 0.6 0.6 0.7 0.4 0.6 0.4 0.7 0.3 0.6 0.3 0.6 0.2 0.7 0.2 0.6 0.1 0.7 0.1 0.6 0.1 0.6 0.1 0.7 0.1 0.6 0 0.7 0.1 0.6 0" fill="none" stroke="#111" stroke-width="1.7" stroke-linejoin="round"/>
<path d="M38.5 802.3l0.6 0 0.7 0 0.6 0 0.6 0 0.6 0 0.6 0 0.7 0 0.6 0 0.6 0 0.7-0.1 0.6-0.6 0.6-2.1 0.6-4.9 0.6-7.9 0.7-7.9 0.6-1.9 0.6 4.4 0.7 3.6 0.6 3 0.6 2.5 0.6 2 0.6 1.7 0.7 1.4 0.6 1.2 0.6 1 0.7 0.8 0.6 0.6 0.6 0.6 0.6 0.4 0.6 0.4 0.7 0.3 0.6 0.3 0.6 0.2 0.7 0.2 0.6 0.1 0.6 0.1 0.6 0.1 0.6 0.1 0.7 0.1 0.6 0" fill="none" stroke="#111" stroke-width="1.7" stroke-linejoin="round"/>
<path d="M65.4 802.3l0.6 0 0.7 0 0.6 0 0.7 0 0.6 0 0.7 0 0.6 0 0.6 0 0.7 0 0.6 0 0.7-0.3 0.6-0.9 0.7-2.6 0.6-4.7 0.6-5.4 0.7-2.6 0.6 2.8 0.7 2.5 0.6 1.9 0.6 1.7 0.7 1.3 0.6 1.1 0.7 1 0.6 0.7 0.7 0.6 0.6 0.5 0.6 0.5 0.7 0.3 0.6 0.3 0.7 0.2 0.6 0.2 0.7 0.2 0.6 0.1 0.6 0.1 0.7 0.1 0.6 0.1 0.7 0 0.6 0.1 0.7 0 0.6 0" fill="none" stroke="#111" stroke-width="1.7" stroke-linejoin="round"/>
<g mask="url(#spc17)"><rect x="99.3" y="746.3" width="43.9" height="42.9" filter="url(#sp1b8a5a_m1_9_4_075)"/></g><g mask="url(#spc18)"><rect x="99.3" y="746.3" width="43.9" height="42.9" filter="url(#sp1b8a5a_m2_8_4_075)"/></g>
<g mask="url(#spc19)"><rect x="146.3" y="746.3" width="14" height="42.9" filter="url(#sp1b8a5a_m2_0_14_035_11)"/></g>
<g mask="url(#spc20)"><rect x="99.3" y="792.9" width="43.9" height="14.4" filter="url(#sp1b8a5a_m1_5_24_11_03)"/></g>
<rect x="99.3" y="746.3" width="43.9" height="42.9" fill="none" stroke="#6d6d6d" stroke-width="0.8"/>
<rect x="146.3" y="746.3" width="14" height="42.9" fill="none" stroke="#6d6d6d" stroke-width="0.8"/>
<rect x="99.3" y="792.9" width="43.9" height="14.4" fill="none" stroke="#6d6d6d" stroke-width="0.8"/>
<rect x="146.9" y="792.9" width="4.2" height="14.4" fill="url(#kb0)" stroke="#333" stroke-width="0.6"/>
<text x="152.5" y="798.1">0.18</text>
<text x="152.5" y="810.9">0.03</text>
<g mask="url(#spc21)"><rect x="178.4" y="746.3" width="43.9" height="42.9" filter="url(#sp9b2d9b_m2_5_5_075)"/></g><g mask="url(#spc22)"><rect x="178.4" y="746.3" width="43.9" height="42.9" filter="url(#sp9b2d9b_m3_3_5_075)"/></g>
<g mask="url(#spc23)"><rect x="225.5" y="746.3" width="14" height="42.9" filter="url(#sp9b2d9b_m2_3_15_035_11)"/></g><g mask="url(#spc24)"><rect x="225.5" y="746.3" width="14" height="42.9" filter="url(#sp9b2d9b_m3_1_15_035_11)"/></g>
<g mask="url(#spc25)"><rect x="178.4" y="792.9" width="43.9" height="14.4" filter="url(#sp9b2d9b_m1_7_25_11_03)"/></g>
<rect x="178.4" y="746.3" width="43.9" height="42.9" fill="none" stroke="#6d6d6d" stroke-width="0.8"/>
<rect x="225.5" y="746.3" width="14" height="42.9" fill="none" stroke="#6d6d6d" stroke-width="0.8"/>
<rect x="178.4" y="792.9" width="43.9" height="14.4" fill="none" stroke="#6d6d6d" stroke-width="0.8"/>
<rect x="226.1" y="792.9" width="4.2" height="14.4" fill="url(#kb1)" stroke="#333" stroke-width="0.6"/>
<text x="231.7" y="798.1">0.2</text>
<text x="231.7" y="810.9">0.05</text>
<g mask="url(#spc26)"><rect x="257" y="746.3" width="43.9" height="42.9" filter="url(#sp3a9ad9_m2_8_6_075)"/></g><g mask="url(#spc27)"><rect x="257" y="746.3" width="43.9" height="42.9" filter="url(#sp3a9ad9_m2_6_6_075)"/></g>
<g mask="url(#spc28)"><rect x="304.4" y="746.3" width="14" height="42.9" filter="url(#sp3a9ad9_m2_3_16_035_11)"/></g>
<g mask="url(#spc29)"><rect x="257" y="792.9" width="43.9" height="14.4" filter="url(#sp3a9ad9_m2_0_26_11_03)"/></g>
<rect x="257" y="746.3" width="43.9" height="42.9" fill="none" stroke="#6d6d6d" stroke-width="0.8"/>
<rect x="304.4" y="746.3" width="14" height="42.9" fill="none" stroke="#6d6d6d" stroke-width="0.8"/>
<rect x="257" y="792.9" width="43.9" height="14.4" fill="none" stroke="#6d6d6d" stroke-width="0.8"/>
<rect x="305" y="792.9" width="4.2" height="14.4" fill="url(#kb2)" stroke="#333" stroke-width="0.6"/>
<text x="310.6" y="798.1">0.18</text>
<text x="310.6" y="810.9">0.03</text>
<text x="52.2" y="829.1" text-anchor="middle">Voxels tuned to EA</text>
<text x="22.7" y="845" text-anchor="middle">OCT</text>
<text x="50.3" y="845" text-anchor="middle">MCH</text>
<text x="76.6" y="845" text-anchor="middle">EA</text>
<path d="M10.9 878.3l0.6 0 0.7 0 0.6 0 0.7 0 0.6 0 0.6 0 0.7 0 0.6 0 0.7 0 0.6 0 0.6-0.2 0.7-0.6 0.6-1.9 0.7-4.1 0.6-5.7 0.6-4.2 0.7 1.5 0.6 2.6 0.7 2.3 0.6 1.8 0.6 1.5 0.7 1.2 0.6 1 0.7 0.9 0.6 0.7 0.6 0.5 0.7 0.5 0.6 0.4 0.7 0.3 0.6 0.3 0.6 0.2 0.7 0.2 0.6 0.1 0.7 0.1 0.6 0.1 0.6 0.1 0.7 0.1 0.6 0 0.7 0.1 0.6 0" fill="none" stroke="#111" stroke-width="1.7" stroke-linejoin="round"/>
<path d="M38.5 878.3l0.6 0 0.7 0 0.6 0 0.6 0 0.6 0 0.6 0 0.7 0 0.6 0 0.6 0 0.7-0.1 0.6-0.4 0.6-1.3 0.6-3.2 0.6-5.2 0.7-5.2 0.6-1.2 0.6 2.9 0.7 2.3 0.6 2 0.6 1.6 0.6 1.4 0.6 1.1 0.7 0.9 0.6 0.8 0.6 0.6 0.7 0.5 0.6 0.4 0.6 0.4 0.6 0.3 0.6 0.2 0.7 0.2 0.6 0.2 0.6 0.1 0.7 0.2 0.6 0 0.6 0.1 0.6 0.1 0.6 0 0.7 0.1 0.6 0" fill="none" stroke="#111" stroke-width="1.7" stroke-linejoin="round"/>
<path d="M65.4 878.3l0.6 0 0.7 0 0.6 0 0.7 0 0.6 0 0.7 0 0.6 0 0.6 0 0.7 0 0.6-0.1 0.7-0.3 0.6-1.5 0.7-3.9 0.6-7.3 0.6-8.4 0.7-4 0.6 4.4 0.7 3.7 0.6 3.1 0.6 2.5 0.7 2.1 0.6 1.7 0.7 1.4 0.6 1.2 0.7 1 0.6 0.7 0.6 0.7 0.7 0.5 0.6 0.5 0.7 0.3 0.6 0.3 0.7 0.3 0.6 0.2 0.6 0.1 0.7 0.2 0.6 0.1 0.7 0.1 0.6 0 0.7 0.1 0.6 0.1" fill="none" stroke="#111" stroke-width="1.7" stroke-linejoin="round"/>
<g mask="url(#spc30)"><rect x="99.3" y="822.3" width="43.9" height="42.9" filter="url(#sp1b8a5a_m2_6_7_075)"/></g><g mask="url(#spc31)"><rect x="99.3" y="822.3" width="43.9" height="42.9" filter="url(#sp1b8a5a_m3_6_7_075)"/></g>
<g mask="url(#spc32)"><rect x="146.3" y="822.3" width="14" height="42.9" filter="url(#sp1b8a5a_m2_5_17_035_11)"/></g>
<g mask="url(#spc33)"><rect x="99.3" y="868.9" width="43.9" height="14.4" filter="url(#sp1b8a5a_m2_1_27_11_03)"/></g>
<rect x="99.3" y="822.3" width="43.9" height="42.9" fill="none" stroke="#6d6d6d" stroke-width="0.8"/>
<rect x="146.3" y="822.3" width="14" height="42.9" fill="none" stroke="#6d6d6d" stroke-width="0.8"/>
<rect x="99.3" y="868.9" width="43.9" height="14.4" fill="none" stroke="#6d6d6d" stroke-width="0.8"/>
<rect x="146.9" y="868.9" width="4.2" height="14.4" fill="url(#kb0)" stroke="#333" stroke-width="0.6"/>
<text x="152.5" y="874.1">0.18</text>
<text x="152.5" y="886.9">0.03</text>
<g mask="url(#spc34)"><rect x="178.4" y="822.3" width="43.9" height="42.9" filter="url(#sp9b2d9b_m2_8_8_075)"/></g><g mask="url(#spc35)"><rect x="178.4" y="822.3" width="43.9" height="42.9" filter="url(#sp9b2d9b_m3_5_8_075)"/></g>
<g mask="url(#spc36)"><rect x="225.5" y="822.3" width="14" height="42.9" filter="url(#sp9b2d9b_m2_5_18_035_11)"/></g><g mask="url(#spc37)"><rect x="225.5" y="822.3" width="14" height="42.9" filter="url(#sp9b2d9b_m2_8_18_035_11)"/></g>
<g mask="url(#spc38)"><rect x="178.4" y="868.9" width="43.9" height="14.4" filter="url(#sp9b2d9b_m2_1_28_11_03)"/></g>
<rect x="178.4" y="822.3" width="43.9" height="42.9" fill="none" stroke="#6d6d6d" stroke-width="0.8"/>
<rect x="225.5" y="822.3" width="14" height="42.9" fill="none" stroke="#6d6d6d" stroke-width="0.8"/>
<rect x="178.4" y="868.9" width="43.9" height="14.4" fill="none" stroke="#6d6d6d" stroke-width="0.8"/>
<rect x="226.1" y="868.9" width="4.2" height="14.4" fill="url(#kb1)" stroke="#333" stroke-width="0.6"/>
<text x="231.7" y="874.1">0.2</text>
<text x="231.7" y="886.9">0.05</text>
<g mask="url(#spc39)"><rect x="257" y="822.3" width="43.9" height="42.9" filter="url(#sp3a9ad9_m2_4_9_075)"/></g><g mask="url(#spc40)"><rect x="257" y="822.3" width="43.9" height="42.9" filter="url(#sp3a9ad9_m3_0_9_075)"/></g>
<g mask="url(#spc41)"><rect x="304.4" y="822.3" width="14" height="42.9" filter="url(#sp3a9ad9_m2_2_19_035_11)"/></g><g mask="url(#spc42)"><rect x="304.4" y="822.3" width="14" height="42.9" filter="url(#sp3a9ad9_m3_0_19_035_11)"/></g>
<g mask="url(#spc43)"><rect x="257" y="868.9" width="43.9" height="14.4" filter="url(#sp3a9ad9_m1_8_29_11_03)"/></g>
<rect x="257" y="822.3" width="43.9" height="42.9" fill="none" stroke="#6d6d6d" stroke-width="0.8"/>
<rect x="304.4" y="822.3" width="14" height="42.9" fill="none" stroke="#6d6d6d" stroke-width="0.8"/>
<rect x="257" y="868.9" width="43.9" height="14.4" fill="none" stroke="#6d6d6d" stroke-width="0.8"/>
<rect x="305" y="868.9" width="4.2" height="14.4" fill="url(#kb2)" stroke="#333" stroke-width="0.6"/>
<text x="310.6" y="874.1">0.18</text>
<text x="310.6" y="886.9">0.03</text>
<text x="101.8" y="705.2" font-size="7.6">y</text><text x="108" y="712.1" font-size="7.6">x</text><path d="M102.6 708.4V712.2H105.4" fill="none" stroke="#231f20" stroke-width="0.7"/>
<text x="148.4" y="705.2" font-size="7.6">y</text><text x="154.6" y="712.1" font-size="7.6">z</text><path d="M149.2 708.4V712.2H152" fill="none" stroke="#231f20" stroke-width="0.7"/>
<text x="101.8" y="723" font-size="7.6">z</text><text x="108" y="729.9" font-size="7.6">x</text><path d="M102.6 726.2V730H105.4" fill="none" stroke="#231f20" stroke-width="0.7"/>
<line x1="132" y1="712.8" x2="139" y2="712.8" stroke="#231f20" stroke-width="0.8"/>
<text transform="translate(332 710.8) rotate(90)">Δ AUC</text>
<text x="352.5" y="655.3" font-weight="bold" font-size="9" fill="#000" style="stroke:#000">l</text>
<text x="464.3" y="666.2" text-anchor="middle">G7f</text>
<text x="542.8" y="666.2" text-anchor="middle">rACh</text>
<text x="620.6" y="666.2" text-anchor="middle">r5-HT</text>
<path d="M417 702 417.7 704.9 417.2 707.8 416.7 711 413.3 712.7 411.8 715.7 405.1 712.2 404.1 715.9 401.7 719.7 398 718 394.3 719.4 392.9 713.6 389.1 714.8 387.7 712.2 383.9 711.8 381.9 709.7 384.8 706 382.5 704.3 381.8 702 377 698.9 379.1 696.3 384.8 695.6 382.4 691.1 388.3 692.4 388.5 688.3 392.9 690.3 395.6 690.5 398 684.5 400.7 689.2 403.4 689.7 409 686.2 411.5 688.6 410.5 693.3 416.8 692.9 415.2 696.8 417.1 699.2Z" fill="#cfcfcf" opacity="0.9"/><path d="M392.6 693.9l9.4-1-5.9 8.2 3.2 3-5.1 10.4 17.6-5.4-11 3.3 3.8-13.8-7.8 10.7-0.5-6.2 3-0.8-0.6-17.1 18.1 9.3-17.7 12 2.8-1.9 6.3 13.9-3.7-27.7 6.1 2.2-13.5 12.5 1.2-5.7-0.3-14.7 1.8 5.7M393 711.3l10.6-8.1 9.3-5.6-10.2 9.1-0.3 1.1 7.6 8.2 0.9-6.4 10-0.2-16.8 0.3-19.1-12.6-4.8 4.7 30.1 6.8 6.5-0.9-5.5-6.5-9-21-11.8 4.9-2.1 9.6 9.3-2.8-26.2 13 23.4-2.8-15.6 1-0.3 0.5M378 717.7l0.3-14.5 6.5 2.7 3.3 13.4 11.2-13.9 3.5-16.3-7.5-6.4 1.8 0.3-2 1.7-16.7 9.1 5.6-3.1 20.7 0.8-4.4 4.1-8.7 0.9-2.7-6.2 10.3-6.3 2.3 0.3-12.2-3.3 8.5 2.2 9.4-1.1 12.2 10.1-15.9 3.4M390.5 692.3l0.1-9.6 12 22.2-15.7-7.7-8 8.1 10.9-13.9 3.2 2.7 8.4 11.6-5.9-6.7-4.7-10.1 14.7 8.5-2.8 5 4 5.5-1 2.6 8-1.6-17.6 5.1-5.7-8.9 3.7-1.6-5.3 3.3-0.3 0.2 9.3-9.7 14.3 4.9M397.8 715.9l18.9-10.5-25.3 6.3-3.4-10.9 13.4 9.7-25.9-12.4 24.3-0.7-14.1 17.1 10.6-5.6-12.6-8 15.9 10.1 7.2-9.5-10.8 2.9-4.6 16.4 25.7-13.2-15.4-6.4 10.6-0.8-14.4 4.6 12.3-2.4-8.2 9.5 8.8 4-14-3.8M413.5 692.3l-10.6 24.7-0.6-13.2-2.6 4.2 8-3.2-13.7-7.5-7-7.3 4.7 1 3.4-2.5-8 4.4 1.1 14.4-5.3-0.5 6.4-13.9 11.7 5.6-23.9 7 19.5-8.7 18.9 3.7-20.3 5.7-2.6-13.9-20.7 6.6 3.8 7.2 14.2-6.5M412.6 719.2l-10.4-16.6-6.1 14.7 5.8-9.5-14.9-1.1-4.5-2 14.9 8.4 1.8-8.1 1.9 14.8 2.6-20.5 14.1 3.4 5.8-2.7-3.5 4.7-25.8-18.4 0.4 2.4-4.8 25 12.2 4.5-7.2-4.6-0.9-7.1 9.8 3.4 0.7-2.2-18.4-9.2M392.4 703l-7.4-6.4 15.3-0.8 14.3 7.5 1.2 9.5-31.2-5.6-7.8-6.5 8.4 11.7 5.3 10-2.2-9.7 5.3 3.6 1.4-11.9-2.1-13.6 15.7 11.7-0.2 2.2-11.1-4.8 8.9-6.1-12 17.8 18.4-1.7-0.9-1.9 9.1-6.7-9.4 4.6M410.6 696.2l-12.7-3.2 1 11.9-7.8-6.6-1.2 4.8 11.1-11.6 2.4-4.1 5.2-2-16.3 1.2 1.9-1.9 4 9.1 0.8 6.1 8.8-5.5-4.4 3.1-24.2 5.5 0.3-6.8 3.6 3.5 10.2 5.3-5.2 4.8 8.9-7 0.2 6.7 4.9 2.8M422.2 712.6l-27.8 10.4-4.4-21.6-13.5 3.1 5.4-7.5-0.5-10.4 11.1 12 10 2.5 7.4 4.6 4.6-3-11.9 8.8-5.6 9.7-0.8-13.8 1.7 10.7 14.2-11.9-32.4 8.2 12-5.4 4.8-12.1 13.5 5.4 7.3-0.8-11.4 3.4 16.8 6.8" fill="none" stroke="#c4c4c4" stroke-width="0.6"/><path d="M400.8 696 402.7 698.2 398 698.9 397.9 700.6 396.1 701.3 395.7 703.4 393.3 702.9 391.9 704.2 390 705 388.1 704.4 386.7 702.9 385.2 702.2 380.7 704 382.3 700.4 380 699.6 379.9 697.7 379 696 381.4 694.5 380.9 692.7 382.6 691.7 382.2 689.3 382.9 686.7 385.7 687 387.6 685.3 390 687.8 391.6 688.8 394.2 687.2 396 688.3 397.9 689.2 398.5 691.1 400.5 692.2 401.7 694Z" fill="#4169e1" opacity="0.85"/><path d="M381.9 697.6l4.1 1.9 0.8 0.6 3.1-11.8-1.2 6.1 4.6 2.7 4.3 2.4-7.6-3.5 9 3.2-0.1-0.4-5.3 3.9 3.7 0.3-7.4 5.2-12.5-9.5-0.3-8.8-0.2 0.1 9.6-4.5 11.3 2.3-5-0.4 1.1-1.1-0.2 5.8 0.7 5.5M398.3 697l-5.1-0.9 1.7 0.8-10 8 10.5-6.3-1.6 4.5-5.4 0.5 9-2.9 1.4-9.8 2.4 6-0.4 7.1-18.8 0.7 4.5-6.5-4.1 10-3.1-4.1-3.4-1.2-0.7-6.3 15.8 5.7-2.2-2 2.1-2.1-6.8-3.9 7.3-2.9M393.1 705.5l-7.9 2.8 2.5-0.5 1.6 1.9 5.4-12.3-4.9 1.2 3.6-6.7 2.2 2.6 5.6 5.7-1.7-4-2.6-4.7-8.2-7.8-5.5 1.8 10.5 5.1-5.1 0.6-3.5 5.2 7.5 0.6-6.4 3.7-0.1-7.4 13.2 0.1 4.3-2.6-9.8-3.6M383.3 688.2l-2 2.9 6.3 3.3-4 6.3 3.5-10.7-3.8 14.4 1.5 4.7 11.8-1.9-10.6-17 9.5-2.4 2.9-3.8-7.1 3-13.8 2.8 6.8 17.5-3.5-6.6 10.4-2 3.4 5.9 9-10.9-10.8-2.5 6.2 7.4-13.4-4-7.2 8.7M389.9 706.5l3-6.7-8.5-8.6 2.9 4.1-9.6-3.8 12.9-4-6 6.7-7.9-0.7 4.3 8.4 8-3.4 3.5-0.6-9-3.7 4.6 4-6.6-5.3 0.1-6.8 10.5 6.8 4.8-7.1 2-1.5-2.7 13.6 1.1-6.1 0 4-1.8 2.1M401.6 705.6l-6.2-14.3 0.8-6 5.5 2.6-2.4 3.1-2.4 3.4-1.5 5.8-11.5 0.2 2.6-4.2-4.9 3.8 1.6 0.1-1.9-4.9 0.9-5.4 18.2-0.3 4.8 7-7.8-4.7 2 6-10.5 6.3 5.9-6.3-4 5.4-4-12.3-3.2 0.2M383.8 701.7l-1.2-0.6 2.1-4.2 2 2-11-0.1 3.4 2.9 2 1.8 4.6-8.5 6.7 0.9-7 1.4 0-0.8 5.3 11.8-2.9-5.1-0.9 5.7-0.6-5.9-6.9 2.7-2.6-1.7 0.5-9.7 7.1 1 3.3-5.2 9.3-4.6 2.1 2.1" fill="none" stroke="#4169e1" stroke-width="0.6"/>
<path d="M368.6 729.3V719.1M368.6 729.3H380" fill="none" stroke="#231f20" stroke-width="0.8"/>
<path d="M368.6 717.3l-1.6 3.2h3.2zM381.8 729.3l-3.2-1.6v3.2z" fill="#231f20"/>
<text x="383.4" y="732.5">LDA 1</text>
<text transform="translate(371.8 716.6) rotate(-90)">LDA 2</text>
<path d="M418 779 415.8 782.1 415.9 785.3 409.1 785.6 411.5 790.4 407.2 790.6 406.9 795.5 403.5 797.1 398.7 792.5 396 794.2 393.2 792.9 389.9 793.6 387.9 791.3 383.6 792 384.5 787.4 382.7 785.7 379.4 784.3 381.7 781.2 379 779 375.1 775.8 376.2 772.7 382.5 772.2 385.2 771.1 382.7 765.2 385.1 762.5 389.6 763.5 393.4 766 396 765.1 399.7 760.6 403.4 761.3 403.1 768.2 405.9 768.6 409.3 769.2 410 772 414.8 773 412.7 776.4Z" fill="#cfcfcf" opacity="0.9"/><path d="M371.1 773.3l15.5 5-2.1-6.7-3 11.1-6.7-10.2 2-0.1-1.5 0.6-0.2 4.8 10.9-9-10 4.3 10-0.4 1.5 2.8-3.5 7.2 14.2-0.6-15.6 2.7 15.1-6.6-17.2-2.4 30.8-7.2 2 4.1 4.5 21.4 0.3-2.1-11-17.1M380.7 798l13.2-2-12.7-7.2 9.7 5.4 6.5-5.4-3.8-0.1 9.1-5.8-6 14.2-0.8-15.3 7.1-12.7-14.5 12.8 3.6 5.9 9.8-10.9 2.6-2.5-1.6 4.4-4-11.8 1.8 5.6 3.4-6.8-1.5 4.1-7.5 1.6-2.2-9.1-4.3 3.2M413.9 783.6l-4.8-0.2-20.7 1.3 16.6-11.8 9.7 8.3-5.5-4.9-5.7-5.9-3.5 4.4-1.2-9.2 8.4 0-0.9 11.4-6.8 23.2-0.3-5.7-4-4-12.8 0.7 2.3-10.2 13 7.3-5.2-13.4-19.3-7.2 15.4 10.8-9.7 0.7 18.5-7M396.5 756.5l-1.6 14.3-0.1 12.4 6.9-6.5-12.9-8.6 8.3 3.7 0.7-5.1 11.1 13.4 2-10.6 8.5 11.1-21.6-11.9-1.5 14.1-2.4 1.9 16.3 3.2-24.4 5.9 12.8-3.6 7.3 10.1 5.5-16.2 1.8 3.5-7.4-1.7-12.4-6.2 11 6.6M406.5 773.9l-4.1-2.2-7.2 2.4 13.5 1.3-13.5 4.4-22-6.9 13.5 13.5 13.2-7.8-17.5-15.2-2.7 22 1.6-3.8 30.2 6-18.1-1.7 13.1-9.1-13.3 1 0.9-6.6-16.6 6.4 3.8-2.4 11.4 15.3 0.8-9.4 6.8-1 0.3 3M390.8 777.5l0.8-3.5-5.1-1.1 2.1 5.1 2.4-4.2 3.1-6-11.8-2.1-12.8 7.8 10 10.6 11.5-5.7-7.3 4.9 11-2.7-9.4-13.6 4.8 5 11.2 0.4 7-7.9-23.2 14.9 0.6-7.7 3.2-7.6-0.3-5.7 5.1 4.1 0.5 7.4M400.7 766.6l-13.9 3.2 9.3 8.4 20.4-2.5-7.8 18.8-11.8-14.4-5.1-5.7 1.7 3.3-6.6-9.5 3.6-6.1-5.8 10.8 4.1-6.2-11.3-3.3-6.8 11.8 19 4.4 6-4.7 1.8 2.4-0.1-3.6-11.6 5 8.5-9.8-1.6 4.3 6.6-12.5M376.3 763.2l7.3 5.8 24.1-6.5 3.5 10.8 1.4 7.8-1.2 2.5 4.2-1.9-14.1 13-7.3-3.5 22.2-11.1-11.9-6.5-13.3 8.2 0.1-0.1-15.2 3.1 1.7-19.8 2.9-5.4 23.1 0.6-16.9 15.3-7.8-14.5 5-1.6 8.8 16.5 1.4 15.4M376.8 771.4l5.5 6.5-1.7-4.9 12.3 8.7 7.4-1-6.4 1.2 14.3-0.9 13.8-5.5-22.7 20.2 3.8-5 0.4-5.1-17.6-12.2-14.3 4.8-0.2 4.8 4.8-3.1-1.3 4 12.9-8.2-1.7 17.8 16.3-1.6 0.1 7.6-6.8-11.5-1.2-13.4M391.7 782l-0.4-5.6-2.2 0.7-11.8-15 6.4 5.6-6.3 4.2 2.7 5.1 5.1 10.8 19.1 2-3.4 2.8 5.4-1.9 3.3-8.5 1.9 3.4-2.7-4.3-9.7 4.2-6.3-12.2 18.6 13.2-14.5 9-20.9-2 16.1-4.1-0.1 2.4 7.3-15.6" fill="none" stroke="#c4c4c4" stroke-width="0.6"/><path d="M396.1 787 396.6 788.8 397.5 791.1 395.3 792.4 393.5 793.5 392.4 795.3 390.3 796.1 388 795.8 386 796 384.2 794.7 382 795.4 379 796.1 379 793 377.6 791.9 375.6 790.7 375 788.9 376.8 787 375.7 785.2 375 783 378.9 782.9 379.7 781.5 379.3 778.3 381.1 776.8 384.3 779.6 386 779.4 388.2 777.3 389.7 779.2 392.4 778.7 392 781.8 394.8 781.9 394.5 784 395.8 785.3Z" fill="#b22222" opacity="0.85"/><path d="M391.6 774.7l-10.1 1.6-3.4 5.6 1.4 0.4 7.5-1.3 2.2-7.8-11 13 6.8 0.3 0.3-8.5-4.6 5.2 5.4 6.7 5.7-3.6-2.9 7.9-9.3-0.4-2-1.8 15 0-5.5-5.7-8.7 0.4-8-0.1 5.1 4.8 1.9-4.1 5.6-0.8M380.8 786.7l5.4 13.8 1.1-0.2 2.6-5.4 1.1 3.1-2.2-2.9 7.9 1.6 5.6-9.3-6.4-4.3-2 5.5 0 0.6-4.9-7.2 4 2.6 4-7.5-6.5-3.5-7.8 4.1-3.1 2.2 7.6 4.2-3.6 2 5.2 2.4-11.9 9.4-4.9-5.2M378.7 788.2l-4.9-8.5 6.8-1.1 2.9 4.4-2.7-0.2 7.6 2.1-0.5 4.6-5.1-7.3-0.6 10.8 5.1 5.1-8.8-9.6 2.6-6.9 8.3-3.1-2.5 1.8 2.3 8.6-4.1-1.5 0.1-5.2-7.2 3.2 6.4-3.2-7.2-0.6 0.9-1.4 2.3 9.1M385.8 788.3l-3.8-1.9 13.4 7.8 3-2.4-6-0.9-3.3 1.5-12.5 4.5 9.3-2-2.9-10.7 5.8 1.8-3.8 11.7-4.1-3.3-4.9-2.6 10 4.4-1.3-10.2-9.9-1.7 13.4-0.8 6.1 3.3-6.7-4-3.1-2.9-5.8-1.8-0.6-2.5M385.4 789l-1.3-2.2 1-3.8-7.2 2.1 1.8-8.2-7.6 7.8 1-1.8 6.4-5.4 4.5-3.5-9.8 3.5 7.5 1.9-6.7 4.1 2.5-8 4.9 3.5-10.8 8.9 16.4-3.4-6.3 9.2-7.2-4.6-1.8-8.7 13.2 1.8-9.1 2.5 2.3 0.4M387.7 786.2l4.5 12-3.7-0.5 0.6-8.6-5.4-7 6.7-1.6-4.3 6.6-0.1 0 2.6 2.1-5.4 7.5 6.7-6.2-1.7 3-5.9-7.4 7.3 4.8-2 1.3-0.1-4.9-10.6 3.3-4.6-4.3 8-0.2 7.7-3.1 4 1.9 7.2 0.3M390.8 780.7l-15.6 5.4 7.9-1.3 9.2 0.4-3.7 3-8 2.4-2.7-0.3 10.4-3.5-4.9 8.9 1.4 1.8 4.2-2.3 7.4-3.8-14-3.2-1.9-6.4 0.1 4.6 5.6 0.8-0.9 0.3-2.3-4.6 1.9 6.5-3.8-0.9 6.5-5.7 1.7 2.9" fill="none" stroke="#b22222" stroke-width="0.6"/>
<path d="M366 805.7V795.5M366 805.7H377.4" fill="none" stroke="#231f20" stroke-width="0.8"/>
<path d="M366 793.7l-1.6 3.2h3.2zM379.2 805.7l-3.2-1.6v3.2z" fill="#231f20"/>
<text x="380.8" y="808.9">LDA 1</text>
<text transform="translate(369.2 793) rotate(-90)">LDA 2</text>
<path d="M407.8 853 405.5 855.8 403.1 857.9 404.5 861.6 399.7 861.1 401.8 867.2 399.5 869.3 396.2 868.9 393 865.4 391 868.2 388.2 870.9 385.9 868.4 384.8 864.9 382.9 863.6 382.2 861.1 378.5 861 379.5 857.6 377.3 855.7 374.2 853 374.4 849.8 377.7 847.6 377.1 844.1 381.9 844.5 380 838.5 382.7 837.1 386.2 838.3 388.1 834.8 391 838.7 394 834.1 395.5 839.4 399.5 836.8 401.5 839.1 404.1 840.9 404.6 844.3 401.8 848.6 403.6 850.5Z" fill="#cfcfcf" opacity="0.9"/><path d="M383.3 839.6l-1 13 6.8 6-7.2-3.4 3.2 8.4 13.3-8.8-3.1-22.2 14.9 12.8-4.1 6.9-7.7-15.1-10.5 0.2-0.1-2.6 3.4 14.3 1.7 3.4 18.7-6.5-14.3 10.9-5.5 14.1-5.4-7.8 16.4-18.7 3.5 6.8-4.7 13.7-9.2 0.6M378.9 860.7l1.5-13 13.2-0.8 3.1-15-15.1 0.8 3 3.3-1.4 10.3 16.1 4.9-6.8 7 1.1-2-4.9-9.1-10.5 8.1 16.6-8.9 1.6 25.1-12.9-14.7-0.7 17.1-6.4-18.6 16.7 12.4-3.6 5.9 0.1-17.4-0.1 6.9 12.8-6.4M380.4 848.4l8.3 4.1-8.8-5.9 16.5 1.1 6.6-11.3-13.7 12.4-9 13.1 1-6.1 14.2-4.4-2.1-10.9-10.4-0.8 6.9 9.2-0.4-6.6 11.3 17.1-4.6-18.6-5.7 8.7 0.6-4.8-6.4-8.7 2.8 8.3-10.9-4.9-0.2 2.5 5.5-4.8M388.2 862.1l-13-16.8-0.7-3.1 0.6-5.7 1.6 11.4 3-6 10.1 6.3-7.5 13-1.5-12.6 7.6-5.5-7.1 16.8 0.6-11.9 5.6 0.9-14.5-2.3 12.1-1.3 6.3-7.2 6.6 3.5-9.3-6.3 8.6 7.5-6.1 7.6-1.4-2 3.3-2.2M381.9 867l0.6-0.6-3 1.3 19.5-17.4-6.4-5.3-2.8-13.8 2.7 22.3 10.1-3.6-1.9 6.4-6.2-3.6 6.5 0.2-4.9 10.8 7.3 0.5-8.9-12.3-10.5-5 5.8-9-6.4-2.3 5.1 4.1 13.7 18.1-4.5-3.2 6-8.5 2.3-8.2M390.3 840.6l-6.2 7-9.8 18.7 1.9-4.5 29.7-6.2-4.2 4.3-5.9-12.1-14.7 4.6 2.8 12.5 4.9 0.9-7.5-8.5 8-5.1 6.4-3.2-4.3 5.4-7.5 17.5 14.9-30.2-5.3-0.5-5.7 7.7 1.5 10.2 7.1 9.3-9.3-8 1.6 1.8M404.5 862.4l-6.6 11.6-5.2 2.9 4.6-13.6 5.7-9.1 1.6-7.4-12.4 1-0.2-6.5 9.3-4.4-6.5 8.3-2.7 13-8.1 6.5 12.5-4.9 13.7-17.3-13.4-8.3-18.6 0.6-3.7 10.9 17.2-1.1-6.1-0.8-2.5-5 26 0.4-5.8 5.4M400.4 845l-4.4 7.8-2.2 4.9 7.3 9.9-2.8-1.4-6.5-9.3 5.7-13.3 6.7-6.1-6.7-0.3-10.2 11.3-12.7 14.8-1.6-0.7 13.1-1.2-10.8-11.4 7.7 8.3-3 4.8-5.8 1.5 6.2 3.1-0.2-6.9 2.5-1.4-5.6-18.3 15.3-2M380.8 856.2l-4.9-4.2 9.7 9.9 8.6-15.3-4.4 8.9-6.7-9.7 0.8 13.2-6.6 4.5 12-10.9-9.7-2.6 2-4.7 4.6 24.4 9.9 3.5-2.9 1.6-6.9-7.7 9 3.8 4.7 0-0.2 4.3-2.6-2.7 8.4-9 3.2-13.1-1.9 8.5M410.3 863.6l-10.4-7.5-11.4-25.9-0.8 0.5-6.4 3.9 8.5 10.6 13.1-0.8-1 1.8 5.1 11.7-15.6 2.3 1.4 12.3 1.8-23.3-10.4 6.3-4.3 5.2 0.7 5.7 19.3-9.9 4.2 8.8-2.6-13.2 3.8-9.1-12.2-1.9-11.3 7.8 11.7-8.2" fill="none" stroke="#c4c4c4" stroke-width="0.6"/><path d="M416.1 851 413.5 853 415 856 412.8 857.1 411.2 858 411.5 861.9 409.4 862 407.5 860.9 406 864.6 404.3 862.3 402.4 862.5 400.2 862.7 400.4 858.5 398.7 857.5 397.9 855.5 398.3 853 397.2 851 395.7 848.3 397.3 846.2 399.6 845.3 399.4 842.2 401 840.9 402.9 841 404.2 838.8 406 840.1 407.9 838.3 409.1 840.9 411.5 840 411.6 843.6 412.1 845.5 413.4 846.9 413 849.1Z" fill="#ff8c00" opacity="0.85"/><path d="M410.5 843.2l3-2.4-5.4 12 1.4 2.6-3.6 0 4.2 5.2-5.2 7.8-1.4-12.5 1.4-8.3 4.1-3.6-4.3-7.2-1.2-0.1 3.9 11.6 0.7 0.8-1.8 6.5-9.6 2.9 5.3-0.6 6.3-2.4-1.8-9.3-3.9-4.2-1.7 9.3 14.2 4M408.4 860.2l-9.4-4.7 3.2-5.8 3.2-3.4 5.6 10.6-0.5-7.9-8.2 8.1 0.2 4.2 4.2-4.8 9.5-7.3-0.8 0.7-2.5 7.3 0.1 6.5 0-12.2-15.7-0.1 6.5 3.2 5.1-8.6 0.3-11-7.9 0.1-1.3 6.2-2.5 17.9 2.6-4M398.5 839.5l-1.3-1.6-3.5 8.3 7.1-8.4 1.7 1.6-2.4 5.5 6.1 18.5 0.9 4.4-1.4-6.7 3.3 4.1-2.5-12.5-2.7-3.1-3.8-9.1 4-3.7 0.6 6.2 0.1 10.4 2.4 0.1 6.8-3.8-10.6-3.3 6-4.9-6 7.2 13.5-2M406.7 852.8l-1.7-5.8 0.3-6.8-1.2 3.7 10.3-5.1-5.9 15.8 3.5 4-5.9 2.8-0.5-2.2-3.2-1.7 3.7 2.4 0.7-3 1.3-3 3.1-5.7 1.5 6.1-4.7-1.6-1.5-1-2.6 9.7 2.7-8.1-10.4 7.9 3.4-1.5 3.8 5.6M399.7 839l-1.6 6.1-3.3 3.9 12.6-0.7-9.8 0.6 0.5 0.7 1.7-4 3.9 8.9-0.2-1.4-5.2 9.4-0.3 0.3 1.7-12.8-2.6 5.4 2.8 8-2.3-2.9 1.6-7.6-2.7-0.2 6.8-0.4-7 2.2 8-13.5 3.9-3.7 0.6 9.1M405.5 851.6l3.1-2.8-0.6 9.9-1.3-5.2-5.7-5.1-3.4-1.5 6.5-10 3.7 1.7 4.7 7.6 4.1 3.7-13 1.9 5.1-9.8-2.8-1.6-1-4.6 2.4 20-6.6-0.7 5.4 10.1-8.2-4.6 7-11.1-4.3-3.1 3.1 14 2.2-5.1M414.4 855.5l-5.8 2.1-0.1-11.7 1.8 0.2-7 8.5 2-8.6 2.2 8.3-12.6-8.7 1.5-5.6-1 8.4 8.8-8.1-1.8 7.4 1.1-4.1 0.8 8.4-2-9.3 7.8 0.3-12.2 5 8 8.2 4.5-2.8-0.6 1.6 6.3 0.1-12.4 4.6" fill="none" stroke="#ff8c00" stroke-width="0.6"/>
<path d="M366 881.9V871.7M366 881.9H377.4" fill="none" stroke="#231f20" stroke-width="0.8"/>
<path d="M366 869.9l-1.6 3.2h3.2zM379.2 881.9l-3.2-1.6v3.2z" fill="#231f20"/>
<text x="380.8" y="885.1">LDA 1</text>
<text transform="translate(369.2 869.2) rotate(-90)">LDA 2</text>
<text x="393.6" y="670.8" text-anchor="middle">Weight for OCT</text>
<g mask="url(#spc44)"><rect x="440.4" y="672.8" width="43.9" height="42.6" filter="url(#sp5cb589_m2_5_40_075)"/></g>
<g mask="url(#spc45)"><rect x="488.2" y="672.8" width="13.8" height="42.6" filter="url(#sp5cb589_m2_3_50_05_10)"/></g>
<g mask="url(#spc46)"><rect x="440.4" y="719.6" width="43.9" height="13.7" filter="url(#sp5cb589_m2_0_60_10_035)"/></g>
<rect x="440.4" y="672.8" width="43.9" height="42.6" fill="none" stroke="#6d6d6d" stroke-width="0.8"/>
<rect x="488.2" y="672.8" width="13.8" height="42.6" fill="none" stroke="#6d6d6d" stroke-width="0.8"/>
<rect x="440.4" y="719.6" width="43.9" height="13.7" fill="none" stroke="#6d6d6d" stroke-width="0.8"/>
<rect x="488.2" y="719.6" width="3.8" height="13.7" fill="url(#lb0)" stroke="#333" stroke-width="0.6"/>
<text x="493.5" y="725.4">0.002</text>
<text x="493.5" y="736.3">0</text>
<g mask="url(#spc47)"><rect x="518.2" y="672.8" width="43.9" height="42.6" filter="url(#sp9b2d9b_m2_05_41_075)"/></g>
<g mask="url(#spc48)"><rect x="565.1" y="672.8" width="13.8" height="42.6" filter="url(#sp9b2d9b_m1_6_51_05_10)"/></g>
<g mask="url(#spc49)"><rect x="518.2" y="719.6" width="43.9" height="13.7" filter="url(#sp9b2d9b_m1_5_61_10_035)"/></g>
<rect x="518.2" y="672.8" width="43.9" height="42.6" fill="none" stroke="#6d6d6d" stroke-width="0.8"/>
<rect x="565.1" y="672.8" width="13.8" height="42.6" fill="none" stroke="#6d6d6d" stroke-width="0.8"/>
<rect x="518.2" y="719.6" width="43.9" height="13.7" fill="none" stroke="#6d6d6d" stroke-width="0.8"/>
<rect x="565.1" y="719.6" width="3.8" height="13.7" fill="url(#lb1)" stroke="#333" stroke-width="0.6"/>
<text x="570.4" y="725.4">0.004</text>
<text x="570.4" y="736.3">0</text>
<g mask="url(#spc50)"><rect x="597.5" y="672.8" width="43.9" height="42.6" filter="url(#sp5aaee0_m2_7_42_075)"/></g><g mask="url(#spc51)"><rect x="597.5" y="672.8" width="43.9" height="42.6" filter="url(#sp5aaee0_m2_2_42_075)"/></g>
<g mask="url(#spc52)"><rect x="644.8" y="672.8" width="13.8" height="42.6" filter="url(#sp5aaee0_m2_2_52_05_10)"/></g>
<g mask="url(#spc53)"><rect x="597.5" y="719.6" width="43.9" height="13.7" filter="url(#sp5aaee0_m1_9_62_10_035)"/></g>
<rect x="597.5" y="672.8" width="43.9" height="42.6" fill="none" stroke="#6d6d6d" stroke-width="0.8"/>
<rect x="644.8" y="672.8" width="13.8" height="42.6" fill="none" stroke="#6d6d6d" stroke-width="0.8"/>
<rect x="597.5" y="719.6" width="43.9" height="13.7" fill="none" stroke="#6d6d6d" stroke-width="0.8"/>
<rect x="644.8" y="719.6" width="3.8" height="13.7" fill="url(#lb2)" stroke="#333" stroke-width="0.6"/>
<text x="650.1" y="725.4">0.0005</text>
<text x="650.1" y="736.3">0</text>
<text x="393.6" y="750.4" text-anchor="middle">Weight for MCH</text>
<g mask="url(#spc54)"><rect x="440.4" y="749.2" width="43.9" height="42.6" filter="url(#sp5cb589_m2_5_43_075)"/></g>
<g mask="url(#spc55)"><rect x="488.2" y="749.2" width="13.8" height="42.6" filter="url(#sp5cb589_m2_3_53_05_10)"/></g>
<g mask="url(#spc56)"><rect x="440.4" y="796" width="43.9" height="13.7" filter="url(#sp5cb589_m2_0_63_10_035)"/></g>
<rect x="440.4" y="749.2" width="43.9" height="42.6" fill="none" stroke="#6d6d6d" stroke-width="0.8"/>
<rect x="488.2" y="749.2" width="13.8" height="42.6" fill="none" stroke="#6d6d6d" stroke-width="0.8"/>
<rect x="440.4" y="796" width="43.9" height="13.7" fill="none" stroke="#6d6d6d" stroke-width="0.8"/>
<rect x="488.2" y="796" width="3.8" height="13.7" fill="url(#lb0)" stroke="#333" stroke-width="0.6"/>
<text x="493.5" y="801.8">0.002</text>
<text x="493.5" y="812.7">0</text>
<g mask="url(#spc57)"><rect x="518.2" y="749.2" width="43.9" height="42.6" filter="url(#sp9b2d9b_m2_05_44_075)"/></g>
<g mask="url(#spc58)"><rect x="565.1" y="749.2" width="13.8" height="42.6" filter="url(#sp9b2d9b_m1_6_54_05_10)"/></g>
<g mask="url(#spc59)"><rect x="518.2" y="796" width="43.9" height="13.7" filter="url(#sp9b2d9b_m1_5_64_10_035)"/></g>
<rect x="518.2" y="749.2" width="43.9" height="42.6" fill="none" stroke="#6d6d6d" stroke-width="0.8"/>
<rect x="565.1" y="749.2" width="13.8" height="42.6" fill="none" stroke="#6d6d6d" stroke-width="0.8"/>
<rect x="518.2" y="796" width="43.9" height="13.7" fill="none" stroke="#6d6d6d" stroke-width="0.8"/>
<rect x="565.1" y="796" width="3.8" height="13.7" fill="url(#lb1)" stroke="#333" stroke-width="0.6"/>
<text x="570.4" y="801.8">0.006</text>
<text x="570.4" y="812.7">0</text>
<g mask="url(#spc60)"><rect x="597.5" y="749.2" width="43.9" height="42.6" filter="url(#sp5aaee0_m2_7_45_075)"/></g><g mask="url(#spc61)"><rect x="597.5" y="749.2" width="43.9" height="42.6" filter="url(#sp5aaee0_m2_2_45_075)"/></g>
<g mask="url(#spc62)"><rect x="644.8" y="749.2" width="13.8" height="42.6" filter="url(#sp5aaee0_m2_2_55_05_10)"/></g>
<g mask="url(#spc63)"><rect x="597.5" y="796" width="43.9" height="13.7" filter="url(#sp5aaee0_m1_9_65_10_035)"/></g>
<rect x="597.5" y="749.2" width="43.9" height="42.6" fill="none" stroke="#6d6d6d" stroke-width="0.8"/>
<rect x="644.8" y="749.2" width="13.8" height="42.6" fill="none" stroke="#6d6d6d" stroke-width="0.8"/>
<rect x="597.5" y="796" width="43.9" height="13.7" fill="none" stroke="#6d6d6d" stroke-width="0.8"/>
<rect x="644.8" y="796" width="3.8" height="13.7" fill="url(#lb2)" stroke="#333" stroke-width="0.6"/>
<text x="650.1" y="801.8">0.0005</text>
<text x="650.1" y="812.7">0</text>
<text x="393.6" y="828.6" text-anchor="middle">Weight for EA</text>
<g mask="url(#spc64)"><rect x="440.4" y="828.5" width="43.9" height="42.6" filter="url(#sp5cb589_m2_3_46_075)"/></g><g mask="url(#spc65)"><rect x="440.4" y="828.5" width="43.9" height="42.6" filter="url(#sp5cb589_m2_9_46_075)"/></g>
<g mask="url(#spc66)"><rect x="488.2" y="828.5" width="13.8" height="42.6" filter="url(#sp5cb589_m2_3_56_05_10)"/></g>
<g mask="url(#spc67)"><rect x="440.4" y="875.3" width="43.9" height="13.7" filter="url(#sp5cb589_m2_0_66_10_035)"/></g>
<rect x="440.4" y="828.5" width="43.9" height="42.6" fill="none" stroke="#6d6d6d" stroke-width="0.8"/>
<rect x="488.2" y="828.5" width="13.8" height="42.6" fill="none" stroke="#6d6d6d" stroke-width="0.8"/>
<rect x="440.4" y="875.3" width="43.9" height="13.7" fill="none" stroke="#6d6d6d" stroke-width="0.8"/>
<rect x="488.2" y="875.3" width="3.8" height="13.7" fill="url(#lb0)" stroke="#333" stroke-width="0.6"/>
<text x="493.5" y="881.1">0.002</text>
<text x="493.5" y="892">0</text>
<g mask="url(#spc68)"><rect x="518.2" y="828.5" width="43.9" height="42.6" filter="url(#sp9b2d9b_m2_05_47_075)"/></g>
<g mask="url(#spc69)"><rect x="565.1" y="828.5" width="13.8" height="42.6" filter="url(#sp9b2d9b_m1_6_57_05_10)"/></g>
<g mask="url(#spc70)"><rect x="518.2" y="875.3" width="43.9" height="13.7" filter="url(#sp9b2d9b_m1_5_67_10_035)"/></g>
<rect x="518.2" y="828.5" width="43.9" height="42.6" fill="none" stroke="#6d6d6d" stroke-width="0.8"/>
<rect x="565.1" y="828.5" width="13.8" height="42.6" fill="none" stroke="#6d6d6d" stroke-width="0.8"/>
<rect x="518.2" y="875.3" width="43.9" height="13.7" fill="none" stroke="#6d6d6d" stroke-width="0.8"/>
<rect x="565.1" y="875.3" width="3.8" height="13.7" fill="url(#lb1)" stroke="#333" stroke-width="0.6"/>
<text x="570.4" y="881.1">0.006</text>
<text x="570.4" y="892">0</text>
<g mask="url(#spc71)"><rect x="597.5" y="828.5" width="43.9" height="42.6" filter="url(#sp5aaee0_m2_7_48_075)"/></g><g mask="url(#spc72)"><rect x="597.5" y="828.5" width="43.9" height="42.6" filter="url(#sp5aaee0_m2_2_48_075)"/></g>
<g mask="url(#spc73)"><rect x="644.8" y="828.5" width="13.8" height="42.6" filter="url(#sp5aaee0_m2_2_58_05_10)"/></g>
<g mask="url(#spc74)"><rect x="597.5" y="875.3" width="43.9" height="13.7" filter="url(#sp5aaee0_m1_9_68_10_035)"/></g>
<rect x="597.5" y="828.5" width="43.9" height="42.6" fill="none" stroke="#6d6d6d" stroke-width="0.8"/>
<rect x="644.8" y="828.5" width="13.8" height="42.6" fill="none" stroke="#6d6d6d" stroke-width="0.8"/>
<rect x="597.5" y="875.3" width="43.9" height="13.7" fill="none" stroke="#6d6d6d" stroke-width="0.8"/>
<rect x="644.8" y="875.3" width="3.8" height="13.7" fill="url(#lb2)" stroke="#333" stroke-width="0.6"/>
<text x="650.1" y="881.1">0.0005</text>
<text x="650.1" y="892">0</text>
<text x="442.8" y="706.2" font-size="7.6">y</text><text x="449" y="713.1" font-size="7.6">x</text><path d="M443.6 709.4V713.2H446.4" fill="none" stroke="#231f20" stroke-width="0.7"/>
<text x="490.3" y="706.2" font-size="7.6">y</text><text x="496.5" y="713.1" font-size="7.6">z</text><path d="M491.1 709.4V713.2H493.9" fill="none" stroke="#231f20" stroke-width="0.7"/>
<text x="442.8" y="724.2" font-size="7.6">z</text><text x="449" y="731.1" font-size="7.6">x</text><path d="M443.6 727.4V731.2H446.4" fill="none" stroke="#231f20" stroke-width="0.7"/>
<line x1="473.5" y1="713.8" x2="480.5" y2="713.8" stroke="#231f20" stroke-width="0.8"/>
<line x1="342" y1="897.6" x2="353.5" y2="897.6" stroke="#4169e1" stroke-width="1.2"/>
<text x="356.6" y="900.8">OCT</text>
<line x1="381.4" y1="897.6" x2="392.9" y2="897.6" stroke="#b22222" stroke-width="1.2"/>
<text x="396" y="900.8">MCH</text>
<line x1="427.4" y1="897.6" x2="438.9" y2="897.6" stroke="#ff8c00" stroke-width="1.2"/>
<text x="442" y="900.8">EA</text>
</svg></body></html>
